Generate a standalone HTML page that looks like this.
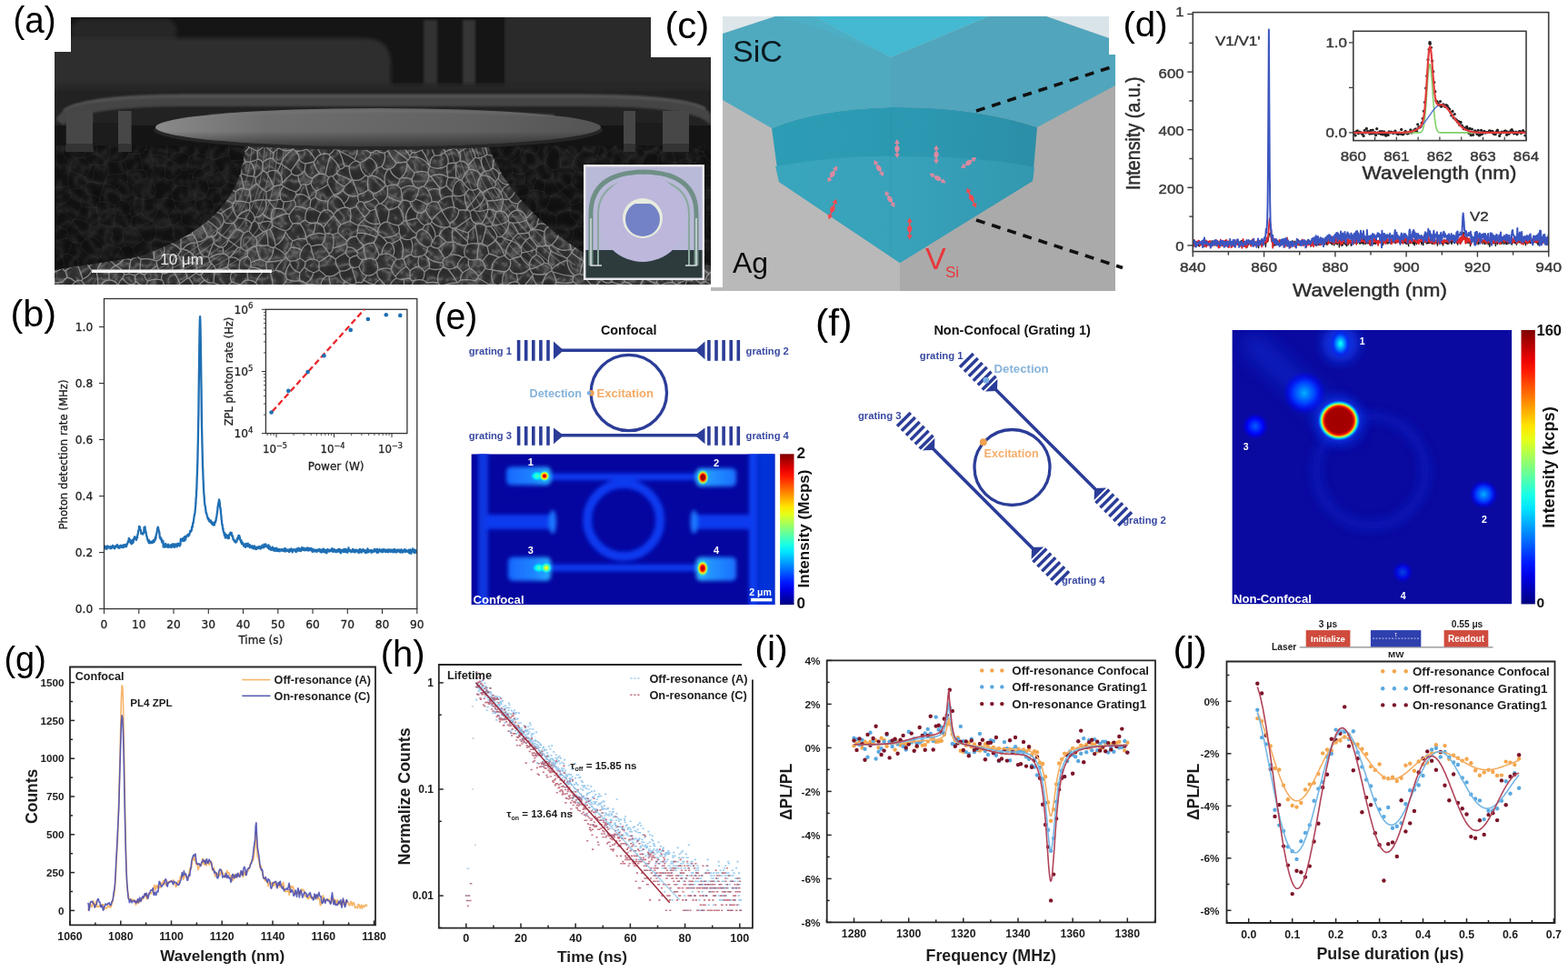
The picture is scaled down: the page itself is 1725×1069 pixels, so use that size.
<!DOCTYPE html>
<html><head><meta charset="utf-8"><title>Figure</title>
<style>html,body{margin:0;padding:0;background:#fff;} svg{display:block;}</style></head>
<body><svg width="1725" height="1069" viewBox="0 0 1725 1069">
<rect width="1725" height="1069" fill="#fff"/>
<defs>
<clipPath id="clipA"><path d="M78,19 H716 V63 H782 V313 H60 V57 H78 Z"/></clipPath>
<filter id="semTex" x="0" y="0" width="1" height="1" color-interpolation-filters="sRGB">
  <feTurbulence type="turbulence" baseFrequency="0.07 0.065" numOctaves="2" seed="7" result="t"/>
  <feColorMatrix in="t" type="matrix" values="1 0 0 0 0  1 0 0 0 0  1 0 0 0 0  0 0 0 0 1" result="g"/>
  <feComponentTransfer in="g" result="c">
    <feFuncR type="table" tableValues="0.40 0.32 0.25 0.21 0.19 0.18 0.17 0.17 0.16 0.16 0.16 0.16"/>
    <feFuncG type="table" tableValues="0.40 0.32 0.25 0.21 0.19 0.18 0.17 0.17 0.16 0.16 0.16 0.16"/>
    <feFuncB type="table" tableValues="0.40 0.32 0.25 0.21 0.19 0.18 0.17 0.17 0.16 0.16 0.16 0.16"/>
  </feComponentTransfer>
  <feGaussianBlur in="c" stdDeviation="0.6" result="b"/>
  <feComposite in="b" in2="SourceGraphic" operator="in"/>
</filter>
<filter id="semTex2" x="0" y="0" width="1" height="1" color-interpolation-filters="sRGB">
  <feTurbulence type="turbulence" baseFrequency="0.06" numOctaves="2" seed="11" result="t"/>
  <feColorMatrix in="t" type="matrix" values="1 0 0 0 0  1 0 0 0 0  1 0 0 0 0  0 0 0 0 1" result="g"/>
  <feComponentTransfer in="g" result="c">
    <feFuncR type="table" tableValues="0.16 0.11 0.08 0.068 0.063 0.06 0.06 0.06"/>
    <feFuncG type="table" tableValues="0.16 0.11 0.08 0.068 0.063 0.06 0.06 0.06"/>
    <feFuncB type="table" tableValues="0.16 0.11 0.08 0.068 0.063 0.06 0.06 0.06"/>
  </feComponentTransfer>
  <feGaussianBlur in="c" stdDeviation="0.8" result="b"/>
  <feComposite in="b" in2="SourceGraphic" operator="in"/>
</filter>
<filter id="blur2"><feGaussianBlur stdDeviation="2"/></filter>
<filter id="blur4"><feGaussianBlur stdDeviation="4"/></filter>
<filter id="blur1"><feGaussianBlur stdDeviation="1"/></filter>
<filter id="blurV" x="-5%" y="-5%" width="110%" height="110%"><feGaussianBlur stdDeviation="0.65"/></filter>
<linearGradient id="diskG" x1="0" y1="0" x2="1" y2="0">
  <stop offset="0" stop-color="#8a8a8a"/><stop offset="0.25" stop-color="#6e6e6e"/>
  <stop offset="0.7" stop-color="#626262"/><stop offset="1" stop-color="#545454"/>
</linearGradient>
<linearGradient id="diskV" x1="0" y1="0" x2="0" y2="1">
  <stop offset="0" stop-color="#000" stop-opacity="0"/><stop offset="0.6" stop-color="#000" stop-opacity="0"/>
  <stop offset="1" stop-color="#000" stop-opacity="0.45"/>
</linearGradient>
<linearGradient id="ringG" x1="0" y1="0" x2="0" y2="1">
  <stop offset="0" stop-color="#333"/><stop offset="0.5" stop-color="#484848"/><stop offset="1" stop-color="#3a3a3a"/>
</linearGradient>

</defs>
<g clip-path="url(#clipA)">
<rect x="60" y="19" width="722" height="294" fill="#161616"/>
<rect x="60" y="19" width="722" height="90" fill="#151515"/>
<rect x="79" y="21" width="115" height="34" rx="12" fill="#282828" filter="url(#blur2)"/>
<path d="M50,42 L400,42 Q430,42 430,70 L430,100 L50,100 Z" fill="#2d2d2d" filter="url(#blur2)"/>
<rect x="555" y="15" width="235" height="92" fill="#2a2a2a" filter="url(#blur1)"/>
<rect x="466" y="22" width="15" height="75" fill="#333" filter="url(#blur1)"/>
<rect x="509" y="22" width="14" height="78" fill="#363636" filter="url(#blur1)"/>
<rect x="60" y="92" width="722" height="14" fill="#262626" filter="url(#blur2)"/>
<rect x="60" y="100" width="722" height="40" fill="#222"/>
<path d="M62,132 Q68,104 200,103 L640,103 Q774,104 782,126 L782,138 Q768,117 640,117 L200,117 Q84,118 70,138 Z" fill="#444" filter="url(#blur1)"/>
<path d="M70,122 Q84,107 200,106 L640,106 Q760,107 776,120" fill="none" stroke="#565656" stroke-width="2.5" filter="url(#blur1)"/>
<rect x="60" y="138" width="722" height="176" fill="#141414"/>
<rect x="60" y="160" width="722" height="153" fill="#fff" filter="url(#semTex2)"/>
<clipPath id="pedClip"><path d="M270,160 L537,160 C555,210 600,252 645,280 L782,292 L782,313 L60,313 L60,297 L150,283 C235,255 266,215 270,160 Z"/></clipPath>
<g clip-path="url(#pedClip)"><rect x="60" y="160" width="722" height="153" fill="#fff" filter="url(#semTex)"/>
<path d="M60,311Q56,313 56,318M60,311Q60,305 58,300M69,310Q65,311 60,311M69,256Q65,254 60,252M69,256Q70,263 69,269M60,252Q59,258 55,262M55,262Q58,266 57,270M69,269Q63,271 57,270M69,295Q70,298 72,298M69,295Q64,298 58,300M69,310Q71,307 74,305M72,298Q73,301 74,305M56,274Q60,277 60,282M73,270Q70,277 73,283M73,270Q71,269 69,269M73,283Q72,285 69,287M69,287Q64,285 60,282M57,270Q56,272 56,274M69,295Q70,291 69,287M60,252Q59,249 59,245M72,256Q74,252 78,250M72,256Q74,264 81,266M78,250Q83,251 88,252M81,266Q82,266 83,266M83,266Q86,262 89,258M89,258Q88,255 88,252M69,256Q71,256 72,256M72,240Q66,243 59,245M72,240Q73,246 78,250M73,270Q76,266 81,266M72,240Q74,238 75,237M75,237Q81,238 87,239M88,252Q88,249 90,247M90,247Q87,244 87,239M96,246Q93,246 90,247M96,246Q98,239 101,232M87,239Q91,236 92,230M101,232Q97,231 92,230M101,232Q104,230 108,230M94,215Q90,219 87,223M94,215Q101,217 108,218M87,223Q91,226 92,230M108,230Q106,224 108,218M107,249Q109,248 110,247M107,249Q101,247 96,246M108,230Q110,231 111,233M110,247Q113,240 111,233M107,249Q107,252 106,255M89,258Q95,258 100,262M100,262Q102,257 106,255M787,290Q787,294 785,298M782,280Q783,286 787,290M782,280Q782,280 783,279M649,148Q645,147 642,149M524,246Q519,244 518,239M524,246Q527,246 530,246M518,239Q518,236 517,233M517,233Q518,233 519,231M519,231Q529,234 537,230M537,230Q535,239 530,246M74,305Q79,306 83,310M79,319Q78,313 83,310M98,321Q98,321 97,321M199,154Q200,154 201,155M211,152Q206,153 201,155M63,157Q67,150 75,150M63,157Q57,154 56,148M181,146Q174,151 171,159M166,155Q170,156 171,159M199,154Q195,155 191,157M191,157Q183,154 181,146M191,157Q189,161 187,164M187,164Q180,162 175,168M175,168Q172,164 171,159M155,155Q160,159 166,155M155,155Q154,154 152,153M151,150Q151,152 152,153M155,155Q157,161 156,167M175,168Q175,168 175,168M175,168Q169,171 164,172M156,167Q161,168 164,172M178,180Q184,184 191,181M178,180Q175,182 176,185M191,181Q192,185 191,189M191,189Q186,192 179,193M179,193Q178,188 176,185M91,207Q88,207 87,204M91,207Q94,211 94,215M87,204Q84,206 81,205M87,223Q84,222 81,222M81,205Q76,214 81,222M75,237Q75,231 74,225M81,222Q78,225 74,225M125,216Q125,216 125,216M125,216Q127,221 132,223M125,216Q126,225 121,233M132,223Q134,227 135,231M135,231Q130,233 124,234M124,234Q122,234 121,233M136,206Q133,205 131,207M136,206Q138,208 141,209M131,207Q127,211 125,216M141,209Q143,213 141,217M141,217Q137,221 132,223M108,217Q117,215 125,216M108,217Q108,217 108,218M111,233Q116,233 121,233M140,232Q141,230 143,227M140,232Q138,231 135,231M141,217Q142,222 143,227M143,244Q134,245 126,244M143,244Q142,242 143,239M126,244Q127,239 124,234M143,239Q142,235 140,232M126,244Q126,249 122,251M122,251Q115,251 110,247M83,266Q85,271 88,275M100,262Q101,265 102,268M102,268Q97,276 88,275M73,283Q81,287 89,283M88,275Q89,279 89,283M122,251Q121,256 125,259M106,255Q108,259 113,261M113,261Q119,263 125,259M782,280Q778,287 770,289M785,298Q782,299 780,301M780,301Q773,297 770,289M780,301Q776,305 776,310M785,317Q782,312 776,310M784,225Q786,234 787,244M690,192Q693,189 698,189M690,192Q683,185 685,176M698,189Q701,184 699,180M699,180Q691,181 686,175M685,176Q686,176 686,175M689,193Q688,200 693,205M689,193Q689,192 690,192M693,205Q699,201 707,202M698,189Q704,189 709,192M709,192Q707,197 707,202M265,149Q261,149 258,152M258,152Q255,152 251,151M243,150Q243,149 242,148M243,150Q246,150 248,151M251,151Q250,152 248,151M143,244Q144,245 144,246M125,259Q126,261 127,262M127,262Q129,260 131,259M144,246Q141,256 131,259M128,267Q127,264 127,262M128,267Q131,267 132,270M132,270Q139,268 145,270M145,270Q145,265 148,262M131,259Q139,262 148,262M656,192Q655,186 657,180M656,192Q650,195 644,195M644,195Q642,188 637,182M637,182Q637,182 637,182M657,180Q647,179 637,182M698,323Q699,322 699,321M693,205Q693,207 691,209M691,209Q692,215 697,220M707,202Q709,207 713,210M713,210Q713,210 713,211M713,211Q707,216 701,221M697,220Q699,220 701,221M559,243Q551,248 541,248M559,243Q560,243 560,244M560,244Q560,254 552,260M541,248Q541,249 540,249M540,249Q545,254 547,260M552,260Q550,261 547,260M559,239Q560,241 559,243M559,239Q562,232 569,231M569,231Q577,232 579,240M579,240Q579,241 579,242M563,245Q571,246 579,242M563,245Q561,245 560,244M563,265Q565,260 570,257M563,265Q557,264 552,260M563,245Q568,250 570,257M563,265Q563,265 563,265M545,264Q547,262 547,260M545,264Q552,272 555,281M555,281Q555,281 556,282M563,265Q556,272 556,282M537,230Q537,230 537,230M535,249Q537,249 540,249M535,249Q533,247 530,246M541,248Q544,241 546,233M537,230Q542,230 546,233M559,239Q557,233 551,232M551,232Q549,232 546,233M280,148Q278,153 272,154M280,148Q287,148 292,154M283,166Q278,164 274,162M283,166Q288,164 291,159M272,154Q271,158 274,162M292,154Q290,156 291,159M265,149Q268,152 272,154M298,149Q294,150 292,154M300,174Q301,171 301,168M300,174Q293,174 289,179M289,179Q288,176 284,175M284,175Q283,170 283,166M301,168Q295,165 291,159M266,168Q268,173 270,178M266,168Q263,167 260,167M260,167Q258,168 257,168M257,168Q254,175 257,181M257,181Q260,185 265,185M265,185Q266,181 270,178M284,175Q280,177 275,178M275,178Q273,178 270,178M274,162Q271,167 266,168M258,152Q263,159 260,167M250,167Q253,168 257,168M250,167Q247,160 248,151M244,170Q247,170 250,167M244,170Q240,175 239,180M239,180Q242,182 245,186M245,186Q251,183 257,181M57,206Q62,200 68,194M68,194Q68,193 68,193M89,196Q84,193 81,189M89,196Q86,199 87,204M74,204Q78,205 81,205M74,204Q71,199 68,194M68,193Q69,191 72,189M81,189Q76,189 72,189M132,270Q131,278 136,285M145,270Q150,273 151,280M151,280Q151,281 151,282M151,282Q147,283 144,286M136,285Q140,284 144,286M111,314Q114,308 120,308M111,314Q110,314 108,314M107,298Q114,296 120,301M107,298Q107,298 106,298M120,308Q120,304 120,301M106,298Q108,306 108,314M83,310Q86,307 90,309M98,321Q98,319 98,317M90,309Q93,314 98,317M98,317Q103,316 108,314M192,282Q195,282 196,280M192,282Q189,289 190,297M196,280Q198,286 203,291M190,297Q190,298 190,298M190,298Q195,297 201,297M201,297Q202,294 203,291M172,287Q177,286 179,281M172,287Q172,290 173,292M179,281Q186,278 192,282M179,301Q174,298 173,292M179,301Q185,301 190,297M229,236Q224,234 220,230M229,236Q228,239 227,242M227,242Q225,245 221,246M217,232Q218,231 220,230M217,232Q216,240 210,245M221,246Q216,245 211,247M210,245Q210,246 211,247M236,231Q236,226 236,221M236,231Q232,232 229,236M219,224Q219,227 220,230M219,224Q223,219 229,218M229,218Q233,218 236,221M239,255Q239,253 240,252M239,255Q238,260 233,260M240,252Q234,246 227,242M233,260Q231,261 228,260M228,260Q226,253 221,246M228,260Q224,266 217,266M211,247Q211,252 212,258M212,258Q215,261 217,266M202,242Q199,245 196,246M202,242Q205,246 210,245M196,246Q194,250 194,255M212,258Q205,259 199,262M194,255Q195,260 199,262M201,274Q200,274 199,274M201,274Q207,266 217,267M217,267Q217,266 217,266M199,262Q199,268 199,274M238,162Q238,159 238,156M238,162Q228,162 221,168M238,156Q231,157 226,154M226,154Q222,157 220,162M220,162Q219,164 220,167M221,168Q221,168 220,167M244,170Q242,165 238,162M243,150Q240,152 238,156M233,181Q236,180 239,180M233,181Q230,172 221,168M225,147Q227,150 226,154M211,152Q217,156 220,162M109,150Q102,151 98,157M98,157Q95,154 92,154M92,149Q91,151 92,154M75,150Q80,152 84,156M84,156Q88,155 92,154M109,150Q112,149 115,151M105,194Q110,193 113,189M105,194Q103,198 105,201M113,189Q117,196 123,201M105,201Q108,203 109,207M109,207Q117,205 123,201M123,201Q123,201 123,201M89,196Q94,195 97,191M91,207Q98,204 105,201M97,191Q100,193 105,194M108,217Q110,212 109,207M131,207Q126,205 123,201M136,206Q140,199 141,190M128,188Q135,190 141,190M128,188Q126,194 123,201M128,188Q123,184 120,179M113,189Q113,188 114,187M114,187Q116,183 120,179M175,168Q175,174 178,180M164,172Q161,178 160,183M176,185Q168,185 160,187M160,183Q161,185 160,187M187,164Q190,170 195,173M191,181Q193,179 195,177M195,173Q196,175 195,177M201,155Q204,160 205,165M195,173Q198,167 205,165M220,167Q217,168 215,170M205,165Q211,165 215,170M73,224Q68,221 67,216M67,216Q65,216 63,215M60,217Q61,215 63,215M74,204Q70,209 67,216M74,225Q73,225 73,224M57,206Q63,209 63,215M141,190Q141,190 141,190M141,209Q147,208 153,210M141,190Q147,188 152,192M153,210Q155,201 152,192M143,227Q150,227 155,222M153,210Q153,210 154,211M155,222Q155,216 154,211M108,272Q106,279 99,283M108,272Q108,272 108,272M108,272Q114,272 118,277M99,283Q106,284 111,289M111,289Q115,286 119,283M119,283Q117,280 118,277M102,268Q105,270 108,272M113,261Q110,266 108,272M128,267Q124,272 118,277M127,292Q121,295 120,301M127,292Q122,288 119,283M107,298Q108,293 111,289M127,292Q127,292 127,292M127,292Q133,290 136,285M730,154Q725,151 719,154M719,146Q721,150 719,154M756,155Q760,154 764,151M756,155Q755,156 754,155M751,156Q752,155 754,155M774,152Q769,150 764,151M774,152Q774,154 775,155M756,155Q761,158 763,163M763,163Q765,164 768,165M768,165Q771,163 775,165M775,155Q774,160 775,165M763,163Q759,170 755,178M768,165Q760,170 762,180M755,178Q757,179 759,180M759,180Q760,180 762,180M709,192Q709,191 709,191M713,210Q719,208 724,205M724,205Q721,199 721,193M721,193Q715,192 709,191M706,173Q703,177 699,180M706,173Q710,177 711,182M711,182Q710,186 709,191M725,189Q725,184 725,180M725,189Q723,191 721,193M711,182Q718,182 724,179M724,179Q725,179 725,180M755,178Q750,184 742,185M755,178Q749,172 745,164M742,185Q736,183 735,177M735,177Q734,171 738,166M745,164Q741,164 738,166M750,198Q752,195 756,194M750,198Q746,194 742,189M742,189Q742,187 742,185M755,178Q755,178 755,178M756,194Q754,186 759,180M751,156Q749,161 745,164M735,193Q731,190 725,189M735,193Q738,190 742,189M725,180Q730,178 735,177M720,167Q727,167 733,163M720,167Q724,173 724,179M733,163Q736,163 738,166M730,154Q734,158 733,163M784,225Q783,224 782,224M780,244Q783,242 787,244M780,244Q774,241 771,235M782,224Q775,228 771,235M765,208Q763,211 761,211M765,208Q771,207 775,210M761,211Q761,217 765,222M765,222Q772,225 777,221M775,210Q773,216 777,221M750,198Q750,199 750,199M756,194Q762,195 768,196M768,196Q766,202 765,208M750,199Q751,206 756,210M756,210Q759,210 761,211M783,204Q779,206 775,210M782,224Q780,222 777,221M756,256Q758,254 760,254M756,256Q755,264 759,271M760,254Q766,258 772,261M762,275Q760,273 759,271M762,275Q769,273 773,267M772,261Q773,262 774,264M773,267Q773,266 774,264M746,266Q747,262 746,257M746,266Q752,268 759,271M748,256Q747,257 746,257M748,256Q752,258 756,256M777,248Q772,254 772,261M777,248Q769,247 762,244M762,244Q760,249 760,254M784,261Q779,262 774,264M780,244Q778,246 777,248M783,279Q775,276 773,267M706,169Q700,167 694,165M706,169Q711,168 713,164M707,152Q699,150 693,155M707,152Q711,154 713,159M694,165Q691,161 693,155M713,164Q714,161 713,159M706,173Q706,171 706,169M687,172Q687,173 686,175M687,172Q691,169 694,165M720,167Q717,165 713,164M688,150Q689,153 693,155M688,150Q688,147 689,145M719,154Q716,157 713,159M643,161Q646,166 652,167M643,161Q637,167 630,173M652,167Q648,178 637,181M637,181Q634,178 631,176M630,173Q631,174 631,176M644,195Q644,197 643,198M637,182Q633,189 627,193M643,198Q642,199 641,200M641,200Q634,199 627,202M627,193Q626,198 627,202M240,252Q245,250 246,244M236,231Q239,234 243,235M246,244Q247,239 243,235M239,255Q245,260 251,263M257,245Q251,247 246,244M257,245Q259,249 260,252M260,252Q255,257 251,263M235,267Q236,263 233,260M235,267Q239,272 245,272M251,263Q251,264 251,264M245,272Q250,270 251,264M255,207Q253,201 258,196M255,207Q249,208 244,207M244,207Q243,206 242,205M242,205Q244,198 246,190M258,196Q251,196 246,190M246,190Q246,190 246,190M226,201Q225,202 224,205M226,201Q234,205 242,205M224,205Q224,212 229,218M241,217Q239,219 236,221M241,217Q241,212 244,207M226,199Q236,194 246,190M226,199Q226,200 226,201M233,181Q231,184 229,186M229,186Q229,192 226,197M226,199Q227,198 226,197M245,186Q245,188 246,190M282,202Q280,198 282,195M282,202Q278,205 274,208M266,191Q265,191 265,193M266,191Q272,194 279,194M265,193Q267,200 268,207M274,208Q271,209 268,207M279,194Q280,195 282,195M265,185Q266,188 266,191M258,196Q261,193 265,193M275,178Q282,185 279,194M259,211Q263,207 268,207M259,211Q256,210 255,207M289,179Q289,184 289,188M289,188Q286,192 282,195M370,321Q370,321 369,321M366,273Q374,271 381,268M366,273Q368,265 366,258M366,258Q369,257 372,256M372,256Q377,261 382,265M382,265Q381,266 381,268M195,194Q201,196 206,192M195,194Q197,202 190,208M206,192Q207,200 211,207M190,208Q190,208 190,208M190,208Q197,210 204,209M204,209Q207,208 211,207M127,292Q134,295 137,302M144,286Q142,293 142,301M142,301Q140,302 137,302M511,151Q512,148 511,145M511,151Q514,156 519,159M527,155Q523,157 519,159M462,150Q469,153 469,160M469,160Q472,161 474,161M479,157Q476,158 474,161M500,158Q495,154 492,149M500,158Q499,160 500,163M500,163Q495,164 490,167M490,167Q486,162 484,156M492,149Q489,154 484,156M511,151Q506,155 500,158M479,157Q481,156 484,156M523,173Q522,167 518,161M523,173Q519,177 515,182M518,161Q511,163 505,168M515,182Q512,177 506,177M506,177Q508,172 505,168M519,159Q518,160 518,161M500,163Q503,165 505,168M516,186Q511,191 508,198M516,186Q515,184 515,182M502,196Q501,188 502,179M502,196Q504,196 505,198M508,198Q507,198 505,198M502,179Q504,178 506,177M567,169Q573,165 580,166M567,169Q567,164 564,162M564,162Q564,161 565,160M565,160Q574,159 581,156M581,156Q582,161 580,166M673,195Q681,195 689,193M673,195Q674,192 672,189M685,176Q682,177 679,178M672,189Q675,182 679,178M652,167Q653,167 654,167M657,180Q660,179 661,175M637,182Q637,181 637,181M661,175Q660,174 661,173M654,167Q659,168 661,173M643,161Q640,157 641,151M649,148Q654,151 659,153M641,151Q641,150 642,149M654,167Q658,160 659,153M659,153Q661,152 663,151M639,318Q640,318 641,318M630,309Q635,313 639,318M630,309Q630,311 627,311M700,318Q700,320 699,321M700,318Q695,311 687,310M687,310Q685,311 683,313M671,311Q672,310 673,310M683,313Q678,312 673,310M687,310Q687,306 688,303M688,303Q684,303 680,301M673,310Q672,305 676,301M676,301Q678,302 680,301M691,285Q688,285 685,286M691,285Q690,283 691,281M691,281Q688,276 684,273M685,286Q680,289 675,286M684,273Q678,277 671,275M671,275Q673,281 675,286M701,260Q699,263 700,266M701,260Q698,261 696,259M700,266Q692,271 691,281M684,264Q689,260 696,259M684,264Q686,268 684,273M621,210Q627,219 638,219M621,210Q622,220 616,229M638,219Q637,226 632,230M616,229Q618,231 621,231M621,231Q626,230 630,232M632,230Q631,231 630,232M545,264Q542,268 536,271M535,249Q533,259 530,268M536,271Q533,270 530,268M523,249Q523,247 524,246M523,249Q525,258 526,268M526,268Q527,268 527,268M530,268Q528,268 527,268M534,295Q533,291 531,287M534,295Q537,297 541,296M541,296Q541,287 549,283M531,287Q534,282 538,279M549,283Q543,280 538,279M560,295Q563,291 561,286M560,295Q559,298 555,299M555,281Q552,282 549,283M556,282Q558,284 561,286M555,299Q549,298 542,297M542,297Q541,297 541,296M525,285Q525,276 527,268M525,285Q528,285 531,287M536,271Q537,275 538,279M557,314Q555,314 553,312M553,312Q550,312 548,314M555,299Q552,305 553,312M542,297Q539,305 543,312M543,312Q546,313 548,314M570,257Q576,257 582,256M579,242Q581,247 584,252M582,256Q582,254 584,253M584,252Q584,253 584,253M569,231Q569,227 570,224M579,240Q583,237 586,233M570,224Q573,219 579,219M579,219Q582,221 585,223M586,233Q583,228 585,223M599,217Q593,215 591,209M599,217Q599,218 599,218M599,218Q598,219 597,220M579,219Q580,215 579,212M591,209Q584,209 579,212M585,223Q592,223 597,220M551,232Q553,226 554,219M570,224Q563,224 560,219M554,219Q557,220 560,219M516,186Q524,186 529,192M508,198Q511,204 516,208M516,208Q521,211 526,207M529,192Q529,193 529,193M529,193Q524,200 526,207M514,229Q511,222 511,214M514,229Q522,220 529,210M516,208Q513,211 511,214M529,210Q528,209 526,207M533,188Q538,189 542,185M533,188Q528,181 530,173M542,185Q542,180 544,174M530,173Q533,172 536,170M536,170Q539,171 542,171M542,171Q543,172 544,174M529,192Q531,190 533,188M523,173Q526,175 530,173M530,156Q535,162 536,170M530,156Q528,156 527,155M543,312Q541,313 538,313M307,163Q306,159 303,155M307,163Q314,168 322,164M303,155Q310,157 317,154M322,164Q322,162 322,160M322,160Q321,156 317,154M301,168Q303,165 307,163M298,149Q299,154 303,155M300,174Q303,180 309,180M322,164Q322,164 323,164M323,164Q313,170 309,180M289,188Q291,188 293,190M293,190Q298,186 305,188M305,188Q308,184 309,180M309,180Q309,180 309,180M81,189Q85,184 88,178M72,189Q73,186 72,182M72,182Q80,178 88,178M71,171Q69,174 71,178M71,171Q65,171 60,166M60,166Q60,167 59,167M72,182Q72,180 71,178M63,157Q59,161 60,166M84,156Q80,161 80,167M80,167Q75,168 71,171M101,298Q98,304 91,307M101,298Q96,292 94,285M91,307Q89,300 86,293M86,293Q89,289 90,284M90,284Q92,285 94,285M106,298Q104,297 101,298M90,309Q90,308 91,307M99,283Q97,285 94,285M72,298Q78,292 86,293M89,283Q90,283 90,284M179,268Q183,269 187,267M179,268Q177,267 176,265M176,265Q176,261 178,257M187,267Q186,261 191,257M178,257Q185,257 191,257M179,281Q183,275 179,268M196,280Q198,278 199,275M199,275Q194,269 187,267M194,255Q192,255 191,257M199,275Q199,275 199,274M185,242Q191,241 196,246M185,242Q181,247 176,250M176,250Q175,255 178,257M172,287Q171,287 169,286M169,286Q171,278 166,272M176,265Q174,265 171,265M166,272Q170,270 171,265M155,285Q162,284 169,286M155,285Q153,284 151,282M151,280Q153,274 158,271M166,272Q162,272 158,271M125,155Q126,154 129,154M125,155Q122,163 126,170M129,154Q135,157 138,162M126,170Q131,164 138,162M130,151Q130,153 129,154M121,155Q123,156 125,155M121,155Q117,154 115,151M121,155Q118,164 111,169M125,176Q126,173 126,170M125,176Q122,177 120,179M120,179Q114,175 111,169M152,153Q144,156 139,163M139,163Q139,163 138,162M139,175Q141,171 140,167M139,175Q139,177 141,178M141,178Q145,179 149,177M140,167Q148,165 154,168M154,168Q151,173 149,177M139,163Q140,165 140,167M125,176Q132,172 139,175M120,179Q120,179 120,179M141,190Q142,184 141,178M160,183Q153,183 149,177M160,187Q160,188 160,189M152,192Q157,192 160,189M156,167Q155,167 154,168M214,173Q208,175 202,179M214,173Q216,178 215,184M202,179Q203,186 207,192M215,184Q214,187 212,189M212,189Q209,190 207,192M195,177Q198,179 202,179M215,170Q214,171 214,173M229,186Q222,185 215,184M191,189Q192,192 195,194M206,192Q207,192 207,192M226,197Q218,195 212,189M224,205Q217,203 212,207M212,207Q211,207 211,207M162,245Q167,246 169,250M162,245Q155,246 150,251M169,250Q166,255 163,260M150,251Q150,254 152,257M152,257Q156,257 158,261M158,261Q161,259 163,260M176,250Q175,250 175,250M175,250Q172,251 169,250M171,265Q167,263 163,260M144,246Q147,249 150,251M148,262Q150,260 152,257M158,271Q161,266 158,261M161,227Q165,221 172,220M161,227Q161,230 161,232M161,232Q162,234 164,235M164,235Q167,236 171,236M171,236Q175,233 180,233M172,220Q174,224 179,225M179,225Q177,229 180,233M143,239Q154,239 161,232M155,222Q158,225 161,227M162,245Q166,240 164,235M175,250Q176,242 171,236M182,234Q184,238 185,242M182,234Q181,233 180,233M190,217Q190,224 196,226M190,217Q186,224 179,225M196,226Q187,227 182,234M165,198Q164,203 161,208M165,198Q171,200 178,198M161,208Q166,211 172,213M172,213Q175,207 181,205M181,205Q178,203 178,198M160,189Q161,194 165,198M154,211Q158,211 161,208M179,193Q177,195 178,198M172,220Q172,217 172,213M190,217Q189,213 190,208M190,208Q186,205 181,205M746,266Q745,267 745,268M745,268Q743,274 746,280M762,275Q759,278 760,282M760,282Q752,284 746,280M770,289Q769,289 768,289M768,289Q765,285 760,283M760,282Q759,283 760,283M776,310Q773,310 771,312M771,312Q767,309 764,307M768,289Q769,296 763,301M764,307Q762,304 763,301M760,283Q754,286 754,293M763,301Q758,298 754,293M783,204Q783,204 783,204M750,199Q743,202 738,207M756,210Q748,213 745,220M738,207Q745,212 745,220M735,193Q736,200 731,205M738,207Q734,207 731,205M724,205Q727,205 729,206M731,205Q730,206 729,206M641,151Q633,157 624,155M624,155Q624,154 623,154M591,209Q595,203 595,195M576,205Q579,208 579,212M576,205Q585,199 595,195M595,195Q595,195 595,195M576,205Q574,202 571,201M571,201Q573,193 576,184M576,184Q577,184 579,184M595,195Q588,188 579,184M631,176Q624,179 619,186M627,193Q623,192 621,189M619,186Q619,188 621,189M504,311Q504,311 503,311M487,323Q486,322 486,321M486,321Q486,318 485,315M485,315Q494,311 503,311M462,150Q458,155 452,157M469,160Q467,163 464,165M464,165Q459,168 453,168M452,157Q450,163 453,168M447,146Q445,149 443,152M452,157Q447,155 443,152M436,149Q437,151 437,153M443,152Q440,154 437,153M414,157Q416,153 421,150M414,157Q410,151 403,150M420,146Q421,148 421,150M403,150Q403,149 403,149M322,160Q325,156 328,152M329,145Q329,149 328,152M259,211Q259,216 259,221M276,222Q275,223 274,223M276,222Q276,215 274,208M274,223Q267,221 259,221M241,217Q249,220 257,224M259,221Q257,222 257,224M243,235Q249,230 256,227M257,224Q256,225 256,227M190,298Q195,304 198,312M201,297Q206,300 206,306M206,306Q202,309 198,312M369,321Q362,314 362,304M362,304Q360,303 359,304M359,304Q353,307 353,314M214,221Q213,227 208,230M214,221Q214,220 213,220M213,220Q208,224 202,223M208,230Q205,232 201,233M202,223Q201,225 198,227M201,233Q198,231 198,227M219,224Q216,224 214,221M217,232Q213,228 208,230M212,207Q216,213 213,220M204,209Q199,215 202,223M202,242Q200,238 201,233M196,226Q197,227 198,227M120,308Q127,308 130,314M137,302Q135,304 135,306M130,314Q131,309 135,306M130,314Q130,318 132,322M556,188Q566,192 569,202M556,188Q552,189 549,191M548,196Q549,194 549,191M548,196Q552,203 559,203M559,203Q564,200 569,202M569,202Q569,202 569,202M571,201Q570,201 569,202M559,182Q556,184 556,188M559,182Q562,177 567,178M576,184Q571,182 567,178M557,180Q549,181 544,174M557,180Q558,181 559,182M542,185Q547,187 549,191M545,200Q539,192 529,193M545,200Q547,198 548,196M560,219Q568,213 569,202M530,156Q536,155 542,152M489,168Q484,172 478,171M489,168Q494,173 493,180M492,182Q492,181 493,180M492,182Q483,188 473,183M473,183Q472,175 478,171M474,161Q476,166 478,171M490,167Q490,167 489,168M502,179Q497,179 493,180M502,196Q498,195 493,195M493,195Q493,195 493,195M493,195Q491,188 492,182M473,183Q473,182 472,182M473,183Q473,183 473,183M464,165Q470,173 472,182M667,172Q666,171 665,171M667,172Q673,166 681,166M665,171Q672,164 673,155M681,166Q677,161 676,155M673,155Q674,155 674,155M676,155Q675,155 674,155M661,175Q668,181 672,189M679,178Q673,174 667,172M661,173Q664,173 665,171M687,172Q686,167 681,166M663,151Q669,151 673,155M688,150Q681,150 676,155M676,301Q674,296 670,292M680,301Q684,294 685,286M675,286Q674,290 670,291M670,292Q670,291 670,291M642,302Q647,297 654,297M642,302Q645,308 650,313M661,307Q659,312 655,314M661,307Q659,304 659,300M659,300Q658,297 654,297M650,313Q653,313 655,314M671,311Q665,312 661,307M670,292Q663,294 659,300M641,318Q646,316 650,313M703,258Q703,258 703,258M703,258Q705,253 705,249M703,258Q715,263 728,258M705,249Q709,244 714,244M714,244Q719,249 725,252M725,252Q728,254 728,257M728,257Q728,258 728,258M701,260Q701,258 703,258M696,259Q692,251 683,248M683,248Q684,245 686,244M701,243Q693,243 686,244M701,243Q704,245 705,249M705,228Q702,232 700,238M705,228Q712,233 721,231M701,243Q701,241 700,238M721,231Q719,238 714,244M700,318Q705,314 707,308M719,311Q714,308 709,307M707,308Q708,307 709,307M688,303Q690,299 694,298M707,308Q700,304 694,298M691,285Q692,286 693,287M694,298Q695,292 693,287M685,235Q688,234 692,233M685,235Q682,230 677,228M677,226Q677,227 677,228M677,226Q685,219 696,221M696,221Q696,228 692,233M700,238Q695,237 692,233M686,244Q688,239 685,235M691,209Q688,211 683,210M697,220Q696,220 696,221M683,210Q681,218 677,224M677,224Q677,225 677,226M705,228Q701,225 701,221M615,257Q620,261 626,265M615,257Q613,264 607,269M607,269Q616,278 628,274M626,265Q628,269 628,274M648,243Q641,247 634,246M648,243Q646,253 642,262M642,262Q637,259 633,254M633,254Q633,252 632,249M632,249Q633,247 634,246M624,249Q628,249 632,249M624,249Q619,249 615,252M615,252Q614,255 615,257M626,265Q630,260 633,254M621,231Q627,239 624,249M630,232Q636,237 634,246M609,246Q610,243 608,239M609,246Q607,248 605,249M605,249Q598,244 591,247M608,239Q603,239 598,237M591,247Q591,241 596,237M596,237Q597,237 598,237M615,229Q613,235 608,239M615,229Q615,229 616,229M615,252Q612,249 609,246M599,255Q592,251 584,253M599,255Q600,250 605,249M584,252Q589,252 591,247M599,218Q604,228 615,229M597,220Q602,228 598,237M586,233Q592,234 596,237M582,256Q582,258 583,261M563,265Q569,267 573,273M583,261Q576,265 573,273M561,286Q566,283 573,282M573,282Q573,280 574,278M573,273Q574,275 574,278M627,311Q619,312 612,310M611,322Q609,320 608,318M612,310Q611,314 608,318M560,295Q563,301 568,301M557,314Q562,309 569,310M568,301Q570,306 569,310M569,310Q572,313 575,316M583,261Q588,266 591,271M574,278Q582,277 590,274M591,271Q591,273 590,274M599,255Q598,263 601,270M591,271Q596,271 601,270M607,269Q605,270 604,271M601,270Q603,270 604,271M551,212Q553,215 553,219M551,212Q549,208 544,206M553,219Q545,221 536,221M544,206Q537,207 531,212M536,221Q535,218 533,217M533,217Q532,214 531,212M554,219Q553,219 553,219M559,203Q553,206 551,212M545,200Q546,203 544,206M537,230Q536,225 536,221M529,210Q530,211 531,212M519,231Q530,227 533,217M514,231Q513,230 514,229M514,231Q516,231 517,233M523,309Q524,307 526,306M523,309Q515,307 507,308M517,295Q523,298 526,304M517,295Q513,297 509,300M526,304Q526,305 526,306M509,300Q506,304 507,308M538,313Q532,309 526,306M504,311Q505,309 507,308M516,285Q520,287 525,285M516,285Q514,290 517,295M534,295Q531,300 526,304M503,293Q504,287 509,283M503,293Q506,296 509,300M509,283Q510,283 512,282M516,285Q514,284 512,282M503,293Q498,296 493,296M503,311Q499,303 493,296M347,149Q344,152 346,155M328,152Q336,155 346,155M346,155Q346,155 346,155M329,175Q329,170 325,166M329,175Q331,179 336,180M336,180Q341,179 345,178M325,166Q331,167 337,164M337,164Q343,168 347,176M347,176Q346,177 345,178M323,164Q324,166 325,166M320,188Q325,181 329,175M320,188Q315,184 309,180M335,188Q336,184 336,180M335,188Q337,195 344,196M352,191Q347,192 344,196M352,191Q347,186 345,178M345,157Q346,156 346,155M345,157Q339,158 337,164M345,157Q350,163 353,170M353,170Q349,171 347,176M363,172Q363,171 362,170M363,172Q360,182 358,192M358,192Q355,191 352,191M353,170Q358,168 362,170M89,178Q85,173 81,168M89,178Q92,178 94,179M81,168Q92,174 103,168M94,179Q96,177 98,176M98,176Q101,172 103,168M103,168Q103,168 103,168M80,167Q81,167 81,168M88,178Q88,178 89,178M97,191Q99,184 94,179M98,157Q103,161 103,168M114,187Q105,182 98,176M111,169Q107,168 103,168M764,307Q760,310 756,308M756,308Q752,315 756,321M745,322Q745,322 745,322M756,321Q750,319 745,322M762,180Q766,182 771,183M768,196Q772,195 773,192M773,192Q771,188 771,183M783,204Q779,199 776,194M773,192Q775,193 776,194M630,173Q627,169 624,167M624,155Q622,160 623,166M624,167Q623,166 623,166M599,217Q601,211 606,206M621,209Q620,208 620,208M621,209Q621,209 621,210M606,206Q613,204 620,208M621,209Q624,205 627,202M621,189Q620,193 616,195M620,208Q618,202 616,195M677,250Q680,255 676,261M677,250Q674,246 669,244M669,244Q662,245 658,250M658,250Q661,255 658,261M676,261Q670,262 666,268M666,268Q664,263 658,261M684,264Q681,261 676,261M683,248Q680,249 677,250M669,235Q667,239 669,244M669,235Q675,234 677,228M632,230Q638,237 646,236M648,243Q648,241 649,238M648,243Q648,243 648,243M646,236Q647,237 649,238M638,219Q639,219 641,219M646,236Q645,227 641,219M669,235Q663,233 657,230M648,243Q653,247 658,250M649,238Q655,235 657,230M641,200Q646,208 643,217M641,219Q642,218 643,217M677,224Q675,221 671,220M657,230Q656,225 655,221M671,220Q663,217 655,221M643,217Q648,217 653,218M653,218Q655,219 655,221M672,196Q674,199 673,203M672,196Q666,199 661,195M673,203Q672,208 668,210M661,195Q657,202 657,209M668,210Q663,213 657,211M657,209Q656,210 657,211M673,195Q672,195 672,196M683,210Q678,207 673,203M656,192Q659,194 661,195M671,220Q669,215 668,210M643,198Q653,200 657,209M653,218Q655,214 657,211M447,293Q440,297 435,304M447,293Q449,295 451,298M451,298Q451,302 451,306M451,306Q448,306 444,307M444,307Q440,308 436,306M435,304Q436,305 436,306M445,322Q450,321 453,317M445,322Q443,322 441,321M441,321Q446,315 444,307M451,306Q452,309 455,309M453,317Q453,313 455,309M485,315Q483,313 482,311M493,296Q490,294 487,294M487,294Q487,295 486,295M482,311Q480,302 486,295M482,311Q476,310 470,311M455,309Q460,307 465,308M470,311Q468,309 465,308M370,321Q378,317 379,309M379,309Q384,313 389,313M362,304Q369,304 374,298M379,309Q373,305 374,298M398,311Q395,310 392,311M389,313Q391,312 392,311M398,311Q399,310 400,308M400,308Q406,312 412,313M415,298Q414,304 418,307M415,298Q422,293 430,296M430,296Q432,301 435,304M436,306Q429,310 428,318M418,307Q423,313 428,318M473,183Q471,186 471,190M471,190Q471,192 472,193M493,195Q484,189 474,194M472,193Q473,194 474,194M505,198Q498,202 498,211M511,214Q505,217 498,215M498,215Q498,213 498,211M493,195Q491,199 491,204M498,211Q494,208 491,204M474,194Q479,201 484,207M491,204Q488,207 484,207M495,280Q503,279 509,283M495,280Q501,273 498,266M512,282Q509,276 513,270M498,266Q498,266 498,265M498,265Q505,270 513,270M526,268Q520,267 514,269M514,269Q513,269 513,270M495,280Q493,283 489,284M487,294Q489,291 487,289M489,284Q487,286 487,289M495,249Q494,249 492,250M495,249Q496,251 498,251M492,250Q486,252 483,259M498,266Q494,267 491,266M498,265Q497,258 498,251M483,259Q487,262 491,266M489,284Q486,278 482,273M491,266Q486,270 482,273M443,220Q448,220 451,222M443,220Q442,221 441,222M441,222Q440,225 438,227M453,226Q445,233 447,243M453,226Q451,225 451,222M438,227Q444,234 444,243M444,243Q445,243 447,243M460,234Q458,237 459,240M460,234Q454,232 453,226M459,240Q453,241 447,243M447,243Q447,243 447,243M407,232Q405,236 401,239M407,232Q410,231 413,230M401,239Q401,240 401,241M401,241Q407,248 418,246M418,246Q415,238 413,230M438,248Q442,247 444,243M438,248Q432,247 426,244M438,227Q433,230 428,231M426,244Q428,237 428,231M444,285Q445,289 447,293M444,285Q443,285 442,284M430,296Q432,290 436,285M442,284Q439,286 436,285M374,186Q377,186 379,183M374,186Q370,177 363,172M372,166Q373,166 373,166M372,166Q371,164 368,164M362,170Q366,168 368,164M373,166Q377,174 379,183M403,150Q400,154 399,160M387,158Q389,161 393,162M387,158Q387,158 387,158M399,160Q395,160 393,162M387,158Q378,159 372,166M373,166Q382,170 390,175M393,162Q394,169 390,175M388,198Q388,198 388,198M388,198Q384,191 384,183M402,193Q396,200 388,198M402,193Q396,187 396,179M384,183Q386,179 391,177M396,179Q394,177 391,177M384,183Q381,182 379,183M391,177Q391,176 390,175M373,150Q368,156 368,164M368,164Q364,163 363,158M387,158Q382,151 373,150M346,155Q355,152 363,158M368,164Q368,164 368,164M282,202Q287,207 293,211M293,190Q298,197 301,205M301,205Q298,209 293,211M261,240Q261,240 261,239M261,240Q271,239 277,246M261,239Q266,232 274,231M274,231Q279,234 280,239M280,239Q281,242 280,243M277,246Q278,244 280,243M257,245Q260,243 261,240M256,227Q257,234 261,239M274,254Q276,251 277,246M274,254Q271,255 268,256M260,252Q265,253 268,256M274,223Q276,227 274,231M274,254Q277,259 281,261M284,246Q283,244 280,243M284,246Q285,252 290,255M281,261Q286,258 290,255M268,256Q264,263 265,272M251,264Q257,268 262,272M265,272Q263,273 262,272M281,261Q284,265 282,270M282,270Q282,271 282,271M282,271Q276,271 272,276M265,272Q267,275 272,276M196,315Q191,315 188,320M188,320Q188,321 188,323M206,306Q207,306 208,306M198,312Q196,313 196,315M208,306Q212,311 214,317M179,301Q177,304 178,308M178,308Q180,309 180,312M180,312Q182,318 188,320M362,279Q362,280 362,281M362,279Q359,273 354,269M351,288Q357,285 362,281M351,288Q349,286 346,285M346,285Q343,278 342,271M342,271Q348,269 354,269M358,257Q357,254 356,250M358,257Q358,257 358,258M356,250Q353,246 349,245M347,245Q348,245 349,245M347,245Q347,252 344,258M344,258Q351,255 358,258M362,279Q366,277 366,273M366,258Q362,256 358,257M354,269Q358,264 358,258M337,322Q337,321 337,320M353,314Q345,313 336,312M337,320Q336,316 336,312M351,297Q355,300 359,304M351,297Q348,299 345,300M345,300Q343,308 336,312M336,312Q336,312 336,312M351,288Q351,293 351,297M346,285Q340,284 336,288M345,300Q339,298 335,294M335,294Q336,291 336,288M282,271Q283,279 287,285M272,276Q273,279 272,282M272,282Q276,284 276,289M287,285Q281,286 276,289M293,288Q292,293 294,297M293,288Q290,287 287,285M276,294Q284,294 290,298M276,294Q276,291 276,289M290,298Q291,297 294,297M273,308Q272,303 272,299M273,308Q278,308 281,311M272,299Q273,295 276,294M290,298Q284,304 281,311M394,248Q407,247 416,256M394,248Q394,252 393,256M393,256Q404,256 414,261M414,261Q415,260 416,258M416,258Q416,257 416,256M394,248Q394,248 394,248M394,248Q397,244 401,241M419,247Q418,247 418,246M419,247Q415,251 416,256M392,260Q395,266 400,270M392,260Q393,258 393,256M400,270Q405,267 411,267M411,267Q413,265 414,261M421,261Q431,262 439,256M421,261Q419,259 416,258M439,256Q440,252 438,248M419,247Q422,244 426,244M173,292Q166,297 159,302M178,308Q170,306 163,309M163,309Q159,307 159,302M155,285Q154,292 154,300M159,302Q156,302 154,300M142,301Q145,302 149,303M154,300Q151,301 149,303M543,152Q549,150 554,152M543,152Q546,160 544,168M554,152Q557,157 561,161M561,161Q557,164 553,166M553,166Q549,168 544,168M542,152Q543,152 543,152M542,171Q543,169 544,168M564,162Q562,162 561,161M565,160Q569,154 571,147M567,169Q566,173 567,178M557,180Q557,172 553,166M670,291Q667,285 659,284M654,297Q656,291 652,286M659,284Q656,285 652,286M671,275Q670,272 667,271M659,284Q662,277 667,271M666,268Q666,269 666,269M667,271Q667,270 666,269M642,287Q639,294 638,301M642,287Q646,284 651,285M638,301Q640,303 642,302M651,285Q652,285 652,286M719,291Q724,290 729,288M719,291Q723,295 726,302M729,288Q730,294 730,299M726,302Q727,300 730,299M719,311Q721,312 722,311M709,307Q709,298 713,289M713,289Q717,288 719,291M726,302Q724,306 722,311M726,314Q724,312 722,311M654,262Q654,270 650,278M654,262Q649,261 643,263M643,263Q643,267 640,270M640,270Q646,272 650,278M650,278Q650,278 650,278M658,261Q656,261 654,262M666,269Q658,274 650,278M642,262Q643,262 643,263M630,276Q629,274 628,274M630,276Q634,271 640,270M642,287Q635,283 629,278M629,278Q629,277 630,276M651,285Q651,281 650,278M629,278Q627,281 624,284M604,271Q604,274 606,276M606,276Q615,281 624,284M777,167Q774,172 776,178M771,183Q772,180 776,178M775,165Q775,166 777,167M745,220Q738,214 729,217M745,220Q745,221 745,221M745,221Q744,230 736,234M729,217Q728,223 722,226M736,234Q735,235 734,235M722,226Q723,228 722,230M722,230Q728,231 733,235M734,235Q734,234 733,235M729,206Q730,211 729,217M745,220Q745,220 745,220M713,211Q719,218 722,226M738,253Q739,245 745,239M738,253Q741,243 734,235M745,239Q741,236 736,234M721,231Q721,230 722,230M725,252Q730,243 733,235M738,255Q738,254 738,253M738,255Q733,256 728,257M755,229Q750,234 747,240M755,229Q759,228 762,231M764,234Q764,232 762,231M764,234Q764,239 761,242M761,242Q755,242 748,242M748,242Q748,241 747,240M745,239Q745,240 747,240M745,221Q751,224 755,229M765,222Q764,226 762,231M771,235Q768,237 764,234M762,244Q761,243 761,242M748,256Q746,249 748,242M746,257Q742,257 738,255M606,206Q601,202 599,195M616,195Q610,195 608,190M608,190Q603,193 599,195M619,186Q616,184 612,183M608,190Q609,186 612,183M624,167Q615,172 612,181M612,183Q612,182 612,181M595,195Q596,195 597,194M597,194Q598,195 599,195M623,154Q618,152 614,150M486,295Q479,298 472,295M465,308Q467,304 467,299M472,295Q469,297 467,299M487,289Q475,289 468,281M472,295Q474,287 468,281M451,298Q455,294 461,293M467,299Q464,295 461,293M400,308Q402,306 403,303M392,311Q390,303 387,294M387,294Q391,295 395,293M395,293Q396,300 403,303M415,298Q415,298 415,298M412,313Q414,309 418,307M415,298Q410,304 403,303M374,298Q381,299 386,294M374,298Q369,292 369,285M386,294Q383,289 385,284M369,285Q374,281 380,278M380,278Q382,282 385,284M374,298Q374,298 374,298M387,294Q386,294 386,294M362,281Q366,282 369,285M381,268Q382,270 382,272M382,272Q381,275 380,278M429,320Q429,320 429,320M441,321Q435,321 429,320M428,318Q429,319 429,320M471,210Q470,207 466,205M471,210Q475,216 475,222M457,219Q460,214 461,207M457,219Q464,221 470,225M461,207Q463,205 466,205M470,225Q472,224 475,222M472,193Q471,200 466,205M484,207Q483,208 484,209M484,209Q477,206 471,210M460,234Q465,235 468,231M468,231Q470,228 470,225M451,222Q455,222 457,219M482,223Q484,227 486,231M482,223Q483,220 486,219M486,219Q491,215 497,216M486,232Q493,227 500,228M486,232Q486,232 486,231M500,228Q498,222 497,216M468,231Q471,237 475,242M475,242Q480,236 486,231M475,222Q479,221 482,223M484,209Q483,214 486,219M498,215Q497,215 497,216M505,231Q503,229 500,228M505,231Q504,241 495,246M495,246Q490,239 486,232M495,246Q495,248 495,249M492,250Q482,251 475,244M475,244Q475,243 475,242M514,231Q509,231 505,231M515,256Q508,254 501,251M515,256Q516,261 514,265M514,265Q506,258 499,251M501,251Q500,251 499,251M523,249Q518,252 515,256M518,239Q510,245 501,251M514,269Q515,267 514,265M498,251Q498,251 499,251M464,252Q466,251 467,248M464,252Q473,255 476,265M467,248Q470,246 473,246M473,246Q479,252 479,260M479,260Q478,263 476,265M459,240Q462,245 467,248M458,257Q450,252 447,243M458,257Q460,253 464,252M475,244Q474,245 473,246M483,259Q481,260 479,260M482,273Q477,273 474,270M474,270Q475,267 476,265M358,192Q360,194 362,195M344,196Q343,199 342,201M348,210Q343,207 342,201M348,210Q355,207 361,203M361,203Q359,199 362,195M456,190Q451,186 448,180M456,190Q455,194 453,197M448,180Q448,190 441,196M441,196Q447,195 453,197M443,220Q442,214 441,208M461,207Q458,207 456,205M441,208Q447,203 456,205M471,190Q464,187 456,190M456,205Q453,201 453,197M402,193Q404,193 405,195M388,198Q391,206 394,214M394,214Q400,213 405,209M405,209Q404,202 405,195M449,176Q440,169 430,162M449,176Q450,175 451,173M451,173Q451,173 451,172M451,172Q445,161 434,156M430,162Q432,160 432,157M432,157Q433,157 434,156M472,182Q464,171 451,173M448,180Q447,179 447,178M447,178Q448,177 449,176M453,168Q452,170 451,172M437,153Q436,155 434,156M421,150Q428,151 432,157M414,157Q412,161 414,165M399,160Q402,166 408,168M414,165Q411,168 408,168M396,179Q402,177 406,173M405,195Q407,193 409,193M409,193Q410,188 415,185M415,185Q414,177 406,173M408,168Q408,171 406,173M426,267Q429,266 431,268M426,267Q420,272 420,280M431,268Q436,275 432,282M420,280Q427,277 432,282M421,261Q424,264 426,267M441,261Q440,258 439,256M441,261Q441,262 440,263M440,263Q436,266 431,268M417,280Q418,280 420,280M417,280Q415,273 411,267M440,263Q446,273 442,284M436,285Q435,283 432,282M417,280Q416,284 413,286M413,286Q417,292 415,298M305,188Q312,194 310,202M301,205Q306,204 310,203M310,202Q310,203 310,203M320,188Q320,189 321,191M310,202Q315,196 321,191M335,188Q332,192 328,193M328,193Q324,194 321,191M341,228Q347,231 353,234M341,228Q341,224 342,220M342,220Q344,218 347,217M347,217Q353,222 361,221M353,234Q356,230 361,231M361,221Q360,226 361,231M347,245Q340,247 336,242M349,245Q350,239 353,234M341,228Q339,228 338,230M338,230Q335,236 336,242M337,262Q340,258 344,258M337,262Q336,253 330,246M330,246Q332,243 336,242M282,270Q289,270 295,270M290,255Q292,254 293,254M293,254Q295,262 295,270M251,314Q251,315 250,315M268,323Q265,318 265,313M255,310Q260,312 265,313M255,310Q253,312 251,314M263,296Q260,300 255,300M263,296Q263,292 264,287M255,300Q253,297 250,294M250,294Q252,289 252,283M264,287Q259,282 253,283M252,283Q252,283 253,283M255,310Q252,305 255,300M265,313Q268,308 273,308M272,299Q267,298 263,296M272,282Q267,283 264,287M237,296Q235,303 235,311M237,296Q244,297 250,294M235,311Q242,314 250,315M262,272Q257,278 253,283M245,272Q246,275 245,279M245,279Q249,279 252,283M337,263Q338,266 339,268M337,263Q329,261 322,265M339,268Q334,270 332,275M332,275Q327,272 320,272M320,272Q320,268 322,265M337,262Q337,263 337,263M342,271Q341,268 339,268M330,284Q333,286 336,288M330,284Q329,279 332,275M336,312Q334,309 330,309M335,294Q332,297 330,300M330,300Q329,304 330,309M327,309Q329,308 330,309M163,309Q161,313 159,316M149,303Q148,306 149,309M159,316Q153,313 149,309M135,306Q139,313 146,313M132,322Q138,320 142,323M142,323Q143,318 146,313M146,313Q149,312 149,309M710,285Q711,285 712,286M710,285Q708,281 708,277M712,286Q721,282 727,273M708,277Q714,274 716,268M716,268Q721,269 726,270M726,270Q726,271 727,272M727,272Q727,272 727,273M693,287Q701,284 710,285M713,289Q712,287 712,286M700,266Q705,271 708,277M734,283Q732,287 729,288M734,283Q728,280 727,273M703,258Q708,265 716,268M728,258Q730,265 726,270M745,268Q735,265 727,272M746,280Q742,282 739,285M739,285Q737,283 734,283M742,295Q742,297 740,298M742,295Q746,295 749,296M740,298Q738,304 740,311M749,296Q753,301 755,308M755,308Q749,310 744,313M744,313Q742,311 740,311M739,285Q739,291 742,295M730,299Q735,299 740,298M754,293Q751,295 749,296M726,314Q733,310 740,311M756,308Q755,308 755,308M745,322Q744,317 744,313M624,286Q614,289 607,296M624,286Q624,297 632,303M631,304Q632,304 632,303M631,304Q620,303 608,299M607,296Q607,297 607,298M608,299Q608,299 607,298M606,276Q603,283 603,290M624,284Q624,285 624,286M603,290Q607,292 607,296M638,301Q635,302 632,303M630,309Q630,306 631,304M612,310Q611,304 608,299M590,280Q596,283 599,289M590,280Q583,284 582,292M599,289Q592,294 583,296M582,292Q583,293 583,295M583,295Q583,295 583,296M590,274Q590,277 590,280M603,290Q601,290 599,289M573,282Q576,288 582,292M568,301Q577,302 583,295M586,303Q586,302 586,301M586,303Q587,311 594,316M586,301Q594,303 602,301M602,301Q597,307 596,316M594,316Q595,316 596,316M575,316Q581,310 586,303M583,296Q584,299 586,301M591,321Q593,319 594,316M607,298Q604,299 602,301M608,318Q602,316 596,316M604,173Q604,174 604,175M604,173Q597,172 592,169M604,175Q601,180 597,184M597,184Q594,177 587,174M592,169Q589,169 587,172M587,172Q586,173 587,174M609,166Q616,164 623,166M609,166Q606,170 604,173M612,181Q606,180 604,175M597,194Q597,189 597,184M579,184Q582,178 587,174M580,166Q583,170 587,172M604,157Q604,156 604,156M604,157Q599,160 594,162M604,156Q599,153 598,147M594,162Q587,158 585,151M585,150Q585,150 585,151M609,166Q604,163 604,157M614,150Q609,152 604,156M592,169Q594,165 594,162M581,156Q584,154 585,151M470,272Q471,277 467,280M470,272Q461,269 457,261M467,280Q464,282 461,282M461,282Q456,284 452,280M452,280Q456,272 452,263M452,263Q454,261 457,261M474,270Q473,271 470,272M468,281Q467,280 467,280M458,257Q459,259 457,261M461,293Q459,288 461,282M444,285Q447,281 452,280M441,261Q446,265 452,263M403,285Q401,285 399,286M403,285Q400,278 400,270M399,286Q395,285 393,281M393,281Q394,278 392,276M400,270Q397,274 392,276M395,293Q397,289 399,286M413,286Q408,283 403,285M400,270Q400,270 400,270M385,284Q389,281 393,281M382,272Q388,271 392,276M382,265Q385,260 392,260M370,191Q379,195 387,198M370,191Q368,192 366,194M366,194Q370,202 379,205M387,198Q383,202 379,205M374,186Q371,188 370,191M388,198Q387,198 387,198M362,195Q363,193 366,194M361,203Q364,209 367,214M379,205Q379,207 377,209M367,214Q373,214 377,209M348,210Q348,213 347,217M361,221Q363,217 367,215M367,214Q367,215 367,215M356,250Q361,243 367,237M361,231Q365,232 367,236M367,237Q367,237 367,236M372,256Q371,251 375,247M367,237Q371,242 375,247M394,248Q389,246 385,243M375,247Q380,245 385,243M441,196Q440,196 440,197M441,208Q440,206 437,204M437,204Q439,200 440,197M412,218Q410,215 411,213M412,218Q416,220 417,224M411,213Q419,211 424,204M417,224Q418,224 419,224M419,224Q424,221 426,216M426,216Q427,211 426,205M426,205Q425,204 424,204M400,223Q407,222 412,218M400,223Q402,229 407,232M413,230Q413,226 417,224M405,209Q408,210 411,213M409,193Q419,195 424,203M424,203Q424,204 424,204M428,231Q424,226 419,224M441,222Q433,220 426,216M437,204Q431,202 426,205M427,166Q430,173 436,179M427,166Q425,167 423,168M423,168Q425,176 420,183M436,179Q434,184 429,186M420,183Q422,187 427,186M429,186Q428,186 427,186M447,178Q442,179 436,179M430,162Q428,164 427,166M414,165Q418,169 423,168M415,185Q417,184 420,183M440,197Q431,194 429,186M424,203Q421,194 427,186M342,201Q339,204 336,203M342,220Q341,220 341,219M341,219Q338,211 336,203M328,193Q328,199 331,204M336,203Q333,202 331,204M310,203Q311,204 312,205M331,204Q330,209 325,211M312,205Q318,209 325,211M325,227Q332,227 338,230M325,227Q326,223 323,220M341,219Q335,212 326,214M323,220Q325,217 326,214M326,214Q326,212 325,211M276,222Q284,219 292,220M280,239Q286,239 289,235M289,235Q295,228 292,220M293,211Q293,215 293,219M292,220Q292,220 293,219M300,248Q307,252 314,254M300,248Q299,246 299,244M299,244Q299,243 299,242M299,242Q306,237 315,235M314,254Q320,252 322,246M322,246Q318,242 318,236M315,235Q317,235 318,236M297,252Q302,260 303,270M297,252Q299,251 300,248M314,255Q312,265 303,270M314,255Q314,255 314,254M284,246Q291,242 299,244M293,254Q295,253 297,252M289,235Q293,240 299,241M299,241Q299,242 299,242M330,246Q326,245 322,246M314,255Q317,261 322,265M325,227Q321,232 318,236M303,270Q303,271 302,272M320,272Q318,276 314,280M314,280Q309,275 302,272M293,288Q294,288 294,288M295,270Q298,273 301,272M294,288Q301,282 301,272M301,272Q302,272 302,272M225,308Q229,312 235,311M225,308Q220,312 215,317M235,311Q235,311 235,311M214,317Q215,317 215,317M233,290Q227,297 221,302M233,290Q230,288 230,284M229,283Q227,282 224,282M229,283Q230,284 230,284M224,282Q220,284 216,287M216,287Q215,287 215,289M215,289Q217,295 216,300M216,300Q218,303 221,302M237,296Q236,292 233,290M225,308Q222,306 221,302M245,279Q237,279 230,284M235,267Q231,275 229,283M217,267Q218,276 224,282M201,274Q212,276 216,287M203,291Q209,288 215,289M208,306Q212,303 216,300M327,309Q321,310 316,307M309,322Q309,319 307,316M316,307Q313,313 307,316M268,323Q273,324 277,321M281,311Q283,312 283,314M277,321Q278,316 283,314M384,215Q383,221 378,224M384,215Q389,217 394,215M395,222Q393,218 394,215M395,222Q392,224 392,227M392,227Q388,229 385,230M385,230Q383,228 380,228M378,224Q379,226 380,228M367,215Q375,217 378,224M377,209Q379,213 384,215M394,214Q394,214 394,215M400,223Q398,221 395,222M401,239Q396,233 392,227M385,243Q387,237 385,230M367,236Q371,229 380,228M295,220Q298,225 302,229M295,220Q302,221 309,219M302,229Q306,229 311,230M311,230Q312,226 312,222M309,219Q310,221 312,222M299,241Q297,234 302,229M293,219Q294,220 295,220M312,205Q306,211 309,219M315,235Q314,232 311,230M323,220Q318,222 312,222M303,297Q309,298 314,302M303,297Q306,291 311,286M314,302Q315,295 319,290M315,283Q313,284 311,286M315,283Q316,286 319,287M319,287Q319,288 319,290M316,307Q314,305 314,302M297,299Q300,306 300,313M297,299Q300,299 303,297M307,316Q303,315 300,313M294,297Q296,298 297,299M294,288Q303,288 311,286M330,300Q322,298 319,290M314,280Q314,282 315,283M330,284Q325,288 319,287M291,318Q290,318 290,318M300,313Q295,315 291,318M283,314Q287,315 290,318" fill="none" stroke="#a2a2a2" stroke-width="1.3" stroke-opacity="0.78" stroke-linecap="round" filter="url(#blurV)"/>
</g>
<clipPath id="pockClip"><path d="M60,160 L270,160 C266,215 235,255 150,283 L60,297 Z M537,160 L782,160 L782,292 L645,280 C600,252 555,210 537,160 Z"/></clipPath>
<g clip-path="url(#pockClip)"><path d="M647,314Q648,312 650,310M650,310Q660,312 666,319M614,163Q612,162 611,161M614,163Q617,173 617,184M611,161Q601,167 599,180M599,180Q603,184 609,187M617,184Q614,187 609,187M775,313Q776,313 777,312M604,154Q608,155 610,158M610,158Q613,157 615,154M650,310Q654,305 652,298M666,319Q665,312 670,306M668,301Q669,304 670,306M668,301Q661,301 656,297M656,297Q654,298 652,298M678,189Q677,195 679,202M678,189Q678,189 678,189M678,189Q674,192 668,193M668,193Q663,198 659,205M659,205Q664,207 667,211M679,202Q676,209 667,211M720,261Q729,263 739,263M720,261Q721,253 728,249M739,263Q740,259 739,254M739,254Q734,250 728,249M715,262Q708,254 709,243M715,262Q718,262 720,261M711,240Q710,242 709,243M711,240Q719,242 726,239M726,239Q728,244 728,249M739,263Q740,265 742,267M742,267Q746,267 750,265M739,254Q742,247 745,240M745,240Q752,241 756,247M750,265Q756,257 756,247M734,281Q734,290 731,299M734,281Q737,280 738,278M738,278Q746,284 753,290M731,299Q741,295 752,292M752,292Q752,291 753,290M254,228Q259,224 265,222M254,228Q254,238 259,246M265,222Q266,223 267,223M259,246Q265,247 270,245M267,223Q266,234 270,245M199,163Q208,160 211,151M199,163Q191,158 185,151M185,151Q185,149 186,147M111,282Q114,289 122,290M111,282Q110,283 108,284M108,284Q105,291 100,297M122,290Q117,298 117,307M117,307Q107,305 100,297M510,172Q513,170 513,167M510,172Q509,178 512,184M512,184Q515,186 518,186M518,186Q522,178 529,172M513,167Q520,173 529,172M515,158Q523,163 532,159M515,158Q514,154 511,152M515,158Q512,162 513,167M532,159Q533,158 534,160M529,172Q533,172 537,169M534,160Q533,165 537,169M596,156Q593,162 591,169M596,156Q590,156 587,152M587,152Q580,158 574,164M591,169Q582,169 574,164M604,154Q600,157 596,156M611,161Q612,159 610,158M599,180Q597,179 595,180M595,180Q594,174 591,169M412,299Q414,291 411,283M412,299Q404,299 397,302M401,282Q406,282 411,283M401,282Q401,289 396,294M397,302Q396,298 396,294M647,314Q636,313 626,313M626,313Q626,310 626,308M652,298Q648,297 645,294M626,308Q633,297 645,294M645,276Q647,285 645,294M645,276Q649,272 654,271M654,271Q658,278 665,279M665,279Q663,289 656,297M645,294Q645,294 645,294M626,313Q625,314 625,314M625,314Q625,314 625,315M548,310Q547,312 545,313M548,310Q560,314 572,315M557,299Q568,300 574,311M557,299Q553,299 551,303M574,311Q573,313 573,315M551,303Q551,307 548,310M573,315Q572,314 572,315M764,312Q761,306 762,298M764,312Q770,314 775,313M762,298Q768,297 775,296M777,312Q776,304 780,297M775,296Q778,296 780,297M755,290Q759,286 762,283M755,290Q759,294 762,298M775,296Q767,291 762,283M755,290Q754,290 753,290M764,312Q760,314 756,316M747,308Q750,313 754,316M747,308Q747,299 752,292M756,316Q755,317 754,316M727,313Q730,310 730,306M727,313Q722,318 715,317M715,295Q710,302 708,310M715,295Q722,299 729,302M729,302Q728,304 730,306M715,317Q710,315 708,310M747,308Q739,303 730,306M731,299Q730,301 729,302M680,323Q681,316 685,312M685,312Q689,310 692,306M696,309Q693,308 692,306M708,310Q702,309 696,309M670,306Q677,311 685,312M785,216Q785,216 785,216M785,216Q781,225 784,234M745,240Q744,237 743,235M726,239Q734,239 737,232M737,232Q740,232 743,235M614,163Q619,162 623,165M630,185Q624,183 617,184M630,185Q630,178 632,173M632,173Q627,170 623,165M678,189Q676,178 666,172M668,193Q659,190 652,184M652,184Q652,176 657,172M657,172Q662,170 666,172M630,185Q631,186 633,188M633,188Q639,191 646,190M646,190Q650,188 652,184M643,164Q638,168 632,173M643,164Q651,165 657,171M657,172Q657,172 657,171M678,189Q683,184 690,184M690,179Q681,173 677,162M690,179Q690,181 691,183M691,183Q691,184 690,184M666,172Q669,165 677,162M636,273Q640,275 645,276M636,273Q635,272 635,271M654,264Q648,265 644,261M654,264Q652,268 654,271M635,271Q642,268 644,261M659,205Q656,206 653,205M646,190Q646,198 652,204M652,204Q653,204 653,205M633,188Q629,194 628,202M609,187Q608,191 608,195M608,195Q610,204 616,210M616,210Q622,206 628,202M652,204Q648,210 642,210M628,202Q633,209 642,210M558,293Q557,296 557,299M558,293Q567,294 577,296M574,311Q578,307 580,302M577,296Q578,299 580,302M558,293Q559,290 557,287M557,287Q562,282 568,279M568,279Q571,281 575,281M577,296Q572,289 575,281M601,298Q598,299 596,298M601,298Q604,302 605,307M592,315Q597,313 603,313M592,315Q590,308 589,301M589,301Q592,298 596,298M605,307Q602,310 603,313M591,286Q594,292 596,298M591,286Q583,284 576,280M580,302Q585,304 589,301M575,281Q576,281 576,280M625,314Q616,308 605,307M604,322Q606,317 603,313M589,266Q591,267 593,267M589,266Q584,274 576,280M591,286Q596,283 596,277M596,277Q591,273 593,267M612,250Q621,255 631,251M612,250Q610,252 608,254M608,254Q608,258 606,262M606,262Q610,266 614,270M614,270Q621,267 628,265M628,265Q632,259 631,251M668,301Q675,300 679,295M692,306Q692,306 692,306M692,306Q684,302 679,295M672,278Q669,279 665,279M672,278Q677,280 678,285M678,285Q677,290 679,295M693,209Q690,211 688,210M693,209Q697,215 699,222M688,210Q686,217 681,221M681,221Q681,226 686,230M699,222Q694,224 692,229M686,230Q689,229 692,229M690,184Q690,196 698,204M698,204Q696,208 693,209M679,202Q682,207 688,210M712,223Q705,224 699,222M712,223Q712,223 712,222M698,204Q701,205 704,204M712,222Q706,214 704,204M667,211Q670,214 670,219M670,219Q675,221 681,221M711,240Q714,231 712,223M709,243Q707,242 706,243M706,243Q698,237 692,229M706,243Q701,247 694,249M685,230Q690,236 688,244M685,230Q686,230 686,230M694,249Q689,248 688,244M715,295Q714,294 713,292M692,306Q696,302 697,296M713,292Q706,298 697,296M678,285Q686,286 693,284M697,296Q694,290 693,284M672,278Q673,270 679,265M687,264Q683,264 679,265M687,264Q692,273 694,282M694,282Q694,283 693,284M784,234Q782,236 779,236M779,236Q777,242 777,248M777,248Q778,257 786,262M150,218Q144,212 147,204M150,218Q154,217 158,220M158,220Q164,219 169,216M147,204Q153,198 162,196M162,196Q167,198 170,203M169,216Q173,210 170,203M140,200Q144,201 147,204M140,200Q142,195 139,190M162,196Q161,192 160,189M139,190Q139,189 140,188M140,188Q148,185 157,187M157,187Q159,187 160,189M492,182Q496,187 501,191M492,182Q484,182 480,189M501,191Q502,194 500,197M500,197Q496,202 490,202M480,189Q488,193 490,202M253,250Q254,254 252,258M253,250Q255,247 259,246M271,246Q271,245 270,245M271,246Q272,249 275,250M260,268Q258,261 252,258M260,268Q265,267 269,265M275,250Q269,257 269,265M222,148Q229,153 237,154M237,154Q240,152 243,152M243,146Q242,149 243,152M211,151Q212,151 212,152M212,152Q217,150 222,148M219,168Q222,171 227,170M219,168Q213,161 212,152M227,170Q229,160 237,154M208,318Q208,315 206,313M233,322Q229,315 226,308M226,308Q217,313 208,310M208,310Q207,311 206,313M114,272Q116,269 119,269M114,272Q109,263 100,260M100,260Q102,255 104,250M119,269Q126,260 123,250M123,250Q116,248 109,246M104,250Q107,249 109,246M59,245Q65,240 65,232M56,314Q62,318 70,320M146,272Q142,269 137,270M146,272Q151,267 158,264M137,270Q133,261 138,251M158,264Q154,258 150,252M150,252Q146,252 143,249M143,249Q140,250 138,251M119,269Q126,272 133,273M123,250Q125,250 126,249M133,273Q136,272 137,270M126,249Q132,248 138,251M156,234Q159,241 167,243M156,234Q150,237 145,239M167,243Q158,246 150,252M145,239Q144,244 143,249M91,316Q93,321 99,323M90,311Q91,314 91,316M90,311Q83,315 76,310M76,310Q71,314 70,320M117,307Q117,308 118,308M100,297Q97,298 94,299M94,299Q95,304 92,308M92,308Q105,308 116,316M118,308Q116,312 116,316M99,323Q108,322 116,317M90,311Q91,310 92,308M116,317Q116,316 116,316M492,182Q491,176 489,171M501,191Q505,185 512,184M510,172Q507,171 504,170M504,170Q497,172 489,171M488,165Q495,161 499,155M501,152Q500,153 499,155M511,152Q506,150 501,152M504,170Q503,162 499,155M489,171Q488,170 487,169M487,169Q488,167 488,165M534,160Q535,156 538,154M576,216Q579,216 581,214M576,216Q569,217 563,216M577,202Q582,205 583,210M577,202Q568,203 560,203M581,214Q583,212 583,210M560,203Q559,210 563,216M576,191Q579,197 577,202M576,191Q570,193 564,190M564,190Q559,193 556,198M560,203Q560,200 556,198M418,313Q406,316 396,307M396,307Q396,308 395,309M412,299Q414,302 418,304M397,302Q396,305 396,307M418,304Q417,308 420,312M420,312Q419,313 418,313M395,309Q390,309 386,310M376,315Q382,314 386,310M396,294Q388,294 380,292M386,310Q382,301 380,292M551,303Q540,301 535,291M542,280Q548,287 557,287M542,280Q540,281 538,282M538,282Q537,287 535,291M589,266Q587,262 584,260M568,279Q568,271 562,265M562,265Q567,263 570,259M570,259Q577,258 584,260M596,245Q601,251 608,254M596,245Q591,250 585,254M593,267Q600,267 606,262M585,254Q584,257 584,260M527,269Q524,260 518,253M527,269Q534,267 538,261M518,253Q519,252 519,252M531,247Q524,249 519,252M531,247Q534,246 538,248M538,248Q536,254 538,261M527,269Q528,271 527,273M542,280Q546,274 549,267M527,273Q535,274 538,282M538,261Q544,263 549,267M562,265Q559,263 556,263M549,267Q553,266 556,263M599,198Q595,197 591,196M599,198Q601,205 598,211M591,196Q587,202 586,209M598,211Q592,209 586,209M595,180Q591,182 587,185M608,195Q604,197 599,198M587,185Q592,190 591,196M584,185Q580,188 576,191M584,185Q586,184 587,185M583,210Q585,210 586,209M596,245Q594,239 594,232M594,232Q597,230 601,229M612,250Q612,244 612,237M612,237Q605,236 601,229M594,232Q593,232 591,232M591,232Q592,220 581,214M598,211Q601,216 606,216M601,229Q604,223 606,216M616,210Q616,211 616,211M606,216Q611,213 616,211M622,297Q627,292 632,288M622,297Q615,296 610,290M615,279Q613,283 610,286M615,279Q621,284 630,282M630,282Q630,285 632,288M610,290Q610,288 610,286M626,308Q625,302 622,297M645,294Q639,290 632,288M601,298Q606,295 610,290M596,277Q603,281 610,286M614,270Q614,274 615,279M636,273Q635,279 630,282M635,271Q631,268 628,265M535,315Q540,315 545,313M784,294Q783,290 784,287M780,297Q782,295 784,294M786,262Q786,262 786,262M764,279Q770,277 775,280M764,279Q761,275 762,269M775,280Q782,273 783,264M762,269Q763,266 766,265M783,264Q775,266 766,265M762,283Q764,281 764,279M784,287Q779,284 775,280M742,267Q738,272 738,278M750,265Q755,269 762,269M786,262Q785,264 783,264M756,247Q757,247 758,247M758,247Q761,252 766,253M766,253Q767,259 766,265M777,248Q772,251 766,253M783,209Q788,205 787,199M783,209Q774,211 767,206M771,193Q765,198 767,206M771,193Q778,194 784,193M785,216Q785,212 783,209M776,172Q787,180 784,193M753,224Q752,226 751,228M753,224Q761,224 767,219M751,228Q760,230 769,234M767,219Q767,219 767,219M767,219Q772,226 771,234M769,234Q770,233 771,234M758,247Q763,240 769,234M743,235Q748,233 751,228M765,207Q766,206 767,206M765,207Q767,213 767,219M785,216Q776,219 767,219M779,236Q775,235 771,234M712,222Q717,220 722,218M704,204Q709,201 714,197M714,197Q718,200 720,205M720,205Q719,212 722,218M737,232Q734,226 730,220M722,218Q727,218 730,220M715,190Q712,183 705,182M715,190Q722,189 727,185M727,185Q722,179 724,171M724,171Q718,165 710,167M705,182Q708,175 710,167M691,183Q698,182 705,182M714,197Q714,194 715,190M720,205Q729,197 740,200M727,185Q731,185 735,187M735,187Q739,193 740,200M730,220Q735,211 743,203M740,200Q741,202 743,203M753,224Q752,214 750,205M743,203Q747,203 750,205M765,207Q758,207 751,205M751,205Q751,205 750,205M643,164Q641,160 642,156M623,165Q629,158 635,150M642,156Q638,153 635,150M615,154Q626,156 633,148M635,150Q634,149 633,148M690,179Q696,171 697,162M697,162Q692,158 686,156M677,162Q677,162 677,162M686,156Q682,158 677,162M670,219Q668,222 665,225M653,205Q658,214 654,225M654,225Q660,221 665,225M670,239Q681,239 685,230M670,239Q668,239 668,237M668,237Q669,230 665,225M672,247Q672,247 673,248M672,247Q666,254 657,253M673,248Q671,257 677,263M677,263Q667,259 657,259M657,253Q657,256 657,259M670,239Q669,243 672,247M688,244Q680,244 673,248M694,249Q693,256 690,262M687,264Q689,263 690,262M679,265Q678,264 677,263M654,264Q654,261 657,259M727,279Q719,283 713,291M727,279Q724,269 714,265M713,291Q712,284 707,277M707,277Q710,273 710,268M714,265Q711,266 710,268M734,281Q731,279 727,279M713,292Q713,291 713,291M715,262Q714,264 714,265M694,282Q702,282 707,277M690,262Q700,266 710,268M160,164Q165,165 166,170M160,164Q158,169 153,169M153,169Q157,178 157,187M160,189Q165,187 168,182M166,170Q169,176 168,182M150,153Q157,156 161,161M162,146Q161,152 164,157M161,161Q162,158 164,157M181,156Q173,159 164,157M181,156Q182,152 185,151M181,156Q186,164 183,173M160,164Q161,162 161,161M166,170Q175,169 183,173M140,188Q138,182 137,176M153,169Q147,170 142,169M142,169Q141,174 137,176M150,153Q143,155 139,162M142,169Q139,166 139,162M139,162Q136,160 134,157M105,158Q111,158 116,156M105,158Q107,163 107,169M116,156Q118,158 121,161M121,161Q122,168 119,176M107,169Q112,174 117,178M117,178Q118,176 119,176M97,155Q101,156 105,158M134,157Q129,163 121,161M137,176Q128,181 119,176M277,199Q281,196 285,192M277,199Q275,210 281,219M281,219Q282,220 283,220M298,201Q288,208 284,219M298,201Q292,197 285,192M283,220Q283,220 284,219M261,214Q262,219 265,222M261,214Q261,207 258,202M262,199Q259,199 258,202M262,199Q263,198 265,198M267,223Q274,221 281,219M265,198Q271,200 277,199M287,229Q282,240 271,246M287,229Q283,225 283,220M232,193Q228,196 228,201M232,193Q225,192 222,185M228,201Q222,195 212,195M222,185Q215,186 212,192M212,192Q213,193 212,195M169,216Q171,219 174,220M170,203Q174,198 180,196M193,205Q191,202 190,198M193,205Q187,211 190,219M190,219Q182,216 174,220M180,196Q185,199 190,198M168,182Q174,182 180,182M180,196Q184,189 180,182M183,173Q184,174 185,176M185,176Q181,178 180,182M209,205Q201,203 193,205M209,205Q216,211 214,219M190,219Q190,220 191,220M191,220Q203,224 214,219M209,205Q213,201 212,195M228,201Q229,205 230,207M214,219Q215,219 215,220M215,220Q221,221 225,217M230,207Q228,212 225,217M261,214Q253,219 244,218M258,202Q254,202 250,200M250,200Q248,205 243,207M243,207Q242,213 244,218M273,146Q273,153 267,157M254,156Q260,160 267,157M243,152Q248,152 251,157M254,156Q252,156 251,157M282,162Q287,156 294,154M282,162Q276,161 269,160M267,157Q269,158 269,160M262,199Q264,187 256,177M265,198Q263,187 269,177M269,177Q268,177 268,176M268,176Q262,176 256,177M406,246Q400,251 393,254M406,246Q404,243 405,240M394,231Q398,232 401,235M394,231Q388,232 384,237M382,247Q381,241 384,237M382,247Q383,247 382,248M382,248Q386,254 393,254M405,240Q404,236 401,235M484,279Q478,274 470,273M484,279Q487,275 491,272M483,257Q474,259 471,267M483,257Q488,263 491,269M491,269Q492,270 491,272M470,273Q470,270 471,267M294,234Q291,231 287,229M294,234Q295,239 296,244M275,250Q279,253 284,252M284,252Q288,245 296,244M269,265Q270,266 270,266M284,252Q287,259 290,266M290,266Q289,266 289,267M270,266Q280,266 289,267M233,322Q239,317 246,316M231,300Q238,301 244,304M231,300Q230,305 226,308M246,316Q245,310 244,304M276,179Q280,185 285,190M276,179Q280,176 282,171M282,171Q288,171 292,175M292,175Q291,180 289,185M285,190Q287,188 289,185M269,177Q272,179 276,179M285,192Q286,191 285,190M282,162Q281,166 282,171M269,160Q267,168 268,176M294,154Q294,154 294,154M294,154Q295,162 301,167M301,167Q295,170 292,175M166,267Q166,273 167,280M166,267Q161,267 158,264M152,285Q156,286 161,287M152,285Q147,279 146,272M167,280Q165,285 161,287M187,281Q186,274 188,266M187,281Q192,284 197,284M197,284Q200,281 203,280M203,280Q203,273 205,266M205,266Q198,265 192,263M192,263Q190,265 188,266M166,267Q168,265 170,263M183,284Q175,283 167,280M183,284Q186,284 187,281M170,263Q179,266 188,266M57,206Q54,210 56,216M59,245Q65,252 73,252M56,267Q64,264 73,262M73,252Q76,257 73,262M57,276Q63,277 68,282M68,282Q72,288 70,296M57,301Q63,301 68,299M70,296Q70,298 68,299M56,267Q56,271 57,276M56,314Q55,308 57,301M76,310Q72,305 68,299M86,292Q78,292 70,296M86,292Q91,295 94,299M126,249Q124,242 127,235M145,239Q143,237 143,235M127,235Q135,239 143,235M150,218Q145,220 141,222M158,220Q159,227 156,234M141,222Q145,228 143,235M138,295Q138,292 140,291M138,295Q130,294 122,290M140,291Q138,282 133,274M122,290Q127,282 133,274M133,273Q133,273 133,274M152,285Q144,285 140,291M111,282Q113,277 114,272M122,290Q122,290 122,290M138,296Q142,302 148,305M138,296Q137,303 130,307M130,307Q132,314 138,318M138,318Q146,315 149,307M149,307Q149,306 148,305M161,289Q161,288 161,287M161,289Q154,296 148,305M138,295Q138,295 138,296M118,308Q124,307 130,307M161,313Q156,308 149,307M531,247Q528,242 529,238M519,252Q516,245 513,239M513,239Q520,235 526,230M526,230Q526,234 529,238M538,248Q541,247 544,246M545,231Q538,236 529,238M545,231Q547,233 550,234M550,234Q550,242 544,246M556,263Q554,260 553,256M544,246Q549,251 553,256M563,178Q556,173 548,174M563,178Q567,175 572,171M548,174Q553,166 558,158M572,171Q573,168 573,165M573,165Q569,159 562,155M562,155Q559,155 558,158M564,190Q563,184 563,178M545,175Q549,187 555,198M545,175Q546,173 548,174M556,198Q556,198 555,198M584,185Q576,180 572,171M537,169Q541,171 543,174M543,174Q544,175 545,175M538,154Q549,153 558,158M574,164Q573,165 573,165M562,146Q561,150 562,155M558,221Q548,221 542,212M558,221Q559,227 556,232M545,231Q539,226 534,220M556,232Q554,235 550,234M542,212Q540,218 534,220M526,230Q527,225 528,221M534,220Q531,221 528,221M509,219Q511,209 504,201M509,219Q516,219 523,217M504,201Q513,205 523,203M523,217Q522,210 523,203M505,223Q507,228 507,234M505,223Q508,222 509,219M507,234Q510,237 513,239M523,217Q524,220 528,221M401,282Q401,282 401,281M411,283Q414,280 417,281M401,281Q401,274 398,267M398,267Q400,263 404,262M417,281Q415,274 419,269M419,269Q411,266 404,262M406,246Q407,248 408,249M398,267Q397,267 396,266M396,266Q396,260 393,254M404,262Q406,255 408,249M418,304Q420,296 426,290M420,312Q422,312 425,312M425,312Q432,309 439,303M439,303Q438,301 439,298M439,298Q433,293 426,290M417,281Q421,281 423,284M423,284Q423,288 426,290M527,273Q524,274 520,276M520,276Q521,284 517,291M535,291Q534,293 533,293M517,291Q525,289 533,293M535,315Q531,312 529,309M529,309Q532,301 533,293M497,266Q503,269 509,269M497,266Q502,261 505,254M509,269Q511,262 513,255M505,254Q509,255 513,255M503,282Q497,277 491,272M503,282Q506,277 511,274M511,274Q509,272 509,269M491,269Q494,267 497,266M518,253Q516,253 513,255M520,276Q516,277 511,274M507,234Q499,239 494,246M494,246Q502,247 505,254M579,237Q576,238 572,237M579,237Q580,245 584,252M584,252Q578,246 569,246M572,237Q570,237 568,238M569,246Q569,243 567,239M568,238Q568,239 567,239M576,216Q568,226 572,237M591,232Q585,234 579,237M585,254Q585,253 584,252M570,259Q573,252 569,246M563,216Q561,219 558,221M556,232Q560,238 568,238M553,256Q556,244 567,239M697,162Q699,162 700,161M710,167Q710,167 709,167M700,161Q706,162 709,167M778,155Q775,161 774,167M765,146Q763,154 757,159M757,159Q764,166 774,167M776,172Q776,171 775,171M775,171Q774,169 774,167M742,180Q753,179 759,189M742,180Q743,180 743,179M743,179Q749,177 755,174M755,174Q759,179 765,179M765,179Q765,183 764,186M764,186Q761,186 759,189M735,187Q737,182 742,180M751,205Q759,199 759,189M757,159Q756,159 754,159M754,159Q758,166 755,174M775,171Q768,172 765,179M771,193Q765,191 764,186M660,154Q666,156 671,154M660,154Q656,151 655,147M657,171Q661,163 660,154M677,162Q676,156 671,154M642,156Q646,149 655,147M642,210Q641,216 638,222M654,225Q651,225 649,228M649,228Q644,225 638,222M616,211Q625,216 628,225M638,222Q634,226 628,225M612,237Q618,231 627,231M627,231Q626,228 628,225M374,233Q379,234 384,237M374,233Q373,233 373,233M382,247Q370,249 357,250M373,233Q369,245 357,250M357,250Q357,250 357,250M296,244Q301,246 305,248M299,265Q303,258 307,251M299,265Q295,265 290,266M305,248Q306,250 307,251M294,154Q305,154 313,148M320,162Q322,158 322,154M320,162Q316,170 306,170M306,170Q304,168 301,167M313,148Q317,152 322,154M383,155Q376,156 371,161M383,155Q388,157 392,160M392,160Q391,166 395,170M371,161Q375,167 372,174M372,174Q381,177 389,175M395,170Q392,172 389,175M361,151Q365,157 371,161M400,148Q399,156 392,160M161,313Q165,314 169,311M206,313Q201,318 194,317M194,317Q194,319 192,320M260,268Q257,274 255,281M252,258Q244,262 236,267M238,281Q235,274 236,267M238,281Q243,280 247,283M255,281Q251,280 247,283M236,267Q236,267 236,267M215,283Q211,292 207,300M215,283Q217,281 219,282M219,282Q225,284 230,286M207,300Q219,299 230,292M230,292Q231,289 230,286M206,301Q204,300 202,298M206,301Q206,300 207,300M202,298Q201,291 197,284M203,280Q208,285 215,283M205,266Q210,265 214,262M214,262Q215,262 216,264M216,264Q222,272 219,282M238,281Q235,284 230,286M236,267Q226,265 216,264M231,300Q229,296 230,292M208,310Q208,305 206,301M247,283Q251,291 249,300M244,304Q245,301 249,300M97,155Q94,157 93,160M70,158Q81,163 93,160M70,158Q70,153 73,149M68,160Q69,159 70,158M68,160Q70,164 69,169M93,160Q96,167 92,173M69,169Q72,175 78,180M78,180Q83,173 92,173M107,169Q100,170 93,174M93,174Q92,173 92,173M109,246Q109,243 109,240M127,235Q124,233 125,229M109,240Q114,230 125,229M298,201Q303,202 308,202M289,185Q299,184 309,184M308,202Q303,193 309,184M306,170Q312,175 310,182M310,182Q309,183 309,184M320,162Q325,165 327,170M327,170Q324,175 324,182M310,182Q317,179 324,182M344,181Q340,186 335,188M344,181Q343,174 338,170M327,170Q333,168 338,170M335,188Q331,188 328,186M324,182Q326,184 328,186M294,234Q298,233 300,230M284,219Q293,216 303,217M303,217Q300,223 300,230M318,231Q314,242 305,248M318,231Q318,231 318,231M300,230Q309,225 318,231M186,176Q195,179 200,187M186,176Q190,168 199,167M199,167Q205,168 208,173M208,173Q205,179 206,187M206,187Q203,187 200,187M190,198Q196,194 200,187M185,176Q185,176 186,176M199,163Q200,165 199,167M219,168Q213,168 208,173M228,173Q228,171 227,170M228,173Q226,180 222,185M212,192Q207,191 206,187M233,237Q237,241 242,244M233,237Q235,231 236,225M250,229Q247,225 242,223M250,229Q246,236 243,244M243,244Q243,245 242,244M242,223Q240,225 236,225M254,228Q252,229 250,229M244,218Q243,221 242,223M253,250Q247,249 243,244M236,267Q234,261 234,254M234,254Q240,251 242,244M230,207Q237,206 243,207M225,217Q233,218 236,225M221,240Q218,244 217,249M221,240Q216,232 215,224M215,224Q207,231 200,238M215,250Q216,250 217,249M215,250Q206,251 199,244M199,244Q200,241 200,238M234,254Q225,251 217,249M233,237Q226,235 221,240M215,220Q216,222 215,224M191,220Q191,224 193,227M193,227Q197,232 200,238M214,262Q214,256 215,250M191,248Q189,256 192,263M191,248Q194,245 199,244M255,177Q252,174 251,171M255,177Q252,186 243,190M251,171Q242,173 234,176M234,176Q238,182 241,189M241,189Q242,189 243,190M251,157Q253,164 251,171M256,177Q255,177 255,177M250,200Q247,195 243,190M228,173Q232,173 234,176M232,193Q237,192 241,189M438,145Q427,148 421,157M421,157Q418,157 416,155M415,154Q416,155 416,155M442,147Q440,147 438,145M400,148Q407,153 415,154M470,151Q469,155 468,159M487,169Q481,172 475,170M475,170Q469,166 468,159M480,189Q474,185 468,186M475,170Q470,177 468,186M494,246Q490,245 487,246M483,257Q481,253 483,249M487,246Q484,247 483,249M490,202Q490,202 490,203M466,197Q473,202 478,208M466,197Q464,192 466,187M468,186Q466,186 466,187M490,203Q483,204 478,208M500,197Q502,199 504,201M505,223Q500,223 496,222M490,203Q490,213 496,222M487,246Q486,236 486,226M496,222Q491,224 486,226M264,287Q266,293 263,299M264,287Q272,288 279,284M263,299Q271,296 278,302M278,302Q284,294 283,285M279,284Q281,285 283,285M255,281Q260,284 264,287M261,302Q254,303 249,300M261,302Q261,300 263,299M270,266Q279,273 279,284M289,267Q285,275 285,284M285,284Q284,285 283,285M246,316Q248,318 250,318M174,229Q180,232 185,237M174,229Q172,237 167,243M167,243Q169,246 172,249M172,249Q180,252 188,247M185,237Q186,242 188,247M174,220Q176,225 174,229M193,227Q191,234 185,237M167,243Q167,243 167,243M170,263Q173,256 172,249M191,248Q190,247 188,247M100,260Q97,261 94,263M94,244Q98,248 104,250M94,244Q89,241 82,241M80,243Q86,253 94,263M80,243Q81,242 81,242M82,241Q82,241 81,242M65,232Q65,231 67,231M73,252Q76,247 80,243M81,242Q73,237 67,231M56,216Q59,223 67,225M67,231Q68,228 67,225M89,268Q84,266 80,266M89,268Q88,272 91,275M80,266Q78,273 74,279M91,275Q84,280 86,288M86,288Q82,281 74,279M73,262Q77,263 80,266M94,263Q92,266 89,268M108,284Q99,282 91,275M68,282Q70,279 74,279M86,292Q87,290 86,288M546,201Q545,203 544,205M546,201Q543,193 535,189M544,205Q534,202 524,202M535,189Q530,193 524,191M524,191Q524,197 524,202M555,198Q550,198 546,201M542,212Q542,208 544,205M543,174Q541,183 535,189M523,203Q523,202 524,202M518,186Q521,189 524,191M419,269Q427,266 429,259M408,249Q418,247 424,254M429,259Q428,255 424,254M405,240Q416,239 426,236M424,254Q423,245 426,236M439,265Q439,265 439,264M439,265Q445,271 454,270M439,264Q451,261 454,249M454,270Q457,264 461,258M461,258Q460,255 459,251M459,251Q457,249 454,249M438,277Q429,277 423,284M438,277Q438,271 439,265M429,259Q429,259 429,259M429,259Q434,261 439,264M471,267Q463,265 461,258M473,246Q477,250 483,249M473,246Q466,249 459,251M452,242Q447,239 442,235M452,242Q452,244 453,247M453,247Q445,244 438,247M438,247Q438,242 436,238M442,235Q440,237 436,238M429,259Q432,252 438,247M454,249Q453,248 453,247M426,236Q426,236 426,236M426,236Q431,239 436,238M441,280Q446,286 443,294M441,280Q451,281 460,279M443,294Q452,296 460,292M460,292Q461,290 462,289M462,289Q461,284 462,280M460,279Q461,279 462,280M438,277Q440,278 441,280M439,298Q442,296 443,294M454,270Q459,272 460,279M478,304Q481,299 479,292M478,304Q470,307 462,312M479,292Q470,293 462,289M462,312Q466,301 460,292M484,279Q484,285 483,290M479,292Q481,292 483,290M470,273Q466,277 462,280M439,303Q442,308 446,312M462,312Q462,313 461,313M446,312Q454,310 461,313M478,304Q484,308 488,314M446,312Q446,318 442,321M488,314Q489,315 490,314M700,161Q703,154 706,148M709,167Q712,162 715,158M715,158Q711,152 706,148M706,146Q706,147 706,148M654,240Q651,235 649,230M654,240Q652,243 651,247M649,230Q641,236 634,244M651,247Q644,249 636,249M636,249Q635,248 634,248M634,248Q635,246 634,244M668,237Q660,235 654,240M649,228Q649,229 649,230M657,253Q656,249 651,247M627,231Q627,239 634,244M644,261Q641,254 636,249M631,251Q632,249 634,248M373,233Q368,229 362,226M351,235Q355,231 360,226M351,235Q351,241 353,246M353,246Q356,247 357,250M362,226Q361,225 360,226M348,208Q350,207 352,207M348,208Q339,213 340,224M351,235Q345,234 341,230M340,224Q340,227 341,230M360,226Q358,216 352,207M341,230Q335,236 328,238M353,246Q344,250 334,251M328,238Q328,244 329,250M334,251Q332,250 329,250M322,154Q327,154 330,150M338,170Q341,163 343,156M330,150Q335,157 343,156M351,156Q349,156 348,155M351,156Q356,154 361,151M346,181Q348,185 353,187M346,181Q348,174 355,171M353,187Q360,189 367,185M355,171Q363,176 372,174M367,185Q369,183 370,181M372,174Q369,177 370,181M338,203Q338,195 335,188M338,203Q343,204 348,208M344,181Q345,181 346,181M352,207Q352,207 352,206M352,206Q355,197 353,187M351,156Q348,165 355,171M348,155Q345,155 343,156M372,174Q372,174 372,174M389,175Q387,185 391,194M391,194Q390,195 387,195M387,195Q375,193 370,181M171,305Q175,298 182,298M171,305Q170,307 169,310M169,310Q179,318 191,313M191,313Q187,306 184,299M184,299Q184,298 182,298M183,284Q185,291 182,298M161,289Q169,295 171,305M169,311Q169,310 169,310M194,317Q193,314 191,313M202,298Q193,294 184,299M57,206Q66,206 75,205M75,205Q74,196 76,188M78,180Q76,183 77,187M76,188Q76,187 77,187M139,190Q129,193 119,192M117,178Q116,179 116,180M116,180Q121,185 119,192M140,200Q133,202 129,209M119,192Q115,196 116,202M116,202Q124,202 129,209M141,222Q137,220 133,220M129,209Q135,213 133,220M125,229Q125,228 126,226M133,220Q130,224 126,226M310,204Q313,206 316,204M310,204Q311,209 308,213M316,204Q322,205 327,207M308,213Q314,220 318,228M327,207Q330,212 328,218M328,218Q320,220 318,228M308,202Q309,203 310,204M328,186Q318,192 316,204M303,217Q306,215 308,213M338,203Q332,204 327,207M318,231Q318,229 318,228M340,224Q335,220 328,218M318,231Q322,237 328,238M395,170Q398,172 401,171M416,155Q415,163 408,168M401,171Q404,167 408,168M468,159Q464,160 461,160M461,160Q453,159 448,152M442,147Q443,149 445,151M448,152Q447,150 445,151M376,214Q380,214 383,215M376,214Q375,213 374,212M383,215Q380,204 387,195M374,212Q372,208 369,203M387,195Q377,196 370,201M370,201Q369,202 369,203M394,231Q395,226 393,221M374,233Q374,223 376,214M393,221Q389,216 383,215M362,226Q369,219 374,212M352,206Q361,207 369,203M387,195Q387,195 387,195M367,185Q369,193 370,201M477,213Q481,217 480,224M477,213Q469,218 459,218M480,224Q475,229 468,231M468,231Q464,229 460,228M460,228Q457,225 457,221M457,221Q458,220 459,218M478,208Q478,211 477,213M486,226Q483,226 480,224M466,197Q462,199 461,203M461,203Q459,211 459,218M473,246Q469,239 468,231M452,242Q453,233 460,228M443,218Q450,220 457,221M443,218Q440,227 442,235M262,313Q262,313 262,314M262,313Q271,309 280,309M284,323Q281,318 283,312M283,312Q281,311 280,309M261,302Q259,308 262,313M250,318Q255,313 262,314M278,302Q277,306 280,309M302,314Q299,309 294,306M294,306Q289,310 283,312M294,306Q294,301 298,297M288,286Q293,289 297,293M288,286Q287,284 285,284M298,297Q297,295 297,293M498,296Q498,302 496,307M498,296Q500,293 504,293M496,307Q503,313 513,314M504,293Q506,295 510,295M510,295Q513,302 517,308M517,308Q516,312 513,314M483,290Q489,297 498,296M490,314Q493,311 496,307M503,282Q500,288 504,293M517,291Q514,293 510,295M529,309Q523,311 517,308M745,157Q743,160 740,160M740,160Q735,162 731,160M731,160Q727,157 724,153M724,153Q725,150 723,148M754,159Q750,158 745,157M743,179Q739,170 740,160M724,171Q730,168 731,160M715,158Q720,156 724,153M359,263Q358,264 358,265M359,263Q368,268 378,264M358,265Q358,275 362,283M378,264Q379,265 380,266M380,266Q376,274 380,281M362,283Q369,283 374,288M380,281Q379,285 375,288M375,288Q374,288 374,288M382,248Q379,256 378,264M357,250Q360,256 359,263M396,266Q388,264 380,266M401,281Q390,286 380,281M380,292Q377,290 375,288M362,283Q355,284 352,291M374,288Q368,294 369,302M352,291Q360,297 369,302M376,315Q373,311 368,310M365,310Q367,310 368,310M368,310Q367,306 369,302M307,251Q312,257 319,257M329,250Q325,253 321,257M319,257Q320,257 321,257M299,265Q300,271 306,273M319,257Q312,264 306,273M288,286Q296,278 306,273M306,273Q306,273 306,273M297,293Q307,289 316,283M306,273Q309,280 316,283M365,310Q359,303 349,302M352,291Q351,291 349,292M349,292Q348,296 347,299M349,302Q347,301 347,299M330,150Q330,148 330,146M67,225Q74,223 78,217M75,205Q77,206 77,208M78,217Q78,212 77,208M99,181Q100,189 94,195M99,181Q103,183 106,181M106,181Q102,190 102,200M94,195Q94,198 97,200M97,200Q99,199 102,200M93,174Q97,176 99,181M77,187Q85,192 94,195M116,180Q112,183 106,181M116,202Q116,202 115,202M115,202Q108,203 102,200M95,202Q88,209 77,208M95,202Q96,200 97,200M391,194Q393,195 396,196M401,171Q408,176 406,185M406,185Q402,191 396,196M393,221Q395,215 399,212M399,212Q401,205 398,198M396,196Q398,197 398,198M443,218Q439,217 437,214M426,236Q429,227 425,219M437,214Q431,216 425,219M401,235Q409,221 424,219M399,212Q408,218 417,213M417,213Q421,215 424,219M425,219Q425,219 424,219M421,157Q425,163 431,167M408,168Q414,172 419,177M431,167Q423,170 419,177M445,151Q441,160 437,169M431,167Q435,167 437,169M326,271Q325,276 325,281M326,271Q335,271 342,265M345,274Q346,270 350,267M345,274Q337,277 331,281M331,281Q328,281 325,281M350,267Q346,265 342,265M321,257Q325,264 326,271M316,283Q319,283 322,284M322,284Q324,283 325,281M334,251Q335,259 342,265M348,291Q349,291 349,292M348,291Q343,283 345,274M358,265Q353,265 350,267M348,291Q340,286 331,281M323,293Q317,298 312,304M323,293Q329,295 330,301M330,301Q327,307 329,314M312,308Q316,312 319,317M312,308Q313,306 312,304M319,317Q323,314 329,314M298,297Q307,296 312,304M322,284Q323,289 323,293M347,299Q339,298 330,301M302,314Q308,312 312,308M96,213Q90,215 88,222M96,213Q104,213 110,219M98,228Q102,228 106,228M98,228Q93,229 90,226M90,226Q88,224 88,222M106,228Q106,224 110,222M110,219Q110,220 110,222M95,202Q93,207 96,213M78,217Q83,220 88,222M115,202Q112,210 110,219M94,244Q100,237 98,228M109,240Q106,234 106,228M82,241Q87,233 90,226M126,226Q119,221 110,222M461,160Q458,170 449,175M437,169Q438,170 439,170M449,175Q443,175 439,170M418,187Q415,193 410,198M418,187Q419,186 420,186M420,186Q424,188 428,191M428,191Q425,200 416,205M410,198Q415,200 416,205M406,185Q412,185 418,187M398,198Q404,197 410,198M419,177Q418,182 420,186M439,170Q440,183 429,191M429,191Q428,191 428,191M417,213Q415,209 416,205M455,184Q454,183 453,182M455,184Q455,197 444,203M453,182Q440,182 431,193M431,193Q435,199 439,206M444,203Q441,204 439,206M466,187Q460,188 455,184M449,175Q450,179 453,182M461,203Q452,205 444,203M429,191Q430,192 431,193M437,214Q439,210 439,206" fill="none" stroke="#505050" stroke-width="1.0" stroke-opacity="0.22" stroke-linecap="round" filter="url(#blurV)"/></g>
<path d="M277,162 C273,221 248,264 164,300 M530,162 C548,215 588,258 633,292 M284,162 C280,224 258,266 178,300 M523,162 C541,218 579,260 621,292 M291,162 C287,227 268,268 192,300 M516,162 C534,221 570,262 609,292 M298,162 C294,230 278,270 206,300 M509,162 C527,224 561,264 597,292 M305,162 C301,233 288,272 220,300 M502,162 C520,227 552,266 585,292 M312,162 C308,236 298,274 234,300 M495,162 C513,230 543,268 573,292" fill="none" stroke="#8c8c8c" stroke-width="1.2" opacity="0.55" filter="url(#blurV)"/>
<rect x="72.7" y="122" width="29.6" height="45" fill="#474747"/>
<rect x="72.7" y="158" width="29.6" height="9" fill="#333"/>
<rect x="130" y="122" width="14.6" height="45" fill="#474747"/>
<rect x="130" y="158" width="14.6" height="9" fill="#333"/>
<rect x="686" y="122" width="13" height="45" fill="#474747"/>
<rect x="686" y="158" width="13" height="9" fill="#333"/>
<rect x="729" y="122" width="29" height="45" fill="#474747"/>
<rect x="729" y="158" width="29" height="9" fill="#333"/>
<rect x="102" y="135" width="28" height="25" fill="#1c1c1c"/>
<rect x="699" y="135" width="30" height="25" fill="#1c1c1c"/>
<ellipse cx="416" cy="143" rx="247" ry="22" fill="#262626"/>
<ellipse cx="416" cy="140" rx="245" ry="21" fill="url(#diskG)"/>
<ellipse cx="416" cy="140" rx="245" ry="21" fill="url(#diskV)"/>
<path d="M230,127 Q416,117 610,127" fill="none" stroke="#808080" stroke-width="2" opacity="0.45" filter="url(#blur1)"/>
</g>
<rect x="782" y="316" width="14" height="4" fill="#b8b8b8"/>
<rect x="101" y="296.5" width="198" height="3.5" fill="#f4f4f4"/>
<text x="200" y="291" font-size="17" fill="#e8e8e8" text-anchor="middle" font-weight="normal" font-family="'Liberation Sans', Arial, sans-serif" >10 μm</text>
<rect x="642" y="181" width="133" height="127" fill="#e8e8ec"/>
<rect x="644.5" y="183.5" width="128" height="122" fill="#b9b9d8"/>
<rect x="644.5" y="275" width="128" height="30.5" fill="#2d3b3d"/>
<path d="M650,292 L650,235 Q650,190 708,189 Q766,190 766,235 L766,292" fill="none" stroke="#6f8f86" stroke-width="5"/>
<path d="M658,292 L658,236 Q658,198 708,197 Q758,198 758,236 L758,292" fill="none" stroke="#8aa89e" stroke-width="2"/>
<path d="M650,240 L650,292 L662,292 M766,240 L766,292 L754,292" fill="none" stroke="#d8dce0" stroke-width="1.5"/>
<circle cx="707" cy="240" r="48" fill="#b3aed6"/>
<circle cx="707" cy="240" r="48" fill="#fff" opacity="0.12"/>
<circle cx="707" cy="240" r="22" fill="#e8ecde"/>
<circle cx="707" cy="241" r="19" fill="#7382c6"/>
<path d="M698,224 Q707,214 716,224" fill="#e8ecde"/>
<text transform="translate(14.4,36.1) scale(0.953,1)" x="0" y="0" font-size="40.5" fill="#000" text-anchor="start" font-weight="normal" font-family="'Liberation Sans', Arial, sans-serif" >(a)</text>
<defs><clipPath id="clipC"><path d="M795,18 H1220 V60 H1227 V320 H795 Z"/></clipPath><linearGradient id="cavG" x1="0" y1="0" x2="1" y2="0"><stop offset="0" stop-color="#2c9db5"/><stop offset="0.55" stop-color="#2c98b1"/><stop offset="1" stop-color="#2c8ea8"/></linearGradient><linearGradient id="floorG" x1="0" y1="0" x2="1" y2="0"><stop offset="0" stop-color="#3aa6be"/><stop offset="0.5" stop-color="#37a2ba"/><stop offset="1" stop-color="#3298b0"/></linearGradient></defs>
<g clip-path="url(#clipC)">
<rect x="795" y="18" width="432" height="302" fill="#b9b9b9"/>
<polygon points="1141,140 1227,94 1227,320 990,320 990,289 1136,199" fill="#adadad" />
<polygon points="990,289 1136,199 1141,140 1227,94 1227,320 990,320" fill="#aaaaaa" />
<polygon points="795,18 853,18 795,37" fill="#dde7eb" />
<polygon points="1151,18 1227,18 1227,44 1220,42" fill="#d9e4e9" />
<path d="M795,37 L853,18 L895,18 L980,63 L980,118 Q900,120 849,141 L795,110 Z" fill="#4faac0"/>
<path d="M980,63 L1088,18 L1151,18 L1220,42 L1220,60 L1227,60 L1227,94 L1141,140 Q1070,117 980,118 Z" fill="#51a5bc"/>
<polygon points="895,18 1088,18 980,63" fill="#44b9d1" />
<path d="M853,18 L895,18 L980,63 L900,30 Z" fill="#4cb2c8" opacity="0.6"/>
<path d="M849,141 Q900,120 980,118 Q1070,117 1141,140 L1136,199 L990,289 L857,200 Z" fill="url(#cavG)"/>
<path d="M853,183 Q930,170 985,172 Q1080,172 1138,184 L1136,199 L990,289 L857,200 Z" fill="url(#floorG)"/>
<path d="M980,118 L980,290" stroke="#000" stroke-opacity="0.04" stroke-width="1"/>
</g>
<g transform="translate(986.9,163.6) rotate(90)"><line x1="-8.5" y1="0" x2="8.5" y2="0" stroke="#d98aa0" stroke-width="1.6"/><polygon points="10.5,0 5.5,-3 5.5,3" fill="#d98aa0"/><polygon points="-10.5,0 -5.5,-3 -5.5,3" fill="#d98aa0"/><ellipse cx="0" cy="0" rx="3.6" ry="2.6" fill="#d98aa0"/></g>
<g transform="translate(1030,170) rotate(90)"><line x1="-8.5" y1="0" x2="8.5" y2="0" stroke="#d98aa0" stroke-width="1.6"/><polygon points="10.5,0 5.5,-3 5.5,3" fill="#d98aa0"/><polygon points="-10.5,0 -5.5,-3 -5.5,3" fill="#d98aa0"/><ellipse cx="0" cy="0" rx="3.6" ry="2.6" fill="#d98aa0"/></g>
<g transform="translate(1065.6,179) rotate(-35)"><line x1="-8.5" y1="0" x2="8.5" y2="0" stroke="#d98aa0" stroke-width="1.6"/><polygon points="10.5,0 5.5,-3 5.5,3" fill="#d98aa0"/><polygon points="-10.5,0 -5.5,-3 -5.5,3" fill="#d98aa0"/><ellipse cx="0" cy="0" rx="3.6" ry="2.6" fill="#d98aa0"/></g>
<g transform="translate(966.8,185) rotate(60)"><line x1="-8.5" y1="0" x2="8.5" y2="0" stroke="#d98aa0" stroke-width="1.6"/><polygon points="10.5,0 5.5,-3 5.5,3" fill="#d98aa0"/><polygon points="-10.5,0 -5.5,-3 -5.5,3" fill="#d98aa0"/><ellipse cx="0" cy="0" rx="3.6" ry="2.6" fill="#d98aa0"/></g>
<g transform="translate(915.8,191.4) rotate(-60)"><line x1="-8.5" y1="0" x2="8.5" y2="0" stroke="#d98aa0" stroke-width="1.6"/><polygon points="10.5,0 5.5,-3 5.5,3" fill="#d98aa0"/><polygon points="-10.5,0 -5.5,-3 -5.5,3" fill="#d98aa0"/><ellipse cx="0" cy="0" rx="3.6" ry="2.6" fill="#d98aa0"/></g>
<g transform="translate(1031.6,196) rotate(30)"><line x1="-8.5" y1="0" x2="8.5" y2="0" stroke="#d98aa0" stroke-width="1.6"/><polygon points="10.5,0 5.5,-3 5.5,3" fill="#d98aa0"/><polygon points="-10.5,0 -5.5,-3 -5.5,3" fill="#d98aa0"/><ellipse cx="0" cy="0" rx="3.6" ry="2.6" fill="#d98aa0"/></g>
<g transform="translate(979,219) rotate(60)"><line x1="-8.5" y1="0" x2="8.5" y2="0" stroke="#d98aa0" stroke-width="1.6"/><polygon points="10.5,0 5.5,-3 5.5,3" fill="#d98aa0"/><polygon points="-10.5,0 -5.5,-3 -5.5,3" fill="#d98aa0"/><ellipse cx="0" cy="0" rx="3.6" ry="2.6" fill="#d98aa0"/></g>
<g transform="translate(1068.7,217.7) rotate(65)"><line x1="-10" y1="0" x2="10" y2="0" stroke="#f24a4f" stroke-width="1.6"/><polygon points="12,0 7,-3 7,3" fill="#f24a4f"/><polygon points="-12,0 -7,-3 -7,3" fill="#f24a4f"/><ellipse cx="0" cy="0" rx="3.6" ry="2.6" fill="#f24a4f"/></g>
<g transform="translate(915.8,230) rotate(-70)"><line x1="-10" y1="0" x2="10" y2="0" stroke="#f24a4f" stroke-width="1.6"/><polygon points="12,0 7,-3 7,3" fill="#f24a4f"/><polygon points="-12,0 -7,-3 -7,3" fill="#f24a4f"/><ellipse cx="0" cy="0" rx="3.6" ry="2.6" fill="#f24a4f"/></g>
<g transform="translate(1000.7,251.6) rotate(90)"><line x1="-10" y1="0" x2="10" y2="0" stroke="#f24a4f" stroke-width="1.6"/><polygon points="12,0 7,-3 7,3" fill="#f24a4f"/><polygon points="-12,0 -7,-3 -7,3" fill="#f24a4f"/><ellipse cx="0" cy="0" rx="3.6" ry="2.6" fill="#f24a4f"/></g>
<line x1="1074" y1="122" x2="1228" y2="72" stroke="#111" stroke-width="3.6" stroke-dasharray="10,8"/>
<line x1="1074" y1="242" x2="1235" y2="294.5" stroke="#111" stroke-width="3.6" stroke-dasharray="10,8"/>
<text x="806" y="68" font-size="34" fill="#0c1a20" text-anchor="start" font-weight="normal" font-family="'Liberation Sans', Arial, sans-serif" >SiC</text>
<text x="806" y="300" font-size="32" fill="#0a0a0a" text-anchor="start" font-weight="normal" font-family="'Liberation Sans', Arial, sans-serif" >Ag</text>
<text x="1018" y="296" font-size="34" fill="#e8373a" text-anchor="start" font-weight="normal" font-family="'Liberation Sans', Arial, sans-serif" >V</text>
<text x="1040" y="305" font-size="17" fill="#e8373a" text-anchor="start" font-weight="normal" font-family="'Liberation Sans', Arial, sans-serif" >Si</text>
<text transform="translate(731.4,41.6) scale(1.046,1)" x="0" y="0" font-size="40" fill="#000" text-anchor="start" font-weight="normal" font-family="'Liberation Sans', Arial, sans-serif" >(c)</text>
<defs><clipPath id="clipD"><rect x="1312.3" y="13.6" width="391.4" height="263"/></clipPath></defs><g clip-path="url(#clipD)">
<path d="M1312.3,269 L1312.7,268.3 L1313.2,265.3 L1313.6,266.9 L1314,270.6 L1314.5,268 L1314.9,269 L1315.3,267.8 L1315.8,270.5 L1316.2,267.6 L1316.7,267.6 L1317.1,265.5 L1317.5,267.5 L1318,267.2 L1318.4,270.4 L1318.8,264.4 L1319.3,271 L1319.7,266.2 L1320.1,268.5 L1320.6,269.4 L1321,269 L1321.4,269.1 L1321.9,267.4 L1322.3,268.2 L1322.7,265.6 L1323.2,270.9 L1323.6,268 L1324.1,269.4 L1324.5,266.8 L1324.9,271.4 L1325.4,268.5 L1325.8,267.7 L1326.2,270.3 L1326.7,266.4 L1327.1,267.7 L1327.5,266.4 L1328,266.5 L1328.4,269.5 L1328.8,269.3 L1329.3,268.3 L1329.7,266.8 L1330.2,266.6 L1330.6,269.1 L1331,269 L1331.5,269.3 L1331.9,268.9 L1332.3,268.4 L1332.8,268.2 L1333.2,264.7 L1333.6,268.8 L1334.1,268.4 L1334.5,267.3 L1334.9,269.5 L1335.4,268.6 L1335.8,268 L1336.2,266.8 L1336.7,270.1 L1337.1,265.8 L1337.6,268.5 L1338,267.7 L1338.4,266.6 L1338.9,266.9 L1339.3,266.3 L1339.7,267.7 L1340.2,268 L1340.6,267.5 L1341,269.6 L1341.5,266.1 L1341.9,269.2 L1342.3,270 L1342.8,264.7 L1343.2,268.2 L1343.6,269.9 L1344.1,265 L1344.5,268.5 L1345,266.3 L1345.4,269.3 L1345.8,268.4 L1346.3,270.7 L1346.7,271 L1347.1,269.5 L1347.6,268.1 L1348,266.7 L1348.4,264.1 L1348.9,269.6 L1349.3,266.4 L1349.7,268.9 L1350.2,268.2 L1350.6,270.3 L1351,270.3 L1351.5,269.2 L1351.9,269.9 L1352.4,268 L1352.8,269.1 L1353.2,266 L1353.7,267.7 L1354.1,267.7 L1354.5,266.2 L1355,267.2 L1355.4,268 L1355.8,268.1 L1356.3,268.2 L1356.7,266.3 L1357.1,266.7 L1357.6,267.4 L1358,266.7 L1358.4,268.8 L1358.9,267.2 L1359.3,270.2 L1359.8,265.8 L1360.2,267.8 L1360.6,267.7 L1361.1,267 L1361.5,268 L1361.9,268.4 L1362.4,266.1 L1362.8,267.8 L1363.2,269.4 L1363.7,267.3 L1364.1,270.7 L1364.5,265.3 L1365,268.2 L1365.4,267.9 L1365.9,264.4 L1366.3,264.5 L1366.7,267.8 L1367.2,267 L1367.6,266.2 L1368,265.3 L1368.5,268.2 L1368.9,267.7 L1369.3,266 L1369.8,267.5 L1370.2,266.8 L1370.6,267 L1371.1,269.8 L1371.5,269.3 L1371.9,272.2 L1372.4,268.4 L1372.8,265.8 L1373.3,269.7 L1373.7,266 L1374.1,266.4 L1374.6,268 L1375,268 L1375.4,267.8 L1375.9,269.3 L1376.3,268.4 L1376.7,268 L1377.2,267 L1377.6,266.7 L1378,269.1 L1378.5,266.6 L1378.9,269.2 L1379.3,268.2 L1379.8,267.3 L1380.2,267.9 L1380.7,268.1 L1381.1,267.5 L1381.5,268.8 L1382,268.9 L1382.4,268.2 L1382.8,266.3 L1383.3,268 L1383.7,264.8 L1384.1,267.5 L1384.6,272.6 L1385,268.5 L1385.4,265.2 L1385.9,267.8 L1386.3,268.5 L1386.7,269.1 L1387.2,265.6 L1387.6,266.1 L1388.1,266.6 L1388.5,267 L1388.9,265.3 L1389.4,266.3 L1389.8,269.5 L1390.2,266.2 L1390.7,267.1 L1391.1,267.5 L1391.5,266 L1392,267 L1392.4,271.5 L1392.8,264.2 L1393.3,264.7 L1393.7,266.1 L1394.2,266 L1394.6,264.2 L1395,265.4 L1395.5,261.2 L1395.9,259.8 L1396.3,257.4 L1396.8,256.8 L1397.2,257.1 L1397.6,256.7 L1398.1,258.8 L1398.5,262 L1398.9,264.3 L1399.4,266.5 L1399.8,264.6 L1400.2,263.7 L1400.7,269.1 L1401.1,264.9 L1401.6,270.4 L1402,267.7 L1402.4,266.7 L1402.9,269.5 L1403.3,269.8 L1403.7,267.2 L1404.2,266.2 L1404.6,268.4 L1405,265.5 L1405.5,268.9 L1405.9,264.9 L1406.3,267.5 L1406.8,267.4 L1407.2,266.8 L1407.6,267.3 L1408.1,264.9 L1408.5,264.3 L1409,267 L1409.4,268.1 L1409.8,269.7 L1410.3,269 L1410.7,267.8 L1411.1,268 L1411.6,267.9 L1412,267.9 L1412.4,267.1 L1412.9,270 L1413.3,269.5 L1413.7,266.1 L1414.2,266.6 L1414.6,268.7 L1415,265.8 L1415.5,269 L1415.9,268.3 L1416.4,270.8 L1416.8,266.6 L1417.2,267.9 L1417.7,266.2 L1418.1,266.8 L1418.5,267.8 L1419,267.7 L1419.4,266 L1419.8,268.2 L1420.3,268.1 L1420.7,267.8 L1421.1,266.6 L1421.6,266.4 L1422,264.8 L1422.4,268 L1422.9,265.9 L1423.3,268.9 L1423.8,266.9 L1424.2,267.7 L1424.6,265.1 L1425.1,266.9 L1425.5,268.6 L1425.9,266.9 L1426.4,267.3 L1426.8,268.3 L1427.2,268.3 L1427.7,269.3 L1428.1,263.5 L1428.5,267.6 L1429,266.3 L1429.4,269.7 L1429.9,269.6 L1430.3,268.1 L1430.7,268.1 L1431.2,266.5 L1431.6,269.4 L1432,267 L1432.5,265.4 L1432.9,269.3 L1433.3,266.4 L1433.8,269.3 L1434.2,267.2 L1434.6,267.2 L1435.1,265 L1435.5,268.9 L1435.9,267.5 L1436.4,266.1 L1436.8,269.6 L1437.3,267.8 L1437.7,269.2 L1438.1,268.9 L1438.6,266.7 L1439,266.6 L1439.4,263.7 L1439.9,265.6 L1440.3,265.7 L1440.7,268 L1441.2,268.2 L1441.6,267.5 L1442,271.3 L1442.5,265.1 L1442.9,268.8 L1443.3,269.4 L1443.8,268.4 L1444.2,266.3 L1444.7,265.7 L1445.1,268.3 L1445.5,267 L1446,267.8 L1446.4,269.3 L1446.8,267.4 L1447.3,267.6 L1447.7,270.1 L1448.1,265.9 L1448.6,270.1 L1449,267.3 L1449.4,269.3 L1449.9,268.9 L1450.3,268.7 L1450.7,266.5 L1451.2,269.6 L1451.6,267.9 L1452.1,265.1 L1452.5,268.7 L1452.9,267.6 L1453.4,266.5 L1453.8,268.5 L1454.2,266.8 L1454.7,268.6 L1455.1,266.4 L1455.5,267.4 L1456,269 L1456.4,265.2 L1456.8,267.6 L1457.3,267.9 L1457.7,268.9 L1458.1,268.2 L1458.6,267.6 L1459,267.1 L1459.5,265.6 L1459.9,269.5 L1460.3,267.9 L1460.8,265.4 L1461.2,267 L1461.6,266.6 L1462.1,264.7 L1462.5,266.7 L1462.9,266.5 L1463.4,267.3 L1463.8,264.4 L1464.2,265.5 L1464.7,268.3 L1465.1,266.3 L1465.6,269 L1466,265.4 L1466.4,266 L1466.9,267.4 L1467.3,267.7 L1467.7,269.9 L1468.2,265.8 L1468.6,267.2 L1469,267.5 L1469.5,265.8 L1469.9,268 L1470.3,267.9 L1470.8,268.1 L1471.2,269.1 L1471.6,263.1 L1472.1,267.2 L1472.5,267.4 L1473,265.4 L1473.4,271.9 L1473.8,266.9 L1474.3,266.8 L1474.7,268.4 L1475.1,266.1 L1475.6,270 L1476,266.8 L1476.4,265.4 L1476.9,270.3 L1477.3,269.1 L1477.7,267 L1478.2,266.8 L1478.6,267.8 L1479,266.2 L1479.5,266.4 L1479.9,268.9 L1480.4,267 L1480.8,268.8 L1481.2,270.1 L1481.7,270.6 L1482.1,265.2 L1482.5,267 L1483,263.7 L1483.4,269.1 L1483.8,267.3 L1484.3,266.2 L1484.7,267 L1485.1,265.9 L1485.6,266.5 L1486,267.7 L1486.4,270.4 L1486.9,268.2 L1487.3,263.9 L1487.8,265.4 L1488.2,264.4 L1488.6,267.6 L1489.1,266.9 L1489.5,268 L1489.9,266 L1490.4,266.5 L1490.8,265.8 L1491.2,263.7 L1491.7,267.9 L1492.1,265.3 L1492.5,268.7 L1493,264.7 L1493.4,267.2 L1493.9,266.6 L1494.3,266.3 L1494.7,263.8 L1495.2,266.5 L1495.6,267.2 L1496,268.3 L1496.5,266 L1496.9,267.8 L1497.3,267.2 L1497.8,266.5 L1498.2,265.4 L1498.6,267.6 L1499.1,265.3 L1499.5,263.6 L1499.9,268.8 L1500.4,264.2 L1500.8,263 L1501.3,267.3 L1501.7,265.4 L1502.1,268.6 L1502.6,265.8 L1503,266.9 L1503.4,265.9 L1503.9,267.8 L1504.3,267.7 L1504.7,267.1 L1505.2,267.5 L1505.6,267.4 L1506,266.7 L1506.5,268.1 L1506.9,266.6 L1507.3,265.6 L1507.8,270.1 L1508.2,266.1 L1508.7,267.6 L1509.1,268.2 L1509.5,268.5 L1510,267.7 L1510.4,267.6 L1510.8,265.8 L1511.3,268.4 L1511.7,264.7 L1512.1,267.7 L1512.6,265.3 L1513,264.6 L1513.4,268.3 L1513.9,264.7 L1514.3,262.9 L1514.7,267 L1515.2,265.4 L1515.6,266.5 L1516.1,266.1 L1516.5,266.6 L1516.9,267 L1517.4,265.1 L1517.8,264.8 L1518.2,266.2 L1518.7,263.8 L1519.1,264.4 L1519.5,265 L1520,267.3 L1520.4,263.1 L1520.8,264 L1521.3,269.6 L1521.7,267.9 L1522.1,266.9 L1522.6,264.6 L1523,264.1 L1523.5,266.6 L1523.9,265.7 L1524.3,265 L1524.8,268.1 L1525.2,265.2 L1525.6,266.6 L1526.1,265.8 L1526.5,266.2 L1526.9,268 L1527.4,267.7 L1527.8,266 L1528.2,265.9 L1528.7,266.5 L1529.1,264.4 L1529.6,266.7 L1530,268 L1530.4,266.6 L1530.9,266.4 L1531.3,266.3 L1531.7,264.2 L1532.2,265.3 L1532.6,264.4 L1533,265.1 L1533.5,266.3 L1533.9,264.4 L1534.3,266.5 L1534.8,265.7 L1535.2,267.7 L1535.6,265.9 L1536.1,266.6 L1536.5,265.5 L1537,263.2 L1537.4,262.3 L1537.8,264.5 L1538.3,266.1 L1538.7,264.8 L1539.1,265.7 L1539.6,267 L1540,266.2 L1540.4,266.5 L1540.9,267 L1541.3,263.9 L1541.7,266.9 L1542.2,266.9 L1542.6,265 L1543,267.2 L1543.5,267.9 L1543.9,267.4 L1544.4,265.3 L1544.8,265.5 L1545.2,265.6 L1545.7,266.8 L1546.1,267.5 L1546.5,264.6 L1547,268.4 L1547.4,266.4 L1547.8,268.2 L1548.3,266.7 L1548.7,266.3 L1549.1,264.1 L1549.6,270.6 L1550,263.9 L1550.4,267.5 L1550.9,265.6 L1551.3,264.8 L1551.8,267.3 L1552.2,266.2 L1552.6,265.3 L1553.1,266.2 L1553.5,267.2 L1553.9,265.7 L1554.4,265.9 L1554.8,268.4 L1555.2,263.9 L1555.7,265.7 L1556.1,269.9 L1556.5,267.4 L1557,263.3 L1557.4,263.5 L1557.9,265.6 L1558.3,268.7 L1558.7,266.4 L1559.2,264.3 L1559.6,265.4 L1560,266.6 L1560.5,267.2 L1560.9,264.7 L1561.3,266.4 L1561.8,265.5 L1562.2,265.2 L1562.6,263.4 L1563.1,265.7 L1563.5,265.6 L1563.9,268.9 L1564.4,264.2 L1564.8,264.6 L1565.3,266 L1565.7,269.6 L1566.1,266.9 L1566.6,265.9 L1567,262.7 L1567.4,265.1 L1567.9,264.7 L1568.3,264.7 L1568.7,263.9 L1569.2,267.8 L1569.6,267.4 L1570,267.9 L1570.5,266.5 L1570.9,266.6 L1571.3,265.9 L1571.8,267.7 L1572.2,265.9 L1572.7,267.4 L1573.1,262.7 L1573.5,266.9 L1574,262 L1574.4,263.4 L1574.8,267.9 L1575.3,264.5 L1575.7,265.1 L1576.1,268.5 L1576.6,265.1 L1577,266.2 L1577.4,265.5 L1577.9,267.4 L1578.3,266.1 L1578.7,265.4 L1579.2,266.3 L1579.6,267 L1580.1,266.3 L1580.5,267.6 L1580.9,265.5 L1581.4,270.1 L1581.8,263.6 L1582.2,265.9 L1582.7,265.3 L1583.1,264.7 L1583.5,268 L1584,262.4 L1584.4,267.8 L1584.8,265.3 L1585.3,265.5 L1585.7,263.9 L1586.1,266 L1586.6,268.3 L1587,265.5 L1587.5,269.9 L1587.9,266.3 L1588.3,266.8 L1588.8,263.5 L1589.2,266.5 L1589.6,266.7 L1590.1,267.2 L1590.5,267.4 L1590.9,266.9 L1591.4,265.1 L1591.8,268.1 L1592.2,266.4 L1592.7,268.4 L1593.1,266.3 L1593.6,265.8 L1594,268 L1594.4,266.9 L1594.9,265.8 L1595.3,264.8 L1595.7,264.5 L1596.2,266.2 L1596.6,267.6 L1597,268.6 L1597.5,264.8 L1597.9,263.8 L1598.3,265.4 L1598.8,263.5 L1599.2,266.7 L1599.6,266.6 L1600.1,263.5 L1600.5,267.6 L1601,265 L1601.4,265.3 L1601.8,265.7 L1602.3,263.1 L1602.7,267.3 L1603.1,266.5 L1603.6,269.1 L1604,267.4 L1604.4,266.5 L1604.9,266.3 L1605.3,265.9 L1605.7,265 L1606.2,266.4 L1606.6,268.3 L1607,264.7 L1607.5,263.9 L1607.9,265.9 L1608.4,264.5 L1608.8,259.2 L1609.2,258.6 L1609.7,256.3 L1610.1,255.5 L1610.5,257.2 L1611,260.4 L1611.4,260.7 L1611.8,263.3 L1612.3,264.5 L1612.7,264.4 L1613.1,264.9 L1613.6,263.7 L1614,266.8 L1614.4,261.4 L1614.9,267.1 L1615.3,266.3 L1615.8,264.2 L1616.2,267.1 L1616.6,266.6 L1617.1,265.8 L1617.5,270.6 L1617.9,266.7 L1618.4,267.4 L1618.8,266.3 L1619.2,265.1 L1619.7,264.9 L1620.1,263.5 L1620.5,263.7 L1621,264.3 L1621.4,266 L1621.8,264.3 L1622.3,267.6 L1622.7,266.2 L1623.2,263.7 L1623.6,264.7 L1624,268.3 L1624.5,267 L1624.9,264.6 L1625.3,265 L1625.8,264.3 L1626.2,268.9 L1626.6,268.1 L1627.1,266.4 L1627.5,267.6 L1627.9,266.1 L1628.4,266 L1628.8,265.5 L1629.3,266.2 L1629.7,265.1 L1630.1,264.8 L1630.6,265.8 L1631,268 L1631.4,264 L1631.9,265.7 L1632.3,265.3 L1632.7,265.8 L1633.2,268.6 L1633.6,265.1 L1634,267.1 L1634.5,268 L1634.9,264 L1635.3,266.5 L1635.8,265.6 L1636.2,264.6 L1636.7,263.4 L1637.1,268.9 L1637.5,267.2 L1638,265 L1638.4,267.1 L1638.8,271.3 L1639.3,265.8 L1639.7,265.7 L1640.1,264.8 L1640.6,265.7 L1641,266.7 L1641.4,265.7 L1641.9,266.1 L1642.3,266.9 L1642.7,265.6 L1643.2,265.5 L1643.6,267.7 L1644.1,264.4 L1644.5,264.7 L1644.9,264.8 L1645.4,270.4 L1645.8,265.9 L1646.2,266.2 L1646.7,267.6 L1647.1,265.1 L1647.5,268.5 L1648,264.1 L1648.4,265.4 L1648.8,266.9 L1649.3,263.8 L1649.7,265.3 L1650.1,265.5 L1650.6,268.1 L1651,265.2 L1651.5,263.8 L1651.9,264.3 L1652.3,268.1 L1652.8,263.8 L1653.2,263.5 L1653.6,264.7 L1654.1,266.7 L1654.5,268.5 L1654.9,267.5 L1655.4,267 L1655.8,265.6 L1656.2,265.2 L1656.7,267.3 L1657.1,268.7 L1657.6,266.8 L1658,268.2 L1658.4,264 L1658.9,268.1 L1659.3,265.3 L1659.7,264.8 L1660.2,267.7 L1660.6,264.5 L1661,266.4 L1661.5,267.4 L1661.9,267.7 L1662.3,266 L1662.8,264.4 L1663.2,269.2 L1663.6,265.2 L1664.1,266.4 L1664.5,267.4 L1665,266.3 L1665.4,266.2 L1665.8,266.3 L1666.3,264.9 L1666.7,267.6 L1667.1,263 L1667.6,264.7 L1668,267.1 L1668.4,269.2 L1668.9,266.2 L1669.3,266.8 L1669.7,264.9 L1670.2,265 L1670.6,263.1 L1671,266.3 L1671.5,264.9 L1671.9,266.8 L1672.4,266.7 L1672.8,263.7 L1673.2,266.3 L1673.7,266.3 L1674.1,266.7 L1674.5,265.6 L1675,265.1 L1675.4,266.3 L1675.8,267.9 L1676.3,265.5 L1676.7,267.4 L1677.1,266.7 L1677.6,265.7 L1678,265.7 L1678.4,269.8 L1678.9,263.3 L1679.3,264.8 L1679.8,263 L1680.2,262 L1680.6,267.6 L1681.1,267 L1681.5,265.7 L1681.9,264.6 L1682.4,266.9 L1682.8,266.6 L1683.2,264.4 L1683.7,267.5 L1684.1,265.8 L1684.5,264.4 L1685,266.5 L1685.4,264.9 L1685.8,266.3 L1686.3,268.7 L1686.7,267 L1687.2,266.5 L1687.6,266.7 L1688,266.1 L1688.5,265.5 L1688.9,265.7 L1689.3,265.9 L1689.8,266.9 L1690.2,266.6 L1690.6,266.8 L1691.1,267.2 L1691.5,264 L1691.9,269.3 L1692.4,265.9 L1692.8,268.9 L1693.3,267.2 L1693.7,265 L1694.1,266.7 L1694.6,264 L1695,267.8 L1695.4,266.8 L1695.9,267.3 L1696.3,266.3 L1696.7,266.8 L1697.2,266.9 L1697.6,266.2 L1698,264.6 L1698.5,266.1 L1698.9,266.3 L1699.3,266.9 L1699.8,267.5 L1700.2,268.7 L1700.7,268.1 L1701.1,266.4 L1701.5,269.5 L1702,265.4 L1702.4,267.1 L1702.8,268 L1703.3,267.3 L1703.7,265.4" fill="none" stroke="#202020" stroke-width="1.4" stroke-linejoin="round" />
<path d="M1312.3,267.7 L1312.7,267.9 L1313.2,265 L1313.6,263.9 L1314,270.8 L1314.5,266.7 L1314.9,269.8 L1315.3,270.9 L1315.8,269.3 L1316.2,266.3 L1316.7,268.8 L1317.1,269.1 L1317.5,265.5 L1318,267.2 L1318.4,268.3 L1318.8,264.6 L1319.3,267.1 L1319.7,269.4 L1320.1,270.1 L1320.6,268.8 L1321,267.7 L1321.4,266.2 L1321.9,266.4 L1322.3,267.8 L1322.7,270.2 L1323.2,266.2 L1323.6,267.8 L1324.1,270.1 L1324.5,270.4 L1324.9,267.6 L1325.4,267.3 L1325.8,266.4 L1326.2,270.3 L1326.7,264.3 L1327.1,271.5 L1327.5,268.1 L1328,265.4 L1328.4,266 L1328.8,269.9 L1329.3,266.9 L1329.7,265.7 L1330.2,266.6 L1330.6,269.9 L1331,264.8 L1331.5,271.2 L1331.9,268 L1332.3,270.1 L1332.8,268.9 L1333.2,268.7 L1333.6,267.1 L1334.1,270.5 L1334.5,267.7 L1334.9,265.6 L1335.4,267.9 L1335.8,267.1 L1336.2,267.3 L1336.7,269.5 L1337.1,268.8 L1337.6,268 L1338,267.2 L1338.4,264.2 L1338.9,265 L1339.3,269 L1339.7,268.9 L1340.2,270.1 L1340.6,272.6 L1341,265.6 L1341.5,267.1 L1341.9,271.9 L1342.3,268.1 L1342.8,263.6 L1343.2,267.2 L1343.6,267.1 L1344.1,267.7 L1344.5,269.6 L1345,270.4 L1345.4,269.7 L1345.8,267.8 L1346.3,268.5 L1346.7,266.7 L1347.1,264.7 L1347.6,266.9 L1348,266.4 L1348.4,268.7 L1348.9,270.6 L1349.3,263.9 L1349.7,266.6 L1350.2,265.8 L1350.6,268.8 L1351,271.3 L1351.5,265.5 L1351.9,272.2 L1352.4,268.4 L1352.8,269.1 L1353.2,267.6 L1353.7,266.5 L1354.1,266.4 L1354.5,272.1 L1355,266.1 L1355.4,271.7 L1355.8,266.7 L1356.3,268.9 L1356.7,270.2 L1357.1,269.1 L1357.6,270.6 L1358,268.1 L1358.4,266.2 L1358.9,266.5 L1359.3,267.9 L1359.8,265.9 L1360.2,267 L1360.6,263.8 L1361.1,267 L1361.5,269.2 L1361.9,268.6 L1362.4,269.5 L1362.8,268.6 L1363.2,268.3 L1363.7,266.7 L1364.1,266.5 L1364.5,267.9 L1365,267.2 L1365.4,269.4 L1365.9,269.1 L1366.3,272.8 L1366.7,269.5 L1367.2,269 L1367.6,263 L1368,270.6 L1368.5,267.9 L1368.9,268.7 L1369.3,271.1 L1369.8,267.5 L1370.2,268 L1370.6,270.8 L1371.1,272.5 L1371.5,268.1 L1371.9,270.8 L1372.4,266.7 L1372.8,268.5 L1373.3,266.9 L1373.7,268.6 L1374.1,265 L1374.6,266.6 L1375,265 L1375.4,267.7 L1375.9,269.9 L1376.3,270.7 L1376.7,268.9 L1377.2,267.3 L1377.6,269.1 L1378,263.1 L1378.5,268 L1378.9,267 L1379.3,267.7 L1379.8,270.3 L1380.2,265.8 L1380.7,266.6 L1381.1,266.1 L1381.5,269.6 L1382,267.7 L1382.4,267.8 L1382.8,265.5 L1383.3,270.4 L1383.7,266.4 L1384.1,265.2 L1384.6,268.5 L1385,269.2 L1385.4,265 L1385.9,267.1 L1386.3,265.4 L1386.7,266.1 L1387.2,265.4 L1387.6,267.8 L1388.1,271.5 L1388.5,266.2 L1388.9,268.6 L1389.4,266 L1389.8,268.1 L1390.2,263.8 L1390.7,267.4 L1391.1,265.1 L1391.5,264.4 L1392,266.5 L1392.4,265.4 L1392.8,265.6 L1393.3,266.9 L1393.7,261.5 L1394.2,265.1 L1394.6,264.8 L1395,260.5 L1395.5,255.7 L1395.9,250.5 L1396.3,244.6 L1396.8,240.3 L1397.2,245.9 L1397.6,247 L1398.1,250.8 L1398.5,259.8 L1398.9,264.6 L1399.4,261.4 L1399.8,264.4 L1400.2,272.7 L1400.7,266.9 L1401.1,268.8 L1401.6,268.5 L1402,262.6 L1402.4,264.8 L1402.9,267.2 L1403.3,266.9 L1403.7,264 L1404.2,269.3 L1404.6,265.8 L1405,268.6 L1405.5,265.7 L1405.9,267 L1406.3,268.9 L1406.8,265.4 L1407.2,266.4 L1407.6,263.9 L1408.1,268.3 L1408.5,267.3 L1409,268.9 L1409.4,265.2 L1409.8,269.1 L1410.3,267.7 L1410.7,265.1 L1411.1,266.6 L1411.6,267.1 L1412,267.1 L1412.4,267 L1412.9,266.4 L1413.3,268.3 L1413.7,271.6 L1414.2,265.1 L1414.6,269.8 L1415,264.1 L1415.5,267.2 L1415.9,261.5 L1416.4,265.4 L1416.8,266.9 L1417.2,265.9 L1417.7,270.5 L1418.1,267.4 L1418.5,268.5 L1419,267.7 L1419.4,271.8 L1419.8,272.1 L1420.3,266.3 L1420.7,267.7 L1421.1,268.6 L1421.6,268 L1422,269.1 L1422.4,268.7 L1422.9,266.4 L1423.3,268.2 L1423.8,266.4 L1424.2,269.2 L1424.6,271.4 L1425.1,269.1 L1425.5,268 L1425.9,270 L1426.4,268.5 L1426.8,268.8 L1427.2,265.9 L1427.7,266.1 L1428.1,265.6 L1428.5,269.3 L1429,267.1 L1429.4,265.2 L1429.9,267.4 L1430.3,267.8 L1430.7,269.2 L1431.2,266 L1431.6,267.3 L1432,265.7 L1432.5,267.9 L1432.9,263.5 L1433.3,267.7 L1433.8,270 L1434.2,267.2 L1434.6,266.6 L1435.1,265 L1435.5,268.5 L1435.9,268.6 L1436.4,268 L1436.8,268.3 L1437.3,271.7 L1437.7,266 L1438.1,265 L1438.6,268.9 L1439,269.3 L1439.4,267.7 L1439.9,269 L1440.3,265.8 L1440.7,268.5 L1441.2,266.1 L1441.6,269.7 L1442,270 L1442.5,270.3 L1442.9,270 L1443.3,266.3 L1443.8,265.4 L1444.2,266.8 L1444.7,266.6 L1445.1,271.4 L1445.5,264.8 L1446,269.4 L1446.4,264.3 L1446.8,262.1 L1447.3,266.7 L1447.7,265.6 L1448.1,265.6 L1448.6,269.4 L1449,269 L1449.4,268.1 L1449.9,266.4 L1450.3,265 L1450.7,266.4 L1451.2,264.4 L1451.6,267.5 L1452.1,269.3 L1452.5,266.4 L1452.9,266.5 L1453.4,269.2 L1453.8,264.3 L1454.2,268.2 L1454.7,267.7 L1455.1,265.8 L1455.5,268.3 L1456,264.9 L1456.4,265.4 L1456.8,265.2 L1457.3,266.1 L1457.7,267 L1458.1,267.5 L1458.6,265.3 L1459,263.2 L1459.5,264.3 L1459.9,265.1 L1460.3,263.8 L1460.8,263.2 L1461.2,268.2 L1461.6,265.8 L1462.1,263.3 L1462.5,266.9 L1462.9,266.5 L1463.4,264.4 L1463.8,266 L1464.2,263.1 L1464.7,266.1 L1465.1,264.3 L1465.6,260.5 L1466,263.1 L1466.4,268 L1466.9,267.4 L1467.3,267.3 L1467.7,265.4 L1468.2,268 L1468.6,264.2 L1469,261.9 L1469.5,262.2 L1469.9,266.7 L1470.3,265.8 L1470.8,265.8 L1471.2,266.8 L1471.6,261.8 L1472.1,266.5 L1472.5,267.3 L1473,264.4 L1473.4,264.5 L1473.8,262.1 L1474.3,262.1 L1474.7,265.4 L1475.1,269.2 L1475.6,263.7 L1476,263.5 L1476.4,261.5 L1476.9,268.1 L1477.3,267.3 L1477.7,262 L1478.2,261.8 L1478.6,262.5 L1479,265.1 L1479.5,262.5 L1479.9,266.1 L1480.4,267.4 L1480.8,265.1 L1481.2,264.8 L1481.7,263.4 L1482.1,262.9 L1482.5,268.4 L1483,264.4 L1483.4,264 L1483.8,267.5 L1484.3,265.5 L1484.7,264.9 L1485.1,264.1 L1485.6,266.7 L1486,266.1 L1486.4,267.1 L1486.9,264.3 L1487.3,265.6 L1487.8,266.1 L1488.2,263.7 L1488.6,265.3 L1489.1,267.3 L1489.5,262.7 L1489.9,263.1 L1490.4,264.1 L1490.8,267 L1491.2,262.8 L1491.7,266.1 L1492.1,268.6 L1492.5,265.2 L1493,261.4 L1493.4,265.8 L1493.9,263.8 L1494.3,262.3 L1494.7,264.6 L1495.2,265.5 L1495.6,264.9 L1496,263.8 L1496.5,265.9 L1496.9,264.2 L1497.3,263.8 L1497.8,265.6 L1498.2,263.5 L1498.6,263.8 L1499.1,265.5 L1499.5,265.3 L1499.9,264.7 L1500.4,265.2 L1500.8,265.3 L1501.3,266.9 L1501.7,264.7 L1502.1,263.5 L1502.6,263.7 L1503,266.5 L1503.4,263.8 L1503.9,263.7 L1504.3,266.7 L1504.7,263.9 L1505.2,265.2 L1505.6,265.6 L1506,264.4 L1506.5,265.3 L1506.9,269.2 L1507.3,264.5 L1507.8,267 L1508.2,265.1 L1508.7,263.6 L1509.1,265.3 L1509.5,265.7 L1510,264.6 L1510.4,263.9 L1510.8,266.5 L1511.3,266.1 L1511.7,263.9 L1512.1,261.8 L1512.6,264.9 L1513,263.2 L1513.4,266.3 L1513.9,264.9 L1514.3,264.8 L1514.7,267.4 L1515.2,264.9 L1515.6,265.3 L1516.1,269.8 L1516.5,265.1 L1516.9,264.4 L1517.4,264.5 L1517.8,264.3 L1518.2,267.1 L1518.7,266.3 L1519.1,265.3 L1519.5,266.6 L1520,265.8 L1520.4,262.6 L1520.8,266.6 L1521.3,265.6 L1521.7,261.5 L1522.1,265.2 L1522.6,266.9 L1523,264.5 L1523.5,264.6 L1523.9,264.7 L1524.3,268.1 L1524.8,264.4 L1525.2,264.2 L1525.6,261 L1526.1,263.6 L1526.5,265.7 L1526.9,264.3 L1527.4,263.6 L1527.8,265.1 L1528.2,264.9 L1528.7,262.2 L1529.1,263.9 L1529.6,263.8 L1530,266.6 L1530.4,264 L1530.9,268.4 L1531.3,262.4 L1531.7,265.6 L1532.2,263.5 L1532.6,262.1 L1533,266.8 L1533.5,262.5 L1533.9,264.3 L1534.3,262.5 L1534.8,265.4 L1535.2,266 L1535.6,262.2 L1536.1,263.9 L1536.5,264.6 L1537,266.8 L1537.4,262.2 L1537.8,265.3 L1538.3,265.1 L1538.7,266 L1539.1,264.7 L1539.6,263.6 L1540,264.8 L1540.4,264.8 L1540.9,265.7 L1541.3,261.9 L1541.7,261.6 L1542.2,265.2 L1542.6,266.3 L1543,264.2 L1543.5,267.7 L1543.9,264.2 L1544.4,264.2 L1544.8,264.4 L1545.2,261.7 L1545.7,261.3 L1546.1,263.9 L1546.5,265.4 L1547,262.8 L1547.4,262.6 L1547.8,267 L1548.3,266.1 L1548.7,265.2 L1549.1,267.8 L1549.6,266.8 L1550,261.6 L1550.4,267.1 L1550.9,263.1 L1551.3,266.2 L1551.8,262.8 L1552.2,264.1 L1552.6,263 L1553.1,267.3 L1553.5,264.2 L1553.9,265.8 L1554.4,263.3 L1554.8,263.4 L1555.2,264.4 L1555.7,264.9 L1556.1,264.7 L1556.5,264.2 L1557,265.7 L1557.4,265.5 L1557.9,265.9 L1558.3,266.7 L1558.7,262.8 L1559.2,267.2 L1559.6,262.3 L1560,263.4 L1560.5,267.9 L1560.9,268.2 L1561.3,264.7 L1561.8,266.7 L1562.2,264.5 L1562.6,262.9 L1563.1,264.1 L1563.5,265.1 L1563.9,265.1 L1564.4,262 L1564.8,265.4 L1565.3,261.5 L1565.7,260.9 L1566.1,265.4 L1566.6,264.1 L1567,261.5 L1567.4,266 L1567.9,263.9 L1568.3,262.7 L1568.7,266.6 L1569.2,264 L1569.6,264.4 L1570,265.6 L1570.5,261.8 L1570.9,264.9 L1571.3,260.4 L1571.8,263.3 L1572.2,266 L1572.7,264.1 L1573.1,266.1 L1573.5,263.1 L1574,263.4 L1574.4,266.8 L1574.8,265.4 L1575.3,263.7 L1575.7,264.5 L1576.1,266.5 L1576.6,262.6 L1577,262.1 L1577.4,267.4 L1577.9,261.9 L1578.3,268.5 L1578.7,264.9 L1579.2,265.9 L1579.6,265.7 L1580.1,264.3 L1580.5,266.8 L1580.9,264.9 L1581.4,261.5 L1581.8,263.8 L1582.2,261.9 L1582.7,263.1 L1583.1,267.7 L1583.5,261.4 L1584,263.1 L1584.4,263.4 L1584.8,265.4 L1585.3,265.6 L1585.7,266.6 L1586.1,265 L1586.6,264.5 L1587,265 L1587.5,265 L1587.9,268.3 L1588.3,266.1 L1588.8,266.2 L1589.2,264.1 L1589.6,265.5 L1590.1,265.5 L1590.5,264.5 L1590.9,265.6 L1591.4,265.2 L1591.8,262.6 L1592.2,265 L1592.7,266.4 L1593.1,263.6 L1593.6,263.2 L1594,263.5 L1594.4,267.1 L1594.9,262.9 L1595.3,264.6 L1595.7,264.4 L1596.2,264.5 L1596.6,263.8 L1597,263.8 L1597.5,261.9 L1597.9,264.2 L1598.3,264.8 L1598.8,263.5 L1599.2,264.8 L1599.6,262.6 L1600.1,264.4 L1600.5,263.3 L1601,265.6 L1601.4,262.8 L1601.8,263.5 L1602.3,266.2 L1602.7,265.3 L1603.1,264.4 L1603.6,267 L1604,266.6 L1604.4,263.6 L1604.9,263.6 L1605.3,262 L1605.7,266.8 L1606.2,265.1 L1606.6,268.1 L1607,261 L1607.5,266.5 L1607.9,264.3 L1608.4,260 L1608.8,260.5 L1609.2,264 L1609.7,257.3 L1610.1,260.1 L1610.5,263.2 L1611,261.7 L1611.4,261.8 L1611.8,262.3 L1612.3,267.8 L1612.7,260.7 L1613.1,267.2 L1613.6,264.7 L1614,261.8 L1614.4,263.8 L1614.9,264.6 L1615.3,265.7 L1615.8,263.5 L1616.2,262.1 L1616.6,265.6 L1617.1,263.9 L1617.5,265.3 L1617.9,265.4 L1618.4,268.5 L1618.8,264.2 L1619.2,262.9 L1619.7,264.9 L1620.1,262.7 L1620.5,264.3 L1621,262.4 L1621.4,264.4 L1621.8,265.3 L1622.3,265.6 L1622.7,264.5 L1623.2,264.1 L1623.6,266.1 L1624,264.9 L1624.5,267.1 L1624.9,267.1 L1625.3,263.5 L1625.8,264 L1626.2,263 L1626.6,264.4 L1627.1,264.2 L1627.5,261.3 L1627.9,266.2 L1628.4,264.1 L1628.8,261.8 L1629.3,260.9 L1629.7,263.6 L1630.1,264.9 L1630.6,266.6 L1631,265 L1631.4,264.4 L1631.9,264.6 L1632.3,263.7 L1632.7,263.6 L1633.2,265.5 L1633.6,266.3 L1634,265.2 L1634.5,263.9 L1634.9,261.7 L1635.3,267.7 L1635.8,262.7 L1636.2,265.2 L1636.7,262.7 L1637.1,261.3 L1637.5,263.8 L1638,266.8 L1638.4,265.5 L1638.8,264.1 L1639.3,265.3 L1639.7,264.8 L1640.1,266.1 L1640.6,265.1 L1641,265.9 L1641.4,263.2 L1641.9,264.2 L1642.3,263.4 L1642.7,267.7 L1643.2,265.6 L1643.6,266.1 L1644.1,265.5 L1644.5,266.3 L1644.9,266.1 L1645.4,261.9 L1645.8,265.2 L1646.2,267 L1646.7,265.3 L1647.1,260.6 L1647.5,263.5 L1648,266.4 L1648.4,265.2 L1648.8,264.9 L1649.3,264.7 L1649.7,268.1 L1650.1,266.5 L1650.6,265.1 L1651,267.9 L1651.5,265.1 L1651.9,264.6 L1652.3,263.3 L1652.8,262.8 L1653.2,265.1 L1653.6,264.3 L1654.1,263.5 L1654.5,262.9 L1654.9,264.6 L1655.4,266.1 L1655.8,263.7 L1656.2,263.2 L1656.7,264.5 L1657.1,263.7 L1657.6,261.9 L1658,265.7 L1658.4,266 L1658.9,266.7 L1659.3,264.1 L1659.7,263 L1660.2,265.7 L1660.6,261.4 L1661,265.8 L1661.5,264.2 L1661.9,264.9 L1662.3,262.2 L1662.8,265.9 L1663.2,261.7 L1663.6,265.1 L1664.1,267.2 L1664.5,265.8 L1665,265 L1665.4,261.7 L1665.8,265.6 L1666.3,264.7 L1666.7,261 L1667.1,264.4 L1667.6,265.9 L1668,266.1 L1668.4,267.6 L1668.9,264.1 L1669.3,262.5 L1669.7,265.4 L1670.2,266.7 L1670.6,264.3 L1671,264.8 L1671.5,265 L1671.9,264 L1672.4,264.7 L1672.8,265.5 L1673.2,263 L1673.7,268.2 L1674.1,266.9 L1674.5,265.3 L1675,267.3 L1675.4,262.1 L1675.8,268.8 L1676.3,263.5 L1676.7,263.8 L1677.1,264.2 L1677.6,264.1 L1678,265.9 L1678.4,266.2 L1678.9,262.3 L1679.3,265.1 L1679.8,267.5 L1680.2,267.1 L1680.6,267.7 L1681.1,264.4 L1681.5,262.8 L1681.9,265.4 L1682.4,264.6 L1682.8,265.8 L1683.2,263.2 L1683.7,263.2 L1684.1,263.1 L1684.5,261.5 L1685,267.1 L1685.4,263.3 L1685.8,267.6 L1686.3,263.5 L1686.7,263.3 L1687.2,263.4 L1687.6,263.3 L1688,265 L1688.5,265.9 L1688.9,263.3 L1689.3,265.9 L1689.8,263.4 L1690.2,266.3 L1690.6,264.1 L1691.1,264.2 L1691.5,266.2 L1691.9,265.3 L1692.4,263 L1692.8,264.6 L1693.3,263.8 L1693.7,265.7 L1694.1,264.5 L1694.6,267.4 L1695,266.1 L1695.4,262.4 L1695.9,263.7 L1696.3,264.7 L1696.7,264.4 L1697.2,267.1 L1697.6,263.9 L1698,266.9 L1698.5,266 L1698.9,263.5 L1699.3,266.1 L1699.8,265.7 L1700.2,264.9 L1700.7,264.6 L1701.1,262.3 L1701.5,267.8 L1702,265.5 L1702.4,263.7 L1702.8,265.7 L1703.3,265.5 L1703.7,266.2" fill="none" stroke="#e0262a" stroke-width="1.8" stroke-linejoin="round" />
<path d="M1312.3,268 L1312.7,265.9 L1313.2,264.7 L1313.6,266.6 L1314,264.4 L1314.5,267.1 L1314.9,270.8 L1315.3,265.7 L1315.8,271.6 L1316.2,267.4 L1316.7,267.3 L1317.1,269.7 L1317.5,267.8 L1318,268.5 L1318.4,267 L1318.8,268 L1319.3,266 L1319.7,268.1 L1320.1,266 L1320.6,267.3 L1321,266.8 L1321.4,267.1 L1321.9,268.3 L1322.3,265 L1322.7,266.1 L1323.2,272.1 L1323.6,269.9 L1324.1,263.7 L1324.5,267.9 L1324.9,261.4 L1325.4,266.4 L1325.8,266.4 L1326.2,268.3 L1326.7,267.8 L1327.1,267 L1327.5,265.4 L1328,267.1 L1328.4,267.4 L1328.8,269.4 L1329.3,268.3 L1329.7,268.2 L1330.2,267.6 L1330.6,268.9 L1331,269.7 L1331.5,268 L1331.9,272.6 L1332.3,270.6 L1332.8,269.1 L1333.2,266.6 L1333.6,268.9 L1334.1,269.8 L1334.5,266.1 L1334.9,267.8 L1335.4,264.7 L1335.8,268 L1336.2,269 L1336.7,268.3 L1337.1,263.9 L1337.6,264.3 L1338,267.2 L1338.4,265.4 L1338.9,270.5 L1339.3,265 L1339.7,266.9 L1340.2,267.8 L1340.6,267.5 L1341,267.1 L1341.5,268.6 L1341.9,268.4 L1342.3,270.2 L1342.8,264.4 L1343.2,269.5 L1343.6,268 L1344.1,265.6 L1344.5,265.2 L1345,264.7 L1345.4,269 L1345.8,268.7 L1346.3,267.9 L1346.7,271.7 L1347.1,266 L1347.6,271.2 L1348,268.1 L1348.4,266 L1348.9,266.1 L1349.3,268.8 L1349.7,266 L1350.2,265.6 L1350.6,271.4 L1351,268.4 L1351.5,266.5 L1351.9,267 L1352.4,268.3 L1352.8,268.1 L1353.2,263.1 L1353.7,268.7 L1354.1,265.7 L1354.5,270.4 L1355,266.8 L1355.4,265.7 L1355.8,268.7 L1356.3,269.1 L1356.7,263.9 L1357.1,268.2 L1357.6,265.6 L1358,270.7 L1358.4,264.1 L1358.9,271.8 L1359.3,269.6 L1359.8,268.9 L1360.2,267.7 L1360.6,267.2 L1361.1,264.2 L1361.5,263.2 L1361.9,263.6 L1362.4,265.8 L1362.8,267 L1363.2,271.8 L1363.7,267.6 L1364.1,268.7 L1364.5,266.1 L1365,269.5 L1365.4,269.2 L1365.9,269 L1366.3,266 L1366.7,267 L1367.2,269.5 L1367.6,271 L1368,268.6 L1368.5,268.7 L1368.9,268.5 L1369.3,267.2 L1369.8,265.8 L1370.2,265.7 L1370.6,268.8 L1371.1,268.9 L1371.5,264.1 L1371.9,267.8 L1372.4,265.8 L1372.8,266.9 L1373.3,266.5 L1373.7,263.9 L1374.1,267.7 L1374.6,264.9 L1375,266.1 L1375.4,267.5 L1375.9,268.1 L1376.3,268.3 L1376.7,264.7 L1377.2,265 L1377.6,268.9 L1378,266.2 L1378.5,270.9 L1378.9,266.9 L1379.3,262.7 L1379.8,269.5 L1380.2,266.3 L1380.7,268.3 L1381.1,266.7 L1381.5,269.1 L1382,266.5 L1382.4,271.8 L1382.8,267.4 L1383.3,267.4 L1383.7,266.9 L1384.1,262.4 L1384.6,269.1 L1385,268.1 L1385.4,269.4 L1385.9,265.4 L1386.3,266.4 L1386.7,268.8 L1387.2,264.2 L1387.6,265.5 L1388.1,262.9 L1388.5,264.1 L1388.9,265.3 L1389.4,266.9 L1389.8,269.5 L1390.2,265.8 L1390.7,261.6 L1391.1,263.9 L1391.5,264.3 L1392,260.9 L1392.4,258.3 L1392.8,251.7 L1393.3,256.3 L1393.7,249.5 L1394.2,241.8 L1394.6,222.9 L1395,180.7 L1395.5,100.2 L1395.9,32.6 L1396.3,110.5 L1396.8,185.7 L1397.2,222.7 L1397.6,243.1 L1398.1,252 L1398.5,252.1 L1398.9,260.2 L1399.4,261.4 L1399.8,264.8 L1400.2,258.7 L1400.7,265 L1401.1,264.5 L1401.6,266.3 L1402,266.5 L1402.4,267.9 L1402.9,263.3 L1403.3,267.3 L1403.7,262.9 L1404.2,268.9 L1404.6,265.3 L1405,264.4 L1405.5,269 L1405.9,266.1 L1406.3,267.9 L1406.8,269.1 L1407.2,267.7 L1407.6,270.9 L1408.1,267.6 L1408.5,270.3 L1409,265.6 L1409.4,263.8 L1409.8,264.1 L1410.3,268.7 L1410.7,267.4 L1411.1,262.9 L1411.6,264.4 L1412,265.8 L1412.4,271.8 L1412.9,267.9 L1413.3,262.4 L1413.7,266.2 L1414.2,268.2 L1414.6,267 L1415,262.1 L1415.5,264.4 L1415.9,270 L1416.4,269.7 L1416.8,267.1 L1417.2,264.4 L1417.7,268.9 L1418.1,268.5 L1418.5,272.8 L1419,268.6 L1419.4,266 L1419.8,265.9 L1420.3,270.4 L1420.7,265.6 L1421.1,269.1 L1421.6,270.4 L1422,266.2 L1422.4,270.9 L1422.9,268.3 L1423.3,269.2 L1423.8,267.7 L1424.2,266.9 L1424.6,268.3 L1425.1,269.2 L1425.5,268.4 L1425.9,272.5 L1426.4,267.6 L1426.8,262.8 L1427.2,266.4 L1427.7,264.6 L1428.1,267.1 L1428.5,267 L1429,266 L1429.4,265.5 L1429.9,265.6 L1430.3,268.8 L1430.7,266.9 L1431.2,270.1 L1431.6,264.6 L1432,266.9 L1432.5,267.4 L1432.9,269.5 L1433.3,265.7 L1433.8,264.5 L1434.2,265.5 L1434.6,264.2 L1435.1,268.3 L1435.5,264.5 L1435.9,266.5 L1436.4,272.3 L1436.8,265.8 L1437.3,268.5 L1437.7,266.6 L1438.1,267.7 L1438.6,268.1 L1439,263.8 L1439.4,267.3 L1439.9,265.6 L1440.3,264.4 L1440.7,266.7 L1441.2,268.5 L1441.6,265.6 L1442,265.9 L1442.5,267.6 L1442.9,265.3 L1443.3,262.7 L1443.8,263.3 L1444.2,261.9 L1444.7,262.2 L1445.1,264.7 L1445.5,265 L1446,268.6 L1446.4,261 L1446.8,266.7 L1447.3,262.9 L1447.7,259.2 L1448.1,264.2 L1448.6,269.5 L1449,267.9 L1449.4,265.6 L1449.9,260 L1450.3,265.4 L1450.7,264.7 L1451.2,267.7 L1451.6,262.9 L1452.1,263.7 L1452.5,261.3 L1452.9,267 L1453.4,261.8 L1453.8,268.4 L1454.2,265.9 L1454.7,265.4 L1455.1,264.2 L1455.5,262.2 L1456,271.1 L1456.4,263.6 L1456.8,264.6 L1457.3,267.6 L1457.7,264.2 L1458.1,261.6 L1458.6,264.5 L1459,264.6 L1459.5,260.6 L1459.9,265.3 L1460.3,259.2 L1460.8,261.4 L1461.2,261.1 L1461.6,260.5 L1462.1,258.3 L1462.5,264.7 L1462.9,258.5 L1463.4,265.1 L1463.8,260.9 L1464.2,260.1 L1464.7,261.5 L1465.1,265.6 L1465.6,265.9 L1466,265.5 L1466.4,261.9 L1466.9,261.1 L1467.3,259.8 L1467.7,266.7 L1468.2,260.5 L1468.6,258.1 L1469,260.9 L1469.5,261.5 L1469.9,258.7 L1470.3,256.1 L1470.8,256.4 L1471.2,256.2 L1471.6,265.4 L1472.1,256.4 L1472.5,262.1 L1473,258.2 L1473.4,263 L1473.8,259.7 L1474.3,262.8 L1474.7,261.8 L1475.1,254.5 L1475.6,264.8 L1476,257.6 L1476.4,260.6 L1476.9,264.4 L1477.3,256.4 L1477.7,260.6 L1478.2,262.5 L1478.6,259.5 L1479,263.3 L1479.5,255.1 L1479.9,265.5 L1480.4,262.2 L1480.8,267.2 L1481.2,259.7 L1481.7,257.8 L1482.1,257.4 L1482.5,255.4 L1483,260.5 L1483.4,261.9 L1483.8,257.3 L1484.3,262.4 L1484.7,259.2 L1485.1,261.9 L1485.6,262.7 L1486,260.5 L1486.4,256.6 L1486.9,257.3 L1487.3,259.8 L1487.8,268.9 L1488.2,260.2 L1488.6,258.9 L1489.1,258.4 L1489.5,262.5 L1489.9,256.8 L1490.4,259.1 L1490.8,266.4 L1491.2,257.7 L1491.7,254.7 L1492.1,259.2 L1492.5,262.7 L1493,254.1 L1493.4,256.8 L1493.9,266.1 L1494.3,256.6 L1494.7,258.7 L1495.2,259.1 L1495.6,265.9 L1496,265.7 L1496.5,259.5 L1496.9,253.7 L1497.3,259.5 L1497.8,259.8 L1498.2,262.2 L1498.6,261.5 L1499.1,256.7 L1499.5,262.7 L1499.9,254 L1500.4,258.6 L1500.8,259.2 L1501.3,260.7 L1501.7,262.7 L1502.1,261.1 L1502.6,265.2 L1503,260.1 L1503.4,266.7 L1503.9,253.1 L1504.3,260.7 L1504.7,265.6 L1505.2,259.7 L1505.6,260.2 L1506,262.4 L1506.5,259.7 L1506.9,263.3 L1507.3,261.1 L1507.8,261.2 L1508.2,259 L1508.7,262.5 L1509.1,259.7 L1509.5,270 L1510,257.1 L1510.4,260 L1510.8,258.8 L1511.3,261.4 L1511.7,257.7 L1512.1,260.7 L1512.6,259.9 L1513,260.3 L1513.4,262.3 L1513.9,263.5 L1514.3,258.7 L1514.7,258.4 L1515.2,260.6 L1515.6,256.3 L1516.1,260 L1516.5,258.8 L1516.9,256.8 L1517.4,258 L1517.8,261 L1518.2,264 L1518.7,262.9 L1519.1,263.9 L1519.5,257.8 L1520,272.2 L1520.4,253.7 L1520.8,263.3 L1521.3,256.8 L1521.7,259.4 L1522.1,258.6 L1522.6,264.7 L1523,256.9 L1523.5,260.7 L1523.9,258.3 L1524.3,263.5 L1524.8,260.5 L1525.2,262.7 L1525.6,259.3 L1526.1,258.1 L1526.5,261.1 L1526.9,258.9 L1527.4,258.6 L1527.8,260.5 L1528.2,261.2 L1528.7,266.7 L1529.1,256.8 L1529.6,259.8 L1530,261.1 L1530.4,259.6 L1530.9,262.1 L1531.3,261.4 L1531.7,258.7 L1532.2,265.3 L1532.6,261.3 L1533,259.5 L1533.5,265.5 L1533.9,263.9 L1534.3,256.1 L1534.8,253 L1535.2,259.3 L1535.6,258 L1536.1,263.1 L1536.5,255.8 L1537,260.4 L1537.4,259.9 L1537.8,258.9 L1538.3,262.1 L1538.7,262.5 L1539.1,260.3 L1539.6,263.7 L1540,262.2 L1540.4,268.8 L1540.9,263.6 L1541.3,258.7 L1541.7,256.6 L1542.2,258.3 L1542.6,263 L1543,260 L1543.5,263.4 L1543.9,263.8 L1544.4,257 L1544.8,261.5 L1545.2,261.4 L1545.7,259.7 L1546.1,257.2 L1546.5,259.9 L1547,261.1 L1547.4,259.1 L1547.8,260.5 L1548.3,261.2 L1548.7,267.5 L1549.1,263.1 L1549.6,260.6 L1550,263.5 L1550.4,254 L1550.9,252.5 L1551.3,254.4 L1551.8,263 L1552.2,258.4 L1552.6,258.6 L1553.1,258.8 L1553.5,265.2 L1553.9,256.9 L1554.4,254.3 L1554.8,257.2 L1555.2,252.9 L1555.7,260.9 L1556.1,257.6 L1556.5,255.6 L1557,262.9 L1557.4,260.2 L1557.9,262.3 L1558.3,256.9 L1558.7,263.6 L1559.2,258.8 L1559.6,261.6 L1560,256.9 L1560.5,261.5 L1560.9,260.3 L1561.3,259 L1561.8,262.3 L1562.2,261.2 L1562.6,260.6 L1563.1,261.5 L1563.5,259 L1563.9,262.4 L1564.4,259.6 L1564.8,260.9 L1565.3,262.1 L1565.7,263.6 L1566.1,266.2 L1566.6,262.4 L1567,258.3 L1567.4,261.3 L1567.9,255.3 L1568.3,263.5 L1568.7,261.5 L1569.2,265.5 L1569.6,256.6 L1570,264.8 L1570.5,258.9 L1570.9,259.4 L1571.3,251.8 L1571.8,256 L1572.2,257.8 L1572.7,259.9 L1573.1,254.2 L1573.5,261.5 L1574,264.4 L1574.4,257.4 L1574.8,260.5 L1575.3,262.6 L1575.7,259.2 L1576.1,258.6 L1576.6,265.4 L1577,257.1 L1577.4,253.7 L1577.9,261.6 L1578.3,265.2 L1578.7,259.4 L1579.2,260.7 L1579.6,257.7 L1580.1,257.2 L1580.5,260.7 L1580.9,255.2 L1581.4,266.6 L1581.8,262.6 L1582.2,259.6 L1582.7,258.9 L1583.1,260.5 L1583.5,258.7 L1584,264.5 L1584.4,267.9 L1584.8,257.5 L1585.3,255.8 L1585.7,260.2 L1586.1,264 L1586.6,262.5 L1587,258.2 L1587.5,259.5 L1587.9,255.8 L1588.3,254.7 L1588.8,256.1 L1589.2,260.9 L1589.6,256.7 L1590.1,258.5 L1590.5,259.4 L1590.9,259.6 L1591.4,260.4 L1591.8,263.5 L1592.2,259 L1592.7,262.7 L1593.1,260.4 L1593.6,257.6 L1594,257.6 L1594.4,266.3 L1594.9,262.5 L1595.3,263.8 L1595.7,259.3 L1596.2,262.7 L1596.6,257.1 L1597,261.7 L1597.5,258.7 L1597.9,263.5 L1598.3,262.7 L1598.8,261.1 L1599.2,258.8 L1599.6,267 L1600.1,260 L1600.5,265 L1601,259.6 L1601.4,266.1 L1601.8,261.6 L1602.3,256.2 L1602.7,255.3 L1603.1,263.4 L1603.6,254.4 L1604,261.3 L1604.4,259.7 L1604.9,258 L1605.3,259.1 L1605.7,258.1 L1606.2,258.3 L1606.6,255.6 L1607,257 L1607.5,258.2 L1607.9,258.5 L1608.4,255.9 L1608.8,248.3 L1609.2,238.9 L1609.7,234.6 L1610.1,239 L1610.5,243.6 L1611,252.5 L1611.4,253.7 L1611.8,254.7 L1612.3,258.7 L1612.7,253.9 L1613.1,255.2 L1613.6,260.2 L1614,257.5 L1614.4,259.2 L1614.9,258.9 L1615.3,259 L1615.8,255.9 L1616.2,259.2 L1616.6,259.3 L1617.1,257.3 L1617.5,257.4 L1617.9,254.8 L1618.4,263.1 L1618.8,258.2 L1619.2,266.5 L1619.7,260.4 L1620.1,264.7 L1620.5,264.8 L1621,260.9 L1621.4,264.1 L1621.8,261.5 L1622.3,269.5 L1622.7,256.1 L1623.2,269.4 L1623.6,262.8 L1624,255.1 L1624.5,265.2 L1624.9,255.1 L1625.3,257.1 L1625.8,261 L1626.2,261.9 L1626.6,261.7 L1627.1,259.8 L1627.5,257.6 L1627.9,256.4 L1628.4,267.7 L1628.8,257.9 L1629.3,258.8 L1629.7,264.8 L1630.1,257.9 L1630.6,257.8 L1631,257.8 L1631.4,261.1 L1631.9,258.3 L1632.3,256.9 L1632.7,263 L1633.2,262.5 L1633.6,262.8 L1634,257.1 L1634.5,260.9 L1634.9,263.3 L1635.3,264.3 L1635.8,265.2 L1636.2,260.3 L1636.7,258.3 L1637.1,256.9 L1637.5,264.3 L1638,264.2 L1638.4,264.2 L1638.8,263.9 L1639.3,266.1 L1639.7,256.2 L1640.1,259.7 L1640.6,262.9 L1641,269.6 L1641.4,256.8 L1641.9,258.8 L1642.3,260.9 L1642.7,259 L1643.2,263.6 L1643.6,259.3 L1644.1,263.2 L1644.5,259.9 L1644.9,261.9 L1645.4,265.7 L1645.8,265 L1646.2,257.9 L1646.7,258.2 L1647.1,262.1 L1647.5,263.8 L1648,263 L1648.4,260.3 L1648.8,266.1 L1649.3,258.4 L1649.7,264.3 L1650.1,265.3 L1650.6,261.7 L1651,255.4 L1651.5,264 L1651.9,262.9 L1652.3,265.5 L1652.8,260.9 L1653.2,260.8 L1653.6,261.8 L1654.1,263 L1654.5,260.5 L1654.9,259.1 L1655.4,263.3 L1655.8,262.6 L1656.2,263.9 L1656.7,263.7 L1657.1,257.9 L1657.6,265.2 L1658,261.3 L1658.4,258.5 L1658.9,263.6 L1659.3,260 L1659.7,259.5 L1660.2,266.8 L1660.6,258.8 L1661,265.3 L1661.5,261.6 L1661.9,267.1 L1662.3,267.4 L1662.8,262.9 L1663.2,256.8 L1663.6,253.7 L1664.1,253 L1664.5,257.6 L1665,258.1 L1665.4,259.5 L1665.8,259.8 L1666.3,263.2 L1666.7,263.5 L1667.1,260.6 L1667.6,260.5 L1668,264.1 L1668.4,266 L1668.9,264.5 L1669.3,251 L1669.7,264.4 L1670.2,257.3 L1670.6,258 L1671,258.5 L1671.5,264.1 L1671.9,255.4 L1672.4,261.1 L1672.8,264.1 L1673.2,264.5 L1673.7,262.6 L1674.1,255.1 L1674.5,266.4 L1675,264.4 L1675.4,262.1 L1675.8,260.5 L1676.3,265.7 L1676.7,265.5 L1677.1,264 L1677.6,260 L1678,262.8 L1678.4,263 L1678.9,261.6 L1679.3,261.8 L1679.8,259.1 L1680.2,264.6 L1680.6,262.2 L1681.1,264.4 L1681.5,259.8 L1681.9,259.5 L1682.4,263 L1682.8,258.3 L1683.2,262.9 L1683.7,257.6 L1684.1,263.5 L1684.5,263.7 L1685,267.2 L1685.4,265.6 L1685.8,263.5 L1686.3,269.3 L1686.7,262.3 L1687.2,259.4 L1687.6,260.5 L1688,261.6 L1688.5,260.1 L1688.9,264.2 L1689.3,263.9 L1689.8,259.5 L1690.2,262.8 L1690.6,259 L1691.1,263.9 L1691.5,260 L1691.9,258.2 L1692.4,262.6 L1692.8,256.7 L1693.3,257.1 L1693.7,270.3 L1694.1,253.5 L1694.6,267.7 L1695,254.1 L1695.4,265.3 L1695.9,269.3 L1696.3,266.8 L1696.7,260.8 L1697.2,265.7 L1697.6,264.2 L1698,258.3 L1698.5,265.7 L1698.9,260.7 L1699.3,258.1 L1699.8,268.5 L1700.2,266.3 L1700.7,261.6 L1701.1,262.4 L1701.5,261.4 L1702,269 L1702.4,265.2 L1702.8,261 L1703.3,260.4 L1703.7,258.1" fill="none" stroke="#3b55c0" stroke-width="2.0" stroke-linejoin="round" />
</g>
<rect x="1312.3" y="13.6" width="391.4" height="263" fill="none" stroke="#3c3c3c" stroke-width="1.6"/>
<line x1="1306.3" y1="269.9" x2="1312.3" y2="269.9" stroke="#3c3c3c" stroke-width="1.4"/>
<text transform="translate(1302.5,276.3) scale(1.13,1)" x="0" y="0" font-size="14.8" fill="#3a3a3a" text-anchor="end" font-weight="normal" font-family="'Liberation Sans', Arial, sans-serif"  stroke="#3a3a3a" stroke-width="0.45" stroke-linejoin="round">0</text>
<line x1="1308.3" y1="238.1" x2="1312.3" y2="238.1" stroke="#3c3c3c" stroke-width="1.4"/>
<line x1="1306.3" y1="206.3" x2="1312.3" y2="206.3" stroke="#3c3c3c" stroke-width="1.4"/>
<text transform="translate(1302.5,212.7) scale(1.13,1)" x="0" y="0" font-size="14.8" fill="#3a3a3a" text-anchor="end" font-weight="normal" font-family="'Liberation Sans', Arial, sans-serif"  stroke="#3a3a3a" stroke-width="0.45" stroke-linejoin="round">200</text>
<line x1="1308.3" y1="174.5" x2="1312.3" y2="174.5" stroke="#3c3c3c" stroke-width="1.4"/>
<line x1="1306.3" y1="142.7" x2="1312.3" y2="142.7" stroke="#3c3c3c" stroke-width="1.4"/>
<text transform="translate(1302.5,149.1) scale(1.13,1)" x="0" y="0" font-size="14.8" fill="#3a3a3a" text-anchor="end" font-weight="normal" font-family="'Liberation Sans', Arial, sans-serif"  stroke="#3a3a3a" stroke-width="0.45" stroke-linejoin="round">400</text>
<line x1="1308.3" y1="110.9" x2="1312.3" y2="110.9" stroke="#3c3c3c" stroke-width="1.4"/>
<line x1="1306.3" y1="79.1" x2="1312.3" y2="79.1" stroke="#3c3c3c" stroke-width="1.4"/>
<text transform="translate(1302.5,85.5) scale(1.13,1)" x="0" y="0" font-size="14.8" fill="#3a3a3a" text-anchor="end" font-weight="normal" font-family="'Liberation Sans', Arial, sans-serif"  stroke="#3a3a3a" stroke-width="0.45" stroke-linejoin="round">600</text>
<line x1="1308.3" y1="47.3" x2="1312.3" y2="47.3" stroke="#3c3c3c" stroke-width="1.4"/>
<line x1="1306.3" y1="15.5" x2="1312.3" y2="15.5" stroke="#3c3c3c" stroke-width="1.4"/>
<text transform="translate(1302.5,18) scale(1.13,1)" x="0" y="0" font-size="14.8" fill="#3a3a3a" text-anchor="end" font-weight="normal" font-family="'Liberation Sans', Arial, sans-serif"  stroke="#3a3a3a" stroke-width="0.45" stroke-linejoin="round">1</text>
<line x1="1312.3" y1="276.6" x2="1312.3" y2="282.6" stroke="#3c3c3c" stroke-width="1.4"/>
<text transform="translate(1312.3,298.5) scale(1.12,1)" x="0" y="0" font-size="15.4" fill="#3a3a3a" text-anchor="middle" font-weight="normal" font-family="'Liberation Sans', Arial, sans-serif"  stroke="#3a3a3a" stroke-width="0.45" stroke-linejoin="round">840</text>
<line x1="1351.4" y1="276.6" x2="1351.4" y2="280.6" stroke="#3c3c3c" stroke-width="1.4"/>
<line x1="1390.6" y1="276.6" x2="1390.6" y2="282.6" stroke="#3c3c3c" stroke-width="1.4"/>
<text transform="translate(1390.6,298.5) scale(1.12,1)" x="0" y="0" font-size="15.4" fill="#3a3a3a" text-anchor="middle" font-weight="normal" font-family="'Liberation Sans', Arial, sans-serif"  stroke="#3a3a3a" stroke-width="0.45" stroke-linejoin="round">860</text>
<line x1="1429.7" y1="276.6" x2="1429.7" y2="280.6" stroke="#3c3c3c" stroke-width="1.4"/>
<line x1="1468.9" y1="276.6" x2="1468.9" y2="282.6" stroke="#3c3c3c" stroke-width="1.4"/>
<text transform="translate(1468.9,298.5) scale(1.12,1)" x="0" y="0" font-size="15.4" fill="#3a3a3a" text-anchor="middle" font-weight="normal" font-family="'Liberation Sans', Arial, sans-serif"  stroke="#3a3a3a" stroke-width="0.45" stroke-linejoin="round">880</text>
<line x1="1508" y1="276.6" x2="1508" y2="280.6" stroke="#3c3c3c" stroke-width="1.4"/>
<line x1="1547.1" y1="276.6" x2="1547.1" y2="282.6" stroke="#3c3c3c" stroke-width="1.4"/>
<text transform="translate(1547.1,298.5) scale(1.12,1)" x="0" y="0" font-size="15.4" fill="#3a3a3a" text-anchor="middle" font-weight="normal" font-family="'Liberation Sans', Arial, sans-serif"  stroke="#3a3a3a" stroke-width="0.45" stroke-linejoin="round">900</text>
<line x1="1586.3" y1="276.6" x2="1586.3" y2="280.6" stroke="#3c3c3c" stroke-width="1.4"/>
<line x1="1625.4" y1="276.6" x2="1625.4" y2="282.6" stroke="#3c3c3c" stroke-width="1.4"/>
<text transform="translate(1625.4,298.5) scale(1.12,1)" x="0" y="0" font-size="15.4" fill="#3a3a3a" text-anchor="middle" font-weight="normal" font-family="'Liberation Sans', Arial, sans-serif"  stroke="#3a3a3a" stroke-width="0.45" stroke-linejoin="round">920</text>
<line x1="1664.6" y1="276.6" x2="1664.6" y2="280.6" stroke="#3c3c3c" stroke-width="1.4"/>
<line x1="1703.7" y1="276.6" x2="1703.7" y2="282.6" stroke="#3c3c3c" stroke-width="1.4"/>
<text transform="translate(1703.7,298.5) scale(1.12,1)" x="0" y="0" font-size="15.4" fill="#3a3a3a" text-anchor="middle" font-weight="normal" font-family="'Liberation Sans', Arial, sans-serif"  stroke="#3a3a3a" stroke-width="0.45" stroke-linejoin="round">940</text>
<text transform="translate(1507,326) scale(1.15,1)" x="0" y="0" font-size="19.5" fill="#2e2e2e" text-anchor="middle" font-weight="normal" font-family="'Liberation Sans', Arial, sans-serif"  stroke="#2e2e2e" stroke-width="0.45" stroke-linejoin="round">Wavelength (nm)</text>
<text transform="translate(1253.5,146.7) scale(1.15,1) rotate(-90) scale(1.0,1)" x="0" y="0" font-size="19.7" fill="#2e2e2e" text-anchor="middle" font-weight="normal" font-family="'Liberation Sans', Arial, sans-serif"  stroke="#2e2e2e" stroke-width="0.45" stroke-linejoin="round">Intensity (a.u.)</text>
<text transform="translate(1337,49.8) scale(1.13,1)" x="0" y="0" font-size="15" fill="#333" text-anchor="start" font-weight="normal" font-family="'Liberation Sans', Arial, sans-serif"  stroke="#333" stroke-width="0.45" stroke-linejoin="round">V1/V1'</text>
<text transform="translate(1617,243) scale(1.13,1)" x="0" y="0" font-size="15" fill="#333" text-anchor="start" font-weight="normal" font-family="'Liberation Sans', Arial, sans-serif"  stroke="#333" stroke-width="0.45" stroke-linejoin="round">V2</text>
<clipPath id="clipDi"><rect x="1488.8" y="34.3" width="190.2" height="120.3"/></clipPath>
<rect x="1488.8" y="34.3" width="190.2" height="120.3" fill="#fff"/>
<g clip-path="url(#clipDi)">
<circle cx="1488.8" cy="147.3" r="1.6" fill="#222"/>
<circle cx="1489.9" cy="145.5" r="1.6" fill="#222"/>
<circle cx="1491.1" cy="148.9" r="1.6" fill="#222"/>
<circle cx="1492.2" cy="144.7" r="1.6" fill="#222"/>
<circle cx="1493.3" cy="143.9" r="1.6" fill="#222"/>
<circle cx="1494.4" cy="146.7" r="1.6" fill="#222"/>
<circle cx="1495.6" cy="145.1" r="1.6" fill="#222"/>
<circle cx="1496.7" cy="145.5" r="1.6" fill="#222"/>
<circle cx="1497.8" cy="146.6" r="1.6" fill="#222"/>
<circle cx="1498.9" cy="147.4" r="1.6" fill="#222"/>
<circle cx="1500.1" cy="149.5" r="1.6" fill="#222"/>
<circle cx="1501.2" cy="143.4" r="1.6" fill="#222"/>
<circle cx="1502.3" cy="146" r="1.6" fill="#222"/>
<circle cx="1503.4" cy="141.4" r="1.6" fill="#222"/>
<circle cx="1504.6" cy="144.4" r="1.6" fill="#222"/>
<circle cx="1505.7" cy="145.4" r="1.6" fill="#222"/>
<circle cx="1506.8" cy="147.1" r="1.6" fill="#222"/>
<circle cx="1507.9" cy="143.4" r="1.6" fill="#222"/>
<circle cx="1509.1" cy="146.8" r="1.6" fill="#222"/>
<circle cx="1510.2" cy="143.1" r="1.6" fill="#222"/>
<circle cx="1511.3" cy="146.6" r="1.6" fill="#222"/>
<circle cx="1512.4" cy="145.6" r="1.6" fill="#222"/>
<circle cx="1513.6" cy="148.6" r="1.6" fill="#222"/>
<circle cx="1514.7" cy="141.7" r="1.6" fill="#222"/>
<circle cx="1515.8" cy="146.1" r="1.6" fill="#222"/>
<circle cx="1516.9" cy="146.6" r="1.6" fill="#222"/>
<circle cx="1518.1" cy="144.5" r="1.6" fill="#222"/>
<circle cx="1519.2" cy="147.5" r="1.6" fill="#222"/>
<circle cx="1520.3" cy="144.5" r="1.6" fill="#222"/>
<circle cx="1521.4" cy="148" r="1.6" fill="#222"/>
<circle cx="1522.6" cy="144.9" r="1.6" fill="#222"/>
<circle cx="1523.7" cy="147.8" r="1.6" fill="#222"/>
<circle cx="1524.8" cy="149.2" r="1.6" fill="#222"/>
<circle cx="1525.9" cy="147" r="1.6" fill="#222"/>
<circle cx="1527.1" cy="148.5" r="1.6" fill="#222"/>
<circle cx="1528.2" cy="144.9" r="1.6" fill="#222"/>
<circle cx="1529.3" cy="145.9" r="1.6" fill="#222"/>
<circle cx="1530.4" cy="145" r="1.6" fill="#222"/>
<circle cx="1531.6" cy="145.7" r="1.6" fill="#222"/>
<circle cx="1532.7" cy="146.5" r="1.6" fill="#222"/>
<circle cx="1533.8" cy="145.8" r="1.6" fill="#222"/>
<circle cx="1534.9" cy="144" r="1.6" fill="#222"/>
<circle cx="1536.1" cy="146.2" r="1.6" fill="#222"/>
<circle cx="1537.2" cy="147.2" r="1.6" fill="#222"/>
<circle cx="1538.3" cy="147.6" r="1.6" fill="#222"/>
<circle cx="1539.4" cy="146.2" r="1.6" fill="#222"/>
<circle cx="1540.6" cy="147.1" r="1.6" fill="#222"/>
<circle cx="1541.7" cy="142.4" r="1.6" fill="#222"/>
<circle cx="1542.8" cy="147.8" r="1.6" fill="#222"/>
<circle cx="1543.9" cy="147.6" r="1.6" fill="#222"/>
<circle cx="1545.1" cy="146.1" r="1.6" fill="#222"/>
<circle cx="1546.2" cy="144.3" r="1.6" fill="#222"/>
<circle cx="1547.3" cy="145.9" r="1.6" fill="#222"/>
<circle cx="1548.4" cy="146.9" r="1.6" fill="#222"/>
<circle cx="1549.6" cy="146.5" r="1.6" fill="#222"/>
<circle cx="1550.7" cy="145.5" r="1.6" fill="#222"/>
<circle cx="1551.8" cy="142.9" r="1.6" fill="#222"/>
<circle cx="1553" cy="146" r="1.6" fill="#222"/>
<circle cx="1554.1" cy="144.1" r="1.6" fill="#222"/>
<circle cx="1555.2" cy="144.6" r="1.6" fill="#222"/>
<circle cx="1556.3" cy="142.5" r="1.6" fill="#222"/>
<circle cx="1557.5" cy="141.8" r="1.6" fill="#222"/>
<circle cx="1558.6" cy="144.4" r="1.6" fill="#222"/>
<circle cx="1559.7" cy="136.8" r="1.6" fill="#222"/>
<circle cx="1560.8" cy="139.8" r="1.6" fill="#222"/>
<circle cx="1562" cy="139.9" r="1.6" fill="#222"/>
<circle cx="1563.1" cy="139" r="1.6" fill="#222"/>
<circle cx="1564.2" cy="135.2" r="1.6" fill="#222"/>
<circle cx="1565.3" cy="130.3" r="1.6" fill="#222"/>
<circle cx="1566.5" cy="122.2" r="1.6" fill="#222"/>
<circle cx="1567.6" cy="112.4" r="1.6" fill="#222"/>
<circle cx="1568.7" cy="96.9" r="1.6" fill="#222"/>
<circle cx="1569.8" cy="83.6" r="1.6" fill="#222"/>
<circle cx="1571" cy="65.7" r="1.6" fill="#222"/>
<circle cx="1572.1" cy="54.4" r="1.6" fill="#222"/>
<circle cx="1573.2" cy="48.3" r="1.6" fill="#222"/>
<circle cx="1574.3" cy="52.3" r="1.6" fill="#222"/>
<circle cx="1575.5" cy="66.9" r="1.6" fill="#222"/>
<circle cx="1576.6" cy="78.7" r="1.6" fill="#222"/>
<circle cx="1577.7" cy="90.6" r="1.6" fill="#222"/>
<circle cx="1578.8" cy="100.7" r="1.6" fill="#222"/>
<circle cx="1580" cy="111.1" r="1.6" fill="#222"/>
<circle cx="1581.1" cy="111.8" r="1.6" fill="#222"/>
<circle cx="1582.2" cy="113.8" r="1.6" fill="#222"/>
<circle cx="1583.3" cy="115.7" r="1.6" fill="#222"/>
<circle cx="1584.5" cy="111.6" r="1.6" fill="#222"/>
<circle cx="1585.6" cy="117.2" r="1.6" fill="#222"/>
<circle cx="1586.7" cy="115.9" r="1.6" fill="#222"/>
<circle cx="1587.8" cy="114.9" r="1.6" fill="#222"/>
<circle cx="1589" cy="115.9" r="1.6" fill="#222"/>
<circle cx="1590.1" cy="117.4" r="1.6" fill="#222"/>
<circle cx="1591.2" cy="115.6" r="1.6" fill="#222"/>
<circle cx="1592.3" cy="116.6" r="1.6" fill="#222"/>
<circle cx="1593.5" cy="118.8" r="1.6" fill="#222"/>
<circle cx="1594.6" cy="120" r="1.6" fill="#222"/>
<circle cx="1595.7" cy="123.4" r="1.6" fill="#222"/>
<circle cx="1596.8" cy="126.9" r="1.6" fill="#222"/>
<circle cx="1598" cy="122.4" r="1.6" fill="#222"/>
<circle cx="1599.1" cy="129.6" r="1.6" fill="#222"/>
<circle cx="1600.2" cy="125.5" r="1.6" fill="#222"/>
<circle cx="1601.3" cy="131.2" r="1.6" fill="#222"/>
<circle cx="1602.5" cy="132.1" r="1.6" fill="#222"/>
<circle cx="1603.6" cy="134.2" r="1.6" fill="#222"/>
<circle cx="1604.7" cy="133.6" r="1.6" fill="#222"/>
<circle cx="1605.8" cy="137.4" r="1.6" fill="#222"/>
<circle cx="1607" cy="134.4" r="1.6" fill="#222"/>
<circle cx="1608.1" cy="137.8" r="1.6" fill="#222"/>
<circle cx="1609.2" cy="139.5" r="1.6" fill="#222"/>
<circle cx="1610.3" cy="141.7" r="1.6" fill="#222"/>
<circle cx="1611.5" cy="140.9" r="1.6" fill="#222"/>
<circle cx="1612.6" cy="142.1" r="1.6" fill="#222"/>
<circle cx="1613.7" cy="139.4" r="1.6" fill="#222"/>
<circle cx="1614.8" cy="141.6" r="1.6" fill="#222"/>
<circle cx="1616" cy="146.5" r="1.6" fill="#222"/>
<circle cx="1617.1" cy="141.4" r="1.6" fill="#222"/>
<circle cx="1618.2" cy="148.7" r="1.6" fill="#222"/>
<circle cx="1619.4" cy="142" r="1.6" fill="#222"/>
<circle cx="1620.5" cy="148.3" r="1.6" fill="#222"/>
<circle cx="1621.6" cy="145.1" r="1.6" fill="#222"/>
<circle cx="1622.7" cy="143.9" r="1.6" fill="#222"/>
<circle cx="1623.9" cy="145.4" r="1.6" fill="#222"/>
<circle cx="1625" cy="147.5" r="1.6" fill="#222"/>
<circle cx="1626.1" cy="143.4" r="1.6" fill="#222"/>
<circle cx="1627.2" cy="148.9" r="1.6" fill="#222"/>
<circle cx="1628.4" cy="148.3" r="1.6" fill="#222"/>
<circle cx="1629.5" cy="143.3" r="1.6" fill="#222"/>
<circle cx="1630.6" cy="147.3" r="1.6" fill="#222"/>
<circle cx="1631.7" cy="145.4" r="1.6" fill="#222"/>
<circle cx="1632.9" cy="144.4" r="1.6" fill="#222"/>
<circle cx="1634" cy="146.1" r="1.6" fill="#222"/>
<circle cx="1635.1" cy="145.4" r="1.6" fill="#222"/>
<circle cx="1636.2" cy="145.7" r="1.6" fill="#222"/>
<circle cx="1637.4" cy="145.5" r="1.6" fill="#222"/>
<circle cx="1638.5" cy="143.8" r="1.6" fill="#222"/>
<circle cx="1639.6" cy="144.2" r="1.6" fill="#222"/>
<circle cx="1640.7" cy="145.3" r="1.6" fill="#222"/>
<circle cx="1641.9" cy="144.3" r="1.6" fill="#222"/>
<circle cx="1643" cy="146.9" r="1.6" fill="#222"/>
<circle cx="1644.1" cy="147.3" r="1.6" fill="#222"/>
<circle cx="1645.2" cy="147.7" r="1.6" fill="#222"/>
<circle cx="1646.4" cy="144.5" r="1.6" fill="#222"/>
<circle cx="1647.5" cy="143" r="1.6" fill="#222"/>
<circle cx="1648.6" cy="145.7" r="1.6" fill="#222"/>
<circle cx="1649.7" cy="149.4" r="1.6" fill="#222"/>
<circle cx="1650.9" cy="146.8" r="1.6" fill="#222"/>
<circle cx="1652" cy="145.1" r="1.6" fill="#222"/>
<circle cx="1653.1" cy="145.4" r="1.6" fill="#222"/>
<circle cx="1654.2" cy="145.7" r="1.6" fill="#222"/>
<circle cx="1655.4" cy="144.1" r="1.6" fill="#222"/>
<circle cx="1656.5" cy="144.2" r="1.6" fill="#222"/>
<circle cx="1657.6" cy="148.3" r="1.6" fill="#222"/>
<circle cx="1658.7" cy="145.1" r="1.6" fill="#222"/>
<circle cx="1659.9" cy="147.2" r="1.6" fill="#222"/>
<circle cx="1661" cy="145.5" r="1.6" fill="#222"/>
<circle cx="1662.1" cy="143.7" r="1.6" fill="#222"/>
<circle cx="1663.2" cy="142.6" r="1.6" fill="#222"/>
<circle cx="1664.4" cy="144.7" r="1.6" fill="#222"/>
<circle cx="1665.5" cy="146.8" r="1.6" fill="#222"/>
<circle cx="1666.6" cy="146.5" r="1.6" fill="#222"/>
<circle cx="1667.7" cy="145" r="1.6" fill="#222"/>
<circle cx="1668.9" cy="147.7" r="1.6" fill="#222"/>
<circle cx="1670" cy="146" r="1.6" fill="#222"/>
<circle cx="1671.1" cy="144.8" r="1.6" fill="#222"/>
<circle cx="1672.2" cy="144.3" r="1.6" fill="#222"/>
<circle cx="1673.4" cy="146.4" r="1.6" fill="#222"/>
<circle cx="1674.5" cy="145.2" r="1.6" fill="#222"/>
<circle cx="1675.6" cy="143.5" r="1.6" fill="#222"/>
<circle cx="1676.7" cy="145.4" r="1.6" fill="#222"/>
<circle cx="1677.9" cy="149" r="1.6" fill="#222"/>
<circle cx="1679" cy="145.5" r="1.6" fill="#222"/>
<circle cx="1573" cy="46.9" r="1.8" fill="#222"/>
<path d="M1488.8,145.9 L1489.3,145.9 L1489.8,145.9 L1490.2,145.9 L1490.7,145.9 L1491.2,145.9 L1491.7,145.9 L1492.1,145.9 L1492.6,145.9 L1493.1,145.9 L1493.6,145.9 L1494,145.9 L1494.5,145.9 L1495,145.9 L1495.5,145.9 L1496,145.9 L1496.4,145.9 L1496.9,145.9 L1497.4,145.9 L1497.9,145.9 L1498.3,145.9 L1498.8,145.9 L1499.3,145.9 L1499.8,145.9 L1500.2,145.9 L1500.7,145.9 L1501.2,145.9 L1501.7,145.9 L1502.1,145.9 L1502.6,145.9 L1503.1,145.9 L1503.6,145.9 L1504.1,145.9 L1504.5,145.9 L1505,145.9 L1505.5,145.9 L1506,145.9 L1506.4,145.9 L1506.9,145.9 L1507.4,145.9 L1507.9,145.9 L1508.3,145.9 L1508.8,145.9 L1509.3,145.9 L1509.8,145.9 L1510.3,145.9 L1510.7,145.9 L1511.2,145.9 L1511.7,145.9 L1512.2,145.9 L1512.6,145.9 L1513.1,145.9 L1513.6,145.9 L1514.1,145.9 L1514.5,145.9 L1515,145.9 L1515.5,145.9 L1516,145.9 L1516.4,145.9 L1516.9,145.9 L1517.4,145.9 L1517.9,145.9 L1518.4,145.9 L1518.8,145.9 L1519.3,145.9 L1519.8,145.9 L1520.3,145.9 L1520.7,145.9 L1521.2,145.9 L1521.7,145.9 L1522.2,145.9 L1522.6,145.9 L1523.1,145.9 L1523.6,145.9 L1524.1,145.9 L1524.6,145.9 L1525,145.9 L1525.5,145.9 L1526,145.9 L1526.5,145.9 L1526.9,145.9 L1527.4,145.9 L1527.9,145.9 L1528.4,145.9 L1528.8,145.9 L1529.3,145.9 L1529.8,145.9 L1530.3,145.9 L1530.7,145.9 L1531.2,145.9 L1531.7,145.9 L1532.2,145.9 L1532.7,145.9 L1533.1,145.9 L1533.6,145.9 L1534.1,145.9 L1534.6,145.9 L1535,145.9 L1535.5,145.9 L1536,145.9 L1536.5,145.9 L1536.9,145.9 L1537.4,145.9 L1537.9,145.9 L1538.4,145.9 L1538.9,145.9 L1539.3,145.9 L1539.8,145.9 L1540.3,145.9 L1540.8,145.9 L1541.2,145.9 L1541.7,145.9 L1542.2,145.9 L1542.7,145.9 L1543.1,145.9 L1543.6,145.9 L1544.1,145.9 L1544.6,145.9 L1545,145.9 L1545.5,145.9 L1546,145.9 L1546.5,145.9 L1547,145.9 L1547.4,145.9 L1547.9,145.9 L1548.4,145.9 L1548.9,145.9 L1549.3,145.9 L1549.8,145.9 L1550.3,145.9 L1550.8,145.9 L1551.2,145.9 L1551.7,145.9 L1552.2,145.9 L1552.7,145.9 L1553.2,145.9 L1553.6,145.9 L1554.1,145.9 L1554.6,145.9 L1555.1,145.9 L1555.5,145.9 L1556,145.9 L1556.5,145.9 L1557,145.9 L1557.4,145.9 L1557.9,145.9 L1558.4,145.9 L1558.9,145.9 L1559.4,145.9 L1559.8,145.9 L1560.3,145.9 L1560.8,145.9 L1561.3,145.8 L1561.7,145.8 L1562.2,145.7 L1562.7,145.6 L1563.2,145.4 L1563.6,145.1 L1564.1,144.6 L1564.6,144 L1565.1,143 L1565.5,141.7 L1566,139.8 L1566.5,137.4 L1567,134.4 L1567.5,130.5 L1567.9,125.9 L1568.4,120.5 L1568.9,114.4 L1569.4,107.8 L1569.8,100.8 L1570.3,93.8 L1570.8,87.1 L1571.3,81.2 L1571.7,76.3 L1572.2,72.8 L1572.7,70.9 L1573.2,70.8 L1573.7,72.5 L1574.1,75.8 L1574.6,80.6 L1575.1,86.4 L1575.6,93 L1576,100 L1576.5,107 L1577,113.7 L1577.5,119.8 L1577.9,125.3 L1578.4,130 L1578.9,134 L1579.4,137.1 L1579.8,139.6 L1580.3,141.5 L1580.8,142.9 L1581.3,143.9 L1581.8,144.6 L1582.2,145.1 L1582.7,145.4 L1583.2,145.6 L1583.7,145.7 L1584.1,145.8 L1584.6,145.8 L1585.1,145.9 L1585.6,145.9 L1586,145.9 L1586.5,145.9 L1587,145.9 L1587.5,145.9 L1588,145.9 L1588.4,145.9 L1588.9,145.9 L1589.4,145.9 L1589.9,145.9 L1590.3,145.9 L1590.8,145.9 L1591.3,145.9 L1591.8,145.9 L1592.2,145.9 L1592.7,145.9 L1593.2,145.9 L1593.7,145.9 L1594.1,145.9 L1594.6,145.9 L1595.1,145.9 L1595.6,145.9 L1596.1,145.9 L1596.5,145.9 L1597,145.9 L1597.5,145.9 L1598,145.9 L1598.4,145.9 L1598.9,145.9 L1599.4,145.9 L1599.9,145.9 L1600.3,145.9 L1600.8,145.9 L1601.3,145.9 L1601.8,145.9 L1602.3,145.9 L1602.7,145.9 L1603.2,145.9 L1603.7,145.9 L1604.2,145.9 L1604.6,145.9 L1605.1,145.9 L1605.6,145.9 L1606.1,145.9 L1606.5,145.9 L1607,145.9 L1607.5,145.9 L1608,145.9 L1608.4,145.9 L1608.9,145.9 L1609.4,145.9 L1609.9,145.9 L1610.4,145.9 L1610.8,145.9 L1611.3,145.9 L1611.8,145.9 L1612.3,145.9 L1612.7,145.9 L1613.2,145.9 L1613.7,145.9 L1614.2,145.9 L1614.6,145.9 L1615.1,145.9 L1615.6,145.9 L1616.1,145.9 L1616.6,145.9 L1617,145.9 L1617.5,145.9 L1618,145.9 L1618.5,145.9 L1618.9,145.9 L1619.4,145.9 L1619.9,145.9 L1620.4,145.9 L1620.8,145.9 L1621.3,145.9 L1621.8,145.9 L1622.3,145.9 L1622.8,145.9 L1623.2,145.9 L1623.7,145.9 L1624.2,145.9 L1624.7,145.9 L1625.1,145.9 L1625.6,145.9 L1626.1,145.9 L1626.6,145.9 L1627,145.9 L1627.5,145.9 L1628,145.9 L1628.5,145.9 L1628.9,145.9 L1629.4,145.9 L1629.9,145.9 L1630.4,145.9 L1630.9,145.9 L1631.3,145.9 L1631.8,145.9 L1632.3,145.9 L1632.8,145.9 L1633.2,145.9 L1633.7,145.9 L1634.2,145.9 L1634.7,145.9 L1635.1,145.9 L1635.6,145.9 L1636.1,145.9 L1636.6,145.9 L1637.1,145.9 L1637.5,145.9 L1638,145.9 L1638.5,145.9 L1639,145.9 L1639.4,145.9 L1639.9,145.9 L1640.4,145.9 L1640.9,145.9 L1641.3,145.9 L1641.8,145.9 L1642.3,145.9 L1642.8,145.9 L1643.2,145.9 L1643.7,145.9 L1644.2,145.9 L1644.7,145.9 L1645.2,145.9 L1645.6,145.9 L1646.1,145.9 L1646.6,145.9 L1647.1,145.9 L1647.5,145.9 L1648,145.9 L1648.5,145.9 L1649,145.9 L1649.4,145.9 L1649.9,145.9 L1650.4,145.9 L1650.9,145.9 L1651.4,145.9 L1651.8,145.9 L1652.3,145.9 L1652.8,145.9 L1653.3,145.9 L1653.7,145.9 L1654.2,145.9 L1654.7,145.9 L1655.2,145.9 L1655.6,145.9 L1656.1,145.9 L1656.6,145.9 L1657.1,145.9 L1657.5,145.9 L1658,145.9 L1658.5,145.9 L1659,145.9 L1659.5,145.9 L1659.9,145.9 L1660.4,145.9 L1660.9,145.9 L1661.4,145.9 L1661.8,145.9 L1662.3,145.9 L1662.8,145.9 L1663.3,145.9 L1663.7,145.9 L1664.2,145.9 L1664.7,145.9 L1665.2,145.9 L1665.7,145.9 L1666.1,145.9 L1666.6,145.9 L1667.1,145.9 L1667.6,145.9 L1668,145.9 L1668.5,145.9 L1669,145.9 L1669.5,145.9 L1669.9,145.9 L1670.4,145.9 L1670.9,145.9 L1671.4,145.9 L1671.8,145.9 L1672.3,145.9 L1672.8,145.9 L1673.3,145.9 L1673.8,145.9 L1674.2,145.9 L1674.7,145.9 L1675.2,145.9 L1675.7,145.9 L1676.1,145.9 L1676.6,145.9 L1677.1,145.9 L1677.6,145.9 L1678,145.9 L1678.5,145.9 L1679,145.9" fill="none" stroke="#7fd06a" stroke-width="1.6" stroke-linejoin="round" />
<path d="M1488.8,145.9 L1489.3,145.9 L1489.8,145.9 L1490.2,145.9 L1490.7,145.9 L1491.2,145.9 L1491.7,145.9 L1492.1,145.9 L1492.6,145.9 L1493.1,145.9 L1493.6,145.9 L1494,145.9 L1494.5,145.9 L1495,145.9 L1495.5,145.9 L1496,145.9 L1496.4,145.9 L1496.9,145.9 L1497.4,145.9 L1497.9,145.9 L1498.3,145.9 L1498.8,145.9 L1499.3,145.9 L1499.8,145.9 L1500.2,145.9 L1500.7,145.9 L1501.2,145.9 L1501.7,145.9 L1502.1,145.9 L1502.6,145.9 L1503.1,145.9 L1503.6,145.9 L1504.1,145.9 L1504.5,145.9 L1505,145.9 L1505.5,145.9 L1506,145.9 L1506.4,145.9 L1506.9,145.9 L1507.4,145.9 L1507.9,145.9 L1508.3,145.9 L1508.8,145.9 L1509.3,145.9 L1509.8,145.9 L1510.3,145.9 L1510.7,145.9 L1511.2,145.9 L1511.7,145.9 L1512.2,145.9 L1512.6,145.9 L1513.1,145.9 L1513.6,145.9 L1514.1,145.9 L1514.5,145.9 L1515,145.9 L1515.5,145.9 L1516,145.9 L1516.4,145.9 L1516.9,145.9 L1517.4,145.9 L1517.9,145.9 L1518.4,145.9 L1518.8,145.9 L1519.3,145.9 L1519.8,145.9 L1520.3,145.9 L1520.7,145.9 L1521.2,145.9 L1521.7,145.9 L1522.2,145.9 L1522.6,145.9 L1523.1,145.9 L1523.6,145.9 L1524.1,145.9 L1524.6,145.9 L1525,145.9 L1525.5,145.9 L1526,145.9 L1526.5,145.9 L1526.9,145.9 L1527.4,145.9 L1527.9,145.9 L1528.4,145.9 L1528.8,145.9 L1529.3,145.9 L1529.8,145.9 L1530.3,145.9 L1530.7,145.9 L1531.2,145.9 L1531.7,145.9 L1532.2,145.9 L1532.7,145.9 L1533.1,145.9 L1533.6,145.9 L1534.1,145.9 L1534.6,145.9 L1535,145.9 L1535.5,145.9 L1536,145.9 L1536.5,145.9 L1536.9,145.9 L1537.4,145.9 L1537.9,145.9 L1538.4,145.9 L1538.9,145.9 L1539.3,145.8 L1539.8,145.8 L1540.3,145.8 L1540.8,145.8 L1541.2,145.8 L1541.7,145.8 L1542.2,145.8 L1542.7,145.8 L1543.1,145.8 L1543.6,145.7 L1544.1,145.7 L1544.6,145.7 L1545,145.7 L1545.5,145.6 L1546,145.6 L1546.5,145.6 L1547,145.5 L1547.4,145.5 L1547.9,145.5 L1548.4,145.4 L1548.9,145.4 L1549.3,145.3 L1549.8,145.2 L1550.3,145.2 L1550.8,145.1 L1551.2,145 L1551.7,144.9 L1552.2,144.8 L1552.7,144.7 L1553.2,144.6 L1553.6,144.4 L1554.1,144.3 L1554.6,144.2 L1555.1,144 L1555.5,143.8 L1556,143.6 L1556.5,143.4 L1557,143.2 L1557.4,143 L1557.9,142.8 L1558.4,142.5 L1558.9,142.2 L1559.4,141.9 L1559.8,141.6 L1560.3,141.3 L1560.8,141 L1561.3,140.6 L1561.7,140.2 L1562.2,139.8 L1562.7,139.4 L1563.2,139 L1563.6,138.5 L1564.1,138.1 L1564.6,137.6 L1565.1,137.1 L1565.5,136.5 L1566,136 L1566.5,135.4 L1567,134.8 L1567.5,134.3 L1567.9,133.6 L1568.4,133 L1568.9,132.4 L1569.4,131.7 L1569.8,131.1 L1570.3,130.4 L1570.8,129.7 L1571.3,129 L1571.7,128.4 L1572.2,127.7 L1572.7,127 L1573.2,126.3 L1573.7,125.6 L1574.1,124.9 L1574.6,124.2 L1575.1,123.6 L1575.6,122.9 L1576,122.3 L1576.5,121.7 L1577,121 L1577.5,120.5 L1577.9,119.9 L1578.4,119.3 L1578.9,118.8 L1579.4,118.3 L1579.8,117.9 L1580.3,117.5 L1580.8,117.1 L1581.3,116.7 L1581.8,116.4 L1582.2,116.1 L1582.7,115.8 L1583.2,115.6 L1583.7,115.5 L1584.1,115.3 L1584.6,115.3 L1585.1,115.2 L1585.6,115.2 L1586,115.3 L1586.5,115.3 L1587,115.5 L1587.5,115.6 L1588,115.8 L1588.4,116.1 L1588.9,116.4 L1589.4,116.7 L1589.9,117.1 L1590.3,117.5 L1590.8,117.9 L1591.3,118.3 L1591.8,118.8 L1592.2,119.4 L1592.7,119.9 L1593.2,120.5 L1593.7,121.1 L1594.1,121.7 L1594.6,122.3 L1595.1,122.9 L1595.6,123.6 L1596.1,124.3 L1596.5,124.9 L1597,125.6 L1597.5,126.3 L1598,127 L1598.4,127.7 L1598.9,128.4 L1599.4,129.1 L1599.9,129.7 L1600.3,130.4 L1600.8,131.1 L1601.3,131.7 L1601.8,132.4 L1602.3,133 L1602.7,133.7 L1603.2,134.3 L1603.7,134.9 L1604.2,135.4 L1604.6,136 L1605.1,136.5 L1605.6,137.1 L1606.1,137.6 L1606.5,138.1 L1607,138.5 L1607.5,139 L1608,139.4 L1608.4,139.8 L1608.9,140.2 L1609.4,140.6 L1609.9,141 L1610.4,141.3 L1610.8,141.6 L1611.3,141.9 L1611.8,142.2 L1612.3,142.5 L1612.7,142.8 L1613.2,143 L1613.7,143.2 L1614.2,143.4 L1614.6,143.6 L1615.1,143.8 L1615.6,144 L1616.1,144.2 L1616.6,144.3 L1617,144.4 L1617.5,144.6 L1618,144.7 L1618.5,144.8 L1618.9,144.9 L1619.4,145 L1619.9,145.1 L1620.4,145.2 L1620.8,145.2 L1621.3,145.3 L1621.8,145.4 L1622.3,145.4 L1622.8,145.5 L1623.2,145.5 L1623.7,145.5 L1624.2,145.6 L1624.7,145.6 L1625.1,145.6 L1625.6,145.7 L1626.1,145.7 L1626.6,145.7 L1627,145.7 L1627.5,145.8 L1628,145.8 L1628.5,145.8 L1628.9,145.8 L1629.4,145.8 L1629.9,145.8 L1630.4,145.8 L1630.9,145.8 L1631.3,145.9 L1631.8,145.9 L1632.3,145.9 L1632.8,145.9 L1633.2,145.9 L1633.7,145.9 L1634.2,145.9 L1634.7,145.9 L1635.1,145.9 L1635.6,145.9 L1636.1,145.9 L1636.6,145.9 L1637.1,145.9 L1637.5,145.9 L1638,145.9 L1638.5,145.9 L1639,145.9 L1639.4,145.9 L1639.9,145.9 L1640.4,145.9 L1640.9,145.9 L1641.3,145.9 L1641.8,145.9 L1642.3,145.9 L1642.8,145.9 L1643.2,145.9 L1643.7,145.9 L1644.2,145.9 L1644.7,145.9 L1645.2,145.9 L1645.6,145.9 L1646.1,145.9 L1646.6,145.9 L1647.1,145.9 L1647.5,145.9 L1648,145.9 L1648.5,145.9 L1649,145.9 L1649.4,145.9 L1649.9,145.9 L1650.4,145.9 L1650.9,145.9 L1651.4,145.9 L1651.8,145.9 L1652.3,145.9 L1652.8,145.9 L1653.3,145.9 L1653.7,145.9 L1654.2,145.9 L1654.7,145.9 L1655.2,145.9 L1655.6,145.9 L1656.1,145.9 L1656.6,145.9 L1657.1,145.9 L1657.5,145.9 L1658,145.9 L1658.5,145.9 L1659,145.9 L1659.5,145.9 L1659.9,145.9 L1660.4,145.9 L1660.9,145.9 L1661.4,145.9 L1661.8,145.9 L1662.3,145.9 L1662.8,145.9 L1663.3,145.9 L1663.7,145.9 L1664.2,145.9 L1664.7,145.9 L1665.2,145.9 L1665.7,145.9 L1666.1,145.9 L1666.6,145.9 L1667.1,145.9 L1667.6,145.9 L1668,145.9 L1668.5,145.9 L1669,145.9 L1669.5,145.9 L1669.9,145.9 L1670.4,145.9 L1670.9,145.9 L1671.4,145.9 L1671.8,145.9 L1672.3,145.9 L1672.8,145.9 L1673.3,145.9 L1673.8,145.9 L1674.2,145.9 L1674.7,145.9 L1675.2,145.9 L1675.7,145.9 L1676.1,145.9 L1676.6,145.9 L1677.1,145.9 L1677.6,145.9 L1678,145.9 L1678.5,145.9 L1679,145.9" fill="none" stroke="#4f6fd0" stroke-width="1.4" stroke-linejoin="round" />
<path d="M1488.8,145.9 L1489.3,145.9 L1489.8,145.9 L1490.2,145.9 L1490.7,145.9 L1491.2,145.9 L1491.7,145.9 L1492.1,145.9 L1492.6,145.9 L1493.1,145.9 L1493.6,145.9 L1494,145.9 L1494.5,145.9 L1495,145.9 L1495.5,145.9 L1496,145.9 L1496.4,145.9 L1496.9,145.9 L1497.4,145.9 L1497.9,145.9 L1498.3,145.9 L1498.8,145.9 L1499.3,145.9 L1499.8,145.9 L1500.2,145.9 L1500.7,145.9 L1501.2,145.9 L1501.7,145.9 L1502.1,145.9 L1502.6,145.9 L1503.1,145.9 L1503.6,145.9 L1504.1,145.9 L1504.5,145.9 L1505,145.9 L1505.5,145.9 L1506,145.9 L1506.4,145.9 L1506.9,145.9 L1507.4,145.9 L1507.9,145.9 L1508.3,145.9 L1508.8,145.9 L1509.3,145.9 L1509.8,145.9 L1510.3,145.9 L1510.7,145.9 L1511.2,145.9 L1511.7,145.9 L1512.2,145.9 L1512.6,145.9 L1513.1,145.9 L1513.6,145.9 L1514.1,145.9 L1514.5,145.9 L1515,145.9 L1515.5,145.9 L1516,145.9 L1516.4,145.9 L1516.9,145.9 L1517.4,145.9 L1517.9,145.9 L1518.4,145.9 L1518.8,145.9 L1519.3,145.9 L1519.8,145.9 L1520.3,145.9 L1520.7,145.9 L1521.2,145.9 L1521.7,145.9 L1522.2,145.9 L1522.6,145.9 L1523.1,145.9 L1523.6,145.9 L1524.1,145.9 L1524.6,145.9 L1525,145.9 L1525.5,145.9 L1526,145.9 L1526.5,145.9 L1526.9,145.9 L1527.4,145.9 L1527.9,145.9 L1528.4,145.9 L1528.8,145.9 L1529.3,145.9 L1529.8,145.9 L1530.3,145.9 L1530.7,145.9 L1531.2,145.9 L1531.7,145.9 L1532.2,145.9 L1532.7,145.9 L1533.1,145.9 L1533.6,145.9 L1534.1,145.9 L1534.6,145.9 L1535,145.9 L1535.5,145.9 L1536,145.9 L1536.5,145.9 L1536.9,145.9 L1537.4,145.9 L1537.9,145.9 L1538.4,145.9 L1538.9,145.9 L1539.3,145.8 L1539.8,145.8 L1540.3,145.8 L1540.8,145.8 L1541.2,145.8 L1541.7,145.8 L1542.2,145.8 L1542.7,145.8 L1543.1,145.8 L1543.6,145.7 L1544.1,145.7 L1544.6,145.7 L1545,145.7 L1545.5,145.6 L1546,145.6 L1546.5,145.6 L1547,145.5 L1547.4,145.5 L1547.9,145.5 L1548.4,145.4 L1548.9,145.4 L1549.3,145.3 L1549.8,145.2 L1550.3,145.2 L1550.8,145.1 L1551.2,145 L1551.7,144.9 L1552.2,144.8 L1552.7,144.7 L1553.2,144.6 L1553.6,144.4 L1554.1,144.3 L1554.6,144.2 L1555.1,144 L1555.5,143.8 L1556,143.6 L1556.5,143.4 L1557,143.2 L1557.4,143 L1557.9,142.8 L1558.4,142.5 L1558.9,142.2 L1559.4,141.9 L1559.8,141.6 L1560.3,141.3 L1560.8,140.9 L1561.3,140.5 L1561.7,140.1 L1562.2,139.7 L1562.7,139.1 L1563.2,138.5 L1563.6,137.7 L1564.1,136.8 L1564.6,135.6 L1565.1,134.2 L1565.5,132.3 L1566,129.9 L1566.5,127 L1567,123.3 L1567.5,118.9 L1567.9,113.7 L1568.4,107.6 L1568.9,100.9 L1569.4,93.6 L1569.8,86 L1570.3,78.3 L1570.8,71 L1571.3,64.3 L1571.7,58.8 L1572.2,54.6 L1572.7,52 L1573.2,51.2 L1573.7,52.2 L1574.1,54.8 L1574.6,58.9 L1575.1,64.1 L1575.6,70 L1576,76.4 L1576.5,82.7 L1577,88.8 L1577.5,94.4 L1577.9,99.3 L1578.4,103.5 L1578.9,106.9 L1579.4,109.6 L1579.8,111.6 L1580.3,113 L1580.8,114 L1581.3,114.7 L1581.8,115.1 L1582.2,115.2 L1582.7,115.3 L1583.2,115.3 L1583.7,115.3 L1584.1,115.2 L1584.6,115.2 L1585.1,115.2 L1585.6,115.2 L1586,115.2 L1586.5,115.3 L1587,115.5 L1587.5,115.6 L1588,115.8 L1588.4,116.1 L1588.9,116.4 L1589.4,116.7 L1589.9,117.1 L1590.3,117.5 L1590.8,117.9 L1591.3,118.3 L1591.8,118.8 L1592.2,119.4 L1592.7,119.9 L1593.2,120.5 L1593.7,121.1 L1594.1,121.7 L1594.6,122.3 L1595.1,122.9 L1595.6,123.6 L1596.1,124.3 L1596.5,124.9 L1597,125.6 L1597.5,126.3 L1598,127 L1598.4,127.7 L1598.9,128.4 L1599.4,129.1 L1599.9,129.7 L1600.3,130.4 L1600.8,131.1 L1601.3,131.7 L1601.8,132.4 L1602.3,133 L1602.7,133.7 L1603.2,134.3 L1603.7,134.9 L1604.2,135.4 L1604.6,136 L1605.1,136.5 L1605.6,137.1 L1606.1,137.6 L1606.5,138.1 L1607,138.5 L1607.5,139 L1608,139.4 L1608.4,139.8 L1608.9,140.2 L1609.4,140.6 L1609.9,141 L1610.4,141.3 L1610.8,141.6 L1611.3,141.9 L1611.8,142.2 L1612.3,142.5 L1612.7,142.8 L1613.2,143 L1613.7,143.2 L1614.2,143.4 L1614.6,143.6 L1615.1,143.8 L1615.6,144 L1616.1,144.2 L1616.6,144.3 L1617,144.4 L1617.5,144.6 L1618,144.7 L1618.5,144.8 L1618.9,144.9 L1619.4,145 L1619.9,145.1 L1620.4,145.2 L1620.8,145.2 L1621.3,145.3 L1621.8,145.4 L1622.3,145.4 L1622.8,145.5 L1623.2,145.5 L1623.7,145.5 L1624.2,145.6 L1624.7,145.6 L1625.1,145.6 L1625.6,145.7 L1626.1,145.7 L1626.6,145.7 L1627,145.7 L1627.5,145.8 L1628,145.8 L1628.5,145.8 L1628.9,145.8 L1629.4,145.8 L1629.9,145.8 L1630.4,145.8 L1630.9,145.8 L1631.3,145.9 L1631.8,145.9 L1632.3,145.9 L1632.8,145.9 L1633.2,145.9 L1633.7,145.9 L1634.2,145.9 L1634.7,145.9 L1635.1,145.9 L1635.6,145.9 L1636.1,145.9 L1636.6,145.9 L1637.1,145.9 L1637.5,145.9 L1638,145.9 L1638.5,145.9 L1639,145.9 L1639.4,145.9 L1639.9,145.9 L1640.4,145.9 L1640.9,145.9 L1641.3,145.9 L1641.8,145.9 L1642.3,145.9 L1642.8,145.9 L1643.2,145.9 L1643.7,145.9 L1644.2,145.9 L1644.7,145.9 L1645.2,145.9 L1645.6,145.9 L1646.1,145.9 L1646.6,145.9 L1647.1,145.9 L1647.5,145.9 L1648,145.9 L1648.5,145.9 L1649,145.9 L1649.4,145.9 L1649.9,145.9 L1650.4,145.9 L1650.9,145.9 L1651.4,145.9 L1651.8,145.9 L1652.3,145.9 L1652.8,145.9 L1653.3,145.9 L1653.7,145.9 L1654.2,145.9 L1654.7,145.9 L1655.2,145.9 L1655.6,145.9 L1656.1,145.9 L1656.6,145.9 L1657.1,145.9 L1657.5,145.9 L1658,145.9 L1658.5,145.9 L1659,145.9 L1659.5,145.9 L1659.9,145.9 L1660.4,145.9 L1660.9,145.9 L1661.4,145.9 L1661.8,145.9 L1662.3,145.9 L1662.8,145.9 L1663.3,145.9 L1663.7,145.9 L1664.2,145.9 L1664.7,145.9 L1665.2,145.9 L1665.7,145.9 L1666.1,145.9 L1666.6,145.9 L1667.1,145.9 L1667.6,145.9 L1668,145.9 L1668.5,145.9 L1669,145.9 L1669.5,145.9 L1669.9,145.9 L1670.4,145.9 L1670.9,145.9 L1671.4,145.9 L1671.8,145.9 L1672.3,145.9 L1672.8,145.9 L1673.3,145.9 L1673.8,145.9 L1674.2,145.9 L1674.7,145.9 L1675.2,145.9 L1675.7,145.9 L1676.1,145.9 L1676.6,145.9 L1677.1,145.9 L1677.6,145.9 L1678,145.9 L1678.5,145.9 L1679,145.9" fill="none" stroke="#e33a3a" stroke-width="2.2" stroke-linejoin="round" />
</g>
<rect x="1488.8" y="34.3" width="190.2" height="120.3" fill="none" stroke="#3c3c3c" stroke-width="1.6"/>
<line x1="1484" y1="145.9" x2="1488.8" y2="145.9" stroke="#3c3c3c" stroke-width="1.3"/>
<line x1="1484" y1="96.4" x2="1488.8" y2="96.4" stroke="#3c3c3c" stroke-width="1.3"/>
<line x1="1484" y1="46.9" x2="1488.8" y2="46.9" stroke="#3c3c3c" stroke-width="1.3"/>
<text transform="translate(1482,151.4) scale(1.13,1)" x="0" y="0" font-size="15" fill="#3a3a3a" text-anchor="end" font-weight="normal" font-family="'Liberation Sans', Arial, sans-serif"  stroke="#3a3a3a" stroke-width="0.45" stroke-linejoin="round">0.0</text>
<text transform="translate(1482,52.4) scale(1.13,1)" x="0" y="0" font-size="15" fill="#3a3a3a" text-anchor="end" font-weight="normal" font-family="'Liberation Sans', Arial, sans-serif"  stroke="#3a3a3a" stroke-width="0.45" stroke-linejoin="round">1.0</text>
<line x1="1488.8" y1="154.6" x2="1488.8" y2="150.6" stroke="#3c3c3c" stroke-width="1.2"/>
<text transform="translate(1488.8,177) scale(1.13,1)" x="0" y="0" font-size="15" fill="#3a3a3a" text-anchor="middle" font-weight="normal" font-family="'Liberation Sans', Arial, sans-serif"  stroke="#3a3a3a" stroke-width="0.45" stroke-linejoin="round">860</text>
<line x1="1512.6" y1="154.6" x2="1512.6" y2="150.6" stroke="#3c3c3c" stroke-width="1.2"/>
<line x1="1536.3" y1="154.6" x2="1536.3" y2="150.6" stroke="#3c3c3c" stroke-width="1.2"/>
<text transform="translate(1536.3,177) scale(1.13,1)" x="0" y="0" font-size="15" fill="#3a3a3a" text-anchor="middle" font-weight="normal" font-family="'Liberation Sans', Arial, sans-serif"  stroke="#3a3a3a" stroke-width="0.45" stroke-linejoin="round">861</text>
<line x1="1560.1" y1="154.6" x2="1560.1" y2="150.6" stroke="#3c3c3c" stroke-width="1.2"/>
<line x1="1583.9" y1="154.6" x2="1583.9" y2="150.6" stroke="#3c3c3c" stroke-width="1.2"/>
<text transform="translate(1583.9,177) scale(1.13,1)" x="0" y="0" font-size="15" fill="#3a3a3a" text-anchor="middle" font-weight="normal" font-family="'Liberation Sans', Arial, sans-serif"  stroke="#3a3a3a" stroke-width="0.45" stroke-linejoin="round">862</text>
<line x1="1607.7" y1="154.6" x2="1607.7" y2="150.6" stroke="#3c3c3c" stroke-width="1.2"/>
<line x1="1631.5" y1="154.6" x2="1631.5" y2="150.6" stroke="#3c3c3c" stroke-width="1.2"/>
<text transform="translate(1631.5,177) scale(1.13,1)" x="0" y="0" font-size="15" fill="#3a3a3a" text-anchor="middle" font-weight="normal" font-family="'Liberation Sans', Arial, sans-serif"  stroke="#3a3a3a" stroke-width="0.45" stroke-linejoin="round">863</text>
<line x1="1655.2" y1="154.6" x2="1655.2" y2="150.6" stroke="#3c3c3c" stroke-width="1.2"/>
<line x1="1679" y1="154.6" x2="1679" y2="150.6" stroke="#3c3c3c" stroke-width="1.2"/>
<text transform="translate(1679,177) scale(1.13,1)" x="0" y="0" font-size="15" fill="#3a3a3a" text-anchor="middle" font-weight="normal" font-family="'Liberation Sans', Arial, sans-serif"  stroke="#3a3a3a" stroke-width="0.45" stroke-linejoin="round">864</text>
<text transform="translate(1583.5,197) scale(1.15,1)" x="0" y="0" font-size="19.5" fill="#2e2e2e" text-anchor="middle" font-weight="normal" font-family="'Liberation Sans', Arial, sans-serif"  stroke="#2e2e2e" stroke-width="0.45" stroke-linejoin="round">Wavelength (nm)</text>
<text transform="translate(1235.4,39.8) scale(1.02,1)" x="0" y="0" font-size="39.5" fill="#000" text-anchor="start" font-weight="normal" font-family="'Liberation Sans', Arial, sans-serif" >(d)</text>
<defs><clipPath id="clipB"><rect x="114.5" y="328.5" width="344.3" height="341.1"/></clipPath></defs>
<g clip-path="url(#clipB)">
<path d="M114.5,602.2 L114.7,601.3 L115,601.5 L115.2,601.5 L115.5,600.7 L115.7,603.3 L116,602.7 L116.2,603.4 L116.5,602.2 L116.7,601.2 L117,602.1 L117.2,601.6 L117.5,603.9 L117.7,601.9 L117.9,602.9 L118.2,600.4 L118.4,601.2 L118.7,601.1 L118.9,602 L119.2,601.4 L119.4,601.3 L119.7,602.3 L119.9,602.4 L120.2,602 L120.4,602.5 L120.7,602.4 L120.9,602.1 L121.1,602.5 L121.4,601.1 L121.6,603.3 L121.9,601 L122.1,602.4 L122.4,602.3 L122.6,603 L122.9,601.9 L123.1,602 L123.4,601.5 L123.6,602.2 L123.9,601.6 L124.1,600 L124.3,601.3 L124.6,602.2 L124.8,600.7 L125.1,601.7 L125.3,601 L125.6,601 L125.8,601.9 L126.1,603.3 L126.3,601.8 L126.6,601 L126.8,601.8 L127.1,601 L127.3,600.5 L127.5,601.9 L127.8,600.3 L128,599.9 L128.3,600.4 L128.5,600.3 L128.8,600.3 L129,599.2 L129.3,601.1 L129.5,601.3 L129.8,600.7 L130,602.1 L130.3,602.6 L130.5,602 L130.7,600.8 L131,600.7 L131.2,602.5 L131.5,602.8 L131.7,601.3 L132,601.2 L132.2,601 L132.5,600.3 L132.7,599.8 L133,600.7 L133.2,600.3 L133.5,601.9 L133.7,601.9 L133.9,600.6 L134.2,600.1 L134.4,600 L134.7,600.1 L134.9,599.9 L135.2,599.8 L135.4,602.2 L135.7,601.2 L135.9,600 L136.2,599.8 L136.4,601.7 L136.6,599.1 L136.9,600.6 L137.1,600.3 L137.4,599.8 L137.6,599.2 L137.9,601.1 L138.1,598.8 L138.4,599.5 L138.6,600.1 L138.9,599.5 L139.1,601.1 L139.4,599.4 L139.6,598.4 L139.8,598.9 L140.1,598.1 L140.3,597.5 L140.6,596.8 L140.8,595.3 L141.1,595.6 L141.3,595.1 L141.6,593.7 L141.8,591.8 L142.1,593.8 L142.3,593.2 L142.6,595.5 L142.8,593.2 L143,594.4 L143.3,594.3 L143.5,596.1 L143.8,597.3 L144,595.8 L144.3,596.1 L144.5,597.7 L144.8,598.3 L145,596.5 L145.3,596.9 L145.5,594.2 L145.8,597 L146,596.6 L146.2,595.8 L146.5,596.8 L146.7,595.5 L147,592.5 L147.2,593.4 L147.5,593.1 L147.7,593 L148,590.7 L148.2,590.3 L148.5,590.7 L148.7,591.5 L149,591.2 L149.2,591.4 L149.4,592.6 L149.7,591.5 L149.9,594 L150.2,593.1 L150.4,591.9 L150.7,591.2 L150.9,591.6 L151.2,589.4 L151.4,587.8 L151.7,587.3 L151.9,586.2 L152.2,584.3 L152.4,583.3 L152.6,583.3 L152.9,581.2 L153.1,578.8 L153.4,580.5 L153.6,579.2 L153.9,580 L154.1,581.2 L154.4,582.3 L154.6,582.4 L154.9,583.4 L155.1,584.5 L155.4,587.1 L155.6,586.9 L155.8,586.9 L156.1,586.8 L156.3,587.2 L156.6,587.1 L156.8,586.7 L157.1,586.6 L157.3,587.6 L157.6,586 L157.8,585.8 L158.1,586.2 L158.3,584.4 L158.6,579.8 L158.8,581.9 L159,582.4 L159.3,580.8 L159.5,579.3 L159.8,581.7 L160,582.6 L160.3,584.7 L160.5,586 L160.8,586.2 L161,588 L161.3,589.9 L161.5,590.1 L161.8,590.8 L162,592.7 L162.2,592.9 L162.5,593.5 L162.7,594.8 L163,593.5 L163.2,595.1 L163.5,595.8 L163.7,597.1 L164,596.9 L164.2,594.5 L164.5,597.1 L164.7,595.8 L165,596.7 L165.2,595.9 L165.4,595.9 L165.7,597.3 L165.9,596.9 L166.2,596.5 L166.4,596.5 L166.7,596.6 L166.9,596.9 L167.2,596 L167.4,595.3 L167.7,595.9 L167.9,597 L168.2,595.9 L168.4,596.1 L168.6,595.5 L168.9,594.1 L169.1,595.8 L169.4,595.4 L169.6,595.9 L169.9,595 L170.1,594.9 L170.4,592.4 L170.6,593.1 L170.9,593.4 L171.1,590.3 L171.4,592.5 L171.6,589.6 L171.8,588.3 L172.1,587.5 L172.3,586.9 L172.6,585.2 L172.8,583.9 L173.1,581.4 L173.3,583 L173.6,580.5 L173.8,579.6 L174.1,580.6 L174.3,582.6 L174.5,582.4 L174.8,584.4 L175,584.5 L175.3,585.4 L175.5,588 L175.8,591.1 L176,590.6 L176.3,592.2 L176.5,591.4 L176.8,591.2 L177,593 L177.3,591.9 L177.5,592.9 L177.7,594 L178,595.7 L178.2,595 L178.5,596.7 L178.7,594.6 L179,595.6 L179.2,594.6 L179.5,595.7 L179.7,601.6 L180,599.3 L180.2,599.2 L180.5,598.6 L180.7,601.1 L180.9,601.1 L181.2,600.2 L181.4,601.3 L181.7,601.7 L181.9,601.4 L182.2,598 L182.4,601.1 L182.7,601.4 L182.9,600.9 L183.2,600.5 L183.4,599.4 L183.7,599.7 L183.9,599.8 L184.1,600.5 L184.4,600.4 L184.6,601.2 L184.9,602 L185.1,598.6 L185.4,601 L185.6,599.6 L185.9,600.8 L186.1,600.6 L186.4,600.6 L186.6,601.7 L186.9,600.5 L187.1,600.1 L187.3,599.6 L187.6,599.9 L187.8,599.4 L188.1,600 L188.3,600.3 L188.6,602.1 L188.8,600.7 L189.1,598.8 L189.3,600.1 L189.6,599.4 L189.8,600.3 L190.1,600.7 L190.3,598.1 L190.5,599.7 L190.8,598.6 L191,599.4 L191.3,600.1 L191.5,601.9 L191.8,599.7 L192,601.2 L192.3,601.8 L192.5,598.5 L192.8,598.9 L193,598.9 L193.3,599.4 L193.5,599.5 L193.7,599 L194,599.2 L194.2,599.2 L194.5,598.5 L194.7,601.4 L195,598.2 L195.2,599.6 L195.5,598.1 L195.7,597.8 L196,599.6 L196.2,598 L196.5,597.9 L196.7,599.3 L196.9,599 L197.2,598.4 L197.4,600.5 L197.7,598.7 L197.9,598 L198.2,598.5 L198.4,599.5 L198.7,594.6 L198.9,592.7 L199.2,592.8 L199.4,594 L199.7,594.6 L199.9,593.7 L200.1,593.6 L200.4,594.1 L200.6,593.7 L200.9,592.6 L201.1,592.2 L201.4,595.2 L201.6,591.9 L201.9,592.6 L202.1,591.5 L202.4,592.4 L202.6,591.8 L202.9,590.5 L203.1,594.7 L203.3,590.2 L203.6,591.4 L203.8,593.1 L204.1,593.6 L204.3,590.7 L204.6,591.7 L204.8,589.6 L205.1,590.1 L205.3,590.2 L205.6,588.9 L205.8,589.4 L206.1,588.6 L206.3,588.2 L206.5,588.8 L206.8,588.1 L207,587.8 L207.3,589.5 L207.5,588.2 L207.8,587.7 L208,587.6 L208.3,588.4 L208.5,587.1 L208.8,585.8 L209,585.5 L209.3,583.8 L209.5,585.3 L209.7,584.7 L210,584.2 L210.2,583.4 L210.5,583.1 L210.7,583.6 L211,580.8 L211.2,579.5 L211.5,578.6 L211.7,579.8 L212,578 L212.2,575.2 L212.4,575.9 L212.7,574.3 L212.9,573.6 L213.2,571.2 L213.4,569.7 L213.7,566.9 L213.9,566.9 L214.2,565 L214.4,564.5 L214.7,561.4 L214.9,559.2 L215.2,556 L215.4,553.7 L215.6,547.8 L215.9,545.9 L216.1,540.2 L216.4,536.5 L216.6,529.1 L216.9,521.1 L217.1,515.6 L217.4,505.6 L217.6,495.6 L217.9,483.3 L218.1,469.4 L218.4,454.8 L218.6,436.9 L218.8,418.4 L219.1,399.1 L219.3,380.8 L219.6,362.9 L219.8,353.6 L220.1,348.2 L220.3,351.7 L220.6,363.5 L220.8,377.1 L221.1,397.2 L221.3,415 L221.6,433 L221.8,452.3 L222,467.9 L222.3,481.6 L222.5,490.4 L222.8,503 L223,512.6 L223.3,518.3 L223.5,525.7 L223.8,531.2 L224,537 L224.3,542.5 L224.5,544.8 L224.8,548.4 L225,551.8 L225.2,553.8 L225.5,556 L225.7,556.3 L226,558.2 L226.2,560 L226.5,562.4 L226.7,564.3 L227,564 L227.2,564.8 L227.5,565.3 L227.7,567 L228,567.9 L228.2,568.1 L228.4,569.9 L228.7,570.3 L228.9,569.5 L229.2,571.7 L229.4,571.1 L229.7,570.7 L229.9,571.6 L230.2,571.7 L230.4,573.5 L230.7,572.9 L230.9,573.4 L231.2,572.9 L231.4,573.3 L231.6,574 L231.9,572.5 L232.1,574.1 L232.4,575.1 L232.6,575.7 L232.9,575.4 L233.1,576.1 L233.4,574.2 L233.6,575.4 L233.9,576.4 L234.1,576.9 L234.4,577.4 L234.6,576.7 L234.8,575.2 L235.1,575.6 L235.3,576.4 L235.6,576.1 L235.8,577.7 L236.1,575 L236.3,575.6 L236.6,573.6 L236.8,574.5 L237.1,574.1 L237.3,572.7 L237.6,572.5 L237.8,569.6 L238,569.4 L238.3,567.9 L238.5,566.4 L238.8,565.3 L239,562.6 L239.3,560.9 L239.5,557.4 L239.8,557 L240,554.8 L240.3,553.8 L240.5,552.4 L240.8,551.4 L241,549.5 L241.2,550.8 L241.5,550.8 L241.7,553.3 L242,555.2 L242.2,558.8 L242.5,558.6 L242.7,559.9 L243,564.5 L243.2,565.4 L243.5,568.3 L243.7,571.9 L244,572.6 L244.2,576 L244.4,577.2 L244.7,577.3 L244.9,579.7 L245.2,582.2 L245.4,581 L245.7,584.4 L245.9,584.5 L246.2,585.5 L246.4,586.1 L246.7,587.5 L246.9,588.9 L247.2,586.2 L247.4,589.3 L247.6,589.7 L247.9,591.6 L248.1,589.6 L248.4,588.8 L248.6,589 L248.9,588 L249.1,589.4 L249.4,590.6 L249.6,591 L249.9,589.8 L250.1,591.2 L250.3,591 L250.6,592 L250.8,590.9 L251.1,589 L251.3,590.7 L251.6,589.9 L251.8,592.2 L252.1,588.2 L252.3,588.6 L252.6,587.1 L252.8,587.6 L253.1,588 L253.3,587.9 L253.5,585.7 L253.8,585.9 L254,586.6 L254.3,585.9 L254.5,586.8 L254.8,586.1 L255,587.9 L255.3,589.4 L255.5,589.2 L255.8,590.5 L256,589.3 L256.3,591.8 L256.5,593.3 L256.7,592.7 L257,593.3 L257.2,593.3 L257.5,593.7 L257.7,595.2 L258,594.5 L258.2,594.8 L258.5,596 L258.7,595.5 L259,594.9 L259.2,596.6 L259.5,596.1 L259.7,595.5 L259.9,595 L260.2,594.2 L260.4,595.7 L260.7,593.9 L260.9,593.2 L261.2,591.8 L261.4,593.1 L261.7,592.9 L261.9,592.8 L262.2,590.2 L262.4,588.9 L262.7,590.4 L262.9,589.2 L263.1,589 L263.4,589.4 L263.6,591.3 L263.9,591.2 L264.1,592.6 L264.4,594.3 L264.6,593.9 L264.9,594.5 L265.1,596.3 L265.4,595.5 L265.6,594.5 L265.9,598.2 L266.1,596.5 L266.3,596.6 L266.6,597.7 L266.8,597.6 L267.1,598.4 L267.3,597.1 L267.6,599.4 L267.8,598.8 L268.1,600.6 L268.3,598.6 L268.6,598.7 L268.8,600.7 L269.1,600.1 L269.3,598.9 L269.5,599.9 L269.8,600.6 L270,601.9 L270.3,599.3 L270.5,597.9 L270.8,600.2 L271,599.4 L271.3,599.5 L271.5,600 L271.8,599.9 L272,599.9 L272.3,600.9 L272.5,597.8 L272.7,597.6 L273,599.9 L273.2,598.5 L273.5,601 L273.7,600.5 L274,599.2 L274.2,601.4 L274.5,601.6 L274.7,600 L275,602.2 L275.2,599.5 L275.5,600.5 L275.7,601 L275.9,600.7 L276.2,602.2 L276.4,602.3 L276.7,600.7 L276.9,600.6 L277.2,601.4 L277.4,601.7 L277.7,602.2 L277.9,600.4 L278.2,603.2 L278.4,602.6 L278.7,602.4 L278.9,603.3 L279.1,603.2 L279.4,602.9 L279.6,601.1 L279.9,600.4 L280.1,601.8 L280.4,603.6 L280.6,602.7 L280.9,602.3 L281.1,602.5 L281.4,602.6 L281.6,601.8 L281.9,604.1 L282.1,602.8 L282.3,602.1 L282.6,601.7 L282.8,602.1 L283.1,602.3 L283.3,602.5 L283.6,603 L283.8,602.3 L284.1,602.6 L284.3,603 L284.6,601.2 L284.8,601.2 L285.1,602.7 L285.3,601.7 L285.5,601.2 L285.8,602 L286,602.1 L286.3,601.7 L286.5,603.7 L286.8,603.4 L287,601.6 L287.3,601.7 L287.5,600.7 L287.8,602.3 L288,600.8 L288.2,600.7 L288.5,599.8 L288.7,602.3 L289,601.8 L289.2,601.1 L289.5,601 L289.7,602.1 L290,601.6 L290.2,602.2 L290.5,598.7 L290.7,600.8 L291,600.7 L291.2,601.2 L291.4,600.5 L291.7,599.8 L291.9,600.8 L292.2,600.5 L292.4,598.5 L292.7,599.7 L292.9,600.4 L293.2,601 L293.4,600.8 L293.7,601.5 L293.9,600.7 L294.2,601.7 L294.4,601.9 L294.6,601.8 L294.9,602.5 L295.1,601.5 L295.4,599.5 L295.6,602.6 L295.9,603.7 L296.1,601.4 L296.4,602.5 L296.6,600.7 L296.9,602.3 L297.1,601.9 L297.4,603.6 L297.6,604.5 L297.8,603.3 L298.1,602.6 L298.3,604.1 L298.6,604.9 L298.8,604 L299.1,604 L299.3,604 L299.6,603.8 L299.8,601.6 L300.1,603.8 L300.3,604.4 L300.6,605 L300.8,603.3 L301,605.5 L301.3,602.8 L301.5,604.2 L301.8,605.6 L302,604.1 L302.3,604.4 L302.5,603.2 L302.8,605.8 L303,604.2 L303.3,604.5 L303.5,603.6 L303.8,605.6 L304,605.3 L304.2,602.7 L304.5,604.1 L304.7,606 L305,604.3 L305.2,605.4 L305.5,605.3 L305.7,605.9 L306,603.8 L306.2,605.3 L306.5,604.6 L306.7,604.7 L307,606.2 L307.2,605.5 L307.4,604.1 L307.7,606.3 L307.9,604.7 L308.2,605 L308.4,604.3 L308.7,604.3 L308.9,604.2 L309.2,604.9 L309.4,604.7 L309.7,605.6 L309.9,605.5 L310.2,604.2 L310.4,605.6 L310.6,604.1 L310.9,604.1 L311.1,605.8 L311.4,604.5 L311.6,605.8 L311.9,604.8 L312.1,605.8 L312.4,604.8 L312.6,605 L312.9,606.1 L313.1,603.2 L313.4,604.2 L313.6,606.6 L313.8,604.8 L314.1,605.6 L314.3,603.3 L314.6,605.2 L314.8,604.8 L315.1,605.3 L315.3,604.6 L315.6,605.7 L315.8,606 L316.1,605.7 L316.3,605.6 L316.6,604.6 L316.8,605.1 L317,605.6 L317.3,605.6 L317.5,606.1 L317.8,605.1 L318,607.1 L318.3,605.4 L318.5,604.1 L318.8,605.6 L319,605.8 L319.3,605.2 L319.5,606.1 L319.8,605.9 L320,604.6 L320.2,605.8 L320.5,603.4 L320.7,604.7 L321,605.3 L321.2,605.8 L321.5,605.5 L321.7,607.3 L322,605 L322.2,604.4 L322.5,604.7 L322.7,605.6 L323,604.6 L323.2,604.6 L323.4,605.3 L323.7,604.9 L323.9,604.2 L324.2,604.8 L324.4,605.5 L324.7,605.2 L324.9,605 L325.2,606.7 L325.4,605 L325.7,605.3 L325.9,607.1 L326.1,606.7 L326.4,603.4 L326.6,605 L326.9,603.8 L327.1,605.4 L327.4,603.6 L327.6,604.5 L327.9,605.6 L328.1,604.7 L328.4,603.5 L328.6,602.7 L328.9,604.4 L329.1,605.3 L329.3,605.7 L329.6,604.2 L329.8,603.8 L330.1,604.6 L330.3,604.8 L330.6,603.9 L330.8,604.2 L331.1,604.3 L331.3,606 L331.6,604.8 L331.8,602.7 L332.1,604.5 L332.3,602.1 L332.5,604 L332.8,604.6 L333,604 L333.3,603.6 L333.5,604.8 L333.8,603.9 L334,604.4 L334.3,602.7 L334.5,604.4 L334.8,603.8 L335,605.3 L335.3,605.1 L335.5,603.9 L335.7,604.7 L336,604.1 L336.2,603.6 L336.5,603.3 L336.7,605.1 L337,604 L337.2,603.2 L337.5,604.5 L337.7,605.1 L338,604.6 L338.2,602.5 L338.5,604 L338.7,602.7 L338.9,604.4 L339.2,603.1 L339.4,605.6 L339.7,604.5 L339.9,604.3 L340.2,602.8 L340.4,604 L340.7,603.5 L340.9,605 L341.2,605 L341.4,603.5 L341.7,603.4 L341.9,603.6 L342.1,603.7 L342.4,605.3 L342.6,602.9 L342.9,604.8 L343.1,603.8 L343.4,604.3 L343.6,606.6 L343.9,606.9 L344.1,606.6 L344.4,605.2 L344.6,604.1 L344.9,605.4 L345.1,604.4 L345.3,606.4 L345.6,605.8 L345.8,606.1 L346.1,605.2 L346.3,606.4 L346.6,605.4 L346.8,604.8 L347.1,605.8 L347.3,606.2 L347.6,605.8 L347.8,606.5 L348.1,606.4 L348.3,604.7 L348.5,605.1 L348.8,606.8 L349,605.7 L349.3,605 L349.5,604.7 L349.8,604.9 L350,604.6 L350.3,605.5 L350.5,605.5 L350.8,605.8 L351,604.5 L351.3,604.7 L351.5,603.9 L351.7,604.5 L352,606.3 L352.2,606.9 L352.5,606.9 L352.7,606.4 L353,605 L353.2,606.9 L353.5,607.5 L353.7,605.8 L354,604.9 L354.2,604.9 L354.5,604.1 L354.7,605.7 L354.9,606.2 L355.2,605.9 L355.4,606.9 L355.7,606.3 L355.9,604.5 L356.2,603.7 L356.4,604.5 L356.7,605.4 L356.9,605.9 L357.2,605.5 L357.4,607.5 L357.7,605.2 L357.9,605 L358.1,605.8 L358.4,605.7 L358.6,607.3 L358.9,605 L359.1,605 L359.4,608.3 L359.6,606.3 L359.9,605.4 L360.1,604.2 L360.4,606.6 L360.6,605.8 L360.9,604.4 L361.1,605.3 L361.3,606 L361.6,606.2 L361.8,605.7 L362.1,606.5 L362.3,604.8 L362.6,606.6 L362.8,605.2 L363.1,604.9 L363.3,604.6 L363.6,605.6 L363.8,605.7 L364,605.4 L364.3,605.6 L364.5,604.7 L364.8,605.8 L365,603.9 L365.3,603.1 L365.5,606.3 L365.8,605.3 L366,606.8 L366.3,605 L366.5,605.3 L366.8,605.9 L367,606.7 L367.2,605.7 L367.5,603.9 L367.7,604.2 L368,605.4 L368.2,606.3 L368.5,605.8 L368.7,606.5 L369,607 L369.2,606.6 L369.5,605.2 L369.7,605.5 L370,605.6 L370.2,606.8 L370.4,607.1 L370.7,604.8 L370.9,606.1 L371.2,604.7 L371.4,606.5 L371.7,604.9 L371.9,605.6 L372.2,606.2 L372.4,606.2 L372.7,604 L372.9,604.9 L373.2,606 L373.4,605.6 L373.6,607.2 L373.9,604.2 L374.1,604.5 L374.4,606.2 L374.6,605.4 L374.9,608.4 L375.1,604.9 L375.4,605.4 L375.6,605.6 L375.9,605 L376.1,605.5 L376.4,606.7 L376.6,606.5 L376.8,606 L377.1,605 L377.3,605.8 L377.6,606.5 L377.8,605.5 L378.1,607 L378.3,603.9 L378.6,605.6 L378.8,606.8 L379.1,605.7 L379.3,604.8 L379.6,605.3 L379.8,603.9 L380,607.2 L380.3,604.4 L380.5,605.9 L380.8,605 L381,604.3 L381.3,607 L381.5,607.2 L381.8,606.2 L382,607.4 L382.3,607.7 L382.5,605.8 L382.8,604.8 L383,606.3 L383.2,605.4 L383.5,602.4 L383.7,605.6 L384,606.2 L384.2,606 L384.5,605.5 L384.7,606.1 L385,605.2 L385.2,605.7 L385.5,605 L385.7,605.7 L386,605.9 L386.2,606.7 L386.4,607.2 L386.7,606.1 L386.9,606.2 L387.2,605.6 L387.4,605.9 L387.7,606.2 L387.9,603.8 L388.2,605.6 L388.4,604.7 L388.7,606.8 L388.9,604.9 L389.2,604.8 L389.4,605.4 L389.6,606.7 L389.9,604.7 L390.1,606.5 L390.4,607.3 L390.6,607.4 L390.9,605.8 L391.1,606.3 L391.4,605.1 L391.6,605.3 L391.9,604.6 L392.1,605.6 L392.4,605.8 L392.6,605.9 L392.8,606.6 L393.1,606.7 L393.3,606.6 L393.6,605.7 L393.8,606.7 L394.1,606 L394.3,604.9 L394.6,608.1 L394.8,606.7 L395.1,606.8 L395.3,605.9 L395.6,607.3 L395.8,606.5 L396,603.8 L396.3,607.2 L396.5,606 L396.8,605.7 L397,606.2 L397.3,607 L397.5,605 L397.8,607.7 L398,606.8 L398.3,606.1 L398.5,606.5 L398.8,604.8 L399,606.2 L399.2,604.2 L399.5,606 L399.7,604.5 L400,605.6 L400.2,606.2 L400.5,606.3 L400.7,605 L401,606.5 L401.2,606 L401.5,606.7 L401.7,607.9 L401.9,605.5 L402.2,605.4 L402.4,607.1 L402.7,605.6 L402.9,606.2 L403.2,607.8 L403.4,606.9 L403.7,605.4 L403.9,605 L404.2,605.6 L404.4,603.4 L404.7,605.7 L404.9,606.7 L405.1,607.4 L405.4,604.6 L405.6,606.4 L405.9,606.3 L406.1,606.7 L406.4,606.7 L406.6,606.3 L406.9,605.5 L407.1,605.5 L407.4,605.6 L407.6,605.1 L407.9,606.4 L408.1,606.9 L408.3,606 L408.6,607.9 L408.8,605.1 L409.1,605.5 L409.3,605.4 L409.6,607 L409.8,606.4 L410.1,605.9 L410.3,606.9 L410.6,607 L410.8,606.1 L411.1,605.8 L411.3,606.6 L411.5,605 L411.8,603.9 L412,605.4 L412.3,606.1 L412.5,606.2 L412.8,604.4 L413,605.6 L413.3,605.4 L413.5,605.7 L413.8,606.5 L414,604.5 L414.3,606.2 L414.5,605.8 L414.7,607.9 L415,603.9 L415.2,605.2 L415.5,606 L415.7,606.7 L416,606.5 L416.2,607.5 L416.5,605.5 L416.7,606.8 L417,605.5 L417.2,605.5 L417.5,604.1 L417.7,605.7 L417.9,605.7 L418.2,605.5 L418.4,606.5 L418.7,606.2 L418.9,605.6 L419.2,604.8 L419.4,605.2 L419.7,606.2 L419.9,604.8 L420.2,606.3 L420.4,607.3 L420.7,604.4 L420.9,605.9 L421.1,606.3 L421.4,607 L421.6,606.3 L421.9,604.3 L422.1,605.9 L422.4,603.8 L422.6,605.9 L422.9,604.8 L423.1,605.8 L423.4,606.3 L423.6,606.3 L423.9,606.1 L424.1,607 L424.3,607 L424.6,605.5 L424.8,604.7 L425.1,605.7 L425.3,605.8 L425.6,606.7 L425.8,604.8 L426.1,604.9 L426.3,606.9 L426.6,605.8 L426.8,606.2 L427.1,607.3 L427.3,604.4 L427.5,604.7 L427.8,605.6 L428,604.5 L428.3,606.3 L428.5,605.6 L428.8,604.6 L429,606.1 L429.3,605.6 L429.5,606.8 L429.8,605.2 L430,604.8 L430.3,606.8 L430.5,606.6 L430.7,605.9 L431,604.6 L431.2,606.4 L431.5,606.7 L431.7,606 L432,604.8 L432.2,607.3 L432.5,606 L432.7,604.7 L433,605.9 L433.2,606.2 L433.5,605.1 L433.7,607 L433.9,604 L434.2,605.5 L434.4,606.3 L434.7,605.8 L434.9,606 L435.2,606.2 L435.4,607.1 L435.7,606.2 L435.9,607.5 L436.2,604.6 L436.4,607 L436.7,606.6 L436.9,606.7 L437.1,605.3 L437.4,606.1 L437.6,604.6 L437.9,606.4 L438.1,605.8 L438.4,606 L438.6,606.3 L438.9,604.9 L439.1,604.8 L439.4,604.7 L439.6,607.2 L439.8,605.6 L440.1,607 L440.3,607 L440.6,607.6 L440.8,606.8 L441.1,605.4 L441.3,604.7 L441.6,604.3 L441.8,606.8 L442.1,606.5 L442.3,605.7 L442.6,605.8 L442.8,605.8 L443,607.6 L443.3,606.1 L443.5,605.4 L443.8,605.7 L444,606.1 L444.3,606.6 L444.5,606 L444.8,604.5 L445,605.5 L445.3,605 L445.5,604.4 L445.8,607 L446,605.3 L446.2,605.5 L446.5,604.7 L446.7,606.2 L447,606.2 L447.2,606.6 L447.5,605.8 L447.7,606.2 L448,606.1 L448.2,605.7 L448.5,606.3 L448.7,606.8 L449,606.4 L449.2,606.5 L449.4,605.6 L449.7,604.8 L449.9,606.3 L450.2,608.3 L450.4,605.4 L450.7,606.1 L450.9,606.9 L451.2,606.2 L451.4,604.3 L451.7,607.4 L451.9,607.1 L452.2,606.1 L452.4,608.9 L452.6,606.4 L452.9,605.1 L453.1,605.5 L453.4,605.7 L453.6,606.3 L453.9,606.2 L454.1,603.5 L454.4,605.8 L454.6,604.7 L454.9,607.2 L455.1,605.8 L455.4,605.7 L455.6,605.9 L455.8,608 L456.1,606.4 L456.3,604.6 L456.6,605.5 L456.8,606.7 L457.1,605.2 L457.3,607.7 L457.6,605.5 L457.8,605.7 L458.1,606.6 L458.3,607 L458.6,607.6 L458.8,606.2" fill="none" stroke="#1f6fb4" stroke-width="2.3" stroke-linejoin="round" />
</g>
<rect x="114.5" y="328.5" width="344.3" height="341.1" fill="none" stroke="#333" stroke-width="1.3"/>
<line x1="109" y1="669.6" x2="114.5" y2="669.6" stroke="#333" stroke-width="1.1"/>
<text x="102.2" y="674.2" font-size="12.2" fill="#222" text-anchor="end" font-weight="normal" font-family="'DejaVu Sans', sans-serif"  stroke="#222" stroke-width="0.3" stroke-linejoin="round">0.0</text>
<line x1="109" y1="607.6" x2="114.5" y2="607.6" stroke="#333" stroke-width="1.1"/>
<text x="102.2" y="612.2" font-size="12.2" fill="#222" text-anchor="end" font-weight="normal" font-family="'DejaVu Sans', sans-serif"  stroke="#222" stroke-width="0.3" stroke-linejoin="round">0.2</text>
<line x1="109" y1="545.6" x2="114.5" y2="545.6" stroke="#333" stroke-width="1.1"/>
<text x="102.2" y="550.2" font-size="12.2" fill="#222" text-anchor="end" font-weight="normal" font-family="'DejaVu Sans', sans-serif"  stroke="#222" stroke-width="0.3" stroke-linejoin="round">0.4</text>
<line x1="109" y1="483.5" x2="114.5" y2="483.5" stroke="#333" stroke-width="1.1"/>
<text x="102.2" y="488.1" font-size="12.2" fill="#222" text-anchor="end" font-weight="normal" font-family="'DejaVu Sans', sans-serif"  stroke="#222" stroke-width="0.3" stroke-linejoin="round">0.6</text>
<line x1="109" y1="421.5" x2="114.5" y2="421.5" stroke="#333" stroke-width="1.1"/>
<text x="102.2" y="426.1" font-size="12.2" fill="#222" text-anchor="end" font-weight="normal" font-family="'DejaVu Sans', sans-serif"  stroke="#222" stroke-width="0.3" stroke-linejoin="round">0.8</text>
<line x1="109" y1="359.5" x2="114.5" y2="359.5" stroke="#333" stroke-width="1.1"/>
<text x="102.2" y="364.1" font-size="12.2" fill="#222" text-anchor="end" font-weight="normal" font-family="'DejaVu Sans', sans-serif"  stroke="#222" stroke-width="0.3" stroke-linejoin="round">1.0</text>
<line x1="114.5" y1="669.6" x2="114.5" y2="675.1" stroke="#333" stroke-width="1.1"/>
<text x="114.5" y="690.5" font-size="12.2" fill="#222" text-anchor="middle" font-weight="normal" font-family="'DejaVu Sans', sans-serif"  stroke="#222" stroke-width="0.3" stroke-linejoin="round">0</text>
<line x1="152.8" y1="669.6" x2="152.8" y2="675.1" stroke="#333" stroke-width="1.1"/>
<text x="152.8" y="690.5" font-size="12.2" fill="#222" text-anchor="middle" font-weight="normal" font-family="'DejaVu Sans', sans-serif"  stroke="#222" stroke-width="0.3" stroke-linejoin="round">10</text>
<line x1="191" y1="669.6" x2="191" y2="675.1" stroke="#333" stroke-width="1.1"/>
<text x="191" y="690.5" font-size="12.2" fill="#222" text-anchor="middle" font-weight="normal" font-family="'DejaVu Sans', sans-serif"  stroke="#222" stroke-width="0.3" stroke-linejoin="round">20</text>
<line x1="229.3" y1="669.6" x2="229.3" y2="675.1" stroke="#333" stroke-width="1.1"/>
<text x="229.3" y="690.5" font-size="12.2" fill="#222" text-anchor="middle" font-weight="normal" font-family="'DejaVu Sans', sans-serif"  stroke="#222" stroke-width="0.3" stroke-linejoin="round">30</text>
<line x1="267.5" y1="669.6" x2="267.5" y2="675.1" stroke="#333" stroke-width="1.1"/>
<text x="267.5" y="690.5" font-size="12.2" fill="#222" text-anchor="middle" font-weight="normal" font-family="'DejaVu Sans', sans-serif"  stroke="#222" stroke-width="0.3" stroke-linejoin="round">40</text>
<line x1="305.8" y1="669.6" x2="305.8" y2="675.1" stroke="#333" stroke-width="1.1"/>
<text x="305.8" y="690.5" font-size="12.2" fill="#222" text-anchor="middle" font-weight="normal" font-family="'DejaVu Sans', sans-serif"  stroke="#222" stroke-width="0.3" stroke-linejoin="round">50</text>
<line x1="344" y1="669.6" x2="344" y2="675.1" stroke="#333" stroke-width="1.1"/>
<text x="344" y="690.5" font-size="12.2" fill="#222" text-anchor="middle" font-weight="normal" font-family="'DejaVu Sans', sans-serif"  stroke="#222" stroke-width="0.3" stroke-linejoin="round">60</text>
<line x1="382.3" y1="669.6" x2="382.3" y2="675.1" stroke="#333" stroke-width="1.1"/>
<text x="382.3" y="690.5" font-size="12.2" fill="#222" text-anchor="middle" font-weight="normal" font-family="'DejaVu Sans', sans-serif"  stroke="#222" stroke-width="0.3" stroke-linejoin="round">70</text>
<line x1="420.5" y1="669.6" x2="420.5" y2="675.1" stroke="#333" stroke-width="1.1"/>
<text x="420.5" y="690.5" font-size="12.2" fill="#222" text-anchor="middle" font-weight="normal" font-family="'DejaVu Sans', sans-serif"  stroke="#222" stroke-width="0.3" stroke-linejoin="round">80</text>
<line x1="458.8" y1="669.6" x2="458.8" y2="675.1" stroke="#333" stroke-width="1.1"/>
<text x="458.8" y="690.5" font-size="12.2" fill="#222" text-anchor="middle" font-weight="normal" font-family="'DejaVu Sans', sans-serif"  stroke="#222" stroke-width="0.3" stroke-linejoin="round">90</text>
<text x="286.8" y="708.3" font-size="12" fill="#222" text-anchor="middle" font-weight="normal" font-family="'DejaVu Sans', sans-serif"  stroke="#222" stroke-width="0.3" stroke-linejoin="round">Time (s)</text>
<text transform="translate(73.5,500) scale(1.0,1) rotate(-90) scale(1.0,1)" x="0" y="0" font-size="11.7" fill="#222" text-anchor="middle" font-weight="normal" font-family="'DejaVu Sans', sans-serif"  stroke="#222" stroke-width="0.3" stroke-linejoin="round">Photon detection rate (MHz)</text>
<rect x="292.4" y="340.3" width="155.5" height="136.3" fill="#fff" stroke="#333" stroke-width="1.3"/>
<line x1="299.5" y1="452.6" x2="400.8" y2="340.3" stroke="#e8262a" stroke-width="2.3" stroke-dasharray="6.5,3.5"/>
<circle cx="298.6" cy="453.5" r="2.3" fill="#1f6fb4"/>
<circle cx="317.3" cy="429.9" r="2.3" fill="#1f6fb4"/>
<circle cx="338.6" cy="409.1" r="2.3" fill="#1f6fb4"/>
<circle cx="356.4" cy="391.3" r="2.3" fill="#1f6fb4"/>
<circle cx="385.7" cy="362.9" r="2.3" fill="#1f6fb4"/>
<circle cx="404.9" cy="351" r="2.3" fill="#1f6fb4"/>
<circle cx="424.8" cy="346.3" r="2.3" fill="#1f6fb4"/>
<circle cx="440.3" cy="346.9" r="2.3" fill="#1f6fb4"/>
<line x1="287.9" y1="476.6" x2="292.4" y2="476.6" stroke="#333" stroke-width="1"/>
<text x="278.5" y="481.1" font-size="12.2" fill="#222" text-anchor="end" font-family="'DejaVu Sans', sans-serif" stroke="#222" stroke-width="0.25">10<tspan dy="-5.5" font-size="8.5">4</tspan></text>
<line x1="287.9" y1="408.5" x2="292.4" y2="408.5" stroke="#333" stroke-width="1"/>
<text x="278.5" y="413" font-size="12.2" fill="#222" text-anchor="end" font-family="'DejaVu Sans', sans-serif" stroke="#222" stroke-width="0.25">10<tspan dy="-5.5" font-size="8.5">5</tspan></text>
<line x1="287.9" y1="340.3" x2="292.4" y2="340.3" stroke="#333" stroke-width="1"/>
<text x="278.5" y="344.8" font-size="12.2" fill="#222" text-anchor="end" font-family="'DejaVu Sans', sans-serif" stroke="#222" stroke-width="0.25">10<tspan dy="-5.5" font-size="8.5">6</tspan></text>
<line x1="289.9" y1="456.1" x2="292.4" y2="456.1" stroke="#333" stroke-width="0.8"/>
<line x1="289.9" y1="444.1" x2="292.4" y2="444.1" stroke="#333" stroke-width="0.8"/>
<line x1="289.9" y1="435.6" x2="292.4" y2="435.6" stroke="#333" stroke-width="0.8"/>
<line x1="289.9" y1="429" x2="292.4" y2="429" stroke="#333" stroke-width="0.8"/>
<line x1="289.9" y1="423.6" x2="292.4" y2="423.6" stroke="#333" stroke-width="0.8"/>
<line x1="289.9" y1="419" x2="292.4" y2="419" stroke="#333" stroke-width="0.8"/>
<line x1="289.9" y1="415.1" x2="292.4" y2="415.1" stroke="#333" stroke-width="0.8"/>
<line x1="289.9" y1="411.6" x2="292.4" y2="411.6" stroke="#333" stroke-width="0.8"/>
<line x1="289.9" y1="387.9" x2="292.4" y2="387.9" stroke="#333" stroke-width="0.8"/>
<line x1="289.9" y1="375.9" x2="292.4" y2="375.9" stroke="#333" stroke-width="0.8"/>
<line x1="289.9" y1="367.4" x2="292.4" y2="367.4" stroke="#333" stroke-width="0.8"/>
<line x1="289.9" y1="360.8" x2="292.4" y2="360.8" stroke="#333" stroke-width="0.8"/>
<line x1="289.9" y1="355.4" x2="292.4" y2="355.4" stroke="#333" stroke-width="0.8"/>
<line x1="289.9" y1="350.9" x2="292.4" y2="350.9" stroke="#333" stroke-width="0.8"/>
<line x1="289.9" y1="346.9" x2="292.4" y2="346.9" stroke="#333" stroke-width="0.8"/>
<line x1="289.9" y1="343.4" x2="292.4" y2="343.4" stroke="#333" stroke-width="0.8"/>
<line x1="304" y1="476.6" x2="304" y2="481.1" stroke="#333" stroke-width="1"/>
<text x="302.5" y="498.1" font-size="11.8" fill="#222" text-anchor="middle" font-family="'DejaVu Sans', sans-serif" stroke="#222" stroke-width="0.25">10<tspan dy="-5" font-size="8.2">−5</tspan></text>
<line x1="367.5" y1="476.6" x2="367.5" y2="481.1" stroke="#333" stroke-width="1"/>
<text x="366" y="498.1" font-size="11.8" fill="#222" text-anchor="middle" font-family="'DejaVu Sans', sans-serif" stroke="#222" stroke-width="0.25">10<tspan dy="-5" font-size="8.2">−4</tspan></text>
<line x1="431" y1="476.6" x2="431" y2="481.1" stroke="#333" stroke-width="1"/>
<text x="429.5" y="498.1" font-size="11.8" fill="#222" text-anchor="middle" font-family="'DejaVu Sans', sans-serif" stroke="#222" stroke-width="0.25">10<tspan dy="-5" font-size="8.2">−3</tspan></text>
<line x1="294.2" y1="476.6" x2="294.2" y2="479.1" stroke="#333" stroke-width="0.8"/>
<line x1="297.9" y1="476.6" x2="297.9" y2="479.1" stroke="#333" stroke-width="0.8"/>
<line x1="301.1" y1="476.6" x2="301.1" y2="479.1" stroke="#333" stroke-width="0.8"/>
<line x1="323.1" y1="476.6" x2="323.1" y2="479.1" stroke="#333" stroke-width="0.8"/>
<line x1="334.3" y1="476.6" x2="334.3" y2="479.1" stroke="#333" stroke-width="0.8"/>
<line x1="342.2" y1="476.6" x2="342.2" y2="479.1" stroke="#333" stroke-width="0.8"/>
<line x1="348.4" y1="476.6" x2="348.4" y2="479.1" stroke="#333" stroke-width="0.8"/>
<line x1="353.4" y1="476.6" x2="353.4" y2="479.1" stroke="#333" stroke-width="0.8"/>
<line x1="357.7" y1="476.6" x2="357.7" y2="479.1" stroke="#333" stroke-width="0.8"/>
<line x1="361.4" y1="476.6" x2="361.4" y2="479.1" stroke="#333" stroke-width="0.8"/>
<line x1="364.6" y1="476.6" x2="364.6" y2="479.1" stroke="#333" stroke-width="0.8"/>
<line x1="386.6" y1="476.6" x2="386.6" y2="479.1" stroke="#333" stroke-width="0.8"/>
<line x1="397.8" y1="476.6" x2="397.8" y2="479.1" stroke="#333" stroke-width="0.8"/>
<line x1="405.7" y1="476.6" x2="405.7" y2="479.1" stroke="#333" stroke-width="0.8"/>
<line x1="411.9" y1="476.6" x2="411.9" y2="479.1" stroke="#333" stroke-width="0.8"/>
<line x1="416.9" y1="476.6" x2="416.9" y2="479.1" stroke="#333" stroke-width="0.8"/>
<line x1="421.2" y1="476.6" x2="421.2" y2="479.1" stroke="#333" stroke-width="0.8"/>
<line x1="424.9" y1="476.6" x2="424.9" y2="479.1" stroke="#333" stroke-width="0.8"/>
<line x1="428.1" y1="476.6" x2="428.1" y2="479.1" stroke="#333" stroke-width="0.8"/>
<text x="369.7" y="517.3" font-size="12.1" fill="#222" text-anchor="middle" font-weight="normal" font-family="'DejaVu Sans', sans-serif"  stroke="#222" stroke-width="0.3" stroke-linejoin="round">Power (W)</text>
<text transform="translate(255.5,408.5) scale(1.0,1) rotate(-90) scale(1.0,1)" x="0" y="0" font-size="11.5" fill="#222" text-anchor="middle" font-weight="normal" font-family="'DejaVu Sans', sans-serif"  stroke="#222" stroke-width="0.3" stroke-linejoin="round">ZPL photon rate (Hz)</text>
<text transform="translate(11.4,358.7) scale(1.034,1)" x="0" y="0" font-size="40" fill="#000" text-anchor="start" font-weight="normal" font-family="'Liberation Sans', Arial, sans-serif" >(b)</text>
<text x="691.7" y="368.2" font-size="14.4" fill="#111" text-anchor="middle" font-weight="bold" font-family="'Liberation Sans', Arial, sans-serif" >Confocal</text>
<line x1="617" y1="385.2" x2="767" y2="385.2" stroke="#2b3d98" stroke-width="3.6"/>
<polygon points="609,375.5 609,395.3 620,385.2" fill="#2b3d98" />
<polygon points="775.5,375.5 775.5,395.3 764.5,385.2" fill="#2b3d98" />
<rect x="568.8" y="374" width="3.6" height="22.8" fill="#2b3d98"/><rect x="576.9" y="374" width="3.6" height="22.8" fill="#2b3d98"/><rect x="585" y="374" width="3.6" height="22.8" fill="#2b3d98"/><rect x="593.1" y="374" width="3.6" height="22.8" fill="#2b3d98"/><rect x="601.2" y="374" width="3.6" height="22.8" fill="#2b3d98"/>
<rect x="778.1" y="374" width="3.6" height="22.8" fill="#2b3d98"/><rect x="786.2" y="374" width="3.6" height="22.8" fill="#2b3d98"/><rect x="794.3" y="374" width="3.6" height="22.8" fill="#2b3d98"/><rect x="802.4" y="374" width="3.6" height="22.8" fill="#2b3d98"/><rect x="810.5" y="374" width="3.6" height="22.8" fill="#2b3d98"/>
<line x1="617" y1="478.8" x2="767" y2="478.8" stroke="#2b3d98" stroke-width="3.6"/>
<polygon points="609,470.4 609,488.3 620,478.8" fill="#2b3d98" />
<polygon points="775.5,470.4 775.5,488.3 764.5,478.8" fill="#2b3d98" />
<rect x="568.8" y="468.9" width="3.6" height="20.9" fill="#2b3d98"/><rect x="576.9" y="468.9" width="3.6" height="20.9" fill="#2b3d98"/><rect x="585" y="468.9" width="3.6" height="20.9" fill="#2b3d98"/><rect x="593.1" y="468.9" width="3.6" height="20.9" fill="#2b3d98"/><rect x="601.2" y="468.9" width="3.6" height="20.9" fill="#2b3d98"/>
<rect x="778.1" y="468.9" width="3.6" height="20.9" fill="#2b3d98"/><rect x="786.2" y="468.9" width="3.6" height="20.9" fill="#2b3d98"/><rect x="794.3" y="468.9" width="3.6" height="20.9" fill="#2b3d98"/><rect x="802.4" y="468.9" width="3.6" height="20.9" fill="#2b3d98"/><rect x="810.5" y="468.9" width="3.6" height="20.9" fill="#2b3d98"/>
<circle cx="691.8" cy="432" r="41.7" fill="none" stroke="#2b3d98" stroke-width="3.3"/>
<text x="640" y="437" font-size="12.6" fill="#86b3d9" text-anchor="end" font-weight="bold" font-family="'Liberation Sans', Arial, sans-serif" >Detection</text>
<text x="656.5" y="437" font-size="13.1" fill="#f2aa66" text-anchor="start" font-weight="bold" font-family="'Liberation Sans', Arial, sans-serif" >Excitation</text>
<circle cx="650.5" cy="432.3" r="3.2" fill="#f0a050"/>
<circle cx="648" cy="432.3" r="2.2" fill="#7aaee0"/>
<text x="563" y="389.6" font-size="11.2" fill="#3a4aa2" text-anchor="end" font-weight="bold" font-family="'Liberation Sans', Arial, sans-serif" >grating 1</text>
<text x="820.6" y="389.6" font-size="11.2" fill="#3a4aa2" text-anchor="start" font-weight="bold" font-family="'Liberation Sans', Arial, sans-serif" >grating 2</text>
<text x="563" y="483.2" font-size="11.2" fill="#3a4aa2" text-anchor="end" font-weight="bold" font-family="'Liberation Sans', Arial, sans-serif" >grating 3</text>
<text x="820.6" y="483.2" font-size="11.2" fill="#3a4aa2" text-anchor="start" font-weight="bold" font-family="'Liberation Sans', Arial, sans-serif" >grating 4</text>
<defs><clipPath id="clipE"><rect x="518.4" y="499.3" width="334.2" height="165.8"/></clipPath><filter id="eb1" x="-20%" y="-20%" width="140%" height="140%"><feGaussianBlur stdDeviation="2.3"/></filter><filter id="eb2" x="-20%" y="-20%" width="140%" height="140%"><feGaussianBlur stdDeviation="2.2"/></filter><linearGradient id="jetV" x1="0" y1="0" x2="0" y2="1"><stop offset="0.000" stop-color="#7f0000"/><stop offset="0.050" stop-color="#b20000"/><stop offset="0.100" stop-color="#e50000"/><stop offset="0.150" stop-color="#ff1900"/><stop offset="0.200" stop-color="#ff4c00"/><stop offset="0.250" stop-color="#ff7f00"/><stop offset="0.300" stop-color="#ffb200"/><stop offset="0.350" stop-color="#ffe500"/><stop offset="0.400" stop-color="#e5ff19"/><stop offset="0.450" stop-color="#b2ff4c"/><stop offset="0.500" stop-color="#7fff7f"/><stop offset="0.550" stop-color="#4cffb2"/><stop offset="0.600" stop-color="#19ffe5"/><stop offset="0.650" stop-color="#00e5ff"/><stop offset="0.700" stop-color="#00b2ff"/><stop offset="0.750" stop-color="#007fff"/><stop offset="0.800" stop-color="#004cff"/><stop offset="0.850" stop-color="#0019ff"/><stop offset="0.900" stop-color="#0000e5"/><stop offset="0.950" stop-color="#0000b2"/><stop offset="1.000" stop-color="#00007f"/></linearGradient><radialGradient id="hsR"><stop offset="0.000" stop-color="#c60000" stop-opacity="1.000"/><stop offset="0.100" stop-color="#c60000" stop-opacity="1.000"/><stop offset="0.200" stop-color="#f30000" stop-opacity="1.000"/><stop offset="0.300" stop-color="#ff4d00" stop-opacity="1.000"/><stop offset="0.400" stop-color="#ffa300" stop-opacity="1.000"/><stop offset="0.500" stop-color="#fff600" stop-opacity="1.000"/><stop offset="0.600" stop-color="#b7ff47" stop-opacity="0.889"/><stop offset="0.700" stop-color="#6bff93" stop-opacity="0.667"/><stop offset="0.800" stop-color="#24ffda" stop-opacity="0.444"/><stop offset="0.900" stop-color="#00e3ff" stop-opacity="0.222"/><stop offset="1.000" stop-color="#00b2ff" stop-opacity="0.000"/></radialGradient><radialGradient id="hsRR"><stop offset="0.000" stop-color="#9e0000" stop-opacity="1.000"/><stop offset="0.100" stop-color="#9e0000" stop-opacity="1.000"/><stop offset="0.200" stop-color="#9e0000" stop-opacity="1.000"/><stop offset="0.300" stop-color="#9e0000" stop-opacity="1.000"/><stop offset="0.400" stop-color="#ff0900" stop-opacity="1.000"/><stop offset="0.500" stop-color="#ff7100" stop-opacity="1.000"/><stop offset="0.600" stop-color="#ffd400" stop-opacity="0.889"/><stop offset="0.700" stop-color="#cbff33" stop-opacity="0.667"/><stop offset="0.800" stop-color="#73ff8b" stop-opacity="0.444"/><stop offset="0.900" stop-color="#23ffdb" stop-opacity="0.222"/><stop offset="1.000" stop-color="#00e5ff" stop-opacity="0.000"/></radialGradient><radialGradient id="hsY"><stop offset="0.000" stop-color="#f9ff05" stop-opacity="1.000"/><stop offset="0.100" stop-color="#f9ff05" stop-opacity="1.000"/><stop offset="0.200" stop-color="#ceff30" stop-opacity="1.000"/><stop offset="0.300" stop-color="#a4ff5a" stop-opacity="1.000"/><stop offset="0.400" stop-color="#7cff82" stop-opacity="1.000"/><stop offset="0.500" stop-color="#54ffaa" stop-opacity="1.000"/><stop offset="0.600" stop-color="#2effd0" stop-opacity="0.889"/><stop offset="0.700" stop-color="#0afff4" stop-opacity="0.667"/><stop offset="0.800" stop-color="#00e8ff" stop-opacity="0.444"/><stop offset="0.900" stop-color="#00c9ff" stop-opacity="0.222"/><stop offset="1.000" stop-color="#00b2ff" stop-opacity="0.000"/></radialGradient><radialGradient id="hsR2"><stop offset="0.000" stop-color="#c60000" stop-opacity="1.000"/><stop offset="0.100" stop-color="#c60000" stop-opacity="1.000"/><stop offset="0.200" stop-color="#c60000" stop-opacity="1.000"/><stop offset="0.300" stop-color="#f50000" stop-opacity="1.000"/><stop offset="0.400" stop-color="#ff5200" stop-opacity="1.000"/><stop offset="0.500" stop-color="#ffab00" stop-opacity="1.000"/><stop offset="0.600" stop-color="#fcff02" stop-opacity="0.889"/><stop offset="0.700" stop-color="#abff53" stop-opacity="0.667"/><stop offset="0.800" stop-color="#5fff9f" stop-opacity="0.444"/><stop offset="0.900" stop-color="#1bffe3" stop-opacity="0.222"/><stop offset="1.000" stop-color="#00e5ff" stop-opacity="0.000"/></radialGradient><radialGradient id="hsC"><stop offset="0.000" stop-color="#4cffb2" stop-opacity="1.000"/><stop offset="0.100" stop-color="#4cffb2" stop-opacity="1.000"/><stop offset="0.200" stop-color="#35ffc9" stop-opacity="1.000"/><stop offset="0.300" stop-color="#1fffdf" stop-opacity="1.000"/><stop offset="0.400" stop-color="#09fff5" stop-opacity="1.000"/><stop offset="0.500" stop-color="#00f3ff" stop-opacity="1.000"/><stop offset="0.600" stop-color="#00dfff" stop-opacity="0.889"/><stop offset="0.700" stop-color="#00ccff" stop-opacity="0.667"/><stop offset="0.800" stop-color="#00baff" stop-opacity="0.444"/><stop offset="0.900" stop-color="#00aaff" stop-opacity="0.222"/><stop offset="1.000" stop-color="#009eff" stop-opacity="0.000"/></radialGradient><linearGradient id="padL" x1="0" y1="0" x2="1" y2="0"><stop offset="0" stop-color="#1868ff"/><stop offset="0.6" stop-color="#1e84ff"/><stop offset="1" stop-color="#28b0ff"/></linearGradient><linearGradient id="padR" x1="1" y1="0" x2="0" y2="0"><stop offset="0" stop-color="#1a70ff"/><stop offset="0.6" stop-color="#2290ff"/><stop offset="1" stop-color="#30b8ff"/></linearGradient></defs>
<g clip-path="url(#clipE)">
<rect x="518.4" y="499.3" width="334.2" height="165.8" fill="#0505a0"/>
<g filter="url(#eb1)"><rect x="526" y="495" width="11" height="175" fill="#0838e0"/><rect x="824" y="495" width="9" height="175" fill="#0a40f0"/><rect x="834" y="495" width="20" height="175" fill="#0630d8"/><rect x="534" y="566" width="72" height="16" fill="#0a3af0"/><rect x="765" y="566" width="62" height="16" fill="#0a3af0"/><ellipse cx="608" cy="574" rx="4" ry="13" fill="#1c78ff"/><ellipse cx="763.5" cy="574" rx="4" ry="13" fill="#1c78ff"/><rect x="604" y="520.6" width="164" height="7.5" fill="#0a3af0"/><rect x="604" y="620.7" width="164" height="7.5" fill="#0a3af0"/><circle cx="686.2" cy="572" r="40" fill="none" stroke="#0a3af0" stroke-width="10"/><rect x="557" y="513.5" width="49" height="20" rx="5" fill="url(#padL)"/><rect x="559" y="612.7" width="47" height="26" rx="5" fill="url(#padL)"/><rect x="766" y="515" width="44" height="20" rx="5" fill="url(#padR)"/><rect x="766" y="612.7" width="44" height="26" rx="5" fill="url(#padR)"/></g>
<ellipse cx="591" cy="523.5" rx="8" ry="6" fill="url(#hsC)"/>
<circle cx="599" cy="523.5" r="6.5" fill="url(#hsR)"/>
<ellipse cx="773.3" cy="525" rx="7" ry="9" fill="url(#hsRR)"/>
<ellipse cx="593" cy="624.5" rx="8" ry="6" fill="url(#hsC)"/>
<circle cx="601" cy="624.5" r="6.5" fill="url(#hsY)"/>
<ellipse cx="773" cy="625" rx="7" ry="9.5" fill="url(#hsR2)"/>
</g>
<text x="583.8" y="511.5" font-size="11" fill="#fff" text-anchor="middle" font-weight="bold" font-family="'Liberation Sans', Arial, sans-serif" >1</text>
<text x="788" y="512.5" font-size="11" fill="#fff" text-anchor="middle" font-weight="bold" font-family="'Liberation Sans', Arial, sans-serif" >2</text>
<text x="583.8" y="608.5" font-size="11" fill="#fff" text-anchor="middle" font-weight="bold" font-family="'Liberation Sans', Arial, sans-serif" >3</text>
<text x="788" y="608.5" font-size="11" fill="#fff" text-anchor="middle" font-weight="bold" font-family="'Liberation Sans', Arial, sans-serif" >4</text>
<text x="520.5" y="664" font-size="13.1" fill="#fff" text-anchor="start" font-weight="bold" font-family="'Liberation Sans', Arial, sans-serif" >Confocal</text>
<text x="836.5" y="655.2" font-size="10.5" fill="#fff" text-anchor="middle" font-weight="bold" font-family="'Liberation Sans', Arial, sans-serif" >2 μm</text>
<rect x="826" y="657.9" width="23.3" height="3.5" fill="#fff"/>
<rect x="858.1" y="499.3" width="15.4" height="165.8" fill="url(#jetV)"/>
<text x="876.5" y="503.5" font-size="17" fill="#111" text-anchor="start" font-weight="bold" font-family="'Liberation Sans', Arial, sans-serif" >2</text>
<text x="876.5" y="668.5" font-size="17" fill="#111" text-anchor="start" font-weight="bold" font-family="'Liberation Sans', Arial, sans-serif" >0</text>
<text transform="translate(890,581.5) scale(1.0,1) rotate(-90) scale(1.0,1)" x="0" y="0" font-size="17.1" fill="#111" text-anchor="middle" font-weight="bold" font-family="'Liberation Sans', Arial, sans-serif" >Intensity (Mcps)</text>
<text transform="translate(477.5,362.4) scale(0.98,1)" x="0" y="0" font-size="40" fill="#000" text-anchor="start" font-weight="normal" font-family="'Liberation Sans', Arial, sans-serif" >(e)</text>
<text x="1113.6" y="368" font-size="14.5" fill="#111" text-anchor="middle" font-weight="bold" font-family="'Liberation Sans', Arial, sans-serif" >Non-Confocal (Grating 1)</text>
<line x1="1096" y1="429" x2="1205" y2="538" stroke="#2b3d98" stroke-width="3.6"/>
<line x1="1027" y1="494" x2="1136" y2="603" stroke="#2b3d98" stroke-width="3.6"/>
<polygon points="1097,430 1097.4,416.9 1083.9,430.4" fill="#2b3d98" /><line x1="1080.7" y1="428.6" x2="1095.6" y2="413.7" stroke="#2b3d98" stroke-width="3.5"/><line x1="1075.8" y1="423.6" x2="1090.6" y2="408.8" stroke="#2b3d98" stroke-width="3.5"/><line x1="1070.8" y1="418.7" x2="1085.7" y2="403.8" stroke="#2b3d98" stroke-width="3.5"/><line x1="1065.9" y1="413.7" x2="1080.7" y2="398.9" stroke="#2b3d98" stroke-width="3.5"/><line x1="1060.9" y1="408.8" x2="1075.8" y2="393.9" stroke="#2b3d98" stroke-width="3.5"/><line x1="1056" y1="403.8" x2="1070.8" y2="389" stroke="#2b3d98" stroke-width="3.5"/>
<polygon points="1028,495 1028.4,481.9 1014.9,495.4" fill="#2b3d98" /><line x1="1011.7" y1="493.6" x2="1026.6" y2="478.7" stroke="#2b3d98" stroke-width="3.5"/><line x1="1006.8" y1="488.6" x2="1021.6" y2="473.8" stroke="#2b3d98" stroke-width="3.5"/><line x1="1001.8" y1="483.7" x2="1016.7" y2="468.8" stroke="#2b3d98" stroke-width="3.5"/><line x1="996.9" y1="478.7" x2="1011.7" y2="463.9" stroke="#2b3d98" stroke-width="3.5"/><line x1="991.9" y1="473.8" x2="1006.8" y2="458.9" stroke="#2b3d98" stroke-width="3.5"/><line x1="987" y1="468.8" x2="1001.8" y2="454" stroke="#2b3d98" stroke-width="3.5"/>
<polygon points="1204,537 1217.1,536.6 1203.6,550.1" fill="#2b3d98" /><line x1="1205.4" y1="553.3" x2="1220.3" y2="538.4" stroke="#2b3d98" stroke-width="3.5"/><line x1="1210.4" y1="558.2" x2="1225.2" y2="543.4" stroke="#2b3d98" stroke-width="3.5"/><line x1="1215.3" y1="563.2" x2="1230.2" y2="548.3" stroke="#2b3d98" stroke-width="3.5"/><line x1="1220.3" y1="568.1" x2="1235.1" y2="553.3" stroke="#2b3d98" stroke-width="3.5"/><line x1="1225.2" y1="573.1" x2="1240.1" y2="558.2" stroke="#2b3d98" stroke-width="3.5"/><line x1="1230.2" y1="578" x2="1245" y2="563.2" stroke="#2b3d98" stroke-width="3.5"/>
<polygon points="1135,602 1148.1,601.6 1134.6,615.1" fill="#2b3d98" /><line x1="1136.4" y1="618.3" x2="1151.3" y2="603.4" stroke="#2b3d98" stroke-width="3.5"/><line x1="1141.4" y1="623.2" x2="1156.2" y2="608.4" stroke="#2b3d98" stroke-width="3.5"/><line x1="1146.3" y1="628.2" x2="1161.2" y2="613.3" stroke="#2b3d98" stroke-width="3.5"/><line x1="1151.3" y1="633.1" x2="1166.1" y2="618.3" stroke="#2b3d98" stroke-width="3.5"/><line x1="1156.2" y1="638.1" x2="1171.1" y2="623.2" stroke="#2b3d98" stroke-width="3.5"/><line x1="1161.2" y1="643" x2="1176" y2="628.2" stroke="#2b3d98" stroke-width="3.5"/>
<circle cx="1113.5" cy="514" r="41.5" fill="none" stroke="#2b3d98" stroke-width="3.3"/>
<circle cx="1081.8" cy="486.3" r="4" fill="#f0a050"/>
<circle cx="1084.8" cy="418.2" r="3.4" fill="#7aaee0"/>
<text x="1093.6" y="410.3" font-size="13.2" fill="#88b4da" text-anchor="start" font-weight="bold" font-family="'Liberation Sans', Arial, sans-serif" >Detection</text>
<text x="1082.5" y="503" font-size="12.6" fill="#f4ae6c" text-anchor="start" font-weight="bold" font-family="'Liberation Sans', Arial, sans-serif" >Excitation</text>
<text x="1011.8" y="395.3" font-size="11.3" fill="#3a4aa2" text-anchor="start" font-weight="bold" font-family="'Liberation Sans', Arial, sans-serif" >grating 1</text>
<text x="943.9" y="461" font-size="11.3" fill="#3a4aa2" text-anchor="start" font-weight="bold" font-family="'Liberation Sans', Arial, sans-serif" >grating 3</text>
<text x="1235.2" y="576.3" font-size="11.3" fill="#3a4aa2" text-anchor="start" font-weight="bold" font-family="'Liberation Sans', Arial, sans-serif" >grating 2</text>
<text x="1167.9" y="642.3" font-size="11.3" fill="#3a4aa2" text-anchor="start" font-weight="bold" font-family="'Liberation Sans', Arial, sans-serif" >grating 4</text>
<defs><clipPath id="clipF"><rect x="1355.4" y="363" width="307.9" height="301.4"/></clipPath><filter id="fb6" x="-50%" y="-50%" width="200%" height="200%"><feGaussianBlur stdDeviation="6"/></filter><filter id="fb10" x="-50%" y="-50%" width="200%" height="200%"><feGaussianBlur stdDeviation="10"/></filter><filter id="fb3" x="-50%" y="-50%" width="200%" height="200%"><feGaussianBlur stdDeviation="3"/></filter><radialGradient id="bigR"><stop offset="0" stop-color="#a00000"/><stop offset="0.62" stop-color="#a80000"/><stop offset="0.72" stop-color="#ff2000"/><stop offset="0.78" stop-color="#ffd000"/><stop offset="0.84" stop-color="#40ffb0"/><stop offset="0.9" stop-color="#00a0ff"/><stop offset="1" stop-color="#0040ff" stop-opacity="0"/></radialGradient><radialGradient id="spC"><stop offset="0.000" stop-color="#19ffe5" stop-opacity="1.000"/><stop offset="0.100" stop-color="#00f6ff" stop-opacity="1.000"/><stop offset="0.200" stop-color="#00d5ff" stop-opacity="1.000"/><stop offset="0.300" stop-color="#00b5ff" stop-opacity="1.000"/><stop offset="0.400" stop-color="#0095ff" stop-opacity="1.000"/><stop offset="0.500" stop-color="#0077ff" stop-opacity="1.000"/><stop offset="0.600" stop-color="#005aff" stop-opacity="0.889"/><stop offset="0.700" stop-color="#003eff" stop-opacity="0.667"/><stop offset="0.800" stop-color="#0024ff" stop-opacity="0.444"/><stop offset="0.900" stop-color="#000cff" stop-opacity="0.222"/><stop offset="1.000" stop-color="#0000f9" stop-opacity="0.000"/></radialGradient><radialGradient id="spB"><stop offset="0.000" stop-color="#00b2ff" stop-opacity="1.000"/><stop offset="0.100" stop-color="#009aff" stop-opacity="1.000"/><stop offset="0.200" stop-color="#0082ff" stop-opacity="1.000"/><stop offset="0.300" stop-color="#006bff" stop-opacity="1.000"/><stop offset="0.400" stop-color="#0055ff" stop-opacity="1.000"/><stop offset="0.500" stop-color="#003fff" stop-opacity="1.000"/><stop offset="0.600" stop-color="#002aff" stop-opacity="0.889"/><stop offset="0.700" stop-color="#0016ff" stop-opacity="0.667"/><stop offset="0.800" stop-color="#0004ff" stop-opacity="0.444"/><stop offset="0.900" stop-color="#0000f2" stop-opacity="0.222"/><stop offset="1.000" stop-color="#0000e5" stop-opacity="0.000"/></radialGradient><radialGradient id="spD"><stop offset="0.000" stop-color="#0060ff" stop-opacity="1.000"/><stop offset="0.100" stop-color="#004fff" stop-opacity="1.000"/><stop offset="0.200" stop-color="#003fff" stop-opacity="1.000"/><stop offset="0.300" stop-color="#002fff" stop-opacity="1.000"/><stop offset="0.400" stop-color="#001fff" stop-opacity="1.000"/><stop offset="0.500" stop-color="#0010ff" stop-opacity="1.000"/><stop offset="0.600" stop-color="#0001ff" stop-opacity="0.889"/><stop offset="0.700" stop-color="#0000f2" stop-opacity="0.667"/><stop offset="0.800" stop-color="#0000e5" stop-opacity="0.444"/><stop offset="0.900" stop-color="#0000da" stop-opacity="0.222"/><stop offset="1.000" stop-color="#0000d1" stop-opacity="0.000"/></radialGradient></defs>
<g clip-path="url(#clipF)">
<rect x="1355.4" y="363" width="307.9" height="301.4" fill="#0a0aa0"/>
<path d="M1380,380 L1480,470" stroke="#1030d8" stroke-width="26" stroke-linecap="round" filter="url(#fb10)" opacity="0.5"/>
<circle cx="1508" cy="518" r="60" fill="none" stroke="#0c28d0" stroke-width="9" filter="url(#fb6)" opacity="0.55"/>
<circle cx="1474.7" cy="378" r="20" fill="#0c30e0" filter="url(#fb6)"/>
<ellipse cx="1474.7" cy="378" rx="11" ry="15" fill="url(#spC)"/>
<circle cx="1435" cy="432.2" r="24" fill="url(#spB)"/>
<circle cx="1380.9" cy="468.8" r="15" fill="url(#spD)"/>
<circle cx="1632.2" cy="543.6" r="16" fill="url(#spB)"/>
<circle cx="1543.1" cy="629.4" r="12" fill="url(#spD)" opacity="0.7"/>
<circle cx="1473.1" cy="462.5" r="26" fill="#0838f0" filter="url(#fb6)" opacity="0.8"/>
<ellipse cx="1473.1" cy="462.5" rx="23.5" ry="22.5" fill="url(#bigR)"/>
</g>
<text x="1498.6" y="379" font-size="10.5" fill="#fff" text-anchor="middle" font-weight="bold" font-family="'Liberation Sans', Arial, sans-serif" >1</text>
<text x="1370.7" y="495" font-size="10.5" fill="#fff" text-anchor="middle" font-weight="bold" font-family="'Liberation Sans', Arial, sans-serif" >3</text>
<text x="1632.8" y="574.6" font-size="10.5" fill="#fff" text-anchor="middle" font-weight="bold" font-family="'Liberation Sans', Arial, sans-serif" >2</text>
<text x="1543.7" y="659" font-size="10.5" fill="#fff" text-anchor="middle" font-weight="bold" font-family="'Liberation Sans', Arial, sans-serif" >4</text>
<text x="1357" y="662.8" font-size="13.1" fill="#fff" text-anchor="start" font-weight="bold" font-family="'Liberation Sans', Arial, sans-serif" >Non-Confocal</text>
<rect x="1673.5" y="363" width="15.3" height="301.4" fill="url(#jetV)"/>
<text x="1690.5" y="368.6" font-size="16.5" fill="#111" text-anchor="start" font-weight="bold" font-family="'Liberation Sans', Arial, sans-serif" >160</text>
<text x="1690.5" y="667.6" font-size="15.5" fill="#111" text-anchor="start" font-weight="bold" font-family="'Liberation Sans', Arial, sans-serif" >0</text>
<text transform="translate(1709.5,514) scale(1.0,1) rotate(-90) scale(1.0,1)" x="0" y="0" font-size="18.2" fill="#111" text-anchor="middle" font-weight="bold" font-family="'Liberation Sans', Arial, sans-serif" >Intensity (kcps)</text>
<text transform="translate(897,369.4) scale(1.07,1)" x="0" y="0" font-size="40" fill="#000" text-anchor="start" font-weight="normal" font-family="'Liberation Sans', Arial, sans-serif" >(f)</text>
<path d="M96.5,999.9 L97.2,1000.6 L97.9,997.9 L98.6,994.9 L99.3,993.4 L100,995.4 L100.7,997.6 L101.4,997.2 L102.1,993.1 L102.8,990.8 L103.5,994.1 L104.2,998 L104.9,996.4 L105.6,991.4 L106.3,993.8 L107,997.6 L107.7,996.3 L108.4,997.3 L109.1,997.1 L109.8,996.7 L110.5,996.4 L111.1,994.4 L111.8,995.5 L112.5,996.5 L113.2,994.6 L113.9,995 L114.6,999.3 L115.3,998.8 L116,999 L116.7,998.7 L117.4,999.2 L118.1,996.9 L118.8,995.9 L119.5,996.7 L120.2,997.7 L120.9,996.9 L121.6,997.8 L122.3,997.2 L123,993.8 L123.7,992.5 L124.4,986.6 L125.1,984.4 L125.8,983.7 L126.5,974.6 L127.2,965.4 L127.9,951.6 L128.6,938.2 L129.3,925.8 L130,906 L130.7,883.1 L131.4,856.3 L132.1,828.2 L132.8,794.7 L133.4,769.2 L134.1,753.8 L134.8,755 L135.5,772.1 L136.2,806.7 L136.9,847.2 L137.6,891.2 L138.3,926.7 L139,953 L139.7,972.2 L140.4,980.5 L141.1,983.2 L141.8,987.9 L142.5,989 L143.2,989 L143.9,988.6 L144.6,990.1 L145.3,990.1 L146,989.2 L146.7,989.9 L147.4,991.1 L148.1,989.8 L148.8,993.5 L149.5,995.2 L150.2,993.9 L150.9,989.9 L151.6,991.2 L152.3,993.2 L153,992.4 L153.7,989.7 L154.4,991.5 L155.1,991.2 L155.7,988.1 L156.4,989.6 L157.1,988.3 L157.8,986.8 L158.5,986.8 L159.2,984.8 L159.9,982.4 L160.6,985.5 L161.3,988.5 L162,988.7 L162.7,985.1 L163.4,983.3 L164.1,982.1 L164.8,982.8 L165.5,983 L166.2,982.9 L166.9,981.7 L167.6,979.9 L168.3,979.7 L169,977.3 L169.7,973.5 L170.4,976.3 L171.1,979 L171.8,973.7 L172.5,974.8 L173.2,976.8 L173.9,973.8 L174.6,974.4 L175.3,976.1 L176,976.5 L176.7,976.2 L177.3,973 L178,970.7 L178.7,972.1 L179.4,970 L180.1,968.2 L180.8,972.5 L181.5,971.6 L182.2,971.9 L182.9,973.6 L183.6,973 L184.3,970.1 L185,969.4 L185.7,971 L186.4,970.3 L187.1,969 L187.8,969.4 L188.5,969 L189.2,969.8 L189.9,969.4 L190.6,967.6 L191.3,970 L192,971.8 L192.7,972.4 L193.4,975.5 L194.1,974.9 L194.8,972.4 L195.5,970.9 L196.2,968.6 L196.9,971 L197.6,971.4 L198.3,964.1 L199,963.6 L199.6,965.7 L200.3,961.4 L201,963.1 L201.7,967.2 L202.4,965.6 L203.1,963.3 L203.8,960.6 L204.5,963.9 L205.2,964.6 L205.9,964.3 L206.6,965 L207.3,965.4 L208,960.7 L208.7,955.8 L209.4,954.6 L210.1,955.7 L210.8,953 L211.5,946.9 L212.2,943.5 L212.9,943.4 L213.6,946.2 L214.3,942.4 L215,945.4 L215.7,950.6 L216.4,948.9 L217.1,950.4 L217.8,956.8 L218.5,955.2 L219.2,952.5 L219.9,950.5 L220.6,951.2 L221.3,951.7 L222,949.7 L222.6,944.9 L223.3,944.6 L224,950.5 L224.7,950.7 L225.4,945.7 L226.1,950.8 L226.8,952.2 L227.5,950.2 L228.2,948.4 L228.9,947.3 L229.6,949.3 L230.3,951.5 L231,949.6 L231.7,947.9 L232.4,947.1 L233.1,952.2 L233.8,957.5 L234.5,957.2 L235.2,954.1 L235.9,958.9 L236.6,963.9 L237.3,962.4 L238,960.3 L238.7,960.1 L239.4,962.9 L240.1,960.8 L240.8,960.4 L241.5,963.4 L242.2,962 L242.9,957.4 L243.6,956.8 L244.2,959.2 L244.9,960.5 L245.6,960.1 L246.3,962.4 L247,963.8 L247.7,964.9 L248.4,963.7 L249.1,961.3 L249.8,957.3 L250.5,960.7 L251.2,959.7 L251.9,959.7 L252.6,962 L253.3,962.5 L254,967.2 L254.7,964 L255.4,963 L256.1,968.6 L256.8,966.6 L257.5,961.7 L258.2,963.5 L258.9,965.7 L259.6,964.8 L260.3,963.6 L261,961 L261.7,961.1 L262.4,963.2 L263.1,964 L263.8,961.8 L264.5,958.9 L265.2,959.7 L265.9,960.2 L266.5,962.2 L267.2,964.4 L267.9,962.5 L268.6,959 L269.3,959.5 L270,962.2 L270.7,962.7 L271.4,959.1 L272.1,958.2 L272.8,957.8 L273.5,956.5 L274.2,954.2 L274.9,952.2 L275.6,949.8 L276.3,948.1 L277,946.3 L277.7,946.2 L278.4,946.5 L279.1,943.1 L279.8,937.7 L280.5,931.2 L281.2,917.9 L281.9,915.5 L282.6,932.1 L283.3,942.1 L284,942.6 L284.7,946.4 L285.4,950.3 L286.1,954.4 L286.8,951.7 L287.5,953.8 L288.2,958.7 L288.9,961.4 L289.5,962.5 L290.2,964.5 L290.9,967.1 L291.6,968.7 L292.3,966.4 L293,968.4 L293.7,969.4 L294.4,971.3 L295.1,974.8 L295.8,971 L296.5,970.9 L297.2,971.4 L297.9,971.5 L298.6,972.3 L299.3,970.4 L300,972.7 L300.7,974.4 L301.4,973.8 L302.1,971.2 L302.8,970.4 L303.5,973.9 L304.2,975.3 L304.9,972.2 L305.6,973.6 L306.3,971.4 L307,973.3 L307.7,975.8 L308.4,975.7 L309.1,973.2 L309.8,972.5 L310.5,974 L311.1,971.7 L311.8,970.3 L312.5,975.5 L313.2,979.5 L313.9,980.5 L314.6,980.9 L315.3,979.8 L316,980.2 L316.7,980.5 L317.4,979.4 L318.1,984.3 L318.8,981.6 L319.5,974.3 L320.2,974.6 L320.9,976.7 L321.6,976.5 L322.3,974.7 L323,977 L323.7,980.1 L324.4,982.7 L325.1,981.8 L325.8,982.5 L326.5,983.2 L327.2,982.9 L327.9,981.8 L328.6,981.3 L329.3,980.6 L330,983.9 L330.7,981.7 L331.4,977.9 L332.1,979.8 L332.8,978.8 L333.5,978.2 L334.1,978.4 L334.8,981.3 L335.5,985.8 L336.2,985.2 L336.9,985.7 L337.6,987.7 L338.3,987 L339,988.4 L339.7,988.7 L340.4,985.3 L341.1,985.1 L341.8,987.1 L342.5,988.1 L343.2,987.5 L343.9,987 L344.6,986.9 L345.3,986.6 L346,986.8 L346.7,985.3 L347.4,984.7 L348.1,986 L348.8,988.5 L349.5,988.6 L350.2,986.9 L350.9,987.6 L351.6,989.7 L352.3,995.4 L353,995.6 L353.7,989.3 L354.4,986.5 L355.1,984.8 L355.8,986.1 L356.4,988.1 L357.1,990.1 L357.8,992 L358.5,989.2 L359.2,990.2 L359.9,989.3 L360.6,989.3 L361.3,989.1 L362,988.9 L362.7,991.6 L363.4,993 L364.1,993.8 L364.8,991.7 L365.5,988.5 L366.2,990.4 L366.9,988.9 L367.6,988.7 L368.3,989.3 L369,990.7 L369.7,993.7 L370.4,991.2 L371.1,989.3 L371.8,993.1 L372.5,994 L373.2,994.3 L373.9,993.7 L374.6,994.2 L375.3,990.9 L376,994.3 L376.7,996 L377.4,990.2 L378.1,990.1 L378.7,991.8 L379.4,992.9 L380.1,994.9 L380.8,994.6 L381.5,992.4 L382.2,991.4 L382.9,991.9 L383.6,994.1 L384.3,996 L385,995 L385.7,991.8 L386.4,991.5 L387.1,995.4 L387.8,995.9 L388.5,992.6 L389.2,992.6 L389.9,994.7 L390.6,998.5 L391.3,998.1 L392,997.3 L392.7,997.3 L393.4,998.9 L394.1,994.6 L394.8,994.5 L395.5,996.2 L396.2,999 L396.9,996.7 L397.6,995.1 L398.3,999.2 L399,997 L399.7,995.9 L400.4,997.6 L401,996.3 L401.7,996.7 L402.4,994.7 L403.1,995.4 L403.8,996.8" fill="none" stroke="#f6b56a" stroke-width="1.6" stroke-linejoin="round" />
<path d="M96.5,993.2 L97.2,993.8 L97.9,1001.5 L98.6,998 L99.3,992.8 L100,991.5 L100.7,992 L101.4,991.3 L102.1,993.1 L102.8,993.5 L103.5,995 L104.2,997.9 L104.9,997.1 L105.6,994.6 L106.3,994.2 L107,990.3 L107.7,988.5 L108.4,988.9 L109.1,992 L109.8,992.1 L110.5,996.6 L111.1,997.7 L111.8,995.5 L112.5,996 L113.2,1000.7 L113.9,1001.1 L114.6,997.3 L115.3,997.1 L116,994 L116.7,994.5 L117.4,995.1 L118.1,994.5 L118.8,993.4 L119.5,994 L120.2,992.8 L120.9,995.1 L121.6,995.6 L122.3,994.9 L123,991.5 L123.7,991.1 L124.4,989.1 L125.1,981.1 L125.8,978.5 L126.5,971.8 L127.2,958.8 L127.9,943.7 L128.6,932.1 L129.3,917 L130,903.4 L130.7,888.4 L131.4,863.6 L132.1,838.1 L132.8,815.3 L133.4,795.2 L134.1,786.8 L134.8,790.2 L135.5,805.5 L136.2,834.2 L136.9,872.4 L137.6,906.8 L138.3,935.2 L139,958.3 L139.7,971.3 L140.4,979.2 L141.1,987.6 L141.8,989.1 L142.5,992.8 L143.2,989.8 L143.9,989.2 L144.6,991.7 L145.3,992.7 L146,991 L146.7,990.6 L147.4,990.7 L148.1,991.8 L148.8,990.6 L149.5,992.9 L150.2,992.7 L150.9,991 L151.6,988.8 L152.3,992.8 L153,990.7 L153.7,987 L154.4,990.2 L155.1,991.4 L155.7,988.2 L156.4,987 L157.1,985.7 L157.8,987.7 L158.5,985.5 L159.2,982.8 L159.9,982.8 L160.6,985.1 L161.3,982.2 L162,985.8 L162.7,988.2 L163.4,986 L164.1,982.7 L164.8,981.9 L165.5,979.9 L166.2,978.8 L166.9,979.1 L167.6,978.5 L168.3,976.7 L169,983.9 L169.7,984.5 L170.4,981.2 L171.1,982.6 L171.8,984.4 L172.5,980.7 L173.2,980 L173.9,980.9 L174.6,973.5 L175.3,969.4 L176,970.3 L176.7,973.6 L177.3,974.1 L178,975.2 L178.7,973.4 L179.4,973.2 L180.1,971.6 L180.8,971 L181.5,968.1 L182.2,966.8 L182.9,967.9 L183.6,974.3 L184.3,974.9 L185,970.8 L185.7,971 L186.4,969.8 L187.1,969.7 L187.8,969.8 L188.5,968.7 L189.2,969.4 L189.9,971.3 L190.6,972.8 L191.3,969.2 L192,970.5 L192.7,970.4 L193.4,971 L194.1,970.6 L194.8,972.8 L195.5,973.2 L196.2,972.5 L196.9,973.1 L197.6,971.6 L198.3,969 L199,967.8 L199.6,965.7 L200.3,959.6 L201,963.5 L201.7,962.4 L202.4,957.8 L203.1,962 L203.8,961.2 L204.5,961.1 L205.2,964.3 L205.9,968 L206.6,968.1 L207.3,964.1 L208,961.8 L208.7,963.3 L209.4,957.7 L210.1,953.5 L210.8,947.4 L211.5,944.2 L212.2,942.1 L212.9,940.3 L213.6,941.5 L214.3,939.7 L215,939 L215.7,946.1 L216.4,949.8 L217.1,950.2 L217.8,950.7 L218.5,949.7 L219.2,949.9 L219.9,951.4 L220.6,952.6 L221.3,950.1 L222,948 L222.6,948 L223.3,945.4 L224,946.4 L224.7,948 L225.4,946.6 L226.1,950.2 L226.8,946.4 L227.5,944.6 L228.2,949 L228.9,949.5 L229.6,946.5 L230.3,945.2 L231,947.4 L231.7,948.1 L232.4,948.3 L233.1,951.7 L233.8,956.1 L234.5,955.8 L235.2,957 L235.9,960 L236.6,958.7 L237.3,959.9 L238,960.2 L238.7,965.1 L239.4,966 L240.1,964.8 L240.8,958.7 L241.5,956.4 L242.2,956.1 L242.9,956.4 L243.6,957.9 L244.2,960.5 L244.9,965.2 L245.6,963.2 L246.3,963.5 L247,964.5 L247.7,964.6 L248.4,960.2 L249.1,962.3 L249.8,965.7 L250.5,962.7 L251.2,963.4 L251.9,965.7 L252.6,965.1 L253.3,966.9 L254,970.3 L254.7,968 L255.4,962.6 L256.1,961.4 L256.8,962.8 L257.5,965.8 L258.2,965 L258.9,962.4 L259.6,961.5 L260.3,964.8 L261,964.7 L261.7,960.3 L262.4,961.4 L263.1,963.5 L263.8,964.5 L264.5,962.7 L265.2,957.5 L265.9,958.1 L266.5,962.2 L267.2,962.5 L267.9,955.7 L268.6,953.4 L269.3,954.1 L270,956.9 L270.7,962.7 L271.4,961.2 L272.1,956.2 L272.8,955.5 L273.5,954.5 L274.2,955 L274.9,953.6 L275.6,950.3 L276.3,949.9 L277,947.7 L277.7,944.3 L278.4,940.2 L279.1,933.4 L279.8,928.1 L280.5,923.9 L281.2,908.4 L281.9,904.7 L282.6,919 L283.3,932.1 L284,936.4 L284.7,940.4 L285.4,945.9 L286.1,952.2 L286.8,954.8 L287.5,957 L288.2,956.1 L288.9,957.7 L289.5,964.7 L290.2,966.2 L290.9,966 L291.6,966.3 L292.3,964.6 L293,967.6 L293.7,969.4 L294.4,970.5 L295.1,966.6 L295.8,967.5 L296.5,967.9 L297.2,971.1 L297.9,976.7 L298.6,977.1 L299.3,974.7 L300,971.2 L300.7,971.5 L301.4,970.3 L302.1,970 L302.8,969.9 L303.5,969.3 L304.2,972.3 L304.9,976.8 L305.6,974.4 L306.3,970.5 L307,973.5 L307.7,969.9 L308.4,969.3 L309.1,974.1 L309.8,975.3 L310.5,977.3 L311.1,975 L311.8,977.7 L312.5,979.8 L313.2,978.3 L313.9,978.1 L314.6,978.1 L315.3,976.9 L316,977.9 L316.7,978.3 L317.4,973.9 L318.1,971.3 L318.8,976.6 L319.5,980.9 L320.2,981.2 L320.9,978.5 L321.6,979.2 L322.3,981.1 L323,985.2 L323.7,985 L324.4,982.8 L325.1,979 L325.8,982.2 L326.5,986.3 L327.2,980.6 L327.9,976.7 L328.6,979.3 L329.3,986.9 L330,982.7 L330.7,979.1 L331.4,980 L332.1,983.6 L332.8,987.2 L333.5,985.2 L334.1,983.3 L334.8,981.2 L335.5,981.3 L336.2,982.7 L336.9,982.5 L337.6,986.1 L338.3,986.4 L339,984.2 L339.7,983.2 L340.4,983.8 L341.1,981.6 L341.8,983.6 L342.5,986.9 L343.2,986.5 L343.9,988.3 L344.6,989.8 L345.3,988.9 L346,983.1 L346.7,984.2 L347.4,988.7 L348.1,984.5 L348.8,983.9 L349.5,986.7 L350.2,984.5 L350.9,981.4 L351.6,984.8 L352.3,985.7 L353,985.8 L353.7,990.9 L354.4,993.5 L355.1,993.1 L355.8,989.5 L356.4,987.7 L357.1,991.7 L357.8,993.3 L358.5,990.5 L359.2,990 L359.9,988.9 L360.6,990.1 L361.3,991 L362,990.9 L362.7,991.5 L363.4,994.1 L364.1,993.3 L364.8,985.9 L365.5,981.8 L366.2,987.6 L366.9,994.6 L367.6,992 L368.3,990.3 L369,995.4 L369.7,994.9 L370.4,994.4 L371.1,995.6 L371.8,994.5 L372.5,991.2 L373.2,993.2 L373.9,992.4 L374.6,989.8 L375.3,995.4 L376,998.1 L376.7,991.8 L377.4,988 L378.1,991.3 L378.7,993.9 L379.4,997.5 L380.1,996.2 L380.8,990.4 L381.5,989.6 L382.2,992.5" fill="none" stroke="#4a4fb0" stroke-width="1.6" stroke-linejoin="round" stroke-opacity="0.9"/>
<path d="M413,733.5 L77,733.5 L77,1017.4 L413,1017.4 L413,733.5" fill="none" stroke="#262626" stroke-width="1.8" stroke-linecap="square"/>
<line x1="77" y1="1001.4" x2="82" y2="1001.4" stroke="#262626" stroke-width="1.5"/><line x1="77" y1="959.6" x2="82" y2="959.6" stroke="#262626" stroke-width="1.5"/><line x1="77" y1="917.8" x2="82" y2="917.8" stroke="#262626" stroke-width="1.5"/><line x1="77" y1="876" x2="82" y2="876" stroke="#262626" stroke-width="1.5"/><line x1="77" y1="834.2" x2="82" y2="834.2" stroke="#262626" stroke-width="1.5"/><line x1="77" y1="792.4" x2="82" y2="792.4" stroke="#262626" stroke-width="1.5"/><line x1="77" y1="750.6" x2="82" y2="750.6" stroke="#262626" stroke-width="1.5"/>
<line x1="77" y1="980.5" x2="80" y2="980.5" stroke="#262626" stroke-width="1.5"/><line x1="77" y1="938.7" x2="80" y2="938.7" stroke="#262626" stroke-width="1.5"/><line x1="77" y1="896.9" x2="80" y2="896.9" stroke="#262626" stroke-width="1.5"/><line x1="77" y1="855.1" x2="80" y2="855.1" stroke="#262626" stroke-width="1.5"/><line x1="77" y1="813.3" x2="80" y2="813.3" stroke="#262626" stroke-width="1.5"/><line x1="77" y1="771.5" x2="80" y2="771.5" stroke="#262626" stroke-width="1.5"/>
<line x1="77" y1="1017.4" x2="77" y2="1012.4" stroke="#262626" stroke-width="1.5"/><line x1="132.8" y1="1017.4" x2="132.8" y2="1012.4" stroke="#262626" stroke-width="1.5"/><line x1="188.5" y1="1017.4" x2="188.5" y2="1012.4" stroke="#262626" stroke-width="1.5"/><line x1="244.2" y1="1017.4" x2="244.2" y2="1012.4" stroke="#262626" stroke-width="1.5"/><line x1="300" y1="1017.4" x2="300" y2="1012.4" stroke="#262626" stroke-width="1.5"/><line x1="355.8" y1="1017.4" x2="355.8" y2="1012.4" stroke="#262626" stroke-width="1.5"/><line x1="411.5" y1="1017.4" x2="411.5" y2="1012.4" stroke="#262626" stroke-width="1.5"/>
<line x1="104.9" y1="1017.4" x2="104.9" y2="1014.4" stroke="#262626" stroke-width="1.5"/><line x1="160.6" y1="1017.4" x2="160.6" y2="1014.4" stroke="#262626" stroke-width="1.5"/><line x1="216.4" y1="1017.4" x2="216.4" y2="1014.4" stroke="#262626" stroke-width="1.5"/><line x1="272.1" y1="1017.4" x2="272.1" y2="1014.4" stroke="#262626" stroke-width="1.5"/><line x1="327.9" y1="1017.4" x2="327.9" y2="1014.4" stroke="#262626" stroke-width="1.5"/><line x1="383.6" y1="1017.4" x2="383.6" y2="1014.4" stroke="#262626" stroke-width="1.5"/>
<text x="70.5" y="1005.6" font-size="11.7" fill="#1c1c1c" text-anchor="end" font-weight="bold" font-family="'Liberation Sans', Arial, sans-serif" >0</text>
<text x="70.5" y="963.8" font-size="11.7" fill="#1c1c1c" text-anchor="end" font-weight="bold" font-family="'Liberation Sans', Arial, sans-serif" >250</text>
<text x="70.5" y="922" font-size="11.7" fill="#1c1c1c" text-anchor="end" font-weight="bold" font-family="'Liberation Sans', Arial, sans-serif" >500</text>
<text x="70.5" y="880.2" font-size="11.7" fill="#1c1c1c" text-anchor="end" font-weight="bold" font-family="'Liberation Sans', Arial, sans-serif" >750</text>
<text x="70.5" y="838.4" font-size="11.7" fill="#1c1c1c" text-anchor="end" font-weight="bold" font-family="'Liberation Sans', Arial, sans-serif" >1000</text>
<text x="70.5" y="796.6" font-size="11.7" fill="#1c1c1c" text-anchor="end" font-weight="bold" font-family="'Liberation Sans', Arial, sans-serif" >1250</text>
<text x="70.5" y="754.8" font-size="11.7" fill="#1c1c1c" text-anchor="end" font-weight="bold" font-family="'Liberation Sans', Arial, sans-serif" >1500</text>
<text x="77" y="1033.8" font-size="12.3" fill="#1c1c1c" text-anchor="middle" font-weight="bold" font-family="'Liberation Sans', Arial, sans-serif" >1060</text>
<text x="132.8" y="1033.8" font-size="12.3" fill="#1c1c1c" text-anchor="middle" font-weight="bold" font-family="'Liberation Sans', Arial, sans-serif" >1080</text>
<text x="188.5" y="1033.8" font-size="12.3" fill="#1c1c1c" text-anchor="middle" font-weight="bold" font-family="'Liberation Sans', Arial, sans-serif" >1100</text>
<text x="244.2" y="1033.8" font-size="12.3" fill="#1c1c1c" text-anchor="middle" font-weight="bold" font-family="'Liberation Sans', Arial, sans-serif" >1120</text>
<text x="300" y="1033.8" font-size="12.3" fill="#1c1c1c" text-anchor="middle" font-weight="bold" font-family="'Liberation Sans', Arial, sans-serif" >1140</text>
<text x="355.8" y="1033.8" font-size="12.3" fill="#1c1c1c" text-anchor="middle" font-weight="bold" font-family="'Liberation Sans', Arial, sans-serif" >1160</text>
<text x="411.5" y="1033.8" font-size="12.3" fill="#1c1c1c" text-anchor="middle" font-weight="bold" font-family="'Liberation Sans', Arial, sans-serif" >1180</text>
<text x="244.7" y="1057.3" font-size="17.1" fill="#1c1c1c" text-anchor="middle" font-weight="bold" font-family="'Liberation Sans', Arial, sans-serif" >Wavelength (nm)</text>
<text transform="translate(40.5,875.8) scale(1.0,1) rotate(-90) scale(1.0,1)" x="0" y="0" font-size="17.5" fill="#1c1c1c" text-anchor="middle" font-weight="bold" font-family="'Liberation Sans', Arial, sans-serif" >Counts</text>
<text x="82.7" y="748" font-size="12.6" fill="#1c1c1c" text-anchor="start" font-weight="bold" font-family="'Liberation Sans', Arial, sans-serif" >Confocal</text>
<text x="143.2" y="776.7" font-size="11.6" fill="#1c1c1c" text-anchor="start" font-weight="bold" font-family="'Liberation Sans', Arial, sans-serif" >PL4 ZPL</text>
<line x1="266.3" y1="747.6" x2="297.5" y2="747.6" stroke="#f6b56a" stroke-width="1.6"/>
<line x1="266.3" y1="765.3" x2="297.5" y2="765.3" stroke="#5a5fb8" stroke-width="1.6"/>
<text x="301.6" y="752" font-size="12.6" fill="#1c1c1c" text-anchor="start" font-weight="bold" font-family="'Liberation Sans', Arial, sans-serif" >Off-resonance (A)</text>
<text x="301.6" y="769.7" font-size="12.6" fill="#1c1c1c" text-anchor="start" font-weight="bold" font-family="'Liberation Sans', Arial, sans-serif" >On-resonance (C)</text>
<text transform="translate(4.5,737.6) scale(0.96,1)" x="0" y="0" font-size="39.5" fill="#000" text-anchor="start" font-weight="normal" font-family="'Liberation Sans', Arial, sans-serif" >(g)</text>
<defs><clipPath id="clipH"><rect x="482.8" y="731.0" width="345.1" height="289.6"/></clipPath></defs>
<g clip-path="url(#clipH)">
<path d="M522.6,739.4h2.2M523.0,769.6h2.2M523.3,746.4h2.2M523.6,756.1h2.2M524.0,752.8h2.2M524.3,753.7h2.2M524.6,764.0h2.2M525.0,751.5h2.2M525.3,760.3h2.2M525.6,730.9h2.2M525.9,755.3h2.2M526.3,758.0h2.2M526.6,756.5h2.2M526.9,758.9h2.2M527.3,762.2h2.2M527.6,755.1h2.2M527.9,752.4h2.2M528.3,756.7h2.2M528.6,749.8h2.2M528.9,758.9h2.2M529.3,756.4h2.2M529.6,748.3h2.2M529.9,755.4h2.2M530.3,761.2h2.2M530.6,758.9h2.2M530.9,754.4h2.2M531.2,746.7h2.2M531.6,762.2h2.2M531.9,761.0h2.2M532.2,751.3h2.2M532.6,766.0h2.2M532.9,761.3h2.2M533.2,754.8h2.2M533.6,757.7h2.2M533.9,759.2h2.2M534.2,760.5h2.2M534.6,781.2h2.2M534.9,756.4h2.2M535.2,767.5h2.2M535.5,777.6h2.2M535.9,762.2h2.2M536.2,760.9h2.2M536.5,769.8h2.2M536.9,772.2h2.2M537.2,767.5h2.2M537.5,766.3h2.2M537.9,756.7h2.2M538.2,760.7h2.2M538.5,762.9h2.2M538.9,761.9h2.2M539.2,769.8h2.2M539.5,775.4h2.2M539.9,765.8h2.2M540.2,764.6h2.2M540.5,771.1h2.2M540.8,776.5h2.2M541.2,769.1h2.2M541.5,784.3h2.2M541.8,767.9h2.2M542.2,769.2h2.2M542.5,782.4h2.2M542.8,771.9h2.2M543.2,774.4h2.2M543.5,765.8h2.2M543.8,784.2h2.2M544.2,780.1h2.2M544.5,768.3h2.2M544.8,765.9h2.2M545.2,791.9h2.2M545.5,775.8h2.2M545.8,772.0h2.2M546.1,782.9h2.2M546.5,766.4h2.2M546.8,786.2h2.2M547.1,775.0h2.2M547.5,783.2h2.2M547.8,769.1h2.2M548.1,774.7h2.2M548.5,776.3h2.2M548.8,789.2h2.2M549.1,766.8h2.2M549.5,771.4h2.2M549.8,772.9h2.2M550.1,772.2h2.2M550.4,774.5h2.2M550.8,779.7h2.2M551.1,786.4h2.2M551.4,786.3h2.2M551.8,770.9h2.2M552.1,786.6h2.2M552.4,787.3h2.2M552.8,784.2h2.2M553.1,777.0h2.2M553.4,780.1h2.2M553.8,790.8h2.2M554.1,795.0h2.2M554.4,780.4h2.2M554.8,776.0h2.2M555.1,779.1h2.2M555.4,782.6h2.2M555.7,785.6h2.2M556.1,786.0h2.2M556.4,785.1h2.2M556.7,778.3h2.2M557.1,789.5h2.2M557.4,784.2h2.2M557.7,786.9h2.2M558.1,784.6h2.2M558.4,781.1h2.2M558.7,773.2h2.2M559.1,778.5h2.2M559.4,775.3h2.2M559.7,804.0h2.2M560.1,794.4h2.2M560.4,792.2h2.2M560.7,785.1h2.2M561.0,805.4h2.2M561.4,785.8h2.2M561.7,781.6h2.2M562.0,802.6h2.2M562.4,792.9h2.2M562.7,794.6h2.2M563.0,792.9h2.2M563.4,791.3h2.2M563.7,783.4h2.2M564.0,790.9h2.2M564.4,783.6h2.2M564.7,791.6h2.2M565.0,781.2h2.2M565.3,791.7h2.2M565.7,785.0h2.2M566.0,803.8h2.2M566.3,800.0h2.2M566.7,807.3h2.2M567.0,783.7h2.2M567.3,791.2h2.2M567.7,802.0h2.2M568.0,800.5h2.2M568.3,790.4h2.2M568.7,806.3h2.2M569.0,805.1h2.2M569.3,795.2h2.2M569.7,784.1h2.2M570.0,803.1h2.2M570.3,800.5h2.2M570.6,809.0h2.2M571.0,806.4h2.2M571.3,802.2h2.2M571.6,795.0h2.2M572.0,804.6h2.2M572.3,800.7h2.2M572.6,800.7h2.2M573.0,802.9h2.2M573.3,815.0h2.2M573.6,804.6h2.2M574.0,811.8h2.2M574.3,807.1h2.2M574.6,806.3h2.2M574.9,810.0h2.2M575.3,809.9h2.2M575.6,798.0h2.2M575.9,804.6h2.2M576.3,812.9h2.2M576.6,804.2h2.2M576.9,802.9h2.2M577.3,798.7h2.2M577.6,817.0h2.2M577.9,804.8h2.2M578.3,810.6h2.2M578.6,807.6h2.2M578.9,803.9h2.2M579.3,803.4h2.2M579.6,802.6h2.2M579.9,807.1h2.2M580.2,799.3h2.2M580.6,811.8h2.2M580.9,811.5h2.2M581.2,805.4h2.2M581.6,816.0h2.2M581.9,795.1h2.2M582.2,801.8h2.2M582.6,797.3h2.2M582.9,813.1h2.2M583.2,814.7h2.2M583.6,808.3h2.2M583.9,810.2h2.2M584.2,813.7h2.2M584.6,806.7h2.2M584.9,817.0h2.2M585.2,802.0h2.2M585.5,820.7h2.2M585.9,807.0h2.2M586.2,815.1h2.2M586.5,824.1h2.2M586.9,820.7h2.2M587.2,817.8h2.2M587.5,817.7h2.2M587.9,814.0h2.2M588.2,823.3h2.2M588.5,815.1h2.2M588.9,805.4h2.2M589.2,821.0h2.2M589.5,818.7h2.2M589.8,827.9h2.2M590.2,838.9h2.2M590.5,815.8h2.2M590.8,830.5h2.2M591.2,820.3h2.2M591.5,822.3h2.2M591.8,816.8h2.2M592.2,825.8h2.2M592.5,830.7h2.2M592.8,822.3h2.2M593.2,826.9h2.2M593.5,818.4h2.2M593.8,819.4h2.2M594.2,827.9h2.2M594.5,828.3h2.2M594.8,831.2h2.2M595.1,825.0h2.2M595.5,842.7h2.2M595.8,829.2h2.2M596.1,837.3h2.2M596.5,822.7h2.2M596.8,821.6h2.2M597.1,839.9h2.2M597.5,829.6h2.2M597.8,825.4h2.2M598.1,835.6h2.2M598.5,824.4h2.2M598.8,831.8h2.2M599.1,838.1h2.2M599.5,832.5h2.2M599.8,824.8h2.2M600.1,834.6h2.2M600.4,841.3h2.2M600.8,834.9h2.2M601.1,828.1h2.2M601.4,837.9h2.2M601.8,841.6h2.2M602.1,830.9h2.2M602.4,832.5h2.2M602.8,821.0h2.2M603.1,836.3h2.2M603.4,836.6h2.2M603.8,835.8h2.2M604.1,836.1h2.2M604.4,823.7h2.2M604.7,842.4h2.2M605.1,834.4h2.2M605.4,830.9h2.2M605.7,834.4h2.2M606.1,820.1h2.2M606.4,842.7h2.2M606.7,834.6h2.2M607.1,838.6h2.2M607.4,835.6h2.2M607.7,839.1h2.2M608.1,826.9h2.2M608.4,836.8h2.2M608.7,840.7h2.2M609.1,842.1h2.2M609.4,842.7h2.2M609.7,840.2h2.2M610.0,838.9h2.2M610.4,833.7h2.2M610.7,830.3h2.2M611.0,843.2h2.2M611.4,846.8h2.2M611.7,835.4h2.2M612.0,838.4h2.2M612.4,845.0h2.2M612.7,844.4h2.2M613.0,833.2h2.2M613.4,837.1h2.2M613.7,845.9h2.2M614.0,836.8h2.2M614.4,831.6h2.2M614.7,851.9h2.2M615.0,839.7h2.2M615.3,853.3h2.2M615.7,833.9h2.2M616.0,857.2h2.2M616.3,847.4h2.2M616.7,845.0h2.2M617.0,852.6h2.2M617.3,838.6h2.2M617.7,847.1h2.2M618.0,855.7h2.2M618.3,848.3h2.2M618.7,864.0h2.2M619.0,845.3h2.2M619.3,839.7h2.2M619.6,859.1h2.2M620.0,835.6h2.2M620.3,854.3h2.2M620.6,850.6h2.2M621.0,847.4h2.2M621.3,861.1h2.2M621.6,854.0h2.2M622.0,852.2h2.2M622.3,863.2h2.2M622.6,866.2h2.2M623.0,853.6h2.2M623.3,862.3h2.2M623.6,861.9h2.2M624.0,861.1h2.2M624.3,851.6h2.2M624.6,862.7h2.2M624.9,841.8h2.2M625.3,851.6h2.2M625.6,856.1h2.2M625.9,857.6h2.2M626.3,861.1h2.2M626.6,856.8h2.2M626.9,851.9h2.2M627.3,856.1h2.2M627.6,862.7h2.2M627.9,862.7h2.2M628.3,845.9h2.2M628.6,854.0h2.2M628.9,859.1h2.2M629.3,878.2h2.2M629.6,877.1h2.2M629.9,870.4h2.2M630.2,876.0h2.2M630.6,873.9h2.2M630.9,862.7h2.2M631.2,867.1h2.2M631.6,839.9h2.2M631.9,855.7h2.2M632.2,875.5h2.2M632.6,860.7h2.2M632.9,861.9h2.2M633.2,874.4h2.2M633.6,852.2h2.2M633.9,879.3h2.2M634.2,882.3h2.2M634.5,863.2h2.2M634.9,870.4h2.2M635.2,852.2h2.2M635.5,876.0h2.2M635.9,878.2h2.2M636.2,855.4h2.2M636.5,882.9h2.2M636.9,877.1h2.2M637.2,854.7h2.2M637.5,881.1h2.2M637.9,867.5h2.2M638.2,873.4h2.2M638.5,858.7h2.2M638.9,878.8h2.2M639.2,877.6h2.2M639.5,864.0h2.2M639.8,860.3h2.2M640.2,868.9h2.2M640.5,875.5h2.2M640.8,865.7h2.2M641.2,876.0h2.2M641.5,865.7h2.2M641.8,864.0h2.2M642.2,864.4h2.2M642.5,884.2h2.2M642.8,878.2h2.2M643.2,895.5h2.2M643.5,883.6h2.2M643.8,867.1h2.2M644.1,877.6h2.2M644.5,874.4h2.2M644.8,896.3h2.2M645.1,872.8h2.2M645.5,864.0h2.2M645.8,878.8h2.2M646.1,872.3h2.2M646.5,868.0h2.2M646.8,880.5h2.2M647.1,880.5h2.2M647.5,871.8h2.2M647.8,881.1h2.2M648.1,888.2h2.2M648.5,893.2h2.2M648.8,879.9h2.2M649.1,864.9h2.2M649.4,882.9h2.2M649.8,870.4h2.2M650.1,886.8h2.2M650.4,884.2h2.2M650.8,877.1h2.2M651.1,890.3h2.2M651.4,907.1h2.2M651.8,876.0h2.2M652.1,876.5h2.2M652.4,881.7h2.2M652.8,869.9h2.2M653.1,884.2h2.2M653.4,894.8h2.2M653.8,882.9h2.2M654.1,873.9h2.2M654.4,889.6h2.2M654.7,881.7h2.2M655.1,899.7h2.2M655.4,890.3h2.2M655.7,879.3h2.2M656.1,891.7h2.2M656.4,885.5h2.2M656.7,876.5h2.2M657.1,876.5h2.2M657.4,876.0h2.2M657.7,883.6h2.2M658.1,873.4h2.2M658.4,884.2h2.2M658.7,884.8h2.2M659.0,895.5h2.2M659.4,875.5h2.2M659.7,883.6h2.2M660.0,875.5h2.2M660.4,901.4h2.2M660.7,886.8h2.2M661.0,882.3h2.2M661.4,889.6h2.2M661.7,888.2h2.2M662.0,890.3h2.2M662.4,894.0h2.2M662.7,889.6h2.2M663.0,881.1h2.2M663.4,881.7h2.2M663.7,886.1h2.2M664.0,899.7h2.2M664.3,897.2h2.2M664.7,889.6h2.2M665.0,873.4h2.2M665.3,894.0h2.2M665.7,895.5h2.2M666.0,903.3h2.2M666.3,914.6h2.2M666.7,909.1h2.2M667.0,889.6h2.2M667.3,896.3h2.2M667.7,906.1h2.2M668.0,888.9h2.2M668.3,917.0h2.2M668.7,895.5h2.2M669.0,905.1h2.2M669.3,897.2h2.2M669.6,892.5h2.2M670.0,911.2h2.2M670.3,906.1h2.2M670.6,902.3h2.2M671.0,901.4h2.2M671.3,894.8h2.2M671.6,919.4h2.2M672.0,896.3h2.2M672.3,902.3h2.2M672.6,908.1h2.2M673.0,893.2h2.2M673.3,889.6h2.2M673.6,892.5h2.2M673.9,898.8h2.2M674.3,898.0h2.2M674.6,919.4h2.2M674.9,898.8h2.2M675.3,906.1h2.2M675.6,905.1h2.2M675.9,907.1h2.2M676.3,908.1h2.2M676.6,910.2h2.2M676.9,902.3h2.2M677.3,894.8h2.2M677.6,879.3h2.2M677.9,898.8h2.2M678.3,913.5h2.2M678.6,917.0h2.2M678.9,912.3h2.2M679.2,900.5h2.2M679.6,909.1h2.2M679.9,903.3h2.2M680.2,917.0h2.2M680.6,914.6h2.2M680.9,901.4h2.2M681.2,909.1h2.2M681.6,906.1h2.2M681.9,919.4h2.2M682.2,901.4h2.2M682.6,910.2h2.2M682.9,910.2h2.2M683.2,919.4h2.2M683.6,922.1h2.2M683.9,919.4h2.2M684.2,911.2h2.2M684.5,918.2h2.2M684.9,912.3h2.2M685.2,911.2h2.2M685.5,912.3h2.2M685.9,900.5h2.2M686.2,902.3h2.2M686.5,904.2h2.2M686.9,898.0h2.2M687.2,915.8h2.2M687.5,915.8h2.2M687.9,908.1h2.2M688.2,918.2h2.2M688.5,907.1h2.2M688.8,917.0h2.2M689.2,917.0h2.2M689.5,912.3h2.2M689.8,910.2h2.2M690.2,911.2h2.2M690.5,919.4h2.2M690.8,919.4h2.2M691.2,924.8h2.2M691.5,910.2h2.2M691.8,914.6h2.2M692.2,919.4h2.2M692.5,903.3h2.2M692.8,912.3h2.2M693.2,934.1h2.2M693.5,914.6h2.2M693.8,914.6h2.2M694.1,923.4h2.2M694.5,919.4h2.2M694.8,926.2h2.2M695.1,923.4h2.2M695.5,910.2h2.2M695.8,945.4h2.2M696.1,927.7h2.2M696.5,923.4h2.2M696.8,909.1h2.2M697.1,913.5h2.2M697.5,930.8h2.2M697.8,935.8h2.2M698.1,922.1h2.2M698.5,935.8h2.2M698.8,930.8h2.2M699.1,914.6h2.2M699.4,926.2h2.2M699.8,939.4h2.2M700.1,923.4h2.2M700.4,912.3h2.2M700.8,907.1h2.2M701.1,924.8h2.2M701.4,915.8h2.2M701.8,923.4h2.2M702.1,945.4h2.2M702.4,922.1h2.2M702.8,905.1h2.2M703.1,915.8h2.2M703.4,932.4h2.2M703.7,930.8h2.2M704.1,908.1h2.2M704.4,930.8h2.2M704.7,935.8h2.2M705.1,926.2h2.2M705.4,923.4h2.2M705.7,929.2h2.2M706.1,918.2h2.2M706.4,911.2h2.2M706.7,939.4h2.2M707.1,934.1h2.2M707.4,926.2h2.2M707.7,930.8h2.2M708.1,930.8h2.2M708.4,920.7h2.2M708.7,957.3h2.2M709.0,929.2h2.2M709.4,941.4h2.2M709.7,930.8h2.2M710.0,932.4h2.2M710.4,932.4h2.2M710.7,932.4h2.2M711.0,930.8h2.2M711.4,927.7h2.2M711.7,949.8h2.2M712.0,939.4h2.2M712.4,914.6h2.2M712.7,941.4h2.2M713.0,935.8h2.2M713.3,934.1h2.2M713.7,926.2h2.2M714.0,918.2h2.2M714.3,930.8h2.2M714.7,937.6h2.2M715.0,957.3h2.2M715.3,935.8h2.2M715.7,937.6h2.2M716.0,923.4h2.2M716.3,935.8h2.2M716.7,919.4h2.2M717.0,935.8h2.2M717.3,924.8h2.2M717.7,937.6h2.2M718.0,927.7h2.2M718.3,934.1h2.2M718.6,929.2h2.2M719.0,930.8h2.2M719.3,939.4h2.2M719.6,963.0h2.2M720.0,960.1h2.2M720.3,949.8h2.2M720.6,935.8h2.2M721.0,943.3h2.2M721.3,935.8h2.2M721.6,947.6h2.2M722.0,934.1h2.2M722.3,937.6h2.2M722.6,943.3h2.2M723.0,954.7h2.2M723.3,926.2h2.2M723.6,945.4h2.2M723.9,935.8h2.2M724.3,969.3h2.2M724.6,963.0h2.2M724.9,949.8h2.2M725.3,941.4h2.2M725.6,937.6h2.2M725.9,930.8h2.2M726.3,947.6h2.2M726.6,935.8h2.2M726.9,941.4h2.2M727.3,935.8h2.2M727.6,954.7h2.2M727.9,935.8h2.2M728.2,934.1h2.2M728.6,932.4h2.2M728.9,960.1h2.2M729.2,947.6h2.2M729.6,939.4h2.2M729.9,954.7h2.2M730.2,980.7h2.2M730.6,941.4h2.2M730.9,939.4h2.2M731.2,947.6h2.2M731.6,937.6h2.2M731.9,947.6h2.2M732.2,963.0h2.2M732.6,937.6h2.2M732.9,937.6h2.2M733.2,939.4h2.2M733.5,945.4h2.2M733.9,937.6h2.2M734.2,935.8h2.2M734.5,952.2h2.2M734.9,939.4h2.2M735.2,937.6h2.2M735.5,952.2h2.2M735.9,963.0h2.2M736.2,954.7h2.2M736.5,957.3h2.2M736.9,954.7h2.2M737.2,949.8h2.2M737.5,947.6h2.2M737.9,960.1h2.2M738.2,947.6h2.2M738.5,989.9h2.2M738.8,949.8h2.2M739.2,941.4h2.2M739.5,943.3h2.2M739.8,952.2h2.2M740.2,937.6h2.2M740.5,947.6h2.2M740.8,952.2h2.2M741.2,954.7h2.2M741.5,941.4h2.2M741.8,957.3h2.2M742.2,980.7h2.2M742.5,957.3h2.2M742.8,954.7h2.2M743.1,952.2h2.2M743.5,952.2h2.2M743.8,954.7h2.2M744.1,972.8h2.2M744.5,932.4h2.2M744.8,947.6h2.2M745.1,954.7h2.2M745.5,963.0h2.2M745.8,943.3h2.2M746.1,969.3h2.2M746.5,939.4h2.2M746.8,952.2h2.2M747.1,963.0h2.2M747.5,960.1h2.2M747.8,949.8h2.2M748.1,954.7h2.2M748.4,937.6h2.2M748.8,943.3h2.2M749.1,966.0h2.2M749.4,963.0h2.2M749.8,935.8h2.2M750.1,947.6h2.2M750.4,949.8h2.2M750.8,943.3h2.2M751.1,969.3h2.2M751.4,947.6h2.2M751.8,954.7h2.2M752.1,985.1h2.2M752.4,954.7h2.2M752.8,954.7h2.2M753.1,966.0h2.2M753.4,989.9h2.2M753.7,939.4h2.2M754.1,1001.3h2.2M754.4,943.3h2.2M754.7,963.0h2.2M755.1,943.3h2.2M755.4,949.8h2.2M755.7,943.3h2.2M756.1,954.7h2.2M756.4,972.8h2.2M756.7,929.2h2.2M757.1,952.2h2.2M757.4,963.0h2.2M757.7,976.6h2.2M758.0,972.8h2.2M758.4,952.2h2.2M758.7,949.8h2.2M759.0,985.1h2.2M759.4,947.6h2.2M759.7,960.1h2.2M760.0,947.6h2.2M760.4,947.6h2.2M760.7,980.7h2.2M761.0,976.6h2.2M761.4,960.1h2.2M761.7,952.2h2.2M762.0,972.8h2.2M762.4,963.0h2.2M762.7,985.1h2.2M763.0,972.8h2.2M763.3,985.1h2.2M763.7,945.4h2.2M764.0,969.3h2.2M764.3,957.3h2.2M764.7,963.0h2.2M765.0,963.0h2.2M765.3,960.1h2.2M765.7,954.7h2.2M766.0,969.3h2.2M766.3,952.2h2.2M766.7,957.3h2.2M767.0,954.7h2.2M767.3,969.3h2.2M767.6,972.8h2.2M768.0,966.0h2.2M768.3,989.9h2.2M768.6,1001.3h2.2M769.0,966.0h2.2M769.3,972.8h2.2M769.6,972.8h2.2M770.0,1001.3h2.2M770.3,966.0h2.2M770.6,972.8h2.2M771.0,963.0h2.2M771.3,969.3h2.2M771.6,980.7h2.2M772.0,1001.3h2.2M772.3,969.3h2.2M772.6,972.8h2.2M772.9,985.1h2.2M773.3,969.3h2.2M773.6,972.8h2.2M773.9,969.3h2.2M774.3,976.6h2.2M774.6,972.8h2.2M774.9,960.1h2.2M775.3,985.1h2.2M775.6,969.3h2.2M775.9,969.3h2.2M776.3,976.6h2.2M776.6,985.1h2.2M776.9,957.3h2.2M777.3,952.2h2.2M777.6,945.4h2.2M777.9,972.8h2.2M778.2,957.3h2.2M778.6,995.3h2.2M778.9,969.3h2.2M779.2,980.7h2.2M779.6,980.7h2.2M779.9,976.6h2.2M780.2,960.1h2.2M780.6,980.7h2.2M780.9,963.0h2.2M781.2,960.1h2.2M781.6,972.8h2.2M781.9,963.0h2.2M782.2,966.0h2.2M782.5,969.3h2.2M782.9,976.6h2.2M783.2,976.6h2.2M783.5,966.0h2.2M783.9,995.3h2.2M784.2,960.1h2.2M784.5,963.0h2.2M784.9,969.3h2.2M785.2,969.3h2.2M785.5,976.6h2.2M785.9,985.1h2.2M786.2,985.1h2.2M786.5,976.6h2.2M786.9,976.6h2.2M787.2,960.1h2.2M787.5,976.6h2.2M787.8,966.0h2.2M788.2,969.3h2.2M788.5,960.1h2.2M788.8,966.0h2.2M789.2,960.1h2.2M789.5,947.6h2.2M789.8,952.2h2.2M790.2,985.1h2.2M790.5,972.8h2.2M790.8,989.9h2.2M791.2,989.9h2.2M791.5,957.3h2.2M791.8,989.9h2.2M792.2,963.0h2.2M792.5,976.6h2.2M792.8,960.1h2.2M793.1,963.0h2.2M793.5,969.3h2.2M793.8,985.1h2.2M794.1,989.9h2.2M794.5,976.6h2.2M794.8,957.3h2.2M795.1,976.6h2.2M795.5,969.3h2.2M795.8,954.7h2.2M796.1,980.7h2.2M796.5,963.0h2.2M796.8,976.6h2.2M797.1,952.2h2.2M797.4,972.8h2.2M797.8,985.1h2.2M798.1,960.1h2.2M798.4,963.0h2.2M798.8,972.8h2.2M799.1,966.0h2.2M799.4,1001.3h2.2M799.8,976.6h2.2M800.1,947.6h2.2M800.4,960.1h2.2M800.8,949.8h2.2M801.1,963.0h2.2M801.4,980.7h2.2M801.8,972.8h2.2M802.1,995.3h2.2M802.4,969.3h2.2M802.7,963.0h2.2M803.1,989.9h2.2M803.4,1001.3h2.2M803.7,963.0h2.2M804.1,1001.3h2.2M804.4,976.6h2.2M804.7,957.3h2.2M805.1,969.3h2.2M805.4,963.0h2.2M805.7,976.6h2.2M806.1,976.6h2.2M806.4,960.1h2.2M806.7,969.3h2.2M807.1,976.6h2.2M807.4,969.3h2.2M807.7,989.9h2.2M808.0,966.0h2.2M808.4,966.0h2.2M808.7,976.6h2.2M809.0,954.7h2.2M809.4,966.0h2.2M809.7,976.6h2.2M810.0,976.6h2.2M810.4,947.6h2.2M810.7,969.3h2.2M811.0,972.8h2.2M811.4,995.3h2.2M811.7,985.1h2.2M812.0,960.1h2.2M812.3,989.9h2.2M812.7,972.8h2.2M813.0,966.0h2.2M813.3,1001.3h2.2M813.7,1001.3h2.2M814.0,989.9h2.2" stroke="#8cc2ea" stroke-width="1.6" fill="none" stroke-opacity="0.85"/>
<path d="M522.6,755.5h2.2M523.0,751.3h2.2M523.3,739.3h2.2M523.6,745.9h2.2M524.0,763.4h2.2M524.3,754.3h2.2M524.6,755.7h2.2M525.0,750.6h2.2M525.3,763.9h2.2M525.6,750.5h2.2M525.9,753.9h2.2M526.3,744.8h2.2M526.6,749.9h2.2M526.9,749.2h2.2M527.3,767.9h2.2M527.6,741.4h2.2M527.9,769.1h2.2M528.3,751.9h2.2M528.6,761.7h2.2M528.9,763.4h2.2M529.3,762.1h2.2M529.6,763.7h2.2M529.9,753.6h2.2M530.3,762.0h2.2M530.6,747.8h2.2M530.9,775.2h2.2M531.2,760.6h2.2M531.6,768.3h2.2M531.9,757.2h2.2M532.2,776.7h2.2M532.6,763.9h2.2M532.9,760.8h2.2M533.2,772.6h2.2M533.6,756.4h2.2M533.9,763.8h2.2M534.2,762.3h2.2M534.6,759.3h2.2M534.9,772.2h2.2M535.2,772.5h2.2M535.5,765.3h2.2M535.9,761.1h2.2M536.2,761.1h2.2M536.5,773.7h2.2M536.9,773.0h2.2M537.2,774.3h2.2M537.5,773.3h2.2M537.9,770.0h2.2M538.2,771.2h2.2M538.5,756.9h2.2M538.9,773.1h2.2M539.2,770.4h2.2M539.5,767.2h2.2M539.9,779.7h2.2M540.2,773.8h2.2M540.5,774.8h2.2M540.8,768.1h2.2M541.2,782.0h2.2M541.5,764.6h2.2M541.8,776.7h2.2M542.2,769.8h2.2M542.5,767.4h2.2M542.8,769.9h2.2M543.2,768.0h2.2M543.5,777.4h2.2M543.8,779.3h2.2M544.2,776.2h2.2M544.5,783.0h2.2M544.8,769.3h2.2M545.2,782.6h2.2M545.5,788.3h2.2M545.8,767.9h2.2M546.1,780.4h2.2M546.5,787.3h2.2M546.8,769.3h2.2M547.1,782.8h2.2M547.5,773.0h2.2M547.8,787.4h2.2M548.1,782.8h2.2M548.5,790.4h2.2M548.8,793.6h2.2M549.1,791.4h2.2M549.5,783.8h2.2M549.8,781.3h2.2M550.1,768.3h2.2M550.4,790.1h2.2M550.8,778.8h2.2M551.1,791.8h2.2M551.4,785.1h2.2M551.8,791.5h2.2M552.1,791.7h2.2M552.4,790.7h2.2M552.8,798.0h2.2M553.1,786.7h2.2M553.4,797.6h2.2M553.8,780.6h2.2M554.1,791.5h2.2M554.4,789.0h2.2M554.8,783.6h2.2M555.1,787.7h2.2M555.4,790.1h2.2M555.7,791.4h2.2M556.1,793.9h2.2M556.4,786.3h2.2M556.7,786.5h2.2M557.1,790.3h2.2M557.4,785.9h2.2M557.7,797.3h2.2M558.1,789.2h2.2M558.4,804.3h2.2M558.7,788.2h2.2M559.1,792.3h2.2M559.4,798.3h2.2M559.7,796.0h2.2M560.1,793.3h2.2M560.4,798.2h2.2M560.7,789.4h2.2M561.0,798.0h2.2M561.4,806.2h2.2M561.7,794.8h2.2M562.0,809.0h2.2M562.4,787.8h2.2M562.7,801.8h2.2M563.0,794.0h2.2M563.4,787.1h2.2M563.7,784.9h2.2M564.0,806.9h2.2M564.4,799.3h2.2M564.7,796.7h2.2M565.0,790.0h2.2M565.3,806.7h2.2M565.7,800.6h2.2M566.0,794.4h2.2M566.3,798.4h2.2M566.7,800.0h2.2M567.0,801.7h2.2M567.3,814.0h2.2M567.7,810.6h2.2M568.0,819.8h2.2M568.3,810.6h2.2M568.7,797.7h2.2M569.0,811.1h2.2M569.3,800.6h2.2M569.7,799.4h2.2M570.0,809.4h2.2M570.3,810.3h2.2M570.6,808.1h2.2M571.0,819.9h2.2M571.3,813.7h2.2M571.6,806.2h2.2M572.0,803.5h2.2M572.3,808.4h2.2M572.6,815.5h2.2M573.0,807.1h2.2M573.3,818.0h2.2M573.6,812.6h2.2M574.0,812.9h2.2M574.3,813.1h2.2M574.6,813.9h2.2M574.9,805.0h2.2M575.3,816.5h2.2M575.6,815.6h2.2M575.9,815.6h2.2M576.3,798.8h2.2M576.6,812.3h2.2M576.9,800.2h2.2M577.3,812.9h2.2M577.6,839.1h2.2M577.9,817.3h2.2M578.3,811.4h2.2M578.6,819.9h2.2M578.9,822.0h2.2M579.3,821.8h2.2M579.6,812.0h2.2M579.9,814.7h2.2M580.2,821.6h2.2M580.6,821.6h2.2M580.9,816.0h2.2M581.2,820.8h2.2M581.6,826.5h2.2M581.9,819.1h2.2M582.2,817.7h2.2M582.6,820.5h2.2M582.9,824.3h2.2M583.2,819.1h2.2M583.6,846.5h2.2M583.9,812.1h2.2M584.2,819.1h2.2M584.6,828.3h2.2M584.9,830.3h2.2M585.2,824.1h2.2M585.5,837.9h2.2M585.9,822.0h2.2M586.2,831.2h2.2M586.5,828.1h2.2M586.9,836.6h2.2M587.2,833.7h2.2M587.5,821.6h2.2M587.9,822.9h2.2M588.2,830.0h2.2M588.5,831.6h2.2M588.9,831.8h2.2M589.2,828.5h2.2M589.5,822.7h2.2M589.8,844.4h2.2M590.2,823.3h2.2M590.5,851.2h2.2M590.8,830.5h2.2M591.2,829.6h2.2M591.5,839.7h2.2M591.8,852.2h2.2M592.2,829.8h2.2M592.5,830.5h2.2M592.8,843.2h2.2M593.2,828.1h2.2M593.5,843.5h2.2M593.8,827.3h2.2M594.2,843.0h2.2M594.5,839.1h2.2M594.8,830.5h2.2M595.1,840.2h2.2M595.5,826.5h2.2M595.8,829.2h2.2M596.1,838.4h2.2M596.5,840.7h2.2M596.8,849.3h2.2M597.1,843.5h2.2M597.5,839.9h2.2M597.8,841.8h2.2M598.1,844.7h2.2M598.5,839.4h2.2M598.8,838.1h2.2M599.1,844.7h2.2M599.5,845.3h2.2M599.8,837.6h2.2M600.1,841.8h2.2M600.4,852.6h2.2M600.8,831.6h2.2M601.1,854.7h2.2M601.4,854.7h2.2M601.8,843.5h2.2M602.1,842.7h2.2M602.4,847.1h2.2M602.8,838.6h2.2M603.1,840.2h2.2M603.4,845.3h2.2M603.8,848.6h2.2M604.1,837.6h2.2M604.4,849.6h2.2M604.7,854.0h2.2M605.1,847.4h2.2M605.4,841.6h2.2M605.7,845.0h2.2M606.1,848.6h2.2M606.4,840.2h2.2M606.7,844.7h2.2M607.1,858.7h2.2M607.4,849.3h2.2M607.7,860.3h2.2M608.1,842.4h2.2M608.4,848.6h2.2M608.7,858.0h2.2M609.1,858.0h2.2M609.4,852.6h2.2M609.7,863.6h2.2M610.0,856.5h2.2M610.4,862.3h2.2M610.7,837.1h2.2M611.0,861.9h2.2M611.4,850.6h2.2M611.7,871.8h2.2M612.0,861.9h2.2M612.4,853.6h2.2M612.7,855.0h2.2M613.0,847.7h2.2M613.4,866.6h2.2M613.7,863.2h2.2M614.0,847.7h2.2M614.4,865.7h2.2M614.7,848.6h2.2M615.0,870.4h2.2M615.3,858.0h2.2M615.7,861.9h2.2M616.0,851.2h2.2M616.3,868.9h2.2M616.7,868.9h2.2M617.0,858.0h2.2M617.3,864.9h2.2M617.7,873.9h2.2M618.0,870.4h2.2M618.3,872.3h2.2M618.7,865.3h2.2M619.0,859.9h2.2M619.3,842.4h2.2M619.6,849.9h2.2M620.0,858.3h2.2M620.3,873.4h2.2M620.6,865.7h2.2M621.0,868.5h2.2M621.3,882.9h2.2M621.6,855.7h2.2M622.0,877.6h2.2M622.3,878.2h2.2M622.6,872.8h2.2M623.0,865.3h2.2M623.3,859.9h2.2M623.6,870.4h2.2M624.0,868.5h2.2M624.3,868.0h2.2M624.6,878.8h2.2M624.9,876.0h2.2M625.3,866.2h2.2M625.6,874.9h2.2M625.9,859.1h2.2M626.3,877.6h2.2M626.6,870.4h2.2M626.9,882.9h2.2M627.3,889.6h2.2M627.6,894.0h2.2M627.9,871.8h2.2M628.3,880.5h2.2M628.6,877.6h2.2M628.9,857.6h2.2M629.3,874.4h2.2M629.6,885.5h2.2M629.9,874.4h2.2M630.2,882.3h2.2M630.6,876.0h2.2M630.9,881.7h2.2M631.2,881.7h2.2M631.6,882.3h2.2M631.9,882.9h2.2M632.2,870.9h2.2M632.6,879.9h2.2M632.9,876.0h2.2M633.2,888.2h2.2M633.6,885.5h2.2M633.9,888.9h2.2M634.2,876.5h2.2M634.5,868.5h2.2M634.9,891.0h2.2M635.2,883.6h2.2M635.5,886.1h2.2M635.9,877.1h2.2M636.2,878.8h2.2M636.5,879.3h2.2M636.9,891.7h2.2M637.2,884.8h2.2M637.5,878.2h2.2M637.9,879.3h2.2M638.2,879.9h2.2M638.5,881.1h2.2M638.9,884.2h2.2M639.2,894.8h2.2M639.5,876.0h2.2M639.8,885.5h2.2M640.2,884.8h2.2M640.5,890.3h2.2M640.8,893.2h2.2M641.2,889.6h2.2M641.5,888.2h2.2M641.8,896.3h2.2M642.2,885.5h2.2M642.5,902.3h2.2M642.8,886.8h2.2M643.2,889.6h2.2M643.5,897.2h2.2M643.8,882.3h2.2M644.1,902.3h2.2M644.5,894.8h2.2M644.8,885.5h2.2M645.1,924.8h2.2M645.5,878.2h2.2M645.8,906.1h2.2M646.1,898.0h2.2M646.5,881.1h2.2M646.8,888.2h2.2M647.1,893.2h2.2M647.5,899.7h2.2M647.8,912.3h2.2M648.1,910.2h2.2M648.5,907.1h2.2M648.8,902.3h2.2M649.1,913.5h2.2M649.4,902.3h2.2M649.8,891.7h2.2M650.1,900.5h2.2M650.4,918.2h2.2M650.8,912.3h2.2M651.1,934.1h2.2M651.4,907.1h2.2M651.8,893.2h2.2M652.1,908.1h2.2M652.4,878.2h2.2M652.8,904.2h2.2M653.1,909.1h2.2M653.4,898.8h2.2M653.8,898.0h2.2M654.1,891.7h2.2M654.4,893.2h2.2M654.7,908.1h2.2M655.1,909.1h2.2M655.4,920.7h2.2M655.7,899.7h2.2M656.1,891.0h2.2M656.4,901.4h2.2M656.7,926.2h2.2M657.1,912.3h2.2M657.4,929.2h2.2M657.7,898.8h2.2M658.1,912.3h2.2M658.4,902.3h2.2M658.7,898.8h2.2M659.0,906.1h2.2M659.4,891.0h2.2M659.7,911.2h2.2M660.0,902.3h2.2M660.4,897.2h2.2M660.7,907.1h2.2M661.0,917.0h2.2M661.4,894.0h2.2M661.7,910.2h2.2M662.0,913.5h2.2M662.4,920.7h2.2M662.7,902.3h2.2M663.0,904.2h2.2M663.4,914.6h2.2M663.7,917.0h2.2M664.0,910.2h2.2M664.3,908.1h2.2M664.7,906.1h2.2M665.0,905.1h2.2M665.3,920.7h2.2M665.7,901.4h2.2M666.0,907.1h2.2M666.3,919.4h2.2M666.7,906.1h2.2M667.0,927.7h2.2M667.3,910.2h2.2M667.7,917.0h2.2M668.0,912.3h2.2M668.3,926.2h2.2M668.7,918.2h2.2M669.0,919.4h2.2M669.3,926.2h2.2M669.6,918.2h2.2M670.0,918.2h2.2M670.3,930.8h2.2M670.6,922.1h2.2M671.0,904.2h2.2M671.3,934.1h2.2M671.6,934.1h2.2M672.0,918.2h2.2M672.3,923.4h2.2M672.6,918.2h2.2M673.0,929.2h2.2M673.3,935.8h2.2M673.6,919.4h2.2M673.9,934.1h2.2M674.3,929.2h2.2M674.6,920.7h2.2M674.9,918.2h2.2M675.3,917.0h2.2M675.6,927.7h2.2M675.9,913.5h2.2M676.3,898.0h2.2M676.6,918.2h2.2M676.9,924.8h2.2M677.3,926.2h2.2M677.6,941.4h2.2M677.9,918.2h2.2M678.3,909.1h2.2M678.6,920.7h2.2M678.9,920.7h2.2M679.2,930.8h2.2M679.6,922.1h2.2M679.9,930.8h2.2M680.2,915.8h2.2M680.6,924.8h2.2M680.9,920.7h2.2M681.2,929.2h2.2M681.6,930.8h2.2M681.9,941.4h2.2M682.2,949.8h2.2M682.6,927.7h2.2M682.9,918.2h2.2M683.2,922.1h2.2M683.6,912.3h2.2M683.9,909.1h2.2M684.2,947.6h2.2M684.5,927.7h2.2M684.9,949.8h2.2M685.2,935.8h2.2M685.5,913.5h2.2M685.9,927.7h2.2M686.2,949.8h2.2M686.5,922.1h2.2M686.9,941.4h2.2M687.2,945.4h2.2M687.5,927.7h2.2M687.9,943.3h2.2M688.2,929.2h2.2M688.5,945.4h2.2M688.8,934.1h2.2M689.2,943.3h2.2M689.5,937.6h2.2M689.8,945.4h2.2M690.2,932.4h2.2M690.5,952.2h2.2M690.8,941.4h2.2M691.2,923.4h2.2M691.5,949.8h2.2M691.8,945.4h2.2M692.2,923.4h2.2M692.5,935.8h2.2M692.8,935.8h2.2M693.2,927.7h2.2M693.5,919.4h2.2M693.8,941.4h2.2M694.1,930.8h2.2M694.5,930.8h2.2M694.8,922.1h2.2M695.1,947.6h2.2M695.5,929.2h2.2M695.8,949.8h2.2M696.1,935.8h2.2M696.5,941.4h2.2M696.8,952.2h2.2M697.1,947.6h2.2M697.5,935.8h2.2M697.8,949.8h2.2M698.1,941.4h2.2M698.5,969.3h2.2M698.8,947.6h2.2M699.1,945.4h2.2M699.4,952.2h2.2M699.8,960.1h2.2M700.1,941.4h2.2M700.4,924.8h2.2M700.8,934.1h2.2M701.1,949.8h2.2M701.4,947.6h2.2M701.8,976.6h2.2M702.1,935.8h2.2M702.4,927.7h2.2M702.8,947.6h2.2M703.1,976.6h2.2M703.4,939.4h2.2M703.7,943.3h2.2M704.1,945.4h2.2M704.4,945.4h2.2M704.7,947.6h2.2M705.1,960.1h2.2M705.4,945.4h2.2M705.7,939.4h2.2M706.1,969.3h2.2M706.4,934.1h2.2M706.7,943.3h2.2M707.1,945.4h2.2M707.4,918.2h2.2M707.7,952.2h2.2M708.1,957.3h2.2M708.4,966.0h2.2M708.7,919.4h2.2M709.0,945.4h2.2M709.4,949.8h2.2M709.7,966.0h2.2M710.0,952.2h2.2M710.4,957.3h2.2M710.7,972.8h2.2M711.0,957.3h2.2M711.4,966.0h2.2M711.7,972.8h2.2M712.0,937.6h2.2M712.4,949.8h2.2M712.7,943.3h2.2M713.0,939.4h2.2M713.3,947.6h2.2M713.7,957.3h2.2M714.0,989.9h2.2M714.3,941.4h2.2M714.7,939.4h2.2M715.0,966.0h2.2M715.3,954.7h2.2M715.7,960.1h2.2M716.0,945.4h2.2M716.3,943.3h2.2M716.7,943.3h2.2M717.0,937.6h2.2M717.3,941.4h2.2M717.7,941.4h2.2M718.0,969.3h2.2M718.3,963.0h2.2M718.6,954.7h2.2M719.0,943.3h2.2M719.3,957.3h2.2M719.6,969.3h2.2M720.0,952.2h2.2M720.3,963.0h2.2M720.6,954.7h2.2M721.0,947.6h2.2M721.3,966.0h2.2M721.6,960.1h2.2M722.0,954.7h2.2M722.3,969.3h2.2M722.6,945.4h2.2M723.0,972.8h2.2M723.3,949.8h2.2M723.6,963.0h2.2M723.9,972.8h2.2M724.3,989.9h2.2M724.6,960.1h2.2M724.9,934.1h2.2M725.3,963.0h2.2M725.6,960.1h2.2M725.9,963.0h2.2M726.3,960.1h2.2M726.6,939.4h2.2M726.9,976.6h2.2M727.3,985.1h2.2M727.6,952.2h2.2M727.9,960.1h2.2M728.2,947.6h2.2M728.6,935.8h2.2M728.9,972.8h2.2M729.2,943.3h2.2M729.6,952.2h2.2M729.9,945.4h2.2M730.2,949.8h2.2M730.6,954.7h2.2M730.9,960.1h2.2M731.2,972.8h2.2M731.6,954.7h2.2M731.9,1001.3h2.2M732.2,966.0h2.2M732.6,966.0h2.2M732.9,957.3h2.2M733.2,985.1h2.2M733.5,960.1h2.2M733.9,963.0h2.2M734.2,972.8h2.2M734.5,963.0h2.2M734.9,960.1h2.2M735.2,972.8h2.2M735.5,985.1h2.2M735.9,989.9h2.2M736.2,1001.3h2.2M736.5,976.6h2.2M736.9,963.0h2.2M737.2,957.3h2.2M737.5,960.1h2.2M737.9,963.0h2.2M738.2,966.0h2.2M738.5,963.0h2.2M738.8,954.7h2.2M739.2,966.0h2.2M739.5,957.3h2.2M739.8,954.7h2.2M740.2,969.3h2.2M740.5,947.6h2.2M740.8,980.7h2.2M741.2,972.8h2.2M741.5,954.7h2.2M741.8,980.7h2.2M742.2,947.6h2.2M742.5,972.8h2.2M742.8,963.0h2.2M743.1,966.0h2.2M743.5,966.0h2.2M743.8,989.9h2.2M744.1,980.7h2.2M744.5,969.3h2.2M744.8,963.0h2.2M745.1,976.6h2.2M745.5,952.2h2.2M745.8,969.3h2.2M746.1,985.1h2.2M746.5,976.6h2.2M746.8,952.2h2.2M747.1,985.1h2.2M747.5,945.4h2.2M747.8,966.0h2.2M748.1,960.1h2.2M748.4,952.2h2.2M748.8,957.3h2.2M749.1,966.0h2.2M749.4,960.1h2.2M749.8,976.6h2.2M750.1,989.9h2.2M750.4,980.7h2.2M750.8,1001.3h2.2M751.1,960.1h2.2M751.4,972.8h2.2M751.8,972.8h2.2M752.1,952.2h2.2M752.4,969.3h2.2M752.8,1001.3h2.2M753.1,972.8h2.2M753.4,957.3h2.2M753.7,989.9h2.2M754.1,966.0h2.2M754.4,976.6h2.2M754.7,963.0h2.2M755.1,947.6h2.2M755.4,952.2h2.2M755.7,1001.3h2.2M756.1,976.6h2.2M756.4,985.1h2.2M756.7,954.7h2.2M757.1,957.3h2.2M757.4,969.3h2.2M757.7,985.1h2.2M758.0,972.8h2.2M758.4,1001.3h2.2M758.7,985.1h2.2M759.0,969.3h2.2M759.4,976.6h2.2M759.7,963.0h2.2M760.0,972.8h2.2M760.4,949.8h2.2M760.7,972.8h2.2M761.0,969.3h2.2M761.4,989.9h2.2M761.7,966.0h2.2M762.0,952.2h2.2M762.4,976.6h2.2M762.7,954.7h2.2M763.0,954.7h2.2M763.3,985.1h2.2M763.7,985.1h2.2M764.0,963.0h2.2M764.3,949.8h2.2M764.7,989.9h2.2M765.0,960.1h2.2M765.3,966.0h2.2M765.7,976.6h2.2M766.0,1001.3h2.2M766.3,966.0h2.2M766.7,960.1h2.2M767.0,1001.3h2.2M767.3,976.6h2.2M767.6,980.7h2.2M768.0,976.6h2.2M768.3,963.0h2.2M768.6,972.8h2.2M769.0,976.6h2.2M769.3,985.1h2.2M769.6,995.3h2.2M770.0,995.3h2.2M770.3,969.3h2.2M770.6,972.8h2.2M771.0,1001.3h2.2M771.3,963.0h2.2M771.6,976.6h2.2M772.0,985.1h2.2M772.3,952.2h2.2M772.6,995.3h2.2M772.9,995.3h2.2M773.3,1001.3h2.2M773.6,976.6h2.2M773.9,989.9h2.2M774.3,969.3h2.2M774.6,995.3h2.2M774.9,972.8h2.2M775.3,972.8h2.2M775.6,960.1h2.2M775.9,985.1h2.2M776.3,976.6h2.2M776.6,952.2h2.2M776.9,976.6h2.2M777.3,972.8h2.2M777.6,1001.3h2.2M777.9,972.8h2.2M778.2,960.1h2.2M778.6,960.1h2.2M778.9,989.9h2.2M779.2,989.9h2.2M779.6,980.7h2.2M779.9,1001.3h2.2M780.2,972.8h2.2M780.6,976.6h2.2M780.9,976.6h2.2M781.2,969.3h2.2M781.6,976.6h2.2M781.9,1001.3h2.2M782.2,1001.3h2.2M782.5,980.7h2.2M782.9,972.8h2.2M783.2,989.9h2.2M783.5,969.3h2.2M783.9,985.1h2.2M784.2,980.7h2.2M784.5,976.6h2.2M784.9,1001.3h2.2M785.2,972.8h2.2M785.5,985.1h2.2M785.9,976.6h2.2M786.2,995.3h2.2M786.5,957.3h2.2M786.9,966.0h2.2M787.2,1001.3h2.2M787.5,980.7h2.2M787.8,963.0h2.2M788.2,980.7h2.2M788.5,1001.3h2.2M788.8,1001.3h2.2M789.2,976.6h2.2M789.5,969.3h2.2M789.8,1001.3h2.2M790.2,963.0h2.2M790.5,972.8h2.2M790.8,972.8h2.2M791.2,972.8h2.2M791.5,976.6h2.2M791.8,976.6h2.2M792.2,985.1h2.2M792.5,972.8h2.2M792.8,995.3h2.2M793.1,1001.3h2.2M793.5,995.3h2.2M793.8,980.7h2.2M794.1,960.1h2.2M794.5,976.6h2.2M794.8,980.7h2.2M795.1,980.7h2.2M795.5,989.9h2.2M795.8,985.1h2.2M796.1,960.1h2.2M796.5,985.1h2.2M796.8,980.7h2.2M797.1,966.0h2.2M797.4,969.3h2.2M797.8,989.9h2.2M798.1,995.3h2.2M798.4,976.6h2.2M798.8,954.7h2.2M799.1,972.8h2.2M799.4,989.9h2.2M799.8,980.7h2.2M800.1,1001.3h2.2M800.4,989.9h2.2M800.8,963.0h2.2M801.1,989.9h2.2M801.4,989.9h2.2M801.8,980.7h2.2M802.1,1001.3h2.2M802.4,995.3h2.2M802.7,980.7h2.2M803.1,1001.3h2.2M803.4,969.3h2.2M803.7,1001.3h2.2M804.1,995.3h2.2M804.4,1001.3h2.2M804.7,969.3h2.2M805.1,976.6h2.2M805.4,995.3h2.2M805.7,989.9h2.2M806.1,985.1h2.2M806.4,995.3h2.2M806.7,995.3h2.2M807.1,989.9h2.2M807.4,972.8h2.2M807.7,985.1h2.2M808.0,985.1h2.2M808.4,980.7h2.2M808.7,976.6h2.2M809.0,1001.3h2.2M809.4,1001.3h2.2M809.7,995.3h2.2M810.0,972.8h2.2M810.4,966.0h2.2M810.7,980.7h2.2M811.0,972.8h2.2M811.4,966.0h2.2M811.7,980.7h2.2M812.0,976.6h2.2M812.3,976.6h2.2M812.7,980.7h2.2M813.0,969.3h2.2M813.3,1001.3h2.2M813.7,1001.3h2.2M814.0,1001.3h2.2" stroke="#a63048" stroke-width="1.6" fill="none" stroke-opacity="0.65"/>
<path d="M513.2,990.5h2.2M513.1,955.2h2.2M516.4,971.8h2.2M513.6,955.2h2.2M513.9,985.1h2.2M511.6,985.1h2.2M514.2,955.2h2.2" stroke="#8cc2ea" stroke-width="1.6" fill="none" stroke-opacity="0.6"/>
<path d="M512.7,990.5h2.2M512.2,985.1h2.2M516.5,990.5h2.2M513.8,996.4h2.2M515.0,990.5h2.2M515.1,985.1h2.2M517.2,971.8h2.2" stroke="#a63048" stroke-width="1.6" fill="none" stroke-opacity="0.6"/>
<path d="M518.8,868.0h2.2M519.4,812.1h2.2M518.8,776.9h2.2M521.8,929.2h2.2" stroke="#b0b8c8" stroke-width="1.6" fill="none" stroke-opacity="0.6"/>
<path d="M523.6,750.9 L747.6,989.6" fill="none" stroke="#8fbfe4" stroke-width="1.1" stroke-linejoin="round" />
<path d="M523.6,750.9 L736.7,992.8" fill="none" stroke="#9a2a3c" stroke-width="1.5" stroke-linejoin="round" />
</g>
<path d="M815.2,731 L482.8,731 L482.8,1020.6 L827.9,1020.6 L827.9,748.4" fill="none" stroke="#262626" stroke-width="1.8" stroke-linecap="square"/>
<line x1="482.8" y1="750.9" x2="487.8" y2="750.9" stroke="#262626" stroke-width="1.5"/><line x1="482.8" y1="868" x2="487.8" y2="868" stroke="#262626" stroke-width="1.5"/><line x1="482.8" y1="985.1" x2="487.8" y2="985.1" stroke="#262626" stroke-width="1.5"/>
<line x1="482.8" y1="786.2" x2="485.8" y2="786.2" stroke="#262626" stroke-width="1.5"/><line x1="482.8" y1="903.3" x2="485.8" y2="903.3" stroke="#262626" stroke-width="1.5"/><line x1="482.8" y1="1020.4" x2="485.8" y2="1020.4" stroke="#262626" stroke-width="1.5"/>
<line x1="512.8" y1="1020.6" x2="512.8" y2="1015.6" stroke="#262626" stroke-width="1.5"/><line x1="573" y1="1020.6" x2="573" y2="1015.6" stroke="#262626" stroke-width="1.5"/><line x1="633.2" y1="1020.6" x2="633.2" y2="1015.6" stroke="#262626" stroke-width="1.5"/><line x1="693.4" y1="1020.6" x2="693.4" y2="1015.6" stroke="#262626" stroke-width="1.5"/><line x1="753.6" y1="1020.6" x2="753.6" y2="1015.6" stroke="#262626" stroke-width="1.5"/><line x1="813.8" y1="1020.6" x2="813.8" y2="1015.6" stroke="#262626" stroke-width="1.5"/>
<line x1="542.9" y1="1020.6" x2="542.9" y2="1017.6" stroke="#262626" stroke-width="1.5"/><line x1="603.1" y1="1020.6" x2="603.1" y2="1017.6" stroke="#262626" stroke-width="1.5"/><line x1="663.3" y1="1020.6" x2="663.3" y2="1017.6" stroke="#262626" stroke-width="1.5"/><line x1="723.5" y1="1020.6" x2="723.5" y2="1017.6" stroke="#262626" stroke-width="1.5"/><line x1="783.7" y1="1020.6" x2="783.7" y2="1017.6" stroke="#262626" stroke-width="1.5"/>
<text x="477" y="755.2" font-size="12" fill="#1c1c1c" text-anchor="end" font-weight="bold" font-family="'Liberation Sans', Arial, sans-serif" >1</text>
<text x="477" y="872.3" font-size="12" fill="#1c1c1c" text-anchor="end" font-weight="bold" font-family="'Liberation Sans', Arial, sans-serif" >0.1</text>
<text x="477" y="989.4" font-size="12" fill="#1c1c1c" text-anchor="end" font-weight="bold" font-family="'Liberation Sans', Arial, sans-serif" >0.01</text>
<text x="512.8" y="1036.3" font-size="12.6" fill="#1c1c1c" text-anchor="middle" font-weight="bold" font-family="'Liberation Sans', Arial, sans-serif" >0</text>
<text x="573" y="1036.3" font-size="12.6" fill="#1c1c1c" text-anchor="middle" font-weight="bold" font-family="'Liberation Sans', Arial, sans-serif" >20</text>
<text x="633.2" y="1036.3" font-size="12.6" fill="#1c1c1c" text-anchor="middle" font-weight="bold" font-family="'Liberation Sans', Arial, sans-serif" >40</text>
<text x="693.4" y="1036.3" font-size="12.6" fill="#1c1c1c" text-anchor="middle" font-weight="bold" font-family="'Liberation Sans', Arial, sans-serif" >60</text>
<text x="753.6" y="1036.3" font-size="12.6" fill="#1c1c1c" text-anchor="middle" font-weight="bold" font-family="'Liberation Sans', Arial, sans-serif" >80</text>
<text x="813.8" y="1036.3" font-size="12.6" fill="#1c1c1c" text-anchor="middle" font-weight="bold" font-family="'Liberation Sans', Arial, sans-serif" >100</text>
<text x="651.5" y="1057.5" font-size="17.4" fill="#1c1c1c" text-anchor="middle" font-weight="bold" font-family="'Liberation Sans', Arial, sans-serif" >Time (ns)</text>
<text transform="translate(451,876) scale(1.0,1) rotate(-90) scale(1.0,1)" x="0" y="0" font-size="17.8" fill="#1c1c1c" text-anchor="middle" font-weight="bold" font-family="'Liberation Sans', Arial, sans-serif" >Normalize Counts</text>
<text x="492" y="746.8" font-size="12.8" fill="#1c1c1c" text-anchor="start" font-weight="bold" font-family="'Liberation Sans', Arial, sans-serif" >Lifetime</text>
<path d="M693.3,746.0h2.2M697.3,746.0h2.2M701.3,746.0h2.2" stroke="#8cc2ea" stroke-width="1.6" fill="none" stroke-opacity="0.8"/>
<path d="M693.3,764.3h2.2M697.3,764.3h2.2M701.3,764.3h2.2" stroke="#a63048" stroke-width="1.6" fill="none" stroke-opacity="0.7"/>
<text x="714.4" y="751" font-size="12.8" fill="#1c1c1c" text-anchor="start" font-weight="bold" font-family="'Liberation Sans', Arial, sans-serif" >Off-resonance (A)</text>
<text x="714.4" y="769.3" font-size="12.8" fill="#1c1c1c" text-anchor="start" font-weight="bold" font-family="'Liberation Sans', Arial, sans-serif" >On-resonance (C)</text>
<text x="627.3" y="845.7" font-size="11.6" fill="#1c1c1c" font-weight="bold" font-family="'Liberation Sans', Arial, sans-serif">τ<tspan font-size="7" dy="2.5">off</tspan><tspan dy="-2.5"> = 15.85 ns</tspan></text>
<text x="557.2" y="899" font-size="11.6" fill="#1c1c1c" font-weight="bold" font-family="'Liberation Sans', Arial, sans-serif">τ<tspan font-size="7" dy="2.5">on</tspan><tspan dy="-2.5"> = 13.64 ns</tspan></text>
<text x="418.7" y="732.5" font-size="40" fill="#000" text-anchor="start" font-weight="normal" font-family="'Liberation Sans', Arial, sans-serif" >(h)</text>
<defs><clipPath id="clipI"><rect x="909.7" y="726.4" width="361.3" height="288"/></clipPath></defs>
<g clip-path="url(#clipI)">
<circle cx="939.5" cy="820.3" r="2.2" fill="#f4a64c"/><circle cx="942.5" cy="817.8" r="2.2" fill="#f4a64c"/><circle cx="945.5" cy="816.5" r="2.2" fill="#f4a64c"/><circle cx="948.5" cy="822.5" r="2.2" fill="#f4a64c"/><circle cx="951.5" cy="815.8" r="2.2" fill="#f4a64c"/><circle cx="954.5" cy="817.8" r="2.2" fill="#f4a64c"/><circle cx="957.5" cy="815.8" r="2.2" fill="#f4a64c"/><circle cx="960.6" cy="817.7" r="2.2" fill="#f4a64c"/><circle cx="963.6" cy="814.3" r="2.2" fill="#f4a64c"/><circle cx="966.6" cy="822.3" r="2.2" fill="#f4a64c"/><circle cx="969.6" cy="811.8" r="2.2" fill="#f4a64c"/><circle cx="972.6" cy="813.9" r="2.2" fill="#f4a64c"/><circle cx="975.6" cy="820.7" r="2.2" fill="#f4a64c"/><circle cx="978.6" cy="815.8" r="2.2" fill="#f4a64c"/><circle cx="981.6" cy="816.4" r="2.2" fill="#f4a64c"/><circle cx="984.6" cy="824.6" r="2.2" fill="#f4a64c"/><circle cx="987.6" cy="815.4" r="2.2" fill="#f4a64c"/><circle cx="990.6" cy="819.6" r="2.2" fill="#f4a64c"/><circle cx="993.6" cy="818" r="2.2" fill="#f4a64c"/><circle cx="996.7" cy="819" r="2.2" fill="#f4a64c"/><circle cx="999.7" cy="817.9" r="2.2" fill="#f4a64c"/><circle cx="1002.7" cy="815.6" r="2.2" fill="#f4a64c"/><circle cx="1005.7" cy="815.2" r="2.2" fill="#f4a64c"/><circle cx="1008.7" cy="821.2" r="2.2" fill="#f4a64c"/><circle cx="1011.7" cy="815.9" r="2.2" fill="#f4a64c"/><circle cx="1014.7" cy="819.8" r="2.2" fill="#f4a64c"/><circle cx="1017.7" cy="819.3" r="2.2" fill="#f4a64c"/><circle cx="1020.7" cy="815.6" r="2.2" fill="#f4a64c"/><circle cx="1023.7" cy="810.8" r="2.2" fill="#f4a64c"/><circle cx="1026.7" cy="811.5" r="2.2" fill="#f4a64c"/><circle cx="1029.7" cy="815.9" r="2.2" fill="#f4a64c"/><circle cx="1032.7" cy="815.6" r="2.2" fill="#f4a64c"/><circle cx="1035.8" cy="814.7" r="2.2" fill="#f4a64c"/><circle cx="1038.8" cy="808" r="2.2" fill="#f4a64c"/><circle cx="1041.8" cy="796.3" r="2.2" fill="#f4a64c"/><circle cx="1044.8" cy="796" r="2.2" fill="#f4a64c"/><circle cx="1047.8" cy="807.3" r="2.2" fill="#f4a64c"/><circle cx="1050.8" cy="814" r="2.2" fill="#f4a64c"/><circle cx="1053.8" cy="811.3" r="2.2" fill="#f4a64c"/><circle cx="1056.8" cy="825.7" r="2.2" fill="#f4a64c"/><circle cx="1059.8" cy="826.7" r="2.2" fill="#f4a64c"/><circle cx="1062.8" cy="819.8" r="2.2" fill="#f4a64c"/><circle cx="1065.8" cy="816.9" r="2.2" fill="#f4a64c"/><circle cx="1068.8" cy="821.3" r="2.2" fill="#f4a64c"/><circle cx="1071.9" cy="818.4" r="2.2" fill="#f4a64c"/><circle cx="1074.9" cy="824.9" r="2.2" fill="#f4a64c"/><circle cx="1077.9" cy="825.6" r="2.2" fill="#f4a64c"/><circle cx="1080.9" cy="823.9" r="2.2" fill="#f4a64c"/><circle cx="1083.9" cy="818.3" r="2.2" fill="#f4a64c"/><circle cx="1086.9" cy="819.3" r="2.2" fill="#f4a64c"/><circle cx="1089.9" cy="825" r="2.2" fill="#f4a64c"/><circle cx="1092.9" cy="822" r="2.2" fill="#f4a64c"/><circle cx="1095.9" cy="825.5" r="2.2" fill="#f4a64c"/><circle cx="1098.9" cy="823.2" r="2.2" fill="#f4a64c"/><circle cx="1101.9" cy="827.7" r="2.2" fill="#f4a64c"/><circle cx="1104.9" cy="823.8" r="2.2" fill="#f4a64c"/><circle cx="1107.9" cy="826.6" r="2.2" fill="#f4a64c"/><circle cx="1111" cy="824" r="2.2" fill="#f4a64c"/><circle cx="1114" cy="826.5" r="2.2" fill="#f4a64c"/><circle cx="1117" cy="827.2" r="2.2" fill="#f4a64c"/><circle cx="1120" cy="823.7" r="2.2" fill="#f4a64c"/><circle cx="1123" cy="825.6" r="2.2" fill="#f4a64c"/><circle cx="1126" cy="824.5" r="2.2" fill="#f4a64c"/><circle cx="1129" cy="826.7" r="2.2" fill="#f4a64c"/><circle cx="1132" cy="823.5" r="2.2" fill="#f4a64c"/><circle cx="1135" cy="830.3" r="2.2" fill="#f4a64c"/><circle cx="1138" cy="826.2" r="2.2" fill="#f4a64c"/><circle cx="1141" cy="827.2" r="2.2" fill="#f4a64c"/><circle cx="1144" cy="838.7" r="2.2" fill="#f4a64c"/><circle cx="1147.1" cy="840" r="2.2" fill="#f4a64c"/><circle cx="1150.1" cy="854.3" r="2.2" fill="#f4a64c"/><circle cx="1153.1" cy="882.4" r="2.2" fill="#f4a64c"/><circle cx="1156.1" cy="902.7" r="2.2" fill="#f4a64c"/><circle cx="1159.1" cy="890.2" r="2.2" fill="#f4a64c"/><circle cx="1162.1" cy="862.5" r="2.2" fill="#f4a64c"/><circle cx="1165.1" cy="839.5" r="2.2" fill="#f4a64c"/><circle cx="1168.1" cy="834.9" r="2.2" fill="#f4a64c"/><circle cx="1171.1" cy="828.6" r="2.2" fill="#f4a64c"/><circle cx="1174.1" cy="829.1" r="2.2" fill="#f4a64c"/><circle cx="1177.1" cy="828.7" r="2.2" fill="#f4a64c"/><circle cx="1180.1" cy="822.9" r="2.2" fill="#f4a64c"/><circle cx="1183.1" cy="827.5" r="2.2" fill="#f4a64c"/><circle cx="1186.2" cy="823.2" r="2.2" fill="#f4a64c"/><circle cx="1189.2" cy="819.8" r="2.2" fill="#f4a64c"/><circle cx="1192.2" cy="821.2" r="2.2" fill="#f4a64c"/><circle cx="1195.2" cy="819" r="2.2" fill="#f4a64c"/><circle cx="1198.2" cy="822.4" r="2.2" fill="#f4a64c"/><circle cx="1201.2" cy="818.1" r="2.2" fill="#f4a64c"/><circle cx="1204.2" cy="818.7" r="2.2" fill="#f4a64c"/><circle cx="1207.2" cy="826.4" r="2.2" fill="#f4a64c"/><circle cx="1210.2" cy="824" r="2.2" fill="#f4a64c"/><circle cx="1213.2" cy="822.6" r="2.2" fill="#f4a64c"/><circle cx="1216.2" cy="817.2" r="2.2" fill="#f4a64c"/><circle cx="1219.2" cy="818.5" r="2.2" fill="#f4a64c"/><circle cx="1222.3" cy="818.5" r="2.2" fill="#f4a64c"/><circle cx="1225.3" cy="818.8" r="2.2" fill="#f4a64c"/><circle cx="1228.3" cy="817" r="2.2" fill="#f4a64c"/><circle cx="1231.3" cy="815.8" r="2.2" fill="#f4a64c"/><circle cx="1234.3" cy="821.5" r="2.2" fill="#f4a64c"/><circle cx="1237.3" cy="825.4" r="2.2" fill="#f4a64c"/><circle cx="1240.3" cy="816.7" r="2.2" fill="#f4a64c"/>
<circle cx="939.5" cy="811.8" r="2.2" fill="#5aa8df"/><circle cx="942.5" cy="813" r="2.2" fill="#5aa8df"/><circle cx="945.5" cy="819" r="2.2" fill="#5aa8df"/><circle cx="948.5" cy="813.8" r="2.2" fill="#5aa8df"/><circle cx="951.5" cy="823.8" r="2.2" fill="#5aa8df"/><circle cx="954.5" cy="832.8" r="2.2" fill="#5aa8df"/><circle cx="957.5" cy="805.8" r="2.2" fill="#5aa8df"/><circle cx="960.6" cy="815" r="2.2" fill="#5aa8df"/><circle cx="963.6" cy="834.5" r="2.2" fill="#5aa8df"/><circle cx="966.6" cy="826.7" r="2.2" fill="#5aa8df"/><circle cx="969.6" cy="823.2" r="2.2" fill="#5aa8df"/><circle cx="972.6" cy="815.7" r="2.2" fill="#5aa8df"/><circle cx="975.6" cy="808" r="2.2" fill="#5aa8df"/><circle cx="978.6" cy="815.6" r="2.2" fill="#5aa8df"/><circle cx="981.6" cy="821" r="2.2" fill="#5aa8df"/><circle cx="984.6" cy="813.7" r="2.2" fill="#5aa8df"/><circle cx="987.6" cy="818.6" r="2.2" fill="#5aa8df"/><circle cx="990.6" cy="815" r="2.2" fill="#5aa8df"/><circle cx="993.6" cy="820.9" r="2.2" fill="#5aa8df"/><circle cx="996.7" cy="824.5" r="2.2" fill="#5aa8df"/><circle cx="999.7" cy="804.7" r="2.2" fill="#5aa8df"/><circle cx="1002.7" cy="816.4" r="2.2" fill="#5aa8df"/><circle cx="1005.7" cy="812.4" r="2.2" fill="#5aa8df"/><circle cx="1008.7" cy="817.4" r="2.2" fill="#5aa8df"/><circle cx="1011.7" cy="816.5" r="2.2" fill="#5aa8df"/><circle cx="1014.7" cy="814.6" r="2.2" fill="#5aa8df"/><circle cx="1017.7" cy="806.5" r="2.2" fill="#5aa8df"/><circle cx="1020.7" cy="801.9" r="2.2" fill="#5aa8df"/><circle cx="1023.7" cy="806.8" r="2.2" fill="#5aa8df"/><circle cx="1026.7" cy="814.9" r="2.2" fill="#5aa8df"/><circle cx="1029.7" cy="788.6" r="2.2" fill="#5aa8df"/><circle cx="1032.7" cy="802.5" r="2.2" fill="#5aa8df"/><circle cx="1035.8" cy="799.6" r="2.2" fill="#5aa8df"/><circle cx="1038.8" cy="806.3" r="2.2" fill="#5aa8df"/><circle cx="1041.8" cy="790.3" r="2.2" fill="#5aa8df"/><circle cx="1044.8" cy="778.1" r="2.2" fill="#5aa8df"/><circle cx="1047.8" cy="818" r="2.2" fill="#5aa8df"/><circle cx="1050.8" cy="818.9" r="2.2" fill="#5aa8df"/><circle cx="1053.8" cy="812.9" r="2.2" fill="#5aa8df"/><circle cx="1056.8" cy="798.9" r="2.2" fill="#5aa8df"/><circle cx="1059.8" cy="815.1" r="2.2" fill="#5aa8df"/><circle cx="1062.8" cy="827.1" r="2.2" fill="#5aa8df"/><circle cx="1065.8" cy="829.1" r="2.2" fill="#5aa8df"/><circle cx="1068.8" cy="812.8" r="2.2" fill="#5aa8df"/><circle cx="1071.9" cy="827.1" r="2.2" fill="#5aa8df"/><circle cx="1074.9" cy="824.1" r="2.2" fill="#5aa8df"/><circle cx="1077.9" cy="806.9" r="2.2" fill="#5aa8df"/><circle cx="1080.9" cy="822.2" r="2.2" fill="#5aa8df"/><circle cx="1083.9" cy="826" r="2.2" fill="#5aa8df"/><circle cx="1086.9" cy="829.9" r="2.2" fill="#5aa8df"/><circle cx="1089.9" cy="814.3" r="2.2" fill="#5aa8df"/><circle cx="1092.9" cy="814.9" r="2.2" fill="#5aa8df"/><circle cx="1095.9" cy="830.8" r="2.2" fill="#5aa8df"/><circle cx="1098.9" cy="836.9" r="2.2" fill="#5aa8df"/><circle cx="1101.9" cy="827.3" r="2.2" fill="#5aa8df"/><circle cx="1104.9" cy="816.1" r="2.2" fill="#5aa8df"/><circle cx="1107.9" cy="823.3" r="2.2" fill="#5aa8df"/><circle cx="1111" cy="836.3" r="2.2" fill="#5aa8df"/><circle cx="1114" cy="824.5" r="2.2" fill="#5aa8df"/><circle cx="1117" cy="821.2" r="2.2" fill="#5aa8df"/><circle cx="1120" cy="827.5" r="2.2" fill="#5aa8df"/><circle cx="1123" cy="826.2" r="2.2" fill="#5aa8df"/><circle cx="1126" cy="827.8" r="2.2" fill="#5aa8df"/><circle cx="1129" cy="832.4" r="2.2" fill="#5aa8df"/><circle cx="1132" cy="834.7" r="2.2" fill="#5aa8df"/><circle cx="1135" cy="842" r="2.2" fill="#5aa8df"/><circle cx="1138" cy="843.6" r="2.2" fill="#5aa8df"/><circle cx="1141" cy="852.5" r="2.2" fill="#5aa8df"/><circle cx="1144" cy="843.7" r="2.2" fill="#5aa8df"/><circle cx="1147.1" cy="856.8" r="2.2" fill="#5aa8df"/><circle cx="1150.1" cy="883" r="2.2" fill="#5aa8df"/><circle cx="1153.1" cy="912.8" r="2.2" fill="#5aa8df"/><circle cx="1156.1" cy="935.7" r="2.2" fill="#5aa8df"/><circle cx="1159.1" cy="921.9" r="2.2" fill="#5aa8df"/><circle cx="1162.1" cy="881.6" r="2.2" fill="#5aa8df"/><circle cx="1165.1" cy="862.4" r="2.2" fill="#5aa8df"/><circle cx="1168.1" cy="847.8" r="2.2" fill="#5aa8df"/><circle cx="1171.1" cy="854.1" r="2.2" fill="#5aa8df"/><circle cx="1174.1" cy="837" r="2.2" fill="#5aa8df"/><circle cx="1177.1" cy="826.4" r="2.2" fill="#5aa8df"/><circle cx="1180.1" cy="830" r="2.2" fill="#5aa8df"/><circle cx="1183.1" cy="832.2" r="2.2" fill="#5aa8df"/><circle cx="1186.2" cy="837" r="2.2" fill="#5aa8df"/><circle cx="1189.2" cy="828.8" r="2.2" fill="#5aa8df"/><circle cx="1192.2" cy="812.1" r="2.2" fill="#5aa8df"/><circle cx="1195.2" cy="827.2" r="2.2" fill="#5aa8df"/><circle cx="1198.2" cy="813.9" r="2.2" fill="#5aa8df"/><circle cx="1201.2" cy="825.3" r="2.2" fill="#5aa8df"/><circle cx="1204.2" cy="813.2" r="2.2" fill="#5aa8df"/><circle cx="1207.2" cy="825.1" r="2.2" fill="#5aa8df"/><circle cx="1210.2" cy="817.9" r="2.2" fill="#5aa8df"/><circle cx="1213.2" cy="815.6" r="2.2" fill="#5aa8df"/><circle cx="1216.2" cy="815.7" r="2.2" fill="#5aa8df"/><circle cx="1219.2" cy="827.5" r="2.2" fill="#5aa8df"/><circle cx="1222.3" cy="822.8" r="2.2" fill="#5aa8df"/><circle cx="1225.3" cy="826.7" r="2.2" fill="#5aa8df"/><circle cx="1228.3" cy="820.9" r="2.2" fill="#5aa8df"/><circle cx="1231.3" cy="822.3" r="2.2" fill="#5aa8df"/><circle cx="1234.3" cy="821.7" r="2.2" fill="#5aa8df"/><circle cx="1237.3" cy="815" r="2.2" fill="#5aa8df"/><circle cx="1240.3" cy="827.6" r="2.2" fill="#5aa8df"/>
<circle cx="939.5" cy="814.5" r="2.2" fill="#7c1428"/><circle cx="942.5" cy="824.9" r="2.2" fill="#7c1428"/><circle cx="945.5" cy="812.4" r="2.2" fill="#7c1428"/><circle cx="948.5" cy="818.3" r="2.2" fill="#7c1428"/><circle cx="951.5" cy="835.7" r="2.2" fill="#7c1428"/><circle cx="954.5" cy="807.9" r="2.2" fill="#7c1428"/><circle cx="957.5" cy="819.8" r="2.2" fill="#7c1428"/><circle cx="960.6" cy="812" r="2.2" fill="#7c1428"/><circle cx="963.6" cy="798.8" r="2.2" fill="#7c1428"/><circle cx="966.6" cy="815.6" r="2.2" fill="#7c1428"/><circle cx="969.6" cy="830" r="2.2" fill="#7c1428"/><circle cx="972.6" cy="825.6" r="2.2" fill="#7c1428"/><circle cx="975.6" cy="807" r="2.2" fill="#7c1428"/><circle cx="978.6" cy="833.4" r="2.2" fill="#7c1428"/><circle cx="981.6" cy="814.5" r="2.2" fill="#7c1428"/><circle cx="984.6" cy="812.8" r="2.2" fill="#7c1428"/><circle cx="987.6" cy="828.7" r="2.2" fill="#7c1428"/><circle cx="990.6" cy="813.8" r="2.2" fill="#7c1428"/><circle cx="993.6" cy="808.9" r="2.2" fill="#7c1428"/><circle cx="996.7" cy="822.5" r="2.2" fill="#7c1428"/><circle cx="999.7" cy="818.5" r="2.2" fill="#7c1428"/><circle cx="1002.7" cy="806.6" r="2.2" fill="#7c1428"/><circle cx="1005.7" cy="825.7" r="2.2" fill="#7c1428"/><circle cx="1008.7" cy="820.5" r="2.2" fill="#7c1428"/><circle cx="1011.7" cy="800" r="2.2" fill="#7c1428"/><circle cx="1014.7" cy="808.9" r="2.2" fill="#7c1428"/><circle cx="1017.7" cy="824.7" r="2.2" fill="#7c1428"/><circle cx="1020.7" cy="808.9" r="2.2" fill="#7c1428"/><circle cx="1023.7" cy="787.7" r="2.2" fill="#7c1428"/><circle cx="1026.7" cy="824.5" r="2.2" fill="#7c1428"/><circle cx="1029.7" cy="798.6" r="2.2" fill="#7c1428"/><circle cx="1032.7" cy="797.8" r="2.2" fill="#7c1428"/><circle cx="1035.8" cy="805.2" r="2.2" fill="#7c1428"/><circle cx="1038.8" cy="790.5" r="2.2" fill="#7c1428"/><circle cx="1041.8" cy="786.6" r="2.2" fill="#7c1428"/><circle cx="1044.8" cy="758.8" r="2.2" fill="#7c1428"/><circle cx="1047.8" cy="781.9" r="2.2" fill="#7c1428"/><circle cx="1050.8" cy="820.7" r="2.2" fill="#7c1428"/><circle cx="1053.8" cy="817.4" r="2.2" fill="#7c1428"/><circle cx="1056.8" cy="815.6" r="2.2" fill="#7c1428"/><circle cx="1059.8" cy="825" r="2.2" fill="#7c1428"/><circle cx="1062.8" cy="815.4" r="2.2" fill="#7c1428"/><circle cx="1065.8" cy="831.2" r="2.2" fill="#7c1428"/><circle cx="1068.8" cy="814.5" r="2.2" fill="#7c1428"/><circle cx="1071.9" cy="824.7" r="2.2" fill="#7c1428"/><circle cx="1074.9" cy="822.7" r="2.2" fill="#7c1428"/><circle cx="1077.9" cy="817.9" r="2.2" fill="#7c1428"/><circle cx="1080.9" cy="813.8" r="2.2" fill="#7c1428"/><circle cx="1083.9" cy="835.2" r="2.2" fill="#7c1428"/><circle cx="1086.9" cy="816.9" r="2.2" fill="#7c1428"/><circle cx="1089.9" cy="816.7" r="2.2" fill="#7c1428"/><circle cx="1092.9" cy="828.2" r="2.2" fill="#7c1428"/><circle cx="1095.9" cy="811" r="2.2" fill="#7c1428"/><circle cx="1098.9" cy="836.4" r="2.2" fill="#7c1428"/><circle cx="1101.9" cy="834.5" r="2.2" fill="#7c1428"/><circle cx="1104.9" cy="824.9" r="2.2" fill="#7c1428"/><circle cx="1107.9" cy="836.6" r="2.2" fill="#7c1428"/><circle cx="1111" cy="814.3" r="2.2" fill="#7c1428"/><circle cx="1114" cy="827.3" r="2.2" fill="#7c1428"/><circle cx="1117" cy="811" r="2.2" fill="#7c1428"/><circle cx="1120" cy="841.1" r="2.2" fill="#7c1428"/><circle cx="1123" cy="840.2" r="2.2" fill="#7c1428"/><circle cx="1126" cy="816" r="2.2" fill="#7c1428"/><circle cx="1129" cy="842.6" r="2.2" fill="#7c1428"/><circle cx="1132" cy="821.2" r="2.2" fill="#7c1428"/><circle cx="1135" cy="843.8" r="2.2" fill="#7c1428"/><circle cx="1138" cy="836" r="2.2" fill="#7c1428"/><circle cx="1141" cy="832.4" r="2.2" fill="#7c1428"/><circle cx="1144" cy="855.7" r="2.2" fill="#7c1428"/><circle cx="1147.1" cy="884.7" r="2.2" fill="#7c1428"/><circle cx="1150.1" cy="907" r="2.2" fill="#7c1428"/><circle cx="1153.1" cy="931.4" r="2.2" fill="#7c1428"/><circle cx="1156.1" cy="990.4" r="2.2" fill="#7c1428"/><circle cx="1159.1" cy="961.6" r="2.2" fill="#7c1428"/><circle cx="1162.1" cy="900.2" r="2.2" fill="#7c1428"/><circle cx="1165.1" cy="868.3" r="2.2" fill="#7c1428"/><circle cx="1168.1" cy="855.7" r="2.2" fill="#7c1428"/><circle cx="1171.1" cy="854.1" r="2.2" fill="#7c1428"/><circle cx="1174.1" cy="830.7" r="2.2" fill="#7c1428"/><circle cx="1177.1" cy="830.3" r="2.2" fill="#7c1428"/><circle cx="1180.1" cy="850.7" r="2.2" fill="#7c1428"/><circle cx="1183.1" cy="827.1" r="2.2" fill="#7c1428"/><circle cx="1186.2" cy="815.2" r="2.2" fill="#7c1428"/><circle cx="1189.2" cy="803.6" r="2.2" fill="#7c1428"/><circle cx="1192.2" cy="838.3" r="2.2" fill="#7c1428"/><circle cx="1195.2" cy="821.7" r="2.2" fill="#7c1428"/><circle cx="1198.2" cy="816.3" r="2.2" fill="#7c1428"/><circle cx="1201.2" cy="813.7" r="2.2" fill="#7c1428"/><circle cx="1204.2" cy="829.1" r="2.2" fill="#7c1428"/><circle cx="1207.2" cy="815.7" r="2.2" fill="#7c1428"/><circle cx="1210.2" cy="825.5" r="2.2" fill="#7c1428"/><circle cx="1213.2" cy="821.2" r="2.2" fill="#7c1428"/><circle cx="1216.2" cy="826.3" r="2.2" fill="#7c1428"/><circle cx="1219.2" cy="817.1" r="2.2" fill="#7c1428"/><circle cx="1222.3" cy="824.4" r="2.2" fill="#7c1428"/><circle cx="1225.3" cy="816.8" r="2.2" fill="#7c1428"/><circle cx="1228.3" cy="820.9" r="2.2" fill="#7c1428"/><circle cx="1231.3" cy="810" r="2.2" fill="#7c1428"/><circle cx="1234.3" cy="801.6" r="2.2" fill="#7c1428"/><circle cx="1237.3" cy="820.6" r="2.2" fill="#7c1428"/><circle cx="1240.3" cy="827.6" r="2.2" fill="#7c1428"/>
<path d="M939.5,818.8 L940,818.8 L940.5,818.8 L941,818.8 L941.5,818.8 L942,818.8 L942.5,818.8 L943,818.8 L943.5,818.8 L944,818.8 L944.5,818.8 L945,818.8 L945.5,818.8 L946,818.8 L946.5,818.8 L947,818.8 L947.5,818.8 L948,818.8 L948.5,818.8 L949,818.8 L949.5,818.8 L950,818.8 L950.5,818.8 L951,818.8 L951.6,818.8 L952.1,818.8 L952.6,818.8 L953.1,818.8 L953.6,818.8 L954.1,818.8 L954.6,818.8 L955.1,818.8 L955.6,818.8 L956.1,818.8 L956.6,818.8 L957.1,818.8 L957.6,818.8 L958.1,818.8 L958.6,818.8 L959.1,818.8 L959.6,818.8 L960.1,818.7 L960.6,818.7 L961.1,818.7 L961.6,818.7 L962.1,818.7 L962.6,818.7 L963.1,818.7 L963.6,818.7 L964.1,818.7 L964.6,818.7 L965.1,818.7 L965.6,818.7 L966.1,818.7 L966.6,818.7 L967.1,818.7 L967.6,818.7 L968.1,818.6 L968.6,818.6 L969.1,818.6 L969.6,818.6 L970.1,818.6 L970.6,818.6 L971.1,818.6 L971.6,818.6 L972.1,818.6 L972.6,818.5 L973.1,818.5 L973.6,818.5 L974.1,818.5 L974.7,818.5 L975.2,818.5 L975.7,818.4 L976.2,818.4 L976.7,818.4 L977.2,818.4 L977.7,818.3 L978.2,818.3 L978.7,818.3 L979.2,818.3 L979.7,818.2 L980.2,818.2 L980.7,818.2 L981.2,818.2 L981.7,818.1 L982.2,818.1 L982.7,818.1 L983.2,818 L983.7,818 L984.2,817.9 L984.7,817.9 L985.2,817.9 L985.7,817.8 L986.2,817.8 L986.7,817.7 L987.2,817.7 L987.7,817.6 L988.2,817.6 L988.7,817.5 L989.2,817.5 L989.7,817.5 L990.2,817.4 L990.7,817.3 L991.2,817.3 L991.7,817.2 L992.2,817.2 L992.7,817.1 L993.2,817.1 L993.7,817 L994.2,817 L994.7,816.9 L995.2,816.8 L995.7,816.8 L996.2,816.7 L996.7,816.6 L997.2,816.6 L997.8,816.5 L998.3,816.5 L998.8,816.4 L999.3,816.3 L999.8,816.3 L1000.3,816.2 L1000.8,816.1 L1001.3,816.1 L1001.8,816 L1002.3,816 L1002.8,815.9 L1003.3,815.8 L1003.8,815.8 L1004.3,815.7 L1004.8,815.6 L1005.3,815.6 L1005.8,815.5 L1006.3,815.5 L1006.8,815.4 L1007.3,815.3 L1007.8,815.3 L1008.3,815.2 L1008.8,815.2 L1009.3,815.1 L1009.8,815.1 L1010.3,815 L1010.8,815 L1011.3,814.9 L1011.8,814.9 L1012.3,814.8 L1012.8,814.8 L1013.3,814.8 L1013.8,814.7 L1014.3,814.7 L1014.8,814.6 L1015.3,814.6 L1015.8,814.6 L1016.3,814.5 L1016.8,814.5 L1017.3,814.5 L1017.8,814.4 L1018.3,814.4 L1018.8,814.4 L1019.3,814.4 L1019.8,814.3 L1020.3,814.3 L1020.9,814.3 L1021.4,814.3 L1021.9,814.2 L1022.4,814.2 L1022.9,814.2 L1023.4,814.1 L1023.9,814.1 L1024.4,814.1 L1024.9,814.1 L1025.4,814 L1025.9,814 L1026.4,813.9 L1026.9,813.9 L1027.4,813.8 L1027.9,813.8 L1028.4,813.7 L1028.9,813.7 L1029.4,813.6 L1029.9,813.5 L1030.4,813.4 L1030.9,813.3 L1031.4,813.2 L1031.9,813.1 L1032.4,813 L1032.9,812.8 L1033.4,812.7 L1033.9,812.5 L1034.4,812.3 L1034.9,812 L1035.4,811.7 L1035.9,811.4 L1036.4,811.1 L1036.9,810.7 L1037.4,810.2 L1037.9,809.7 L1038.4,809.1 L1038.9,808.3 L1039.4,807.4 L1039.9,806.3 L1040.4,805 L1040.9,803.4 L1041.4,801.4 L1041.9,799.1 L1042.4,796.5 L1042.9,793.7 L1043.4,791.4 L1044,790 L1044.5,795.2 L1045,796.8 L1045.5,799.3 L1046,802 L1046.5,804.7 L1047,807 L1047.5,808.9 L1048,810.5 L1048.5,811.7 L1049,812.8 L1049.5,813.6 L1050,814.3 L1050.5,814.9 L1051,815.3 L1051.5,815.8 L1052,816.1 L1052.5,816.4 L1053,816.7 L1053.5,816.9 L1054,817.1 L1054.5,817.3 L1055,817.5 L1055.5,817.6 L1056,817.8 L1056.5,817.9 L1057,818 L1057.5,818.1 L1058,818.2 L1058.5,818.3 L1059,818.4 L1059.5,818.5 L1060,818.6 L1060.5,818.7 L1061,818.8 L1061.5,818.8 L1062,818.9 L1062.5,819 L1063,819 L1063.5,819.1 L1064,819.2 L1064.5,819.2 L1065,819.3 L1065.5,819.3 L1066,819.4 L1066.5,819.5 L1067.1,819.5 L1067.6,819.6 L1068.1,819.6 L1068.6,819.7 L1069.1,819.8 L1069.6,819.8 L1070.1,819.9 L1070.6,819.9 L1071.1,820 L1071.6,820 L1072.1,820.1 L1072.6,820.2 L1073.1,820.2 L1073.6,820.3 L1074.1,820.3 L1074.6,820.4 L1075.1,820.5 L1075.6,820.5 L1076.1,820.6 L1076.6,820.6 L1077.1,820.7 L1077.6,820.8 L1078.1,820.8 L1078.6,820.9 L1079.1,820.9 L1079.6,821 L1080.1,821.1 L1080.6,821.1 L1081.1,821.2 L1081.6,821.3 L1082.1,821.3 L1082.6,821.4 L1083.1,821.4 L1083.6,821.5 L1084.1,821.6 L1084.6,821.6 L1085.1,821.7 L1085.6,821.8 L1086.1,821.8 L1086.6,821.9 L1087.1,822 L1087.6,822 L1088.1,822.1 L1088.6,822.1 L1089.1,822.2 L1089.6,822.3 L1090.2,822.3 L1090.7,822.4 L1091.2,822.4 L1091.7,822.5 L1092.2,822.6 L1092.7,822.6 L1093.2,822.7 L1093.7,822.7 L1094.2,822.8 L1094.7,822.8 L1095.2,822.9 L1095.7,822.9 L1096.2,823 L1096.7,823 L1097.2,823.1 L1097.7,823.1 L1098.2,823.2 L1098.7,823.2 L1099.2,823.3 L1099.7,823.3 L1100.2,823.3 L1100.7,823.4 L1101.2,823.4 L1101.7,823.5 L1102.2,823.5 L1102.7,823.5 L1103.2,823.6 L1103.7,823.6 L1104.2,823.6 L1104.7,823.6 L1105.2,823.7 L1105.7,823.7 L1106.2,823.7 L1106.7,823.7 L1107.2,823.8 L1107.7,823.8 L1108.2,823.8 L1108.7,823.8 L1109.2,823.8 L1109.7,823.8 L1110.2,823.9 L1110.7,823.9 L1111.2,823.9 L1111.7,823.9 L1112.2,823.9 L1112.7,823.9 L1113.3,823.9 L1113.8,823.9 L1114.3,824 L1114.8,824 L1115.3,824 L1115.8,824 L1116.3,824 L1116.8,824 L1117.3,824 L1117.8,824 L1118.3,824.1 L1118.8,824.1 L1119.3,824.1 L1119.8,824.1 L1120.3,824.1 L1120.8,824.2 L1121.3,824.2 L1121.8,824.2 L1122.3,824.3 L1122.8,824.3 L1123.3,824.3 L1123.8,824.4 L1124.3,824.4 L1124.8,824.5 L1125.3,824.5 L1125.8,824.6 L1126.3,824.6 L1126.8,824.7 L1127.3,824.8 L1127.8,824.9 L1128.3,825 L1128.8,825.1 L1129.3,825.2 L1129.8,825.3 L1130.3,825.4 L1130.8,825.5 L1131.3,825.7 L1131.8,825.8 L1132.3,826 L1132.8,826.2 L1133.3,826.4 L1133.8,826.6 L1134.3,826.8 L1134.8,827.1 L1135.3,827.3 L1135.8,827.6 L1136.4,827.9 L1136.9,828.3 L1137.4,828.6 L1137.9,829 L1138.4,829.4 L1138.9,829.9 L1139.4,830.4 L1139.9,830.9 L1140.4,831.5 L1140.9,832.1 L1141.4,832.8 L1141.9,833.6 L1142.4,834.4 L1142.9,835.3 L1143.4,836.3 L1143.9,837.3 L1144.4,838.5 L1144.9,839.7 L1145.4,841.1 L1145.9,842.6 L1146.4,844.3 L1146.9,846.1 L1147.4,848.1 L1147.9,850.3 L1148.4,852.7 L1148.9,855.3 L1149.4,858.1 L1149.9,861.2 L1150.4,864.4 L1150.9,867.9 L1151.4,871.6 L1151.9,875.4 L1152.4,879.2 L1152.9,883 L1153.4,886.7 L1153.9,890 L1154.4,892.9 L1154.9,895.2 L1155.4,896.7 L1155.9,897.4 L1156.4,897.2 L1156.9,896.1 L1157.4,894.2 L1157.9,891.6 L1158.4,888.5 L1158.9,885 L1159.5,881.2 L1160,877.3 L1160.5,873.5 L1161,869.7 L1161.5,866.1 L1162,862.7 L1162.5,859.5 L1163,856.5 L1163.5,853.8 L1164,851.3 L1164.5,848.9 L1165,846.8 L1165.5,844.9 L1166,843.1 L1166.5,841.4 L1167,840 L1167.5,838.6 L1168,837.3 L1168.5,836.2 L1169,835.1 L1169.5,834.2 L1170,833.3 L1170.5,832.5 L1171,831.7 L1171.5,831 L1172,830.4 L1172.5,829.8 L1173,829.2 L1173.5,828.7 L1174,828.2 L1174.5,827.8 L1175,827.3 L1175.5,827 L1176,826.6 L1176.5,826.2 L1177,825.9 L1177.5,825.6 L1178,825.3 L1178.5,825.1 L1179,824.8 L1179.5,824.6 L1180,824.4 L1180.5,824.1 L1181,823.9 L1181.5,823.8 L1182,823.6 L1182.6,823.4 L1183.1,823.3 L1183.6,823.1 L1184.1,823 L1184.6,822.8 L1185.1,822.7 L1185.6,822.6 L1186.1,822.4 L1186.6,822.3 L1187.1,822.2 L1187.6,822.1 L1188.1,822 L1188.6,821.9 L1189.1,821.8 L1189.6,821.7 L1190.1,821.7 L1190.6,821.6 L1191.1,821.5 L1191.6,821.4 L1192.1,821.4 L1192.6,821.3 L1193.1,821.2 L1193.6,821.2 L1194.1,821.1 L1194.6,821 L1195.1,821 L1195.6,820.9 L1196.1,820.9 L1196.6,820.8 L1197.1,820.8 L1197.6,820.7 L1198.1,820.7 L1198.6,820.6 L1199.1,820.6 L1199.6,820.6 L1200.1,820.5 L1200.6,820.5 L1201.1,820.5 L1201.6,820.4 L1202.1,820.4 L1202.6,820.3 L1203.1,820.3 L1203.6,820.3 L1204.1,820.3 L1204.6,820.2 L1205.1,820.2 L1205.7,820.2 L1206.2,820.1 L1206.7,820.1 L1207.2,820.1 L1207.7,820.1 L1208.2,820 L1208.7,820 L1209.2,820 L1209.7,820 L1210.2,820 L1210.7,819.9 L1211.2,819.9 L1211.7,819.9 L1212.2,819.9 L1212.7,819.9 L1213.2,819.8 L1213.7,819.8 L1214.2,819.8 L1214.7,819.8 L1215.2,819.8 L1215.7,819.7 L1216.2,819.7 L1216.7,819.7 L1217.2,819.7 L1217.7,819.7 L1218.2,819.7 L1218.7,819.7 L1219.2,819.6 L1219.7,819.6 L1220.2,819.6 L1220.7,819.6 L1221.2,819.6 L1221.7,819.6 L1222.2,819.6 L1222.7,819.6 L1223.2,819.5 L1223.7,819.5 L1224.2,819.5 L1224.7,819.5 L1225.2,819.5 L1225.7,819.5 L1226.2,819.5 L1226.7,819.5 L1227.2,819.5 L1227.7,819.5 L1228.2,819.4 L1228.8,819.4 L1229.3,819.4 L1229.8,819.4 L1230.3,819.4 L1230.8,819.4 L1231.3,819.4 L1231.8,819.4 L1232.3,819.4 L1232.8,819.4 L1233.3,819.4 L1233.8,819.4 L1234.3,819.4 L1234.8,819.3 L1235.3,819.3 L1235.8,819.3 L1236.3,819.3 L1236.8,819.3 L1237.3,819.3 L1237.8,819.3 L1238.3,819.3 L1238.8,819.3 L1239.3,819.3 L1239.8,819.3 L1240.3,819.3" fill="none" stroke="#f3ad62" stroke-width="1.6" stroke-linejoin="round" />
<path d="M939.5,818.8 L940,818.8 L940.5,818.8 L941,818.8 L941.5,818.8 L942,818.8 L942.5,818.8 L943,818.8 L943.5,818.8 L944,818.8 L944.5,818.8 L945,818.8 L945.5,818.8 L946,818.8 L946.5,818.8 L947,818.8 L947.5,818.8 L948,818.8 L948.5,818.8 L949,818.8 L949.5,818.8 L950,818.8 L950.5,818.8 L951,818.8 L951.6,818.8 L952.1,818.8 L952.6,818.8 L953.1,818.8 L953.6,818.8 L954.1,818.8 L954.6,818.8 L955.1,818.7 L955.6,818.7 L956.1,818.7 L956.6,818.7 L957.1,818.7 L957.6,818.7 L958.1,818.7 L958.6,818.7 L959.1,818.7 L959.6,818.7 L960.1,818.7 L960.6,818.7 L961.1,818.7 L961.6,818.7 L962.1,818.7 L962.6,818.7 L963.1,818.7 L963.6,818.6 L964.1,818.6 L964.6,818.6 L965.1,818.6 L965.6,818.6 L966.1,818.6 L966.6,818.6 L967.1,818.6 L967.6,818.5 L968.1,818.5 L968.6,818.5 L969.1,818.5 L969.6,818.5 L970.1,818.5 L970.6,818.4 L971.1,818.4 L971.6,818.4 L972.1,818.4 L972.6,818.3 L973.1,818.3 L973.6,818.3 L974.1,818.3 L974.7,818.2 L975.2,818.2 L975.7,818.2 L976.2,818.1 L976.7,818.1 L977.2,818.1 L977.7,818 L978.2,818 L978.7,817.9 L979.2,817.9 L979.7,817.8 L980.2,817.8 L980.7,817.8 L981.2,817.7 L981.7,817.6 L982.2,817.6 L982.7,817.5 L983.2,817.5 L983.7,817.4 L984.2,817.4 L984.7,817.3 L985.2,817.2 L985.7,817.2 L986.2,817.1 L986.7,817 L987.2,816.9 L987.7,816.9 L988.2,816.8 L988.7,816.7 L989.2,816.6 L989.7,816.5 L990.2,816.4 L990.7,816.4 L991.2,816.3 L991.7,816.2 L992.2,816.1 L992.7,816 L993.2,815.9 L993.7,815.8 L994.2,815.7 L994.7,815.6 L995.2,815.5 L995.7,815.4 L996.2,815.3 L996.7,815.2 L997.2,815.1 L997.8,815 L998.3,814.9 L998.8,814.8 L999.3,814.7 L999.8,814.6 L1000.3,814.5 L1000.8,814.4 L1001.3,814.2 L1001.8,814.1 L1002.3,814 L1002.8,813.9 L1003.3,813.8 L1003.8,813.7 L1004.3,813.6 L1004.8,813.5 L1005.3,813.4 L1005.8,813.3 L1006.3,813.2 L1006.8,813.1 L1007.3,813 L1007.8,812.9 L1008.3,812.8 L1008.8,812.8 L1009.3,812.7 L1009.8,812.6 L1010.3,812.5 L1010.8,812.4 L1011.3,812.3 L1011.8,812.3 L1012.3,812.2 L1012.8,812.1 L1013.3,812.1 L1013.8,812 L1014.3,811.9 L1014.8,811.9 L1015.3,811.8 L1015.8,811.7 L1016.3,811.7 L1016.8,811.6 L1017.3,811.6 L1017.8,811.5 L1018.3,811.5 L1018.8,811.4 L1019.3,811.4 L1019.8,811.3 L1020.3,811.3 L1020.9,811.3 L1021.4,811.2 L1021.9,811.2 L1022.4,811.1 L1022.9,811.1 L1023.4,811 L1023.9,811 L1024.4,810.9 L1024.9,810.9 L1025.4,810.8 L1025.9,810.8 L1026.4,810.7 L1026.9,810.6 L1027.4,810.6 L1027.9,810.5 L1028.4,810.4 L1028.9,810.3 L1029.4,810.2 L1029.9,810 L1030.4,809.9 L1030.9,809.7 L1031.4,809.6 L1031.9,809.4 L1032.4,809.1 L1032.9,808.9 L1033.4,808.6 L1033.9,808.3 L1034.4,808 L1034.9,807.6 L1035.4,807.2 L1035.9,806.7 L1036.4,806.1 L1036.9,805.5 L1037.4,804.7 L1037.9,803.9 L1038.4,802.9 L1038.9,801.7 L1039.4,800.3 L1039.9,798.5 L1040.4,796.5 L1040.9,793.9 L1041.4,790.8 L1041.9,787.1 L1042.4,783 L1042.9,778.7 L1043.4,774.9 L1044,772.8 L1044.5,781.4 L1045,783.9 L1045.5,787.8 L1046,792.2 L1046.5,796.4 L1047,800 L1047.5,803.1 L1048,805.5 L1048.5,807.5 L1049,809.1 L1049.5,810.5 L1050,811.6 L1050.5,812.5 L1051,813.3 L1051.5,813.9 L1052,814.5 L1052.5,815 L1053,815.4 L1053.5,815.8 L1054,816.1 L1054.5,816.4 L1055,816.7 L1055.5,816.9 L1056,817.1 L1056.5,817.3 L1057,817.5 L1057.5,817.7 L1058,817.9 L1058.5,818 L1059,818.2 L1059.5,818.3 L1060,818.5 L1060.5,818.6 L1061,818.7 L1061.5,818.8 L1062,818.9 L1062.5,819.1 L1063,819.2 L1063.5,819.3 L1064,819.4 L1064.5,819.5 L1065,819.6 L1065.5,819.7 L1066,819.8 L1066.5,819.9 L1067.1,820 L1067.6,820.1 L1068.1,820.1 L1068.6,820.2 L1069.1,820.3 L1069.6,820.4 L1070.1,820.5 L1070.6,820.6 L1071.1,820.7 L1071.6,820.8 L1072.1,820.9 L1072.6,821 L1073.1,821.1 L1073.6,821.2 L1074.1,821.3 L1074.6,821.4 L1075.1,821.5 L1075.6,821.6 L1076.1,821.7 L1076.6,821.8 L1077.1,821.9 L1077.6,822 L1078.1,822.1 L1078.6,822.2 L1079.1,822.3 L1079.6,822.4 L1080.1,822.5 L1080.6,822.6 L1081.1,822.7 L1081.6,822.8 L1082.1,822.9 L1082.6,823 L1083.1,823.1 L1083.6,823.2 L1084.1,823.3 L1084.6,823.4 L1085.1,823.5 L1085.6,823.6 L1086.1,823.7 L1086.6,823.8 L1087.1,823.9 L1087.6,824 L1088.1,824.1 L1088.6,824.2 L1089.1,824.4 L1089.6,824.4 L1090.2,824.5 L1090.7,824.6 L1091.2,824.7 L1091.7,824.8 L1092.2,824.9 L1092.7,825 L1093.2,825.1 L1093.7,825.2 L1094.2,825.3 L1094.7,825.4 L1095.2,825.5 L1095.7,825.5 L1096.2,825.6 L1096.7,825.7 L1097.2,825.8 L1097.7,825.9 L1098.2,825.9 L1098.7,826 L1099.2,826.1 L1099.7,826.1 L1100.2,826.2 L1100.7,826.2 L1101.2,826.3 L1101.7,826.4 L1102.2,826.4 L1102.7,826.5 L1103.2,826.5 L1103.7,826.6 L1104.2,826.6 L1104.7,826.6 L1105.2,826.7 L1105.7,826.7 L1106.2,826.7 L1106.7,826.8 L1107.2,826.8 L1107.7,826.8 L1108.2,826.9 L1108.7,826.9 L1109.2,826.9 L1109.7,826.9 L1110.2,826.9 L1110.7,827 L1111.2,827 L1111.7,827 L1112.2,827 L1112.7,827 L1113.3,827 L1113.8,827 L1114.3,827.1 L1114.8,827.1 L1115.3,827.1 L1115.8,827.1 L1116.3,827.1 L1116.8,827.1 L1117.3,827.1 L1117.8,827.1 L1118.3,827.2 L1118.8,827.2 L1119.3,827.2 L1119.8,827.2 L1120.3,827.2 L1120.8,827.3 L1121.3,827.3 L1121.8,827.3 L1122.3,827.4 L1122.8,827.4 L1123.3,827.5 L1123.8,827.5 L1124.3,827.6 L1124.8,827.6 L1125.3,827.7 L1125.8,827.8 L1126.3,827.9 L1126.8,828 L1127.3,828.1 L1127.8,828.2 L1128.3,828.3 L1128.8,828.5 L1129.3,828.6 L1129.8,828.8 L1130.3,828.9 L1130.8,829.1 L1131.3,829.3 L1131.8,829.6 L1132.3,829.8 L1132.8,830.1 L1133.3,830.4 L1133.8,830.7 L1134.3,831 L1134.8,831.4 L1135.3,831.7 L1135.8,832.2 L1136.4,832.6 L1136.9,833.1 L1137.4,833.6 L1137.9,834.2 L1138.4,834.8 L1138.9,835.5 L1139.4,836.2 L1139.9,837 L1140.4,837.9 L1140.9,838.8 L1141.4,839.8 L1141.9,841 L1142.4,842.2 L1142.9,843.5 L1143.4,844.9 L1143.9,846.5 L1144.4,848.2 L1144.9,850.1 L1145.4,852.2 L1145.9,854.4 L1146.4,856.9 L1146.9,859.6 L1147.4,862.6 L1147.9,865.8 L1148.4,869.4 L1148.9,873.2 L1149.4,877.4 L1149.9,882 L1150.4,886.8 L1150.9,892 L1151.4,897.5 L1151.9,903.1 L1152.4,908.8 L1152.9,914.5 L1153.4,919.9 L1153.9,924.9 L1154.4,929.2 L1154.9,932.6 L1155.4,934.9 L1155.9,935.9 L1156.4,935.6 L1156.9,934 L1157.4,931.2 L1157.9,927.3 L1158.4,922.6 L1158.9,917.4 L1159.5,911.8 L1160,906 L1160.5,900.3 L1161,894.7 L1161.5,889.3 L1162,884.2 L1162.5,879.4 L1163,875 L1163.5,870.9 L1164,867.1 L1164.5,863.7 L1165,860.5 L1165.5,857.6 L1166,855 L1166.5,852.5 L1167,850.3 L1167.5,848.3 L1168,846.4 L1168.5,844.7 L1169,843.2 L1169.5,841.7 L1170,840.4 L1170.5,839.2 L1171,838 L1171.5,837 L1172,836 L1172.5,835.1 L1173,834.3 L1173.5,833.5 L1174,832.8 L1174.5,832.1 L1175,831.5 L1175.5,830.9 L1176,830.4 L1176.5,829.9 L1177,829.4 L1177.5,829 L1178,828.5 L1178.5,828.1 L1179,827.8 L1179.5,827.4 L1180,827.1 L1180.5,826.8 L1181,826.5 L1181.5,826.2 L1182,825.9 L1182.6,825.7 L1183.1,825.4 L1183.6,825.2 L1184.1,825 L1184.6,824.8 L1185.1,824.6 L1185.6,824.4 L1186.1,824.2 L1186.6,824 L1187.1,823.9 L1187.6,823.7 L1188.1,823.6 L1188.6,823.4 L1189.1,823.3 L1189.6,823.2 L1190.1,823.1 L1190.6,822.9 L1191.1,822.8 L1191.6,822.7 L1192.1,822.6 L1192.6,822.5 L1193.1,822.4 L1193.6,822.3 L1194.1,822.2 L1194.6,822.1 L1195.1,822.1 L1195.6,822 L1196.1,821.9 L1196.6,821.8 L1197.1,821.8 L1197.6,821.7 L1198.1,821.6 L1198.6,821.6 L1199.1,821.5 L1199.6,821.4 L1200.1,821.4 L1200.6,821.3 L1201.1,821.3 L1201.6,821.2 L1202.1,821.2 L1202.6,821.1 L1203.1,821.1 L1203.6,821 L1204.1,821 L1204.6,820.9 L1205.1,820.9 L1205.7,820.8 L1206.2,820.8 L1206.7,820.8 L1207.2,820.7 L1207.7,820.7 L1208.2,820.6 L1208.7,820.6 L1209.2,820.6 L1209.7,820.5 L1210.2,820.5 L1210.7,820.5 L1211.2,820.5 L1211.7,820.4 L1212.2,820.4 L1212.7,820.4 L1213.2,820.3 L1213.7,820.3 L1214.2,820.3 L1214.7,820.3 L1215.2,820.2 L1215.7,820.2 L1216.2,820.2 L1216.7,820.2 L1217.2,820.1 L1217.7,820.1 L1218.2,820.1 L1218.7,820.1 L1219.2,820.1 L1219.7,820 L1220.2,820 L1220.7,820 L1221.2,820 L1221.7,820 L1222.2,819.9 L1222.7,819.9 L1223.2,819.9 L1223.7,819.9 L1224.2,819.9 L1224.7,819.9 L1225.2,819.9 L1225.7,819.8 L1226.2,819.8 L1226.7,819.8 L1227.2,819.8 L1227.7,819.8 L1228.2,819.8 L1228.8,819.8 L1229.3,819.7 L1229.8,819.7 L1230.3,819.7 L1230.8,819.7 L1231.3,819.7 L1231.8,819.7 L1232.3,819.7 L1232.8,819.7 L1233.3,819.6 L1233.8,819.6 L1234.3,819.6 L1234.8,819.6 L1235.3,819.6 L1235.8,819.6 L1236.3,819.6 L1236.8,819.6 L1237.3,819.6 L1237.8,819.6 L1238.3,819.5 L1238.8,819.5 L1239.3,819.5 L1239.8,819.5 L1240.3,819.5" fill="none" stroke="#74b6e4" stroke-width="1.6" stroke-linejoin="round" />
<path d="M939.5,818.8 L940,818.8 L940.5,818.8 L941,818.8 L941.5,818.8 L942,818.8 L942.5,818.8 L943,818.8 L943.5,818.8 L944,818.8 L944.5,818.8 L945,818.8 L945.5,818.8 L946,818.8 L946.5,818.8 L947,818.8 L947.5,818.8 L948,818.8 L948.5,818.8 L949,818.8 L949.5,818.8 L950,818.8 L950.5,818.8 L951,818.8 L951.6,818.8 L952.1,818.8 L952.6,818.8 L953.1,818.7 L953.6,818.7 L954.1,818.7 L954.6,818.7 L955.1,818.7 L955.6,818.7 L956.1,818.7 L956.6,818.7 L957.1,818.7 L957.6,818.7 L958.1,818.7 L958.6,818.7 L959.1,818.7 L959.6,818.7 L960.1,818.7 L960.6,818.7 L961.1,818.7 L961.6,818.6 L962.1,818.6 L962.6,818.6 L963.1,818.6 L963.6,818.6 L964.1,818.6 L964.6,818.6 L965.1,818.6 L965.6,818.5 L966.1,818.5 L966.6,818.5 L967.1,818.5 L967.6,818.5 L968.1,818.4 L968.6,818.4 L969.1,818.4 L969.6,818.4 L970.1,818.4 L970.6,818.3 L971.1,818.3 L971.6,818.3 L972.1,818.2 L972.6,818.2 L973.1,818.2 L973.6,818.1 L974.1,818.1 L974.7,818.1 L975.2,818 L975.7,818 L976.2,817.9 L976.7,817.9 L977.2,817.8 L977.7,817.8 L978.2,817.7 L978.7,817.7 L979.2,817.6 L979.7,817.6 L980.2,817.5 L980.7,817.4 L981.2,817.4 L981.7,817.3 L982.2,817.2 L982.7,817.2 L983.2,817.1 L983.7,817 L984.2,816.9 L984.7,816.8 L985.2,816.7 L985.7,816.7 L986.2,816.6 L986.7,816.5 L987.2,816.4 L987.7,816.3 L988.2,816.2 L988.7,816.1 L989.2,816 L989.7,815.9 L990.2,815.7 L990.7,815.6 L991.2,815.5 L991.7,815.4 L992.2,815.3 L992.7,815.1 L993.2,815 L993.7,814.9 L994.2,814.8 L994.7,814.6 L995.2,814.5 L995.7,814.4 L996.2,814.2 L996.7,814.1 L997.2,814 L997.8,813.8 L998.3,813.7 L998.8,813.6 L999.3,813.4 L999.8,813.3 L1000.3,813.2 L1000.8,813 L1001.3,812.9 L1001.8,812.7 L1002.3,812.6 L1002.8,812.5 L1003.3,812.3 L1003.8,812.2 L1004.3,812.1 L1004.8,811.9 L1005.3,811.8 L1005.8,811.7 L1006.3,811.5 L1006.8,811.4 L1007.3,811.3 L1007.8,811.2 L1008.3,811.1 L1008.8,810.9 L1009.3,810.8 L1009.8,810.7 L1010.3,810.6 L1010.8,810.5 L1011.3,810.4 L1011.8,810.3 L1012.3,810.2 L1012.8,810.1 L1013.3,810 L1013.8,809.9 L1014.3,809.9 L1014.8,809.8 L1015.3,809.7 L1015.8,809.6 L1016.3,809.6 L1016.8,809.5 L1017.3,809.4 L1017.8,809.4 L1018.3,809.3 L1018.8,809.2 L1019.3,809.2 L1019.8,809.1 L1020.3,809.1 L1020.9,809 L1021.4,808.9 L1021.9,808.9 L1022.4,808.8 L1022.9,808.8 L1023.4,808.7 L1023.9,808.6 L1024.4,808.6 L1024.9,808.5 L1025.4,808.4 L1025.9,808.4 L1026.4,808.3 L1026.9,808.2 L1027.4,808.1 L1027.9,808 L1028.4,807.8 L1028.9,807.7 L1029.4,807.6 L1029.9,807.4 L1030.4,807.2 L1030.9,807 L1031.4,806.8 L1031.9,806.5 L1032.4,806.2 L1032.9,805.9 L1033.4,805.6 L1033.9,805.2 L1034.4,804.7 L1034.9,804.2 L1035.4,803.7 L1035.9,803 L1036.4,802.3 L1036.9,801.5 L1037.4,800.5 L1037.9,799.4 L1038.4,798.1 L1038.9,796.5 L1039.4,794.7 L1039.9,792.5 L1040.4,789.7 L1040.9,786.4 L1041.4,782.4 L1041.9,777.6 L1042.4,772.2 L1042.9,766.6 L1043.4,761.8 L1044,759 L1044.5,770.2 L1045,773.4 L1045.5,778.5 L1046,784.2 L1046.5,789.7 L1047,794.4 L1047.5,798.3 L1048,801.5 L1048.5,804.1 L1049,806.2 L1049.5,808 L1050,809.4 L1050.5,810.6 L1051,811.6 L1051.5,812.4 L1052,813.2 L1052.5,813.8 L1053,814.3 L1053.5,814.8 L1054,815.3 L1054.5,815.7 L1055,816 L1055.5,816.3 L1056,816.6 L1056.5,816.9 L1057,817.1 L1057.5,817.4 L1058,817.6 L1058.5,817.8 L1059,818 L1059.5,818.2 L1060,818.3 L1060.5,818.5 L1061,818.7 L1061.5,818.8 L1062,819 L1062.5,819.1 L1063,819.3 L1063.5,819.4 L1064,819.5 L1064.5,819.7 L1065,819.8 L1065.5,819.9 L1066,820 L1066.5,820.2 L1067.1,820.3 L1067.6,820.4 L1068.1,820.5 L1068.6,820.7 L1069.1,820.8 L1069.6,820.9 L1070.1,821 L1070.6,821.1 L1071.1,821.3 L1071.6,821.4 L1072.1,821.5 L1072.6,821.6 L1073.1,821.8 L1073.6,821.9 L1074.1,822 L1074.6,822.1 L1075.1,822.3 L1075.6,822.4 L1076.1,822.5 L1076.6,822.6 L1077.1,822.8 L1077.6,822.9 L1078.1,823 L1078.6,823.2 L1079.1,823.3 L1079.6,823.4 L1080.1,823.6 L1080.6,823.7 L1081.1,823.8 L1081.6,824 L1082.1,824.1 L1082.6,824.2 L1083.1,824.4 L1083.6,824.5 L1084.1,824.7 L1084.6,824.8 L1085.1,824.9 L1085.6,825.1 L1086.1,825.2 L1086.6,825.3 L1087.1,825.5 L1087.6,825.6 L1088.1,825.7 L1088.6,825.9 L1089.1,826 L1089.6,826.1 L1090.2,826.3 L1090.7,826.4 L1091.2,826.5 L1091.7,826.6 L1092.2,826.8 L1092.7,826.9 L1093.2,827 L1093.7,827.1 L1094.2,827.2 L1094.7,827.3 L1095.2,827.4 L1095.7,827.5 L1096.2,827.6 L1096.7,827.7 L1097.2,827.8 L1097.7,827.9 L1098.2,828 L1098.7,828.1 L1099.2,828.2 L1099.7,828.3 L1100.2,828.4 L1100.7,828.5 L1101.2,828.5 L1101.7,828.6 L1102.2,828.7 L1102.7,828.7 L1103.2,828.8 L1103.7,828.8 L1104.2,828.9 L1104.7,829 L1105.2,829 L1105.7,829.1 L1106.2,829.1 L1106.7,829.1 L1107.2,829.2 L1107.7,829.2 L1108.2,829.2 L1108.7,829.3 L1109.2,829.3 L1109.7,829.3 L1110.2,829.3 L1110.7,829.4 L1111.2,829.4 L1111.7,829.4 L1112.2,829.4 L1112.7,829.4 L1113.3,829.5 L1113.8,829.5 L1114.3,829.5 L1114.8,829.5 L1115.3,829.5 L1115.8,829.5 L1116.3,829.5 L1116.8,829.6 L1117.3,829.6 L1117.8,829.6 L1118.3,829.6 L1118.8,829.6 L1119.3,829.7 L1119.8,829.7 L1120.3,829.7 L1120.8,829.7 L1121.3,829.8 L1121.8,829.8 L1122.3,829.9 L1122.8,829.9 L1123.3,830 L1123.8,830.1 L1124.3,830.1 L1124.8,830.2 L1125.3,830.3 L1125.8,830.4 L1126.3,830.5 L1126.8,830.6 L1127.3,830.8 L1127.8,830.9 L1128.3,831.1 L1128.8,831.3 L1129.3,831.4 L1129.8,831.6 L1130.3,831.9 L1130.8,832.1 L1131.3,832.4 L1131.8,832.7 L1132.3,833 L1132.8,833.3 L1133.3,833.7 L1133.8,834.1 L1134.3,834.5 L1134.8,834.9 L1135.3,835.4 L1135.8,836 L1136.4,836.6 L1136.9,837.2 L1137.4,837.9 L1137.9,838.6 L1138.4,839.4 L1138.9,840.3 L1139.4,841.2 L1139.9,842.2 L1140.4,843.3 L1140.9,844.5 L1141.4,845.8 L1141.9,847.3 L1142.4,848.8 L1142.9,850.5 L1143.4,852.3 L1143.9,854.4 L1144.4,856.6 L1144.9,859 L1145.4,861.6 L1145.9,864.5 L1146.4,867.7 L1146.9,871.2 L1147.4,875 L1147.9,879.2 L1148.4,883.7 L1148.9,888.7 L1149.4,894.1 L1149.9,899.9 L1150.4,906.1 L1150.9,912.8 L1151.4,919.8 L1151.9,927 L1152.4,934.3 L1152.9,941.6 L1153.4,948.6 L1153.9,955 L1154.4,960.5 L1154.9,964.9 L1155.4,967.8 L1155.9,969.1 L1156.4,968.7 L1156.9,966.7 L1157.4,963 L1157.9,958.1 L1158.4,952 L1158.9,945.3 L1159.5,938.1 L1160,930.7 L1160.5,923.4 L1161,916.2 L1161.5,909.3 L1162,902.7 L1162.5,896.6 L1163,890.9 L1163.5,885.7 L1164,880.8 L1164.5,876.4 L1165,872.3 L1165.5,868.6 L1166,865.2 L1166.5,862.1 L1167,859.2 L1167.5,856.6 L1168,854.3 L1168.5,852.1 L1169,850.1 L1169.5,848.2 L1170,846.5 L1170.5,844.9 L1171,843.5 L1171.5,842.1 L1172,840.9 L1172.5,839.8 L1173,838.7 L1173.5,837.7 L1174,836.8 L1174.5,835.9 L1175,835.1 L1175.5,834.4 L1176,833.7 L1176.5,833 L1177,832.4 L1177.5,831.8 L1178,831.3 L1178.5,830.8 L1179,830.3 L1179.5,829.9 L1180,829.4 L1180.5,829 L1181,828.6 L1181.5,828.3 L1182,827.9 L1182.6,827.6 L1183.1,827.3 L1183.6,827 L1184.1,826.7 L1184.6,826.5 L1185.1,826.2 L1185.6,826 L1186.1,825.8 L1186.6,825.5 L1187.1,825.3 L1187.6,825.1 L1188.1,824.9 L1188.6,824.8 L1189.1,824.6 L1189.6,824.4 L1190.1,824.3 L1190.6,824.1 L1191.1,824 L1191.6,823.8 L1192.1,823.7 L1192.6,823.6 L1193.1,823.4 L1193.6,823.3 L1194.1,823.2 L1194.6,823.1 L1195.1,823 L1195.6,822.9 L1196.1,822.8 L1196.6,822.7 L1197.1,822.6 L1197.6,822.5 L1198.1,822.4 L1198.6,822.3 L1199.1,822.2 L1199.6,822.2 L1200.1,822.1 L1200.6,822 L1201.1,822 L1201.6,821.9 L1202.1,821.8 L1202.6,821.8 L1203.1,821.7 L1203.6,821.6 L1204.1,821.6 L1204.6,821.5 L1205.1,821.5 L1205.7,821.4 L1206.2,821.4 L1206.7,821.3 L1207.2,821.3 L1207.7,821.2 L1208.2,821.2 L1208.7,821.1 L1209.2,821.1 L1209.7,821 L1210.2,821 L1210.7,821 L1211.2,820.9 L1211.7,820.9 L1212.2,820.8 L1212.7,820.8 L1213.2,820.8 L1213.7,820.7 L1214.2,820.7 L1214.7,820.7 L1215.2,820.6 L1215.7,820.6 L1216.2,820.6 L1216.7,820.6 L1217.2,820.5 L1217.7,820.5 L1218.2,820.5 L1218.7,820.4 L1219.2,820.4 L1219.7,820.4 L1220.2,820.4 L1220.7,820.3 L1221.2,820.3 L1221.7,820.3 L1222.2,820.3 L1222.7,820.3 L1223.2,820.2 L1223.7,820.2 L1224.2,820.2 L1224.7,820.2 L1225.2,820.2 L1225.7,820.1 L1226.2,820.1 L1226.7,820.1 L1227.2,820.1 L1227.7,820.1 L1228.2,820 L1228.8,820 L1229.3,820 L1229.8,820 L1230.3,820 L1230.8,820 L1231.3,819.9 L1231.8,819.9 L1232.3,819.9 L1232.8,819.9 L1233.3,819.9 L1233.8,819.9 L1234.3,819.9 L1234.8,819.8 L1235.3,819.8 L1235.8,819.8 L1236.3,819.8 L1236.8,819.8 L1237.3,819.8 L1237.8,819.8 L1238.3,819.8 L1238.8,819.7 L1239.3,819.7 L1239.8,819.7 L1240.3,819.7" fill="none" stroke="#b0445a" stroke-width="1.6" stroke-linejoin="round" />
</g>
<path d="M1271,726.4 L909.7,726.4 L909.7,1014.4 L1271,1014.4 L1271,726.4" fill="none" stroke="#262626" stroke-width="1.8" stroke-linecap="square"/>
<line x1="909.7" y1="726.4" x2="914.7" y2="726.4" stroke="#262626" stroke-width="1.5"/><line x1="909.7" y1="774.4" x2="914.7" y2="774.4" stroke="#262626" stroke-width="1.5"/><line x1="909.7" y1="822.4" x2="914.7" y2="822.4" stroke="#262626" stroke-width="1.5"/><line x1="909.7" y1="870.4" x2="914.7" y2="870.4" stroke="#262626" stroke-width="1.5"/><line x1="909.7" y1="918.4" x2="914.7" y2="918.4" stroke="#262626" stroke-width="1.5"/><line x1="909.7" y1="966.4" x2="914.7" y2="966.4" stroke="#262626" stroke-width="1.5"/><line x1="909.7" y1="1014.4" x2="914.7" y2="1014.4" stroke="#262626" stroke-width="1.5"/>
<line x1="909.7" y1="750.4" x2="912.7" y2="750.4" stroke="#262626" stroke-width="1.5"/><line x1="909.7" y1="798.4" x2="912.7" y2="798.4" stroke="#262626" stroke-width="1.5"/><line x1="909.7" y1="846.4" x2="912.7" y2="846.4" stroke="#262626" stroke-width="1.5"/><line x1="909.7" y1="894.4" x2="912.7" y2="894.4" stroke="#262626" stroke-width="1.5"/><line x1="909.7" y1="942.4" x2="912.7" y2="942.4" stroke="#262626" stroke-width="1.5"/><line x1="909.7" y1="990.4" x2="912.7" y2="990.4" stroke="#262626" stroke-width="1.5"/>
<line x1="939.5" y1="1014.4" x2="939.5" y2="1009.4" stroke="#262626" stroke-width="1.5"/><line x1="999.7" y1="1014.4" x2="999.7" y2="1009.4" stroke="#262626" stroke-width="1.5"/><line x1="1059.8" y1="1014.4" x2="1059.8" y2="1009.4" stroke="#262626" stroke-width="1.5"/><line x1="1120" y1="1014.4" x2="1120" y2="1009.4" stroke="#262626" stroke-width="1.5"/><line x1="1180.1" y1="1014.4" x2="1180.1" y2="1009.4" stroke="#262626" stroke-width="1.5"/><line x1="1240.3" y1="1014.4" x2="1240.3" y2="1009.4" stroke="#262626" stroke-width="1.5"/>
<line x1="909.4" y1="1014.4" x2="909.4" y2="1011.4" stroke="#262626" stroke-width="1.5"/><line x1="969.6" y1="1014.4" x2="969.6" y2="1011.4" stroke="#262626" stroke-width="1.5"/><line x1="1029.7" y1="1014.4" x2="1029.7" y2="1011.4" stroke="#262626" stroke-width="1.5"/><line x1="1089.9" y1="1014.4" x2="1089.9" y2="1011.4" stroke="#262626" stroke-width="1.5"/><line x1="1150.1" y1="1014.4" x2="1150.1" y2="1011.4" stroke="#262626" stroke-width="1.5"/><line x1="1210.2" y1="1014.4" x2="1210.2" y2="1011.4" stroke="#262626" stroke-width="1.5"/><line x1="1270.4" y1="1014.4" x2="1270.4" y2="1011.4" stroke="#262626" stroke-width="1.5"/>
<text x="902.6" y="730.7" font-size="11.8" fill="#1c1c1c" text-anchor="end" font-weight="bold" font-family="'Liberation Sans', Arial, sans-serif" >4%</text>
<text x="902.6" y="778.7" font-size="11.8" fill="#1c1c1c" text-anchor="end" font-weight="bold" font-family="'Liberation Sans', Arial, sans-serif" >2%</text>
<text x="902.6" y="826.7" font-size="11.8" fill="#1c1c1c" text-anchor="end" font-weight="bold" font-family="'Liberation Sans', Arial, sans-serif" >0%</text>
<text x="902.6" y="874.7" font-size="11.8" fill="#1c1c1c" text-anchor="end" font-weight="bold" font-family="'Liberation Sans', Arial, sans-serif" >-2%</text>
<text x="902.6" y="922.7" font-size="11.8" fill="#1c1c1c" text-anchor="end" font-weight="bold" font-family="'Liberation Sans', Arial, sans-serif" >-4%</text>
<text x="902.6" y="970.7" font-size="11.8" fill="#1c1c1c" text-anchor="end" font-weight="bold" font-family="'Liberation Sans', Arial, sans-serif" >-6%</text>
<text x="902.6" y="1018.7" font-size="11.8" fill="#1c1c1c" text-anchor="end" font-weight="bold" font-family="'Liberation Sans', Arial, sans-serif" >-8%</text>
<text x="939.5" y="1031.3" font-size="12.3" fill="#1c1c1c" text-anchor="middle" font-weight="bold" font-family="'Liberation Sans', Arial, sans-serif" >1280</text>
<text x="999.7" y="1031.3" font-size="12.3" fill="#1c1c1c" text-anchor="middle" font-weight="bold" font-family="'Liberation Sans', Arial, sans-serif" >1300</text>
<text x="1059.8" y="1031.3" font-size="12.3" fill="#1c1c1c" text-anchor="middle" font-weight="bold" font-family="'Liberation Sans', Arial, sans-serif" >1320</text>
<text x="1120" y="1031.3" font-size="12.3" fill="#1c1c1c" text-anchor="middle" font-weight="bold" font-family="'Liberation Sans', Arial, sans-serif" >1340</text>
<text x="1180.1" y="1031.3" font-size="12.3" fill="#1c1c1c" text-anchor="middle" font-weight="bold" font-family="'Liberation Sans', Arial, sans-serif" >1360</text>
<text x="1240.3" y="1031.3" font-size="12.3" fill="#1c1c1c" text-anchor="middle" font-weight="bold" font-family="'Liberation Sans', Arial, sans-serif" >1380</text>
<text x="1090.2" y="1056.8" font-size="17.8" fill="#1c1c1c" text-anchor="middle" font-weight="bold" font-family="'Liberation Sans', Arial, sans-serif" >Frequency (MHz)</text>
<text transform="translate(871,871) scale(1.0,1) rotate(-90) scale(1.0,1)" x="0" y="0" font-size="17.5" fill="#1c1c1c" text-anchor="middle" font-weight="bold" font-family="'Liberation Sans', Arial, sans-serif" >ΔPL/PL</text>
<circle cx="1080.2" cy="737.4" r="2.2" fill="#f4a64c"/><circle cx="1091.3" cy="737.4" r="2.2" fill="#f4a64c"/><circle cx="1102.3" cy="737.4" r="2.2" fill="#f4a64c"/>
<text x="1113.3" y="741.9" font-size="13.3" fill="#1c1c1c" text-anchor="start" font-weight="bold" font-family="'Liberation Sans', Arial, sans-serif" >Off-resonance Confocal</text>
<circle cx="1080.2" cy="755.4" r="2.2" fill="#5aa8df"/><circle cx="1091.3" cy="755.4" r="2.2" fill="#5aa8df"/><circle cx="1102.3" cy="755.4" r="2.2" fill="#5aa8df"/>
<text x="1113.3" y="759.9" font-size="13.3" fill="#1c1c1c" text-anchor="start" font-weight="bold" font-family="'Liberation Sans', Arial, sans-serif" >Off-resonance Grating1</text>
<circle cx="1080.2" cy="774.1" r="2.2" fill="#7c1428"/><circle cx="1091.3" cy="774.1" r="2.2" fill="#7c1428"/><circle cx="1102.3" cy="774.1" r="2.2" fill="#7c1428"/>
<text x="1113.3" y="778.6" font-size="13.3" fill="#1c1c1c" text-anchor="start" font-weight="bold" font-family="'Liberation Sans', Arial, sans-serif" >On-resonance Grating1</text>
<text transform="translate(830.3,726.3) scale(1.054,1)" x="0" y="0" font-size="39" fill="#000" text-anchor="start" font-weight="normal" font-family="'Liberation Sans', Arial, sans-serif" >(i)</text>
<defs><clipPath id="clipJ"><rect x="1349.5" y="727.5" width="361" height="287.5"/></clipPath></defs>
<g clip-path="url(#clipJ)">
<circle cx="1383.3" cy="790.1" r="2.2" fill="#f4a64c"/><circle cx="1388.1" cy="793.1" r="2.2" fill="#f4a64c"/><circle cx="1392.9" cy="808" r="2.2" fill="#f4a64c"/><circle cx="1397.7" cy="820.4" r="2.2" fill="#f4a64c"/><circle cx="1402.5" cy="845" r="2.2" fill="#f4a64c"/><circle cx="1407.3" cy="846.5" r="2.2" fill="#f4a64c"/><circle cx="1412.1" cy="863.7" r="2.2" fill="#f4a64c"/><circle cx="1416.9" cy="879.3" r="2.2" fill="#f4a64c"/><circle cx="1421.7" cy="885.9" r="2.2" fill="#f4a64c"/><circle cx="1426.5" cy="887.6" r="2.2" fill="#f4a64c"/><circle cx="1431.3" cy="882.9" r="2.2" fill="#f4a64c"/><circle cx="1436" cy="868.4" r="2.2" fill="#f4a64c"/><circle cx="1440.8" cy="862.6" r="2.2" fill="#f4a64c"/><circle cx="1445.6" cy="861" r="2.2" fill="#f4a64c"/><circle cx="1450.4" cy="851.1" r="2.2" fill="#f4a64c"/><circle cx="1455.2" cy="828.4" r="2.2" fill="#f4a64c"/><circle cx="1460" cy="824.5" r="2.2" fill="#f4a64c"/><circle cx="1464.8" cy="825.7" r="2.2" fill="#f4a64c"/><circle cx="1469.6" cy="816.6" r="2.2" fill="#f4a64c"/><circle cx="1474.4" cy="814.6" r="2.2" fill="#f4a64c"/><circle cx="1479.2" cy="810.5" r="2.2" fill="#f4a64c"/><circle cx="1484" cy="808" r="2.2" fill="#f4a64c"/><circle cx="1488.8" cy="817.3" r="2.2" fill="#f4a64c"/><circle cx="1493.6" cy="818.8" r="2.2" fill="#f4a64c"/><circle cx="1498.4" cy="823.8" r="2.2" fill="#f4a64c"/><circle cx="1503.2" cy="829.3" r="2.2" fill="#f4a64c"/><circle cx="1508" cy="843.1" r="2.2" fill="#f4a64c"/><circle cx="1512.8" cy="846.9" r="2.2" fill="#f4a64c"/><circle cx="1517.6" cy="840.5" r="2.2" fill="#f4a64c"/><circle cx="1522.4" cy="855.3" r="2.2" fill="#f4a64c"/><circle cx="1527.2" cy="856.3" r="2.2" fill="#f4a64c"/><circle cx="1532" cy="854.7" r="2.2" fill="#f4a64c"/><circle cx="1536.8" cy="859" r="2.2" fill="#f4a64c"/><circle cx="1541.6" cy="855.7" r="2.2" fill="#f4a64c"/><circle cx="1546.4" cy="841.7" r="2.2" fill="#f4a64c"/><circle cx="1551.2" cy="839.7" r="2.2" fill="#f4a64c"/><circle cx="1555.9" cy="847.8" r="2.2" fill="#f4a64c"/><circle cx="1560.7" cy="837.5" r="2.2" fill="#f4a64c"/><circle cx="1565.5" cy="840.6" r="2.2" fill="#f4a64c"/><circle cx="1570.3" cy="838.7" r="2.2" fill="#f4a64c"/><circle cx="1575.1" cy="828.5" r="2.2" fill="#f4a64c"/><circle cx="1579.9" cy="819.3" r="2.2" fill="#f4a64c"/><circle cx="1584.7" cy="827.4" r="2.2" fill="#f4a64c"/><circle cx="1589.5" cy="820.1" r="2.2" fill="#f4a64c"/><circle cx="1594.3" cy="834.8" r="2.2" fill="#f4a64c"/><circle cx="1599.1" cy="830.8" r="2.2" fill="#f4a64c"/><circle cx="1603.9" cy="833.8" r="2.2" fill="#f4a64c"/><circle cx="1608.7" cy="836.6" r="2.2" fill="#f4a64c"/><circle cx="1613.5" cy="834.7" r="2.2" fill="#f4a64c"/><circle cx="1618.3" cy="839.3" r="2.2" fill="#f4a64c"/><circle cx="1623.1" cy="847.2" r="2.2" fill="#f4a64c"/><circle cx="1627.9" cy="852.8" r="2.2" fill="#f4a64c"/><circle cx="1632.7" cy="849.4" r="2.2" fill="#f4a64c"/><circle cx="1637.5" cy="846.8" r="2.2" fill="#f4a64c"/><circle cx="1642.3" cy="849" r="2.2" fill="#f4a64c"/><circle cx="1647.1" cy="852.9" r="2.2" fill="#f4a64c"/><circle cx="1651.9" cy="852.6" r="2.2" fill="#f4a64c"/><circle cx="1656.7" cy="837.6" r="2.2" fill="#f4a64c"/><circle cx="1661.5" cy="838.6" r="2.2" fill="#f4a64c"/><circle cx="1666.3" cy="841.1" r="2.2" fill="#f4a64c"/><circle cx="1671.1" cy="834.2" r="2.2" fill="#f4a64c"/>
<circle cx="1383.3" cy="780.7" r="2.2" fill="#5aa8df"/><circle cx="1388.1" cy="811.1" r="2.2" fill="#5aa8df"/><circle cx="1392.9" cy="818.4" r="2.2" fill="#5aa8df"/><circle cx="1397.7" cy="841.4" r="2.2" fill="#5aa8df"/><circle cx="1402.5" cy="890.8" r="2.2" fill="#5aa8df"/><circle cx="1407.3" cy="907.6" r="2.2" fill="#5aa8df"/><circle cx="1412.1" cy="913.9" r="2.2" fill="#5aa8df"/><circle cx="1416.9" cy="931.3" r="2.2" fill="#5aa8df"/><circle cx="1421.7" cy="936.3" r="2.2" fill="#5aa8df"/><circle cx="1426.5" cy="944.9" r="2.2" fill="#5aa8df"/><circle cx="1431.3" cy="925.2" r="2.2" fill="#5aa8df"/><circle cx="1436" cy="915.9" r="2.2" fill="#5aa8df"/><circle cx="1440.8" cy="907.5" r="2.2" fill="#5aa8df"/><circle cx="1445.6" cy="880.8" r="2.2" fill="#5aa8df"/><circle cx="1450.4" cy="867.4" r="2.2" fill="#5aa8df"/><circle cx="1455.2" cy="859.9" r="2.2" fill="#5aa8df"/><circle cx="1460" cy="832" r="2.2" fill="#5aa8df"/><circle cx="1464.8" cy="829" r="2.2" fill="#5aa8df"/><circle cx="1469.6" cy="802.6" r="2.2" fill="#5aa8df"/><circle cx="1474.4" cy="804.7" r="2.2" fill="#5aa8df"/><circle cx="1479.2" cy="804.9" r="2.2" fill="#5aa8df"/><circle cx="1484" cy="812.8" r="2.2" fill="#5aa8df"/><circle cx="1488.8" cy="804.3" r="2.2" fill="#5aa8df"/><circle cx="1493.6" cy="827.4" r="2.2" fill="#5aa8df"/><circle cx="1498.4" cy="843.4" r="2.2" fill="#5aa8df"/><circle cx="1503.2" cy="857.5" r="2.2" fill="#5aa8df"/><circle cx="1508" cy="864.5" r="2.2" fill="#5aa8df"/><circle cx="1512.8" cy="879.4" r="2.2" fill="#5aa8df"/><circle cx="1517.6" cy="890.2" r="2.2" fill="#5aa8df"/><circle cx="1522.4" cy="898.1" r="2.2" fill="#5aa8df"/><circle cx="1527.2" cy="888" r="2.2" fill="#5aa8df"/><circle cx="1532" cy="910.7" r="2.2" fill="#5aa8df"/><circle cx="1536.8" cy="908.8" r="2.2" fill="#5aa8df"/><circle cx="1541.6" cy="905.3" r="2.2" fill="#5aa8df"/><circle cx="1546.4" cy="884.3" r="2.2" fill="#5aa8df"/><circle cx="1551.2" cy="869.3" r="2.2" fill="#5aa8df"/><circle cx="1555.9" cy="868.6" r="2.2" fill="#5aa8df"/><circle cx="1560.7" cy="863.5" r="2.2" fill="#5aa8df"/><circle cx="1565.5" cy="853" r="2.2" fill="#5aa8df"/><circle cx="1570.3" cy="831.6" r="2.2" fill="#5aa8df"/><circle cx="1575.1" cy="824.5" r="2.2" fill="#5aa8df"/><circle cx="1579.9" cy="822.7" r="2.2" fill="#5aa8df"/><circle cx="1584.7" cy="832.5" r="2.2" fill="#5aa8df"/><circle cx="1589.5" cy="826.9" r="2.2" fill="#5aa8df"/><circle cx="1594.3" cy="832.6" r="2.2" fill="#5aa8df"/><circle cx="1599.1" cy="838.5" r="2.2" fill="#5aa8df"/><circle cx="1603.9" cy="841" r="2.2" fill="#5aa8df"/><circle cx="1608.7" cy="855.5" r="2.2" fill="#5aa8df"/><circle cx="1613.5" cy="860.4" r="2.2" fill="#5aa8df"/><circle cx="1618.3" cy="873.7" r="2.2" fill="#5aa8df"/><circle cx="1623.1" cy="878.5" r="2.2" fill="#5aa8df"/><circle cx="1627.9" cy="880.4" r="2.2" fill="#5aa8df"/><circle cx="1632.7" cy="901.1" r="2.2" fill="#5aa8df"/><circle cx="1637.5" cy="891.8" r="2.2" fill="#5aa8df"/><circle cx="1642.3" cy="891.4" r="2.2" fill="#5aa8df"/><circle cx="1647.1" cy="889.2" r="2.2" fill="#5aa8df"/><circle cx="1651.9" cy="880.8" r="2.2" fill="#5aa8df"/><circle cx="1656.7" cy="859.3" r="2.2" fill="#5aa8df"/><circle cx="1661.5" cy="872.8" r="2.2" fill="#5aa8df"/><circle cx="1666.3" cy="850.1" r="2.2" fill="#5aa8df"/><circle cx="1671.1" cy="866.8" r="2.2" fill="#5aa8df"/>
<circle cx="1383.3" cy="751.8" r="2.2" fill="#7c1428"/><circle cx="1388.1" cy="762.5" r="2.2" fill="#7c1428"/><circle cx="1392.9" cy="808.7" r="2.2" fill="#7c1428"/><circle cx="1397.7" cy="845.9" r="2.2" fill="#7c1428"/><circle cx="1402.5" cy="897.9" r="2.2" fill="#7c1428"/><circle cx="1407.3" cy="885.1" r="2.2" fill="#7c1428"/><circle cx="1412.1" cy="930.6" r="2.2" fill="#7c1428"/><circle cx="1416.9" cy="951.6" r="2.2" fill="#7c1428"/><circle cx="1421.7" cy="983.1" r="2.2" fill="#7c1428"/><circle cx="1426.5" cy="957.8" r="2.2" fill="#7c1428"/><circle cx="1431.3" cy="959.3" r="2.2" fill="#7c1428"/><circle cx="1436" cy="964.6" r="2.2" fill="#7c1428"/><circle cx="1440.8" cy="952.6" r="2.2" fill="#7c1428"/><circle cx="1445.6" cy="925.5" r="2.2" fill="#7c1428"/><circle cx="1450.4" cy="905.8" r="2.2" fill="#7c1428"/><circle cx="1455.2" cy="866" r="2.2" fill="#7c1428"/><circle cx="1460" cy="851.7" r="2.2" fill="#7c1428"/><circle cx="1464.8" cy="812.8" r="2.2" fill="#7c1428"/><circle cx="1469.6" cy="813.8" r="2.2" fill="#7c1428"/><circle cx="1474.4" cy="806.8" r="2.2" fill="#7c1428"/><circle cx="1479.2" cy="777.4" r="2.2" fill="#7c1428"/><circle cx="1484" cy="820.6" r="2.2" fill="#7c1428"/><circle cx="1488.8" cy="847.2" r="2.2" fill="#7c1428"/><circle cx="1493.6" cy="834.3" r="2.2" fill="#7c1428"/><circle cx="1498.4" cy="893.3" r="2.2" fill="#7c1428"/><circle cx="1503.2" cy="877.1" r="2.2" fill="#7c1428"/><circle cx="1508" cy="885.3" r="2.2" fill="#7c1428"/><circle cx="1512.8" cy="916.2" r="2.2" fill="#7c1428"/><circle cx="1517.6" cy="929.2" r="2.2" fill="#7c1428"/><circle cx="1522.4" cy="968.5" r="2.2" fill="#7c1428"/><circle cx="1527.2" cy="928.3" r="2.2" fill="#7c1428"/><circle cx="1532" cy="926.4" r="2.2" fill="#7c1428"/><circle cx="1536.8" cy="941.9" r="2.2" fill="#7c1428"/><circle cx="1541.6" cy="880.2" r="2.2" fill="#7c1428"/><circle cx="1546.4" cy="914.4" r="2.2" fill="#7c1428"/><circle cx="1551.2" cy="905.4" r="2.2" fill="#7c1428"/><circle cx="1555.9" cy="892" r="2.2" fill="#7c1428"/><circle cx="1560.7" cy="849.5" r="2.2" fill="#7c1428"/><circle cx="1565.5" cy="834.3" r="2.2" fill="#7c1428"/><circle cx="1570.3" cy="826.4" r="2.2" fill="#7c1428"/><circle cx="1575.1" cy="836.8" r="2.2" fill="#7c1428"/><circle cx="1579.9" cy="846.7" r="2.2" fill="#7c1428"/><circle cx="1584.7" cy="826.9" r="2.2" fill="#7c1428"/><circle cx="1589.5" cy="863.8" r="2.2" fill="#7c1428"/><circle cx="1594.3" cy="880.3" r="2.2" fill="#7c1428"/><circle cx="1599.1" cy="851.5" r="2.2" fill="#7c1428"/><circle cx="1603.9" cy="883" r="2.2" fill="#7c1428"/><circle cx="1608.7" cy="889.3" r="2.2" fill="#7c1428"/><circle cx="1613.5" cy="895.5" r="2.2" fill="#7c1428"/><circle cx="1618.3" cy="920.1" r="2.2" fill="#7c1428"/><circle cx="1623.1" cy="921.8" r="2.2" fill="#7c1428"/><circle cx="1627.9" cy="902.2" r="2.2" fill="#7c1428"/><circle cx="1632.7" cy="917.9" r="2.2" fill="#7c1428"/><circle cx="1637.5" cy="896.1" r="2.2" fill="#7c1428"/><circle cx="1642.3" cy="894.2" r="2.2" fill="#7c1428"/><circle cx="1647.1" cy="902.1" r="2.2" fill="#7c1428"/><circle cx="1651.9" cy="858.4" r="2.2" fill="#7c1428"/><circle cx="1656.7" cy="885.3" r="2.2" fill="#7c1428"/><circle cx="1661.5" cy="854" r="2.2" fill="#7c1428"/><circle cx="1666.3" cy="851.7" r="2.2" fill="#7c1428"/><circle cx="1671.1" cy="830.2" r="2.2" fill="#7c1428"/>
<path d="M1383.3,783.8 L1384,785.2 L1384.7,786.6 L1385.5,788.2 L1386.2,789.8 L1386.9,791.5 L1387.6,793.3 L1388.3,795.1 L1389.1,797 L1389.8,799 L1390.5,801 L1391.2,803.1 L1391.9,805.2 L1392.7,807.3 L1393.4,809.5 L1394.1,811.7 L1394.8,813.9 L1395.6,816.2 L1396.3,818.5 L1397,820.8 L1397.7,823.1 L1398.4,825.4 L1399.2,827.7 L1399.9,830 L1400.6,832.3 L1401.3,834.5 L1402,836.8 L1402.8,839 L1403.5,841.2 L1404.2,843.4 L1404.9,845.5 L1405.6,847.6 L1406.4,849.7 L1407.1,851.7 L1407.8,853.7 L1408.5,855.6 L1409.3,857.5 L1410,859.3 L1410.7,861.1 L1411.4,862.7 L1412.1,864.4 L1412.9,865.9 L1413.6,867.4 L1414.3,868.8 L1415,870.2 L1415.7,871.4 L1416.5,872.6 L1417.2,873.7 L1417.9,874.8 L1418.6,875.7 L1419.4,876.6 L1420.1,877.4 L1420.8,878.1 L1421.5,878.7 L1422.2,879.3 L1423,879.7 L1423.7,880.1 L1424.4,880.4 L1425.1,880.6 L1425.8,880.7 L1426.6,880.8 L1427.3,880.8 L1428,880.7 L1428.7,880.5 L1429.4,880.2 L1430.2,879.9 L1430.9,879.4 L1431.6,879 L1432.3,878.4 L1433.1,877.8 L1433.8,877.1 L1434.5,876.3 L1435.2,875.5 L1435.9,874.6 L1436.7,873.7 L1437.4,872.7 L1438.1,871.6 L1438.8,870.5 L1439.5,869.4 L1440.3,868.2 L1441,867 L1441.7,865.7 L1442.4,864.4 L1443.2,863.1 L1443.9,861.7 L1444.6,860.3 L1445.3,858.9 L1446,857.4 L1446.8,856 L1447.5,854.5 L1448.2,853 L1448.9,851.5 L1449.6,850 L1450.4,848.5 L1451.1,847 L1451.8,845.4 L1452.5,843.9 L1453.2,842.4 L1454,840.9 L1454.7,839.5 L1455.4,838 L1456.1,836.6 L1456.9,835.2 L1457.6,833.8 L1458.3,832.4 L1459,831 L1459.7,829.7 L1460.5,828.5 L1461.2,827.2 L1461.9,826 L1462.6,824.8 L1463.3,823.7 L1464.1,822.6 L1464.8,821.6 L1465.5,820.6 L1466.2,819.6 L1467,818.7 L1467.7,817.8 L1468.4,817 L1469.1,816.3 L1469.8,815.6 L1470.6,814.9 L1471.3,814.3 L1472,813.8 L1472.7,813.3 L1473.4,812.8 L1474.2,812.5 L1474.9,812.1 L1475.6,811.9 L1476.3,811.6 L1477,811.5 L1477.8,811.4 L1478.5,811.3 L1479.2,811.3 L1479.9,811.3 L1480.7,811.4 L1481.4,811.6 L1482.1,811.8 L1482.8,812 L1483.5,812.3 L1484.3,812.7 L1485,813.1 L1485.7,813.5 L1486.4,814 L1487.1,814.5 L1487.9,815.1 L1488.6,815.7 L1489.3,816.3 L1490,817 L1490.8,817.7 L1491.5,818.4 L1492.2,819.2 L1492.9,820 L1493.6,820.8 L1494.4,821.6 L1495.1,822.5 L1495.8,823.4 L1496.5,824.3 L1497.2,825.3 L1498,826.2 L1498.7,827.2 L1499.4,828.1 L1500.1,829.1 L1500.8,830.1 L1501.6,831.1 L1502.3,832.1 L1503,833.1 L1503.7,834.1 L1504.5,835 L1505.2,836 L1505.9,837 L1506.6,838 L1507.3,839 L1508.1,839.9 L1508.8,840.9 L1509.5,841.8 L1510.2,842.7 L1510.9,843.6 L1511.7,844.5 L1512.4,845.3 L1513.1,846.1 L1513.8,846.9 L1514.6,847.7 L1515.3,848.5 L1516,849.2 L1516.7,849.9 L1517.4,850.6 L1518.2,851.2 L1518.9,851.8 L1519.6,852.4 L1520.3,853 L1521,853.5 L1521.8,854 L1522.5,854.4 L1523.2,854.8 L1523.9,855.2 L1524.6,855.5 L1525.4,855.8 L1526.1,856.1 L1526.8,856.3 L1527.5,856.5 L1528.3,856.7 L1529,856.8 L1529.7,856.9 L1530.4,857 L1531.1,857 L1531.9,857 L1532.6,856.9 L1533.3,856.8 L1534,856.7 L1534.7,856.6 L1535.5,856.4 L1536.2,856.2 L1536.9,856 L1537.6,855.7 L1538.4,855.4 L1539.1,855.1 L1539.8,854.7 L1540.5,854.3 L1541.2,853.9 L1542,853.5 L1542.7,853 L1543.4,852.5 L1544.1,852.1 L1544.8,851.5 L1545.6,851 L1546.3,850.5 L1547,849.9 L1547.7,849.3 L1548.4,848.7 L1549.2,848.1 L1549.9,847.5 L1550.6,846.9 L1551.3,846.2 L1552.1,845.6 L1552.8,845 L1553.5,844.3 L1554.2,843.6 L1554.9,843 L1555.7,842.3 L1556.4,841.7 L1557.1,841 L1557.8,840.4 L1558.5,839.7 L1559.3,839.1 L1560,838.5 L1560.7,837.9 L1561.4,837.2 L1562.2,836.6 L1562.9,836 L1563.6,835.5 L1564.3,834.9 L1565,834.3 L1565.8,833.8 L1566.5,833.3 L1567.2,832.8 L1567.9,832.3 L1568.6,831.8 L1569.4,831.4 L1570.1,830.9 L1570.8,830.5 L1571.5,830.1 L1572.2,829.8 L1573,829.4 L1573.7,829.1 L1574.4,828.8 L1575.1,828.5 L1575.9,828.2 L1576.6,828 L1577.3,827.8 L1578,827.6 L1578.7,827.4 L1579.5,827.3 L1580.2,827.2 L1580.9,827.1 L1581.6,827 L1582.3,827 L1583.1,826.9 L1583.8,826.9 L1584.5,827 L1585.2,827 L1586,827.1 L1586.7,827.2 L1587.4,827.3 L1588.1,827.4 L1588.8,827.5 L1589.6,827.7 L1590.3,827.9 L1591,828.1 L1591.7,828.3 L1592.4,828.6 L1593.2,828.8 L1593.9,829.1 L1594.6,829.4 L1595.3,829.7 L1596,830 L1596.8,830.4 L1597.5,830.7 L1598.2,831.1 L1598.9,831.4 L1599.7,831.8 L1600.4,832.2 L1601.1,832.6 L1601.8,833 L1602.5,833.4 L1603.3,833.8 L1604,834.2 L1604.7,834.7 L1605.4,835.1 L1606.1,835.5 L1606.9,835.9 L1607.6,836.4 L1608.3,836.8 L1609,837.2 L1609.7,837.7 L1610.5,838.1 L1611.2,838.5 L1611.9,838.9 L1612.6,839.3 L1613.4,839.7 L1614.1,840.1 L1614.8,840.5 L1615.5,840.9 L1616.2,841.3 L1617,841.7 L1617.7,842 L1618.4,842.4 L1619.1,842.7 L1619.8,843 L1620.6,843.3 L1621.3,843.6 L1622,843.9 L1622.7,844.2 L1623.5,844.5 L1624.2,844.7 L1624.9,845 L1625.6,845.2 L1626.3,845.4 L1627.1,845.6 L1627.8,845.8 L1628.5,845.9 L1629.2,846.1 L1629.9,846.2 L1630.7,846.3 L1631.4,846.4 L1632.1,846.5 L1632.8,846.6 L1633.5,846.6 L1634.3,846.7 L1635,846.7 L1635.7,846.7 L1636.4,846.7 L1637.2,846.7 L1637.9,846.6 L1638.6,846.6 L1639.3,846.5 L1640,846.4 L1640.8,846.4 L1641.5,846.2 L1642.2,846.1 L1642.9,846 L1643.6,845.9 L1644.4,845.7 L1645.1,845.5 L1645.8,845.4 L1646.5,845.2 L1647.3,845 L1648,844.8 L1648.7,844.6 L1649.4,844.3 L1650.1,844.1 L1650.9,843.9 L1651.6,843.6 L1652.3,843.4 L1653,843.1 L1653.7,842.9 L1654.5,842.6 L1655.2,842.3 L1655.9,842 L1656.6,841.8 L1657.3,841.5 L1658.1,841.2 L1658.8,840.9 L1659.5,840.6 L1660.2,840.4 L1661,840.1 L1661.7,839.8 L1662.4,839.5 L1663.1,839.2 L1663.8,839 L1664.6,838.7 L1665.3,838.4 L1666,838.2 L1666.7,837.9 L1667.4,837.6 L1668.2,837.4 L1668.9,837.1 L1669.6,836.9 L1670.3,836.7 L1671.1,836.4" fill="none" stroke="#f3ad62" stroke-width="1.6" stroke-linejoin="round" />
<path d="M1383.3,783.4 L1384,785.9 L1384.7,788.5 L1385.5,791.2 L1386.2,794.1 L1386.9,797.1 L1387.6,800.1 L1388.3,803.3 L1389.1,806.5 L1389.8,809.8 L1390.5,813.2 L1391.2,816.7 L1391.9,820.2 L1392.7,823.8 L1393.4,827.4 L1394.1,831.1 L1394.8,834.7 L1395.6,838.5 L1396.3,842.2 L1397,845.9 L1397.7,849.7 L1398.4,853.4 L1399.2,857.1 L1399.9,860.8 L1400.6,864.5 L1401.3,868.2 L1402,871.8 L1402.8,875.4 L1403.5,878.9 L1404.2,882.4 L1404.9,885.8 L1405.6,889.1 L1406.4,892.4 L1407.1,895.6 L1407.8,898.7 L1408.5,901.7 L1409.3,904.6 L1410,907.4 L1410.7,910.2 L1411.4,912.8 L1412.1,915.3 L1412.9,917.6 L1413.6,919.9 L1414.3,922 L1415,924 L1415.7,925.9 L1416.5,927.7 L1417.2,929.3 L1417.9,930.8 L1418.6,932.1 L1419.4,933.3 L1420.1,934.4 L1420.8,935.3 L1421.5,936.1 L1422.2,936.7 L1423,937.2 L1423.7,937.5 L1424.4,937.7 L1425.1,937.8 L1425.8,937.7 L1426.6,937.5 L1427.3,937.2 L1428,936.7 L1428.7,936 L1429.4,935.3 L1430.2,934.4 L1430.9,933.4 L1431.6,932.2 L1432.3,931 L1433.1,929.6 L1433.8,928.1 L1434.5,926.5 L1435.2,924.7 L1435.9,922.9 L1436.7,921 L1437.4,919 L1438.1,916.9 L1438.8,914.7 L1439.5,912.4 L1440.3,910 L1441,907.6 L1441.7,905.1 L1442.4,902.5 L1443.2,899.9 L1443.9,897.2 L1444.6,894.5 L1445.3,891.8 L1446,889 L1446.8,886.1 L1447.5,883.3 L1448.2,880.4 L1448.9,877.5 L1449.6,874.6 L1450.4,871.7 L1451.1,868.8 L1451.8,866 L1452.5,863.1 L1453.2,860.2 L1454,857.4 L1454.7,854.6 L1455.4,851.8 L1456.1,849.1 L1456.9,846.4 L1457.6,843.7 L1458.3,841.1 L1459,838.6 L1459.7,836.1 L1460.5,833.7 L1461.2,831.4 L1461.9,829.1 L1462.6,826.9 L1463.3,824.8 L1464.1,822.8 L1464.8,820.8 L1465.5,819 L1466.2,817.2 L1467,815.5 L1467.7,814 L1468.4,812.5 L1469.1,811.1 L1469.8,809.8 L1470.6,808.7 L1471.3,807.6 L1472,806.7 L1472.7,805.8 L1473.4,805.1 L1474.2,804.5 L1474.9,804 L1475.6,803.6 L1476.3,803.3 L1477,803.1 L1477.8,803.1 L1478.5,803.1 L1479.2,803.3 L1479.9,803.5 L1480.7,803.9 L1481.4,804.4 L1482.1,804.9 L1482.8,805.6 L1483.5,806.4 L1484.3,807.2 L1485,808.2 L1485.7,809.3 L1486.4,810.4 L1487.1,811.6 L1487.9,813 L1488.6,814.4 L1489.3,815.8 L1490,817.4 L1490.8,819 L1491.5,820.7 L1492.2,822.5 L1492.9,824.3 L1493.6,826.2 L1494.4,828.1 L1495.1,830.1 L1495.8,832.1 L1496.5,834.2 L1497.2,836.3 L1498,838.4 L1498.7,840.5 L1499.4,842.7 L1500.1,844.9 L1500.8,847.2 L1501.6,849.4 L1502.3,851.6 L1503,853.9 L1503.7,856.1 L1504.5,858.4 L1505.2,860.6 L1505.9,862.8 L1506.6,865 L1507.3,867.2 L1508.1,869.3 L1508.8,871.5 L1509.5,873.5 L1510.2,875.6 L1510.9,877.6 L1511.7,879.6 L1512.4,881.5 L1513.1,883.4 L1513.8,885.2 L1514.6,887 L1515.3,888.7 L1516,890.3 L1516.7,891.9 L1517.4,893.4 L1518.2,894.9 L1518.9,896.3 L1519.6,897.6 L1520.3,898.8 L1521,899.9 L1521.8,901 L1522.5,902 L1523.2,902.9 L1523.9,903.7 L1524.6,904.5 L1525.4,905.1 L1526.1,905.7 L1526.8,906.2 L1527.5,906.6 L1528.3,906.9 L1529,907.2 L1529.7,907.3 L1530.4,907.4 L1531.1,907.4 L1531.9,907.3 L1532.6,907.1 L1533.3,906.8 L1534,906.5 L1534.7,906 L1535.5,905.5 L1536.2,904.9 L1536.9,904.3 L1537.6,903.5 L1538.4,902.7 L1539.1,901.8 L1539.8,900.9 L1540.5,899.9 L1541.2,898.8 L1542,897.7 L1542.7,896.5 L1543.4,895.2 L1544.1,893.9 L1544.8,892.6 L1545.6,891.2 L1546.3,889.7 L1547,888.2 L1547.7,886.7 L1548.4,885.1 L1549.2,883.6 L1549.9,881.9 L1550.6,880.3 L1551.3,878.6 L1552.1,876.9 L1552.8,875.2 L1553.5,873.5 L1554.2,871.8 L1554.9,870 L1555.7,868.3 L1556.4,866.6 L1557.1,864.8 L1557.8,863.1 L1558.5,861.4 L1559.3,859.7 L1560,858 L1560.7,856.3 L1561.4,854.7 L1562.2,853.1 L1562.9,851.5 L1563.6,849.9 L1564.3,848.4 L1565,846.9 L1565.8,845.4 L1566.5,844 L1567.2,842.6 L1567.9,841.3 L1568.6,840 L1569.4,838.8 L1570.1,837.6 L1570.8,836.5 L1571.5,835.4 L1572.2,834.4 L1573,833.4 L1573.7,832.5 L1574.4,831.7 L1575.1,830.9 L1575.9,830.2 L1576.6,829.5 L1577.3,828.9 L1578,828.4 L1578.7,828 L1579.5,827.6 L1580.2,827.3 L1580.9,827 L1581.6,826.8 L1582.3,826.7 L1583.1,826.6 L1583.8,826.6 L1584.5,826.7 L1585.2,826.8 L1586,827 L1586.7,827.3 L1587.4,827.6 L1588.1,828 L1588.8,828.4 L1589.6,829 L1590.3,829.5 L1591,830.1 L1591.7,830.8 L1592.4,831.5 L1593.2,832.3 L1593.9,833.1 L1594.6,834 L1595.3,834.9 L1596,835.9 L1596.8,836.9 L1597.5,837.9 L1598.2,839 L1598.9,840.1 L1599.7,841.3 L1600.4,842.4 L1601.1,843.6 L1601.8,844.9 L1602.5,846.1 L1603.3,847.4 L1604,848.7 L1604.7,850 L1605.4,851.3 L1606.1,852.6 L1606.9,854 L1607.6,855.3 L1608.3,856.7 L1609,858 L1609.7,859.4 L1610.5,860.7 L1611.2,862 L1611.9,863.3 L1612.6,864.7 L1613.4,866 L1614.1,867.2 L1614.8,868.5 L1615.5,869.7 L1616.2,870.9 L1617,872.1 L1617.7,873.3 L1618.4,874.4 L1619.1,875.5 L1619.8,876.6 L1620.6,877.6 L1621.3,878.6 L1622,879.6 L1622.7,880.5 L1623.5,881.4 L1624.2,882.2 L1624.9,883 L1625.6,883.8 L1626.3,884.5 L1627.1,885.1 L1627.8,885.7 L1628.5,886.3 L1629.2,886.8 L1629.9,887.3 L1630.7,887.7 L1631.4,888.1 L1632.1,888.4 L1632.8,888.6 L1633.5,888.8 L1634.3,889 L1635,889.1 L1635.7,889.1 L1636.4,889.2 L1637.2,889.1 L1637.9,889 L1638.6,888.9 L1639.3,888.7 L1640,888.4 L1640.8,888.1 L1641.5,887.8 L1642.2,887.4 L1642.9,887 L1643.6,886.5 L1644.4,886 L1645.1,885.4 L1645.8,884.8 L1646.5,884.2 L1647.3,883.5 L1648,882.8 L1648.7,882.1 L1649.4,881.3 L1650.1,880.5 L1650.9,879.7 L1651.6,878.8 L1652.3,877.9 L1653,877 L1653.7,876.1 L1654.5,875.2 L1655.2,874.2 L1655.9,873.2 L1656.6,872.2 L1657.3,871.2 L1658.1,870.2 L1658.8,869.2 L1659.5,868.1 L1660.2,867.1 L1661,866 L1661.7,865 L1662.4,864 L1663.1,862.9 L1663.8,861.9 L1664.6,860.9 L1665.3,859.8 L1666,858.8 L1666.7,857.9 L1667.4,856.9 L1668.2,855.9 L1668.9,855 L1669.6,854 L1670.3,853.1 L1671.1,852.3" fill="none" stroke="#74b6e4" stroke-width="1.6" stroke-linejoin="round" />
<path d="M1383.3,755.6 L1384,757.6 L1384.7,759.9 L1385.5,762.3 L1386.2,765 L1386.9,767.9 L1387.6,771 L1388.3,774.4 L1389.1,777.9 L1389.8,781.6 L1390.5,785.5 L1391.2,789.5 L1391.9,793.7 L1392.7,798.1 L1393.4,802.6 L1394.1,807.2 L1394.8,812 L1395.6,816.8 L1396.3,821.7 L1397,826.7 L1397.7,831.8 L1398.4,837 L1399.2,842.2 L1399.9,847.4 L1400.6,852.7 L1401.3,857.9 L1402,863.2 L1402.8,868.5 L1403.5,873.7 L1404.2,878.9 L1404.9,884.1 L1405.6,889.2 L1406.4,894.3 L1407.1,899.2 L1407.8,904.1 L1408.5,909 L1409.3,913.7 L1410,918.2 L1410.7,922.7 L1411.4,927.1 L1412.1,931.3 L1412.9,935.3 L1413.6,939.2 L1414.3,943 L1415,946.6 L1415.7,950 L1416.5,953.2 L1417.2,956.2 L1417.9,959.1 L1418.6,961.7 L1419.4,964.2 L1420.1,966.4 L1420.8,968.5 L1421.5,970.3 L1422.2,972 L1423,973.4 L1423.7,974.6 L1424.4,975.6 L1425.1,976.3 L1425.8,976.9 L1426.6,977.2 L1427.3,977.3 L1428,977.2 L1428.7,976.9 L1429.4,976.4 L1430.2,975.7 L1430.9,974.8 L1431.6,973.7 L1432.3,972.4 L1433.1,970.8 L1433.8,969.2 L1434.5,967.3 L1435.2,965.2 L1435.9,963 L1436.7,960.6 L1437.4,958.1 L1438.1,955.4 L1438.8,952.5 L1439.5,949.5 L1440.3,946.4 L1441,943.2 L1441.7,939.8 L1442.4,936.4 L1443.2,932.8 L1443.9,929.1 L1444.6,925.4 L1445.3,921.6 L1446,917.7 L1446.8,913.8 L1447.5,909.8 L1448.2,905.8 L1448.9,901.8 L1449.6,897.7 L1450.4,893.6 L1451.1,889.5 L1451.8,885.5 L1452.5,881.4 L1453.2,877.4 L1454,873.4 L1454.7,869.4 L1455.4,865.5 L1456.1,861.6 L1456.9,857.8 L1457.6,854.1 L1458.3,850.4 L1459,846.8 L1459.7,843.4 L1460.5,840 L1461.2,836.7 L1461.9,833.6 L1462.6,830.5 L1463.3,827.6 L1464.1,824.8 L1464.8,822.2 L1465.5,819.6 L1466.2,817.3 L1467,815 L1467.7,812.9 L1468.4,811 L1469.1,809.3 L1469.8,807.6 L1470.6,806.2 L1471.3,804.9 L1472,803.8 L1472.7,802.8 L1473.4,802 L1474.2,801.4 L1474.9,801 L1475.6,800.7 L1476.3,800.5 L1477,800.6 L1477.8,800.8 L1478.5,801.2 L1479.2,801.7 L1479.9,802.4 L1480.7,803.2 L1481.4,804.2 L1482.1,805.4 L1482.8,806.7 L1483.5,808.1 L1484.3,809.7 L1485,811.4 L1485.7,813.2 L1486.4,815.1 L1487.1,817.2 L1487.9,819.4 L1488.6,821.7 L1489.3,824.1 L1490,826.6 L1490.8,829.2 L1491.5,831.8 L1492.2,834.6 L1492.9,837.4 L1493.6,840.3 L1494.4,843.2 L1495.1,846.2 L1495.8,849.2 L1496.5,852.3 L1497.2,855.4 L1498,858.5 L1498.7,861.7 L1499.4,864.8 L1500.1,868 L1500.8,871.1 L1501.6,874.3 L1502.3,877.4 L1503,880.5 L1503.7,883.6 L1504.5,886.6 L1505.2,889.6 L1505.9,892.6 L1506.6,895.5 L1507.3,898.3 L1508.1,901.1 L1508.8,903.8 L1509.5,906.4 L1510.2,909 L1510.9,911.4 L1511.7,913.8 L1512.4,916.1 L1513.1,918.2 L1513.8,920.3 L1514.6,922.3 L1515.3,924.1 L1516,925.9 L1516.7,927.5 L1517.4,929 L1518.2,930.4 L1518.9,931.7 L1519.6,932.8 L1520.3,933.8 L1521,934.7 L1521.8,935.5 L1522.5,936.1 L1523.2,936.6 L1523.9,937 L1524.6,937.2 L1525.4,937.4 L1526.1,937.3 L1526.8,937.2 L1527.5,936.9 L1528.3,936.6 L1529,936 L1529.7,935.4 L1530.4,934.7 L1531.1,933.8 L1531.9,932.8 L1532.6,931.7 L1533.3,930.5 L1534,929.2 L1534.7,927.8 L1535.5,926.3 L1536.2,924.7 L1536.9,923.1 L1537.6,921.3 L1538.4,919.5 L1539.1,917.5 L1539.8,915.6 L1540.5,913.5 L1541.2,911.4 L1542,909.2 L1542.7,907 L1543.4,904.7 L1544.1,902.4 L1544.8,900.1 L1545.6,897.7 L1546.3,895.3 L1547,892.9 L1547.7,890.5 L1548.4,888 L1549.2,885.6 L1549.9,883.1 L1550.6,880.7 L1551.3,878.3 L1552.1,875.9 L1552.8,873.5 L1553.5,871.1 L1554.2,868.8 L1554.9,866.5 L1555.7,864.3 L1556.4,862.1 L1557.1,859.9 L1557.8,857.8 L1558.5,855.8 L1559.3,853.8 L1560,851.9 L1560.7,850 L1561.4,848.2 L1562.2,846.5 L1562.9,844.9 L1563.6,843.4 L1564.3,841.9 L1565,840.6 L1565.8,839.3 L1566.5,838.1 L1567.2,837 L1567.9,836 L1568.6,835.1 L1569.4,834.3 L1570.1,833.6 L1570.8,833 L1571.5,832.5 L1572.2,832.1 L1573,831.8 L1573.7,831.6 L1574.4,831.5 L1575.1,831.5 L1575.9,831.6 L1576.6,831.8 L1577.3,832.1 L1578,832.4 L1578.7,832.9 L1579.5,833.5 L1580.2,834.1 L1580.9,834.9 L1581.6,835.7 L1582.3,836.6 L1583.1,837.6 L1583.8,838.7 L1584.5,839.8 L1585.2,841 L1586,842.3 L1586.7,843.7 L1587.4,845.1 L1588.1,846.6 L1588.8,848.1 L1589.6,849.7 L1590.3,851.3 L1591,853 L1591.7,854.7 L1592.4,856.4 L1593.2,858.2 L1593.9,860 L1594.6,861.9 L1595.3,863.7 L1596,865.6 L1596.8,867.5 L1597.5,869.4 L1598.2,871.3 L1598.9,873.1 L1599.7,875 L1600.4,876.9 L1601.1,878.8 L1601.8,880.6 L1602.5,882.5 L1603.3,884.3 L1604,886 L1604.7,887.8 L1605.4,889.5 L1606.1,891.2 L1606.9,892.8 L1607.6,894.4 L1608.3,895.9 L1609,897.4 L1609.7,898.9 L1610.5,900.2 L1611.2,901.6 L1611.9,902.8 L1612.6,904 L1613.4,905.2 L1614.1,906.2 L1614.8,907.2 L1615.5,908.1 L1616.2,909 L1617,909.8 L1617.7,910.5 L1618.4,911.1 L1619.1,911.7 L1619.8,912.2 L1620.6,912.6 L1621.3,912.9 L1622,913.1 L1622.7,913.3 L1623.5,913.4 L1624.2,913.4 L1624.9,913.4 L1625.6,913.2 L1626.3,913 L1627.1,912.7 L1627.8,912.4 L1628.5,912 L1629.2,911.5 L1629.9,910.9 L1630.7,910.3 L1631.4,909.6 L1632.1,908.8 L1632.8,908 L1633.5,907.1 L1634.3,906.2 L1635,905.2 L1635.7,904.2 L1636.4,903.1 L1637.2,901.9 L1637.9,900.8 L1638.6,899.5 L1639.3,898.3 L1640,897 L1640.8,895.7 L1641.5,894.3 L1642.2,893 L1642.9,891.6 L1643.6,890.1 L1644.4,888.7 L1645.1,887.3 L1645.8,885.8 L1646.5,884.3 L1647.3,882.9 L1648,881.4 L1648.7,880 L1649.4,878.5 L1650.1,877.1 L1650.9,875.6 L1651.6,874.2 L1652.3,872.8 L1653,871.4 L1653.7,870.1 L1654.5,868.7 L1655.2,867.4 L1655.9,866.2 L1656.6,864.9 L1657.3,863.7 L1658.1,862.6 L1658.8,861.5 L1659.5,860.4 L1660.2,859.4 L1661,858.4 L1661.7,857.4 L1662.4,856.5 L1663.1,855.7 L1663.8,854.9 L1664.6,854.2 L1665.3,853.5 L1666,852.9 L1666.7,852.4 L1667.4,851.9 L1668.2,851.4 L1668.9,851 L1669.6,850.7 L1670.3,850.5 L1671.1,850.2" fill="none" stroke="#b0445a" stroke-width="1.6" stroke-linejoin="round" />
</g>
<path d="M1710.5,727.5 L1349.5,727.5 L1349.5,1015 L1710.5,1015 L1710.5,727.5" fill="none" stroke="#262626" stroke-width="1.8" stroke-linecap="square"/>
<line x1="1349.5" y1="771.3" x2="1354.5" y2="771.3" stroke="#262626" stroke-width="1.5"/><line x1="1349.5" y1="828.8" x2="1354.5" y2="828.8" stroke="#262626" stroke-width="1.5"/><line x1="1349.5" y1="886.3" x2="1354.5" y2="886.3" stroke="#262626" stroke-width="1.5"/><line x1="1349.5" y1="943.8" x2="1354.5" y2="943.8" stroke="#262626" stroke-width="1.5"/><line x1="1349.5" y1="1001.3" x2="1354.5" y2="1001.3" stroke="#262626" stroke-width="1.5"/>
<line x1="1349.5" y1="742.5" x2="1352.5" y2="742.5" stroke="#262626" stroke-width="1.5"/><line x1="1349.5" y1="800" x2="1352.5" y2="800" stroke="#262626" stroke-width="1.5"/><line x1="1349.5" y1="857.5" x2="1352.5" y2="857.5" stroke="#262626" stroke-width="1.5"/><line x1="1349.5" y1="915" x2="1352.5" y2="915" stroke="#262626" stroke-width="1.5"/><line x1="1349.5" y1="972.5" x2="1352.5" y2="972.5" stroke="#262626" stroke-width="1.5"/>
<line x1="1373.7" y1="1015" x2="1373.7" y2="1010" stroke="#262626" stroke-width="1.5"/><line x1="1421.7" y1="1015" x2="1421.7" y2="1010" stroke="#262626" stroke-width="1.5"/><line x1="1469.6" y1="1015" x2="1469.6" y2="1010" stroke="#262626" stroke-width="1.5"/><line x1="1517.6" y1="1015" x2="1517.6" y2="1010" stroke="#262626" stroke-width="1.5"/><line x1="1565.5" y1="1015" x2="1565.5" y2="1010" stroke="#262626" stroke-width="1.5"/><line x1="1613.5" y1="1015" x2="1613.5" y2="1010" stroke="#262626" stroke-width="1.5"/><line x1="1661.5" y1="1015" x2="1661.5" y2="1010" stroke="#262626" stroke-width="1.5"/><line x1="1709.4" y1="1015" x2="1709.4" y2="1010" stroke="#262626" stroke-width="1.5"/>
<line x1="1349.7" y1="1015" x2="1349.7" y2="1012" stroke="#262626" stroke-width="1.5"/><line x1="1397.7" y1="1015" x2="1397.7" y2="1012" stroke="#262626" stroke-width="1.5"/><line x1="1445.6" y1="1015" x2="1445.6" y2="1012" stroke="#262626" stroke-width="1.5"/><line x1="1493.6" y1="1015" x2="1493.6" y2="1012" stroke="#262626" stroke-width="1.5"/><line x1="1541.6" y1="1015" x2="1541.6" y2="1012" stroke="#262626" stroke-width="1.5"/><line x1="1589.5" y1="1015" x2="1589.5" y2="1012" stroke="#262626" stroke-width="1.5"/><line x1="1637.5" y1="1015" x2="1637.5" y2="1012" stroke="#262626" stroke-width="1.5"/><line x1="1685.4" y1="1015" x2="1685.4" y2="1012" stroke="#262626" stroke-width="1.5"/>
<text x="1341.5" y="775.6" font-size="11.8" fill="#1c1c1c" text-anchor="end" font-weight="bold" font-family="'Liberation Sans', Arial, sans-serif" >0%</text>
<text x="1341.5" y="833.1" font-size="11.8" fill="#1c1c1c" text-anchor="end" font-weight="bold" font-family="'Liberation Sans', Arial, sans-serif" >-2%</text>
<text x="1341.5" y="890.6" font-size="11.8" fill="#1c1c1c" text-anchor="end" font-weight="bold" font-family="'Liberation Sans', Arial, sans-serif" >-4%</text>
<text x="1341.5" y="948.1" font-size="11.8" fill="#1c1c1c" text-anchor="end" font-weight="bold" font-family="'Liberation Sans', Arial, sans-serif" >-6%</text>
<text x="1341.5" y="1005.6" font-size="11.8" fill="#1c1c1c" text-anchor="end" font-weight="bold" font-family="'Liberation Sans', Arial, sans-serif" >-8%</text>
<text x="1373.7" y="1032" font-size="12.3" fill="#1c1c1c" text-anchor="middle" font-weight="bold" font-family="'Liberation Sans', Arial, sans-serif" >0.0</text>
<text x="1421.7" y="1032" font-size="12.3" fill="#1c1c1c" text-anchor="middle" font-weight="bold" font-family="'Liberation Sans', Arial, sans-serif" >0.1</text>
<text x="1469.6" y="1032" font-size="12.3" fill="#1c1c1c" text-anchor="middle" font-weight="bold" font-family="'Liberation Sans', Arial, sans-serif" >0.2</text>
<text x="1517.6" y="1032" font-size="12.3" fill="#1c1c1c" text-anchor="middle" font-weight="bold" font-family="'Liberation Sans', Arial, sans-serif" >0.3</text>
<text x="1565.5" y="1032" font-size="12.3" fill="#1c1c1c" text-anchor="middle" font-weight="bold" font-family="'Liberation Sans', Arial, sans-serif" >0.4</text>
<text x="1613.5" y="1032" font-size="12.3" fill="#1c1c1c" text-anchor="middle" font-weight="bold" font-family="'Liberation Sans', Arial, sans-serif" >0.5</text>
<text x="1661.5" y="1032" font-size="12.3" fill="#1c1c1c" text-anchor="middle" font-weight="bold" font-family="'Liberation Sans', Arial, sans-serif" >0.6</text>
<text x="1709.4" y="1032" font-size="12.3" fill="#1c1c1c" text-anchor="middle" font-weight="bold" font-family="'Liberation Sans', Arial, sans-serif" >0.7</text>
<text x="1529.4" y="1054.5" font-size="17.9" fill="#1c1c1c" text-anchor="middle" font-weight="bold" font-family="'Liberation Sans', Arial, sans-serif" >Pulse duration (μs)</text>
<text transform="translate(1319,871) scale(1.0,1) rotate(-90) scale(1.0,1)" x="0" y="0" font-size="17.5" fill="#1c1c1c" text-anchor="middle" font-weight="bold" font-family="'Liberation Sans', Arial, sans-serif" >ΔPL/PL</text>
<circle cx="1521.2" cy="738.2" r="2.2" fill="#f4a64c"/><circle cx="1533.9" cy="738.2" r="2.2" fill="#f4a64c"/><circle cx="1546.7" cy="738.2" r="2.2" fill="#f4a64c"/>
<text x="1554" y="742.7" font-size="13.3" fill="#1c1c1c" text-anchor="start" font-weight="bold" font-family="'Liberation Sans', Arial, sans-serif" >Off-resonance Confocal</text>
<circle cx="1521.2" cy="757.2" r="2.2" fill="#5aa8df"/><circle cx="1533.9" cy="757.2" r="2.2" fill="#5aa8df"/><circle cx="1546.7" cy="757.2" r="2.2" fill="#5aa8df"/>
<text x="1554" y="761.7" font-size="13.3" fill="#1c1c1c" text-anchor="start" font-weight="bold" font-family="'Liberation Sans', Arial, sans-serif" >Off-resonance Grating1</text>
<circle cx="1521.2" cy="775.4" r="2.2" fill="#7c1428"/><circle cx="1533.9" cy="775.4" r="2.2" fill="#7c1428"/><circle cx="1546.7" cy="775.4" r="2.2" fill="#7c1428"/>
<text x="1554" y="779.9" font-size="13.3" fill="#1c1c1c" text-anchor="start" font-weight="bold" font-family="'Liberation Sans', Arial, sans-serif" >On-resonance Grating1</text>
<line x1="1429.7" y1="711.9" x2="1642.5" y2="711.9" stroke="#8a8a8a" stroke-width="1.2"/>
<rect x="1436.7" y="693.1" width="48.7" height="18.3" fill="#cf4b3d"/>
<rect x="1507.9" y="693.1" width="55.4" height="18.3" fill="#2e3fae"/>
<rect x="1588.6" y="693.1" width="48.7" height="18.3" fill="#cf4b3d"/>
<line x1="1510" y1="702.1" x2="1561" y2="702.1" stroke="#c8d0f0" stroke-width="0.9" stroke-dasharray="2,1.5"/>
<text x="1535.6" y="699.5" font-size="7" fill="#dde" text-anchor="middle" font-weight="normal" font-family="'Liberation Sans', Arial, sans-serif" >τ</text>
<text x="1461" y="706.3" font-size="9.6" fill="#fff" text-anchor="middle" font-weight="bold" font-family="'Liberation Sans', Arial, sans-serif" >Initialize</text>
<text x="1613" y="706.3" font-size="10" fill="#fff" text-anchor="middle" font-weight="bold" font-family="'Liberation Sans', Arial, sans-serif" >Readout</text>
<text x="1426.3" y="714.6" font-size="10.2" fill="#1c1c1c" text-anchor="end" font-weight="bold" font-family="'Liberation Sans', Arial, sans-serif" >Laser</text>
<text x="1535.8" y="723" font-size="9.8" fill="#1c1c1c" text-anchor="middle" font-weight="bold" font-family="'Liberation Sans', Arial, sans-serif" >MW</text>
<text x="1461" y="689.6" font-size="10.2" fill="#1c1c1c" text-anchor="middle" font-weight="bold" font-family="'Liberation Sans', Arial, sans-serif" >3 μs</text>
<text x="1614" y="689.6" font-size="10.2" fill="#1c1c1c" text-anchor="middle" font-weight="bold" font-family="'Liberation Sans', Arial, sans-serif" >0.55 μs</text>
<text transform="translate(1290.4,727) scale(1.08,1)" x="0" y="0" font-size="39" fill="#000" text-anchor="start" font-weight="normal" font-family="'Liberation Sans', Arial, sans-serif" >(j)</text>
</svg></body></html>
